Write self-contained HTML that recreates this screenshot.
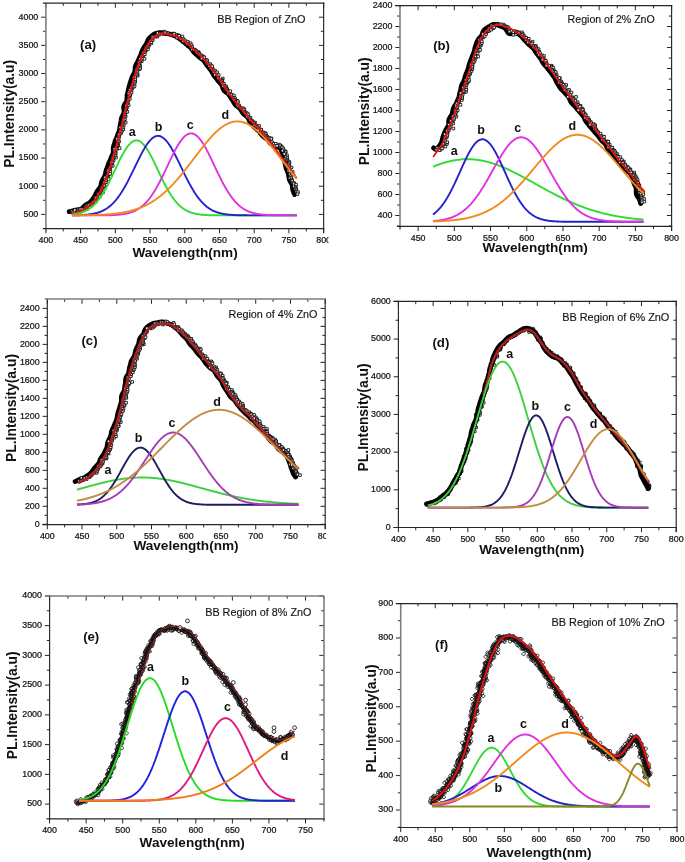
<!DOCTYPE html>
<html><head><meta charset="utf-8"><title>PL spectra</title>
<style>html,body{margin:0;padding:0;background:#fff;width:685px;height:862px;overflow:hidden}svg{display:block;will-change:transform;filter:blur(0.3px)}text{font-family:"Liberation Sans",sans-serif}</style>
</head><body>
<svg width="685" height="862" viewBox="0 0 685 862" font-family='"Liberation Sans", sans-serif'><rect width="685" height="862" fill="#fff"/><defs><clipPath id="ca"><rect x="0" y="0" width="328.5" height="290"/></clipPath><clipPath id="cc"><rect x="0" y="290" width="326.0" height="290"/></clipPath></defs><g clip-path="url(#ca)"><text x="45.90" y="243.25" font-size="8.90" font-weight="normal" text-anchor="middle" fill="#111" stroke="#111" stroke-width="0.22">400</text><text x="80.62" y="243.25" font-size="8.90" font-weight="normal" text-anchor="middle" fill="#111" stroke="#111" stroke-width="0.22">450</text><text x="115.34" y="243.25" font-size="8.90" font-weight="normal" text-anchor="middle" fill="#111" stroke="#111" stroke-width="0.22">500</text><text x="150.06" y="243.25" font-size="8.90" font-weight="normal" text-anchor="middle" fill="#111" stroke="#111" stroke-width="0.22">550</text><text x="184.78" y="243.25" font-size="8.90" font-weight="normal" text-anchor="middle" fill="#111" stroke="#111" stroke-width="0.22">600</text><text x="219.49" y="243.25" font-size="8.90" font-weight="normal" text-anchor="middle" fill="#111" stroke="#111" stroke-width="0.22">650</text><text x="254.21" y="243.25" font-size="8.90" font-weight="normal" text-anchor="middle" fill="#111" stroke="#111" stroke-width="0.22">700</text><text x="288.93" y="243.25" font-size="8.90" font-weight="normal" text-anchor="middle" fill="#111" stroke="#111" stroke-width="0.22">750</text><text x="323.65" y="243.25" font-size="8.90" font-weight="normal" text-anchor="middle" fill="#111" stroke="#111" stroke-width="0.22">800</text><text x="38.30" y="216.70" font-size="8.90" font-weight="normal" text-anchor="end" fill="#111" stroke="#111" stroke-width="0.22">500</text><text x="38.30" y="188.53" font-size="8.90" font-weight="normal" text-anchor="end" fill="#111" stroke="#111" stroke-width="0.22">1000</text><text x="38.30" y="160.36" font-size="8.90" font-weight="normal" text-anchor="end" fill="#111" stroke="#111" stroke-width="0.22">1500</text><text x="38.30" y="132.19" font-size="8.90" font-weight="normal" text-anchor="end" fill="#111" stroke="#111" stroke-width="0.22">2000</text><text x="38.30" y="104.01" font-size="8.90" font-weight="normal" text-anchor="end" fill="#111" stroke="#111" stroke-width="0.22">2500</text><text x="38.30" y="75.84" font-size="8.90" font-weight="normal" text-anchor="end" fill="#111" stroke="#111" stroke-width="0.22">3000</text><text x="38.30" y="47.67" font-size="8.90" font-weight="normal" text-anchor="end" fill="#111" stroke="#111" stroke-width="0.22">3500</text><text x="38.30" y="19.50" font-size="8.90" font-weight="normal" text-anchor="end" fill="#111" stroke="#111" stroke-width="0.22">4000</text><path d="M45.90 228.65 V233.35 M45.90 3.10 V7.80 M80.62 228.65 V233.35 M80.62 3.10 V7.80 M115.34 228.65 V233.35 M115.34 3.10 V7.80 M150.06 228.65 V233.35 M150.06 3.10 V7.80 M184.78 228.65 V233.35 M184.78 3.10 V7.80 M219.49 228.65 V233.35 M219.49 3.10 V7.80 M254.21 228.65 V233.35 M254.21 3.10 V7.80 M288.93 228.65 V233.35 M288.93 3.10 V7.80 M323.65 228.65 V233.35 M323.65 3.10 V7.80 M63.26 228.65 V231.45 M63.26 3.10 V5.90 M97.98 228.65 V231.45 M97.98 3.10 V5.90 M132.70 228.65 V231.45 M132.70 3.10 V5.90 M167.42 228.65 V231.45 M167.42 3.10 V5.90 M202.13 228.65 V231.45 M202.13 3.10 V5.90 M236.85 228.65 V231.45 M236.85 3.10 V5.90 M271.57 228.65 V231.45 M271.57 3.10 V5.90 M306.29 228.65 V231.45 M306.29 3.10 V5.90 M45.90 214.40 H41.20 M323.65 214.40 H318.95 M45.90 186.23 H41.20 M323.65 186.23 H318.95 M45.90 158.06 H41.20 M323.65 158.06 H318.95 M45.90 129.89 H41.20 M323.65 129.89 H318.95 M45.90 101.71 H41.20 M323.65 101.71 H318.95 M45.90 73.54 H41.20 M323.65 73.54 H318.95 M45.90 45.37 H41.20 M323.65 45.37 H318.95 M45.90 17.20 H41.20 M323.65 17.20 H318.95 M45.90 200.31 H43.10 M323.65 200.31 H320.85 M45.90 172.14 H43.10 M323.65 172.14 H320.85 M45.90 143.97 H43.10 M323.65 143.97 H320.85 M45.90 115.80 H43.10 M323.65 115.80 H320.85 M45.90 87.63 H43.10 M323.65 87.63 H320.85 M45.90 59.46 H43.10 M323.65 59.46 H320.85 M45.90 31.29 H43.10 M323.65 31.29 H320.85 M45.90 228.49 H43.10 M323.65 228.49 H320.85" stroke="#262626" stroke-width="1" fill="none"/><path d="M45.90 3.10 V232.15" stroke="#7c7c7c" stroke-width="1.55" fill="none"/><path d="M323.65 3.10 V232.45" stroke="#262626" stroke-width="1.15" fill="none" stroke-linecap="square"/><path d="M43.40 3.10 H323.65" stroke="#262626" stroke-width="1.15" fill="none" stroke-linecap="square"/><path d="M43.40 228.65 H323.65" stroke="#262626" stroke-width="1.15" fill="none" stroke-linecap="square"/></g><path d="M69.2 211.7L70.2 211.5L71.2 211.2L72.2 211.0L73.1 210.7L74.1 210.5L75.0 210.2L76.0 210.0L77.0 209.9L78.0 209.8L79.0 209.6L80.0 209.4L80.9 209.0L81.8 208.5L82.6 207.8L83.3 207.1L84.0 206.4L84.7 205.7L85.5 205.0L86.3 204.5L87.2 204.0L88.1 203.5L89.0 203.1L89.8 202.5L90.6 201.9L91.2 201.1L91.9 200.3L92.5 199.5L93.0 198.7L93.6 197.9L94.2 197.1L94.7 196.2L95.2 195.3L95.6 194.4L96.0 193.5L96.4 192.6L96.9 191.7L97.4 190.9L98.0 190.1L98.7 189.3L99.3 188.5L99.8 187.7L100.3 186.8L100.7 185.9L101.0 184.9L101.2 183.9L101.4 182.9L101.6 181.9L102.0 181.0L102.4 180.1L102.9 179.2L103.4 178.4L104.0 177.5L104.4 176.6L104.9 175.7L105.2 174.8L105.4 173.8L105.6 172.8L105.8 171.8L106.0 170.8L106.3 169.9L106.7 168.9L107.0 168.0L107.3 167.0L107.7 166.1L108.0 165.2L108.3 164.2L108.7 163.3L109.1 162.4L109.5 161.5L110.0 160.6L110.4 159.6L110.7 158.7L111.1 157.8L111.5 156.8L111.9 155.9L112.4 155.0L112.8 154.1L113.1 153.1L113.3 152.1L113.3 151.1L113.3 150.1L113.2 149.0L113.3 148.0L113.4 147.0L113.7 146.0L114.0 145.1L114.3 144.1L114.6 143.2L114.9 142.2L115.1 141.3L115.4 140.3L115.8 139.4L116.3 138.5L116.7 137.5L117.1 136.6L117.4 135.6L117.7 134.7L118.0 133.8L118.4 132.8L118.8 131.9L119.2 130.9L119.5 130.0L119.7 129.0L119.8 128.0L119.9 127.0L120.0 126.0L120.2 125.0L120.4 124.0L120.6 123.0L120.8 122.1L121.0 121.1L121.1 120.1L121.3 119.1L121.5 118.1L121.8 117.2L122.3 116.2L122.7 115.3L123.2 114.4L123.6 113.5L124.0 112.5L124.1 111.5L124.0 110.5L123.9 109.4L123.7 108.4L123.7 107.3L123.8 106.3L124.1 105.4L124.6 104.5L125.2 103.6L125.8 102.7L126.3 101.8L126.7 100.9L126.9 99.9L126.9 98.9L127.0 97.8L127.0 96.8L127.0 95.8L127.2 94.8L127.5 93.8L127.7 92.9L127.9 91.9L128.1 90.9L128.3 89.9L128.5 88.9L128.8 88.0L129.0 87.0L129.3 86.0L129.5 85.1L129.8 84.1L130.1 83.1L130.4 82.2L130.7 81.2L131.0 80.3L131.4 79.4L131.7 78.4L132.0 77.5L132.4 76.5L132.8 75.6L133.3 74.7L133.8 73.8L134.3 72.9L134.7 72.0L134.9 71.0L135.0 70.0L135.1 69.0L135.1 67.9L135.2 66.9L135.5 65.9L135.9 65.0L136.3 64.1L136.8 63.2L137.3 62.3L137.8 61.5L138.2 60.5L138.6 59.6L139.0 58.7L139.4 57.8L139.8 56.9L140.2 56.0L140.6 55.1L141.0 54.1L141.3 53.2L141.7 52.2L142.0 51.3L142.4 50.3L142.8 49.4L143.3 48.6L143.8 47.7L144.3 46.9L144.9 46.0L145.5 45.2L146.0 44.4L146.5 43.5L146.9 42.5L147.3 41.6L147.7 40.6L148.1 39.7L148.7 38.9L149.4 38.1L150.1 37.3L150.9 36.6L151.7 36.0L152.5 35.3L153.3 34.7L154.2 34.2L155.2 33.7L156.2 33.3L157.2 33.1L158.2 32.8L159.2 32.7L160.2 32.6L161.3 32.7L162.3 32.9L163.3 33.1L164.3 33.3L165.2 33.5L166.2 33.6L167.2 33.7L168.2 33.8L169.2 34.0L170.2 34.2L171.1 34.5L172.1 34.8L173.0 35.2L174.0 35.5L174.9 35.9L175.8 36.3L176.7 36.8L177.6 37.3L178.4 37.9L179.2 38.5L180.0 39.1L180.8 39.7L181.5 40.4L182.3 41.0L183.1 41.6L183.9 42.2L184.7 42.8L185.5 43.5L186.2 44.1L187.0 44.8L187.7 45.4L188.5 46.1L189.3 46.7L190.0 47.3L190.8 48.0L191.5 48.8L192.1 49.6L192.6 50.4L193.2 51.3L193.8 52.1L194.5 52.8L195.2 53.5L196.0 54.2L196.7 54.8L197.5 55.5L198.2 56.2L198.9 56.9L199.7 57.5L200.5 58.1L201.3 58.7L202.2 59.3L203.0 59.9L203.7 60.6L204.3 61.4L204.9 62.2L205.4 63.1L206.0 63.9L206.5 64.8L207.1 65.6L207.8 66.3L208.4 67.1L209.0 67.9L209.6 68.7L210.3 69.5L210.9 70.3L211.4 71.1L211.9 72.0L212.4 72.8L212.9 73.7L213.4 74.6L213.9 75.5L214.5 76.2L215.1 77.0L215.8 77.8L216.4 78.6L217.0 79.4L217.6 80.2L218.2 81.0L218.8 81.8L219.6 82.5L220.3 83.2L220.9 84.0L221.6 84.8L222.0 85.6L222.4 86.6L222.7 87.6L223.0 88.6L223.4 89.5L223.9 90.4L224.6 91.2L225.4 91.8L226.3 92.4L227.2 93.0L228.0 93.6L228.7 94.4L229.3 95.2L229.8 96.0L230.3 96.9L230.8 97.8L231.3 98.6L231.9 99.5L232.5 100.3L233.0 101.1L233.5 102.0L234.0 102.9L234.6 103.7L235.1 104.5L235.8 105.3L236.6 105.9L237.5 106.5L238.3 107.1L239.1 107.8L239.8 108.5L240.4 109.3L241.0 110.1L241.5 111.0L242.0 111.8L242.6 112.7L243.2 113.4L243.9 114.2L244.7 114.8L245.5 115.5L246.3 116.1L247.0 116.8L247.7 117.5L248.3 118.4L248.7 119.3L249.1 120.2L249.5 121.2L250.0 122.1L250.6 122.9L251.3 123.7L252.0 124.4L252.6 125.2L253.3 125.9L253.9 126.7L254.6 127.4L255.3 128.1L256.1 128.8L256.8 129.4L257.6 130.1L258.3 130.8L259.1 131.5L259.7 132.2L260.3 133.0L260.9 133.8L261.5 134.6L262.2 135.4L262.8 136.2L263.6 136.8L264.4 137.4L265.2 138.0L266.1 138.6L266.9 139.2L267.7 139.8L268.3 140.6L268.9 141.4L269.6 142.2L270.2 143.0L270.9 143.7L271.7 144.3L272.6 144.9L273.5 145.3L274.4 145.7L275.3 146.1L276.2 146.6L277.2 147.0L278.1 147.2L279.1 147.4L279.8 148.0L280.4 148.8L280.9 149.6L281.3 150.5L281.7 151.5L282.1 152.4L282.5 153.3L282.9 154.2L283.3 155.1L283.6 156.1L283.8 157.0L284.0 158.0L284.2 159.0L284.3 160.0L284.5 161.0L284.7 162.0L285.0 163.0L285.2 163.9L285.4 164.9L285.6 165.9L285.8 166.9L286.0 167.8L286.3 168.8L286.7 169.7L287.1 170.6L287.5 171.6L287.9 172.5L288.2 173.5L288.4 174.5L288.6 175.4L288.7 176.4L288.9 177.4L289.1 178.4L289.3 179.4L289.6 180.3L290.1 181.3L290.6 182.1L291.2 183.0L291.7 183.9L292.1 184.8L292.3 185.8L292.5 186.8L292.5 187.8L292.6 188.8L292.8 189.8L293.1 190.8L293.5 191.7L293.8 192.7L294.2 193.6L294.6 194.5" stroke="#000" stroke-width="4.80" fill="none" stroke-linejoin="round" stroke-linecap="round"/><g stroke="#000" stroke-width="0.80" fill="#fff"><path d="M70.6 211.1h2.6v2.6h-2.6z"/><path d="M70.5 209.9h2.6v2.6h-2.6z"/><path d="M71.7 210.8h2.6v2.6h-2.6z"/><path d="M72.9 210.2h2.6v2.6h-2.6z"/><path d="M73.5 208.7h2.6v2.6h-2.6z"/><path d="M76.0 211.1h2.6v2.6h-2.6z"/><path d="M76.3 210.1h2.6v2.6h-2.6z"/><path d="M76.9 208.3h2.6v2.6h-2.6z"/><path d="M78.0 209.1h2.6v2.6h-2.6z"/><path d="M78.9 208.5h2.6v2.6h-2.6z"/><path d="M79.1 207.7h2.6v2.6h-2.6z"/><path d="M81.0 207.7h2.6v2.6h-2.6z"/><path d="M82.9 208.6h2.6v2.6h-2.6z"/><path d="M83.5 206.3h2.6v2.6h-2.6z"/><path d="M85.5 207.8h2.6v2.6h-2.6z"/><path d="M84.2 205.2h2.6v2.6h-2.6z"/><path d="M85.2 205.8h2.6v2.6h-2.6z"/><path d="M86.3 205.2h2.6v2.6h-2.6z"/><path d="M86.1 203.9h2.6v2.6h-2.6z"/><path d="M87.4 203.8h2.6v2.6h-2.6z"/><path d="M90.3 204.1h2.6v2.6h-2.6z"/><path d="M89.4 202.6h2.6v2.6h-2.6z"/><path d="M91.2 202.2h2.6v2.6h-2.6z"/><path d="M91.4 201.4h2.6v2.6h-2.6z"/><path d="M91.9 200.5h2.6v2.6h-2.6z"/><path d="M93.6 199.6h2.6v2.6h-2.6z"/><path d="M94.9 200.0h2.6v2.6h-2.6z"/><path d="M94.4 198.0h2.6v2.6h-2.6z"/><path d="M93.8 196.4h2.6v2.6h-2.6z"/><path d="M94.4 196.3h2.6v2.6h-2.6z"/><path d="M96.5 196.6h2.6v2.6h-2.6z"/><path d="M97.0 195.5h2.6v2.6h-2.6z"/><path d="M98.6 195.0h2.6v2.6h-2.6z"/><path d="M96.5 192.5h2.6v2.6h-2.6z"/><path d="M97.8 192.2h2.6v2.6h-2.6z"/><path d="M98.3 192.0h2.6v2.6h-2.6z"/><path d="M100.1 190.8h2.6v2.6h-2.6z"/><path d="M101.7 191.1h2.6v2.6h-2.6z"/><path d="M100.0 189.2h2.6v2.6h-2.6z"/><path d="M99.6 187.8h2.6v2.6h-2.6z"/><path d="M100.7 186.8h2.6v2.6h-2.6z"/><path d="M100.7 186.2h2.6v2.6h-2.6z"/><path d="M103.7 186.2h2.6v2.6h-2.6z"/><path d="M103.4 184.8h2.6v2.6h-2.6z"/><path d="M102.8 184.2h2.6v2.6h-2.6z"/><path d="M105.3 183.2h2.6v2.6h-2.6z"/><path d="M102.5 180.9h2.6v2.6h-2.6z"/><path d="M104.0 181.0h2.6v2.6h-2.6z"/><path d="M104.5 180.8h2.6v2.6h-2.6z"/><path d="M105.0 178.9h2.6v2.6h-2.6z"/><path d="M103.6 177.5h2.6v2.6h-2.6z"/><path d="M107.3 177.7h2.6v2.6h-2.6z"/><path d="M103.9 176.0h2.6v2.6h-2.6z"/><path d="M106.6 175.0h2.6v2.6h-2.6z"/><path d="M105.8 174.5h2.6v2.6h-2.6z"/><path d="M106.9 173.7h2.6v2.6h-2.6z"/><path d="M107.9 172.9h2.6v2.6h-2.6z"/><path d="M108.9 172.5h2.6v2.6h-2.6z"/><path d="M106.4 170.2h2.6v2.6h-2.6z"/><path d="M109.1 169.6h2.6v2.6h-2.6z"/><path d="M106.9 169.0h2.6v2.6h-2.6z"/><path d="M108.3 167.9h2.6v2.6h-2.6z"/><path d="M108.6 166.9h2.6v2.6h-2.6z"/><path d="M108.7 165.9h2.6v2.6h-2.6z"/><path d="M110.0 165.1h2.6v2.6h-2.6z"/><path d="M111.4 164.3h2.6v2.6h-2.6z"/><path d="M110.3 162.7h2.6v2.6h-2.6z"/><path d="M110.6 162.0h2.6v2.6h-2.6z"/><path d="M109.9 160.9h2.6v2.6h-2.6z"/><path d="M111.3 160.7h2.6v2.6h-2.6z"/><path d="M112.3 159.0h2.6v2.6h-2.6z"/><path d="M110.7 158.4h2.6v2.6h-2.6z"/><path d="M111.7 157.5h2.6v2.6h-2.6z"/><path d="M111.3 156.1h2.6v2.6h-2.6z"/><path d="M114.7 156.2h2.6v2.6h-2.6z"/><path d="M112.9 154.9h2.6v2.6h-2.6z"/><path d="M114.2 154.0h2.6v2.6h-2.6z"/><path d="M112.7 153.0h2.6v2.6h-2.6z"/><path d="M114.5 151.8h2.6v2.6h-2.6z"/><path d="M114.0 150.8h2.6v2.6h-2.6z"/><path d="M113.1 149.4h2.6v2.6h-2.6z"/><path d="M115.3 148.3h2.6v2.6h-2.6z"/><path d="M113.1 147.4h2.6v2.6h-2.6z"/><path d="M115.3 146.8h2.6v2.6h-2.6z"/><path d="M118.3 146.9h2.6v2.6h-2.6z"/><path d="M115.8 144.9h2.6v2.6h-2.6z"/><path d="M116.8 143.9h2.6v2.6h-2.6z"/><path d="M116.5 143.5h2.6v2.6h-2.6z"/><path d="M116.0 142.5h2.6v2.6h-2.6z"/><path d="M116.5 141.1h2.6v2.6h-2.6z"/><path d="M117.8 140.1h2.6v2.6h-2.6z"/><path d="M116.5 139.6h2.6v2.6h-2.6z"/><path d="M115.7 138.3h2.6v2.6h-2.6z"/><path d="M115.8 137.3h2.6v2.6h-2.6z"/><path d="M117.6 136.5h2.6v2.6h-2.6z"/><path d="M118.0 134.9h2.6v2.6h-2.6z"/><path d="M117.2 133.8h2.6v2.6h-2.6z"/><path d="M117.7 133.0h2.6v2.6h-2.6z"/><path d="M119.5 132.1h2.6v2.6h-2.6z"/><path d="M120.0 131.2h2.6v2.6h-2.6z"/><path d="M119.0 129.9h2.6v2.6h-2.6z"/><path d="M120.6 129.5h2.6v2.6h-2.6z"/><path d="M121.6 128.2h2.6v2.6h-2.6z"/><path d="M122.0 127.7h2.6v2.6h-2.6z"/><path d="M119.0 126.2h2.6v2.6h-2.6z"/><path d="M121.5 126.1h2.6v2.6h-2.6z"/><path d="M120.9 124.5h2.6v2.6h-2.6z"/><path d="M122.5 123.8h2.6v2.6h-2.6z"/><path d="M121.1 123.0h2.6v2.6h-2.6z"/><path d="M121.5 121.4h2.6v2.6h-2.6z"/><path d="M124.4 121.2h2.6v2.6h-2.6z"/><path d="M122.7 119.7h2.6v2.6h-2.6z"/><path d="M121.7 118.7h2.6v2.6h-2.6z"/><path d="M123.2 118.5h2.6v2.6h-2.6z"/><path d="M123.6 117.6h2.6v2.6h-2.6z"/><path d="M122.8 115.7h2.6v2.6h-2.6z"/><path d="M124.4 115.1h2.6v2.6h-2.6z"/><path d="M123.2 114.0h2.6v2.6h-2.6z"/><path d="M123.8 113.0h2.6v2.6h-2.6z"/><path d="M123.3 111.5h2.6v2.6h-2.6z"/><path d="M124.6 111.0h2.6v2.6h-2.6z"/><path d="M126.0 110.4h2.6v2.6h-2.6z"/><path d="M124.5 108.8h2.6v2.6h-2.6z"/><path d="M124.9 107.4h2.6v2.6h-2.6z"/><path d="M124.3 107.4h2.6v2.6h-2.6z"/><path d="M125.7 106.0h2.6v2.6h-2.6z"/><path d="M125.1 105.2h2.6v2.6h-2.6z"/><path d="M124.9 104.2h2.6v2.6h-2.6z"/><path d="M127.3 103.8h2.6v2.6h-2.6z"/><path d="M125.9 102.2h2.6v2.6h-2.6z"/><path d="M126.2 101.2h2.6v2.6h-2.6z"/><path d="M126.6 100.8h2.6v2.6h-2.6z"/><path d="M126.9 99.3h2.6v2.6h-2.6z"/><path d="M127.4 97.8h2.6v2.6h-2.6z"/><path d="M128.5 97.6h2.6v2.6h-2.6z"/><path d="M127.5 95.7h2.6v2.6h-2.6z"/><path d="M127.5 95.3h2.6v2.6h-2.6z"/><path d="M128.8 94.1h2.6v2.6h-2.6z"/><path d="M128.9 93.4h2.6v2.6h-2.6z"/><path d="M127.2 92.3h2.6v2.6h-2.6z"/><path d="M130.1 91.3h2.6v2.6h-2.6z"/><path d="M128.0 90.2h2.6v2.6h-2.6z"/><path d="M130.3 89.2h2.6v2.6h-2.6z"/><path d="M128.7 88.4h2.6v2.6h-2.6z"/><path d="M130.5 87.4h2.6v2.6h-2.6z"/><path d="M129.9 86.5h2.6v2.6h-2.6z"/><path d="M131.7 85.5h2.6v2.6h-2.6z"/><path d="M132.7 85.4h2.6v2.6h-2.6z"/><path d="M133.3 84.6h2.6v2.6h-2.6z"/><path d="M131.9 82.8h2.6v2.6h-2.6z"/><path d="M132.0 82.2h2.6v2.6h-2.6z"/><path d="M133.4 81.6h2.6v2.6h-2.6z"/><path d="M133.9 80.2h2.6v2.6h-2.6z"/><path d="M133.8 79.3h2.6v2.6h-2.6z"/><path d="M133.5 77.7h2.6v2.6h-2.6z"/><path d="M134.0 77.7h2.6v2.6h-2.6z"/><path d="M132.4 75.9h2.6v2.6h-2.6z"/><path d="M133.9 75.7h2.6v2.6h-2.6z"/><path d="M136.5 74.3h2.6v2.6h-2.6z"/><path d="M135.8 73.6h2.6v2.6h-2.6z"/><path d="M135.2 72.5h2.6v2.6h-2.6z"/><path d="M136.2 71.4h2.6v2.6h-2.6z"/><path d="M134.6 69.9h2.6v2.6h-2.6z"/><path d="M135.6 70.1h2.6v2.6h-2.6z"/><path d="M135.2 68.2h2.6v2.6h-2.6z"/><path d="M138.3 67.9h2.6v2.6h-2.6z"/><path d="M136.5 66.6h2.6v2.6h-2.6z"/><path d="M138.9 66.6h2.6v2.6h-2.6z"/><path d="M138.9 64.7h2.6v2.6h-2.6z"/><path d="M138.1 63.7h2.6v2.6h-2.6z"/><path d="M137.7 62.5h2.6v2.6h-2.6z"/><path d="M138.5 61.2h2.6v2.6h-2.6z"/><path d="M137.7 61.0h2.6v2.6h-2.6z"/><path d="M140.5 59.9h2.6v2.6h-2.6z"/><path d="M139.4 58.9h2.6v2.6h-2.6z"/><path d="M138.6 57.7h2.6v2.6h-2.6z"/><path d="M140.7 57.2h2.6v2.6h-2.6z"/><path d="M143.2 57.5h2.6v2.6h-2.6z"/><path d="M140.0 54.9h2.6v2.6h-2.6z"/><path d="M141.2 54.2h2.6v2.6h-2.6z"/><path d="M142.1 54.1h2.6v2.6h-2.6z"/><path d="M143.5 52.9h2.6v2.6h-2.6z"/><path d="M141.7 51.3h2.6v2.6h-2.6z"/><path d="M142.6 50.9h2.6v2.6h-2.6z"/><path d="M144.0 50.3h2.6v2.6h-2.6z"/><path d="M144.8 48.8h2.6v2.6h-2.6z"/><path d="M144.2 48.1h2.6v2.6h-2.6z"/><path d="M146.6 48.0h2.6v2.6h-2.6z"/><path d="M144.4 46.7h2.6v2.6h-2.6z"/><path d="M146.7 45.5h2.6v2.6h-2.6z"/><path d="M146.1 45.1h2.6v2.6h-2.6z"/><path d="M147.7 44.2h2.6v2.6h-2.6z"/><path d="M147.0 43.0h2.6v2.6h-2.6z"/><path d="M147.9 42.3h2.6v2.6h-2.6z"/><path d="M149.8 42.2h2.6v2.6h-2.6z"/><path d="M148.6 40.3h2.6v2.6h-2.6z"/><path d="M150.1 40.9h2.6v2.6h-2.6z"/><path d="M150.8 38.9h2.6v2.6h-2.6z"/><path d="M151.5 38.5h2.6v2.6h-2.6z"/><path d="M150.9 37.2h2.6v2.6h-2.6z"/><path d="M151.2 35.6h2.6v2.6h-2.6z"/><path d="M153.1 35.3h2.6v2.6h-2.6z"/><path d="M154.6 35.2h2.6v2.6h-2.6z"/><path d="M155.9 35.3h2.6v2.6h-2.6z"/><path d="M156.4 34.3h2.6v2.6h-2.6z"/><path d="M155.9 33.6h2.6v2.6h-2.6z"/><path d="M156.3 31.7h2.6v2.6h-2.6z"/><path d="M158.3 33.1h2.6v2.6h-2.6z"/><path d="M158.5 32.3h2.6v2.6h-2.6z"/><path d="M160.3 32.0h2.6v2.6h-2.6z"/><path d="M160.9 32.0h2.6v2.6h-2.6z"/><path d="M162.8 30.3h2.6v2.6h-2.6z"/><path d="M162.1 32.2h2.6v2.6h-2.6z"/><path d="M163.3 31.6h2.6v2.6h-2.6z"/><path d="M164.1 31.1h2.6v2.6h-2.6z"/><path d="M166.2 32.2h2.6v2.6h-2.6z"/><path d="M166.0 32.8h2.6v2.6h-2.6z"/><path d="M166.8 32.2h2.6v2.6h-2.6z"/><path d="M169.6 33.3h2.6v2.6h-2.6z"/><path d="M170.2 33.2h2.6v2.6h-2.6z"/><path d="M169.8 33.7h2.6v2.6h-2.6z"/><path d="M172.3 32.2h2.6v2.6h-2.6z"/><path d="M172.4 32.8h2.6v2.6h-2.6z"/><path d="M173.0 32.5h2.6v2.6h-2.6z"/><path d="M175.6 33.5h2.6v2.6h-2.6z"/><path d="M176.2 34.8h2.6v2.6h-2.6z"/><path d="M177.4 34.0h2.6v2.6h-2.6z"/><path d="M175.6 36.3h2.6v2.6h-2.6z"/><path d="M177.9 34.5h2.6v2.6h-2.6z"/><path d="M179.3 36.9h2.6v2.6h-2.6z"/><path d="M181.1 35.2h2.6v2.6h-2.6z"/><path d="M179.2 37.5h2.6v2.6h-2.6z"/><path d="M181.8 38.6h2.6v2.6h-2.6z"/><path d="M182.1 37.9h2.6v2.6h-2.6z"/><path d="M181.9 40.0h2.6v2.6h-2.6z"/><path d="M183.7 39.1h2.6v2.6h-2.6z"/><path d="M184.8 41.4h2.6v2.6h-2.6z"/><path d="M186.5 40.4h2.6v2.6h-2.6z"/><path d="M187.2 42.1h2.6v2.6h-2.6z"/><path d="M186.0 42.6h2.6v2.6h-2.6z"/><path d="M189.3 41.9h2.6v2.6h-2.6z"/><path d="M188.9 44.1h2.6v2.6h-2.6z"/><path d="M189.0 44.5h2.6v2.6h-2.6z"/><path d="M190.3 43.9h2.6v2.6h-2.6z"/><path d="M189.8 45.9h2.6v2.6h-2.6z"/><path d="M190.9 45.6h2.6v2.6h-2.6z"/><path d="M190.9 48.2h2.6v2.6h-2.6z"/><path d="M193.5 48.3h2.6v2.6h-2.6z"/><path d="M192.5 48.3h2.6v2.6h-2.6z"/><path d="M194.5 49.2h2.6v2.6h-2.6z"/><path d="M195.2 50.0h2.6v2.6h-2.6z"/><path d="M195.7 51.4h2.6v2.6h-2.6z"/><path d="M197.3 50.8h2.6v2.6h-2.6z"/><path d="M197.5 51.5h2.6v2.6h-2.6z"/><path d="M197.2 52.2h2.6v2.6h-2.6z"/><path d="M198.1 53.2h2.6v2.6h-2.6z"/><path d="M199.4 54.0h2.6v2.6h-2.6z"/><path d="M200.2 54.1h2.6v2.6h-2.6z"/><path d="M201.6 55.2h2.6v2.6h-2.6z"/><path d="M202.1 55.6h2.6v2.6h-2.6z"/><path d="M200.3 57.2h2.6v2.6h-2.6z"/><path d="M203.0 56.1h2.6v2.6h-2.6z"/><path d="M203.8 58.7h2.6v2.6h-2.6z"/><path d="M205.2 58.7h2.6v2.6h-2.6z"/><path d="M206.0 59.2h2.6v2.6h-2.6z"/><path d="M204.7 61.4h2.6v2.6h-2.6z"/><path d="M205.2 60.9h2.6v2.6h-2.6z"/><path d="M205.7 62.5h2.6v2.6h-2.6z"/><path d="M206.5 62.3h2.6v2.6h-2.6z"/><path d="M208.9 62.8h2.6v2.6h-2.6z"/><path d="M209.6 64.1h2.6v2.6h-2.6z"/><path d="M207.9 64.9h2.6v2.6h-2.6z"/><path d="M210.9 64.9h2.6v2.6h-2.6z"/><path d="M209.3 67.1h2.6v2.6h-2.6z"/><path d="M211.2 67.5h2.6v2.6h-2.6z"/><path d="M211.1 68.4h2.6v2.6h-2.6z"/><path d="M213.7 69.1h2.6v2.6h-2.6z"/><path d="M212.2 69.8h2.6v2.6h-2.6z"/><path d="M212.5 70.9h2.6v2.6h-2.6z"/><path d="M214.5 71.3h2.6v2.6h-2.6z"/><path d="M215.8 71.0h2.6v2.6h-2.6z"/><path d="M213.5 73.5h2.6v2.6h-2.6z"/><path d="M215.9 73.2h2.6v2.6h-2.6z"/><path d="M217.4 73.8h2.6v2.6h-2.6z"/><path d="M216.9 76.0h2.6v2.6h-2.6z"/><path d="M216.4 76.5h2.6v2.6h-2.6z"/><path d="M217.0 77.1h2.6v2.6h-2.6z"/><path d="M221.5 77.2h2.6v2.6h-2.6z"/><path d="M220.7 78.4h2.6v2.6h-2.6z"/><path d="M220.9 79.6h2.6v2.6h-2.6z"/><path d="M221.0 80.2h2.6v2.6h-2.6z"/><path d="M221.2 81.3h2.6v2.6h-2.6z"/><path d="M220.8 82.0h2.6v2.6h-2.6z"/><path d="M222.6 82.5h2.6v2.6h-2.6z"/><path d="M222.9 84.3h2.6v2.6h-2.6z"/><path d="M221.8 84.8h2.6v2.6h-2.6z"/><path d="M224.7 85.0h2.6v2.6h-2.6z"/><path d="M224.8 86.1h2.6v2.6h-2.6z"/><path d="M225.2 86.8h2.6v2.6h-2.6z"/><path d="M225.8 87.7h2.6v2.6h-2.6z"/><path d="M225.6 88.3h2.6v2.6h-2.6z"/><path d="M226.4 89.3h2.6v2.6h-2.6z"/><path d="M227.1 90.0h2.6v2.6h-2.6z"/><path d="M228.9 89.9h2.6v2.6h-2.6z"/><path d="M227.0 92.2h2.6v2.6h-2.6z"/><path d="M228.6 92.6h2.6v2.6h-2.6z"/><path d="M230.4 93.6h2.6v2.6h-2.6z"/><path d="M230.5 93.7h2.6v2.6h-2.6z"/><path d="M232.6 94.2h2.6v2.6h-2.6z"/><path d="M232.3 96.4h2.6v2.6h-2.6z"/><path d="M231.5 97.1h2.6v2.6h-2.6z"/><path d="M233.8 97.0h2.6v2.6h-2.6z"/><path d="M233.7 98.9h2.6v2.6h-2.6z"/><path d="M233.1 98.7h2.6v2.6h-2.6z"/><path d="M235.5 99.6h2.6v2.6h-2.6z"/><path d="M236.3 100.0h2.6v2.6h-2.6z"/><path d="M236.5 100.0h2.6v2.6h-2.6z"/><path d="M236.4 102.0h2.6v2.6h-2.6z"/><path d="M235.8 103.7h2.6v2.6h-2.6z"/><path d="M238.0 104.2h2.6v2.6h-2.6z"/><path d="M236.8 105.0h2.6v2.6h-2.6z"/><path d="M238.3 105.9h2.6v2.6h-2.6z"/><path d="M239.2 106.9h2.6v2.6h-2.6z"/><path d="M239.8 106.9h2.6v2.6h-2.6z"/><path d="M242.0 107.0h2.6v2.6h-2.6z"/><path d="M243.1 108.1h2.6v2.6h-2.6z"/><path d="M242.6 108.2h2.6v2.6h-2.6z"/><path d="M242.5 110.1h2.6v2.6h-2.6z"/><path d="M243.5 111.3h2.6v2.6h-2.6z"/><path d="M244.7 111.2h2.6v2.6h-2.6z"/><path d="M243.6 111.8h2.6v2.6h-2.6z"/><path d="M245.6 112.9h2.6v2.6h-2.6z"/><path d="M246.4 112.3h2.6v2.6h-2.6z"/><path d="M247.1 113.9h2.6v2.6h-2.6z"/><path d="M245.8 115.6h2.6v2.6h-2.6z"/><path d="M247.3 116.1h2.6v2.6h-2.6z"/><path d="M249.2 116.4h2.6v2.6h-2.6z"/><path d="M248.5 117.8h2.6v2.6h-2.6z"/><path d="M248.8 118.5h2.6v2.6h-2.6z"/><path d="M251.0 119.7h2.6v2.6h-2.6z"/><path d="M250.3 119.7h2.6v2.6h-2.6z"/><path d="M251.6 120.7h2.6v2.6h-2.6z"/><path d="M253.8 121.3h2.6v2.6h-2.6z"/><path d="M252.9 122.1h2.6v2.6h-2.6z"/><path d="M252.8 123.3h2.6v2.6h-2.6z"/><path d="M253.1 124.1h2.6v2.6h-2.6z"/><path d="M255.4 124.7h2.6v2.6h-2.6z"/><path d="M255.0 125.2h2.6v2.6h-2.6z"/><path d="M258.0 124.7h2.6v2.6h-2.6z"/><path d="M256.7 126.3h2.6v2.6h-2.6z"/><path d="M257.4 128.5h2.6v2.6h-2.6z"/><path d="M257.0 128.6h2.6v2.6h-2.6z"/><path d="M259.9 128.6h2.6v2.6h-2.6z"/><path d="M259.9 128.3h2.6v2.6h-2.6z"/><path d="M260.2 130.3h2.6v2.6h-2.6z"/><path d="M261.7 131.3h2.6v2.6h-2.6z"/><path d="M262.3 131.3h2.6v2.6h-2.6z"/><path d="M263.9 131.8h2.6v2.6h-2.6z"/><path d="M264.6 132.6h2.6v2.6h-2.6z"/><path d="M264.2 134.0h2.6v2.6h-2.6z"/><path d="M265.4 134.8h2.6v2.6h-2.6z"/><path d="M265.7 135.4h2.6v2.6h-2.6z"/><path d="M265.2 136.6h2.6v2.6h-2.6z"/><path d="M267.5 136.4h2.6v2.6h-2.6z"/><path d="M268.3 136.9h2.6v2.6h-2.6z"/><path d="M270.1 137.1h2.6v2.6h-2.6z"/><path d="M270.0 137.7h2.6v2.6h-2.6z"/><path d="M268.6 139.9h2.6v2.6h-2.6z"/><path d="M268.4 140.8h2.6v2.6h-2.6z"/><path d="M269.6 141.9h2.6v2.6h-2.6z"/><path d="M270.8 140.9h2.6v2.6h-2.6z"/><path d="M272.8 142.6h2.6v2.6h-2.6z"/><path d="M272.6 142.5h2.6v2.6h-2.6z"/><path d="M274.5 142.5h2.6v2.6h-2.6z"/><path d="M273.8 144.8h2.6v2.6h-2.6z"/><path d="M277.7 143.3h2.6v2.6h-2.6z"/><path d="M275.8 144.6h2.6v2.6h-2.6z"/><path d="M278.5 145.7h2.6v2.6h-2.6z"/><path d="M279.4 144.4h2.6v2.6h-2.6z"/><path d="M279.0 144.2h2.6v2.6h-2.6z"/><path d="M280.2 145.9h2.6v2.6h-2.6z"/><path d="M280.7 146.0h2.6v2.6h-2.6z"/><path d="M281.9 147.1h2.6v2.6h-2.6z"/><path d="M282.5 148.9h2.6v2.6h-2.6z"/><path d="M281.2 149.4h2.6v2.6h-2.6z"/><path d="M284.0 150.1h2.6v2.6h-2.6z"/><path d="M284.5 150.5h2.6v2.6h-2.6z"/><path d="M284.0 151.9h2.6v2.6h-2.6z"/><path d="M283.0 152.7h2.6v2.6h-2.6z"/><path d="M285.8 154.2h2.6v2.6h-2.6z"/><path d="M284.1 155.4h2.6v2.6h-2.6z"/><path d="M284.5 155.8h2.6v2.6h-2.6z"/><path d="M285.9 156.9h2.6v2.6h-2.6z"/><path d="M284.2 157.8h2.6v2.6h-2.6z"/><path d="M285.6 158.7h2.6v2.6h-2.6z"/><path d="M286.4 159.6h2.6v2.6h-2.6z"/><path d="M287.5 160.3h2.6v2.6h-2.6z"/><path d="M288.1 161.1h2.6v2.6h-2.6z"/><path d="M288.0 162.1h2.6v2.6h-2.6z"/><path d="M287.1 163.2h2.6v2.6h-2.6z"/><path d="M286.8 165.0h2.6v2.6h-2.6z"/><path d="M288.0 165.2h2.6v2.6h-2.6z"/><path d="M290.2 166.2h2.6v2.6h-2.6z"/><path d="M288.4 167.1h2.6v2.6h-2.6z"/><path d="M288.3 168.8h2.6v2.6h-2.6z"/><path d="M287.0 169.5h2.6v2.6h-2.6z"/><path d="M288.2 170.3h2.6v2.6h-2.6z"/><path d="M291.4 170.7h2.6v2.6h-2.6z"/><path d="M289.9 172.6h2.6v2.6h-2.6z"/><path d="M288.4 173.0h2.6v2.6h-2.6z"/><path d="M290.2 173.8h2.6v2.6h-2.6z"/><path d="M289.2 175.0h2.6v2.6h-2.6z"/><path d="M288.4 176.9h2.6v2.6h-2.6z"/><path d="M290.1 176.9h2.6v2.6h-2.6z"/><path d="M290.3 178.3h2.6v2.6h-2.6z"/><path d="M290.7 179.1h2.6v2.6h-2.6z"/><path d="M290.9 179.6h2.6v2.6h-2.6z"/><path d="M291.3 181.3h2.6v2.6h-2.6z"/><path d="M292.8 181.8h2.6v2.6h-2.6z"/><path d="M292.5 182.7h2.6v2.6h-2.6z"/><path d="M294.8 183.4h2.6v2.6h-2.6z"/><path d="M292.6 185.2h2.6v2.6h-2.6z"/><path d="M294.5 185.9h2.6v2.6h-2.6z"/><path d="M294.2 186.9h2.6v2.6h-2.6z"/><path d="M293.9 187.8h2.6v2.6h-2.6z"/><path d="M295.0 188.3h2.6v2.6h-2.6z"/><path d="M295.0 189.9h2.6v2.6h-2.6z"/><path d="M295.2 190.3h2.6v2.6h-2.6z"/><path d="M296.7 190.9h2.6v2.6h-2.6z"/><path d="M296.1 192.8h2.6v2.6h-2.6z"/></g><path d="M72.0 213.4L72.4 213.3L72.9 213.2L73.6 213.1L74.3 212.9L75.0 212.8L75.8 212.6L76.6 212.4L77.4 212.2L78.2 212.0L78.9 211.7L79.6 211.4L80.3 211.2L81.0 210.9L81.7 210.5L82.4 210.2L83.1 209.9L83.8 209.5L84.5 209.1L85.2 208.7L85.9 208.2L86.6 207.7L87.3 207.2L88.0 206.7L88.8 206.2L89.5 205.6L90.2 205.0L90.9 204.4L91.6 203.7L92.2 203.1L92.9 202.4L93.5 201.7L94.2 200.9L94.8 200.2L95.4 199.4L96.0 198.6L96.5 197.7L97.1 196.9L97.6 196.0L98.2 195.2L98.7 194.3L99.2 193.4L99.7 192.6L100.2 191.7L100.6 190.8L101.1 189.9L101.5 188.9L102.0 188.0L102.4 187.0L102.8 186.0L103.3 185.0L103.8 183.9L104.2 182.9L104.7 181.8L105.1 180.6L105.6 179.5L106.1 178.3L106.5 177.1L107.0 175.9L107.4 174.7L107.9 173.4L108.4 172.1L108.9 170.7L109.3 169.4L109.8 168.0L110.3 166.5L110.8 165.1L111.3 163.7L111.7 162.2L112.2 160.9L112.6 159.5L113.0 158.2L113.4 156.9L113.7 155.6L114.1 154.3L114.4 153.0L114.8 151.8L115.1 150.5L115.4 149.2L115.8 148.0L116.1 146.7L116.4 145.4L116.8 144.1L117.1 142.8L117.5 141.5L117.8 140.2L118.2 138.9L118.5 137.6L118.8 136.4L119.2 135.1L119.5 133.9L119.8 132.7L120.1 131.6L120.4 130.5L120.7 129.4L121.0 128.3L121.3 127.2L121.6 126.1L121.9 124.9L122.2 123.7L122.5 122.5L122.8 121.2L123.1 119.9L123.5 118.6L123.8 117.2L124.1 115.8L124.4 114.4L124.8 113.0L125.1 111.5L125.5 110.0L125.9 108.5L126.3 106.9L126.7 105.3L127.1 103.6L127.6 101.8L128.0 100.1L128.5 98.3L129.0 96.6L129.4 94.8L129.9 93.1L130.3 91.5L130.7 89.9L131.2 88.3L131.6 86.7L132.0 85.1L132.5 83.6L132.9 82.0L133.3 80.5L133.7 79.0L134.2 77.5L134.6 76.1L135.0 74.7L135.5 73.3L135.9 71.9L136.4 70.6L136.8 69.2L137.2 67.9L137.7 66.7L138.1 65.4L138.6 64.2L139.0 63.0L139.4 61.8L139.9 60.7L140.3 59.6L140.8 58.6L141.2 57.5L141.6 56.5L142.1 55.5L142.5 54.6L143.0 53.6L143.4 52.7L143.8 51.8L144.3 50.9L144.7 50.1L145.2 49.2L145.6 48.4L146.0 47.6L146.5 46.9L146.9 46.1L147.4 45.4L147.8 44.7L148.2 44.0L148.7 43.4L149.1 42.7L149.5 42.1L149.9 41.6L150.3 41.0L150.8 40.4L151.2 39.9L151.7 39.4L152.2 38.9L152.7 38.4L153.2 37.9L153.8 37.5L154.3 37.0L154.9 36.6L155.5 36.2L156.1 35.8L156.7 35.5L157.4 35.2L158.0 34.9L158.7 34.7L159.4 34.5L160.1 34.3L160.8 34.1L161.6 34.0L162.3 33.9L163.1 33.9L163.8 33.8L164.6 33.8L165.3 33.8L166.0 33.8L166.8 33.9L167.5 34.0L168.2 34.1L169.0 34.2L169.7 34.4L170.4 34.6L171.1 34.8L171.9 35.0L172.6 35.2L173.3 35.4L174.1 35.7L174.9 36.0L175.6 36.2L176.4 36.5L177.1 36.8L177.9 37.2L178.6 37.5L179.3 37.8L179.9 38.1L180.5 38.4L181.0 38.6L181.4 38.8L181.8 39.1L182.3 39.3L182.7 39.6L183.1 39.9L183.7 40.3L184.3 40.7L185.0 41.3L185.8 42.0L186.7 42.8L187.7 43.6L188.8 44.6L189.9 45.5L191.0 46.6L192.1 47.6L193.2 48.7L194.3 49.7L195.4 50.7L196.4 51.7L197.5 52.7L198.5 53.6L199.6 54.6L200.7 55.6L201.7 56.7L202.8 57.7L203.8 58.8L204.9 59.9L205.9 61.1L206.9 62.3L208.0 63.6L209.0 64.9L210.1 66.2L211.1 67.6L212.1 69.0L213.2 70.4L214.2 71.8L215.3 73.2L216.3 74.7L217.3 76.2L218.4 77.7L219.4 79.3L220.5 80.9L221.6 82.5L222.6 84.2L223.7 85.8L224.7 87.4L225.8 88.9L226.8 90.4L227.8 91.9L228.9 93.3L229.9 94.7L231.0 96.0L232.0 97.4L233.0 98.7L234.1 100.1L235.1 101.4L236.2 102.7L237.2 104.0L238.3 105.3L239.4 106.7L240.5 108.0L241.6 109.4L242.8 110.7L243.9 112.0L244.9 113.2L245.9 114.4L246.9 115.5L247.7 116.5L248.4 117.4L249.0 118.1L249.5 118.7L249.9 119.3L250.3 119.8L250.7 120.3L251.1 120.8L251.6 121.4L252.2 122.0L252.9 122.8L253.7 123.7L254.6 124.6L255.6 125.6L256.6 126.6L257.6 127.6L258.7 128.7L259.8 129.9L261.0 131.1L262.1 132.3L263.2 133.6L264.3 134.9L265.5 136.4L266.7 137.8L267.8 139.4L269.0 140.9L270.3 142.5L271.5 144.1L272.7 145.7L273.9 147.3L275.1 148.9L276.3 150.5L277.5 152.1L278.7 153.8L280.0 155.4L281.2 157.1L282.4 158.7L283.6 160.4L284.8 162.0L285.9 163.5L287.0 165.0L288.1 166.5L289.2 168.0L290.3 169.6L291.4 171.1L292.5 172.6L293.5 173.9L294.4 175.2L295.2 176.4L295.9 177.3L296.5 178.1" stroke="#e31414" stroke-width="2.10" fill="none" stroke-linejoin="round"/><path d="M71.9 214.6L72.4 214.5L72.9 214.5L73.4 214.4L73.9 214.3L74.4 214.3L74.9 214.2L75.4 214.1L75.9 214.0L76.4 213.9L76.9 213.8L77.4 213.7L77.9 213.6L78.4 213.5L78.9 213.4L79.4 213.2L79.9 213.1L80.4 213.0L80.9 212.8L81.4 212.6L81.9 212.5L82.4 212.3L82.9 212.1L83.4 211.9L83.9 211.7L84.4 211.5L84.9 211.3L85.4 211.0L85.9 210.8L86.4 210.5L86.9 210.2L87.4 209.9L87.9 209.6L88.4 209.3L88.9 209.0L89.4 208.7L89.9 208.3L90.4 208.0L90.9 207.6L91.4 207.2L91.9 206.8L92.4 206.3L92.9 205.9L93.4 205.4L93.9 205.0L94.4 204.5L94.9 204.0L95.4 203.4L95.9 202.9L96.4 202.3L96.9 201.7L97.4 201.1L97.9 200.5L98.4 199.9L98.9 199.2L99.4 198.6L99.9 197.9L100.4 197.2L100.9 196.5L101.4 195.7L101.9 195.0L102.4 194.2L102.9 193.4L103.4 192.6L103.9 191.7L104.4 190.9L104.9 190.0L105.4 189.1L105.9 188.2L106.4 187.3L106.9 186.4L107.4 185.5L107.9 184.5L108.4 183.5L108.9 182.6L109.4 181.6L109.9 180.6L110.4 179.5L110.9 178.5L111.4 177.5L111.9 176.5L112.4 175.4L112.9 174.4L113.4 173.3L113.9 172.2L114.4 171.2L114.9 170.1L115.4 169.1L115.9 168.0L116.4 166.9L116.9 165.9L117.4 164.8L117.9 163.8L118.4 162.7L118.9 161.7L119.4 160.7L119.9 159.7L120.4 158.7L120.9 157.7L121.4 156.7L121.9 155.8L122.4 154.8L122.9 153.9L123.4 153.0L123.9 152.2L124.4 151.3L124.9 150.5L125.4 149.7L125.9 148.9L126.4 148.2L126.9 147.4L127.4 146.7L127.9 146.1L128.4 145.5L128.9 144.9L129.4 144.3L129.9 143.8L130.4 143.3L130.9 142.8L131.4 142.4L131.9 142.0L132.4 141.7L132.9 141.4L133.4 141.1L133.9 140.9L134.4 140.7L134.9 140.6L135.4 140.5L135.9 140.4L136.4 140.4L136.9 140.4L137.4 140.5L137.9 140.6L138.4 140.7L138.9 140.9L139.4 141.1L139.9 141.4L140.4 141.7L140.9 142.0L141.4 142.4L141.9 142.8L142.4 143.3L142.9 143.8L143.4 144.3L143.9 144.9L144.4 145.5L144.9 146.1L145.4 146.7L145.9 147.4L146.4 148.2L146.9 148.9L147.4 149.7L147.9 150.5L148.4 151.3L148.9 152.2L149.4 153.0L149.9 153.9L150.4 154.8L150.9 155.8L151.4 156.7L151.9 157.7L152.4 158.7L152.9 159.7L153.4 160.7L153.9 161.7L154.4 162.7L154.9 163.8L155.4 164.8L155.9 165.9L156.4 166.9L156.9 168.0L157.4 169.1L157.9 170.1L158.4 171.2L158.9 172.2L159.4 173.3L159.9 174.4L160.4 175.4L160.9 176.5L161.4 177.5L161.9 178.5L162.4 179.5L162.9 180.6L163.4 181.6L163.9 182.6L164.4 183.5L164.9 184.5L165.4 185.5L165.9 186.4L166.4 187.3L166.9 188.2L167.4 189.1L167.9 190.0L168.4 190.9L168.9 191.7L169.4 192.6L169.9 193.4L170.4 194.2L170.9 195.0L171.4 195.7L171.9 196.5L172.4 197.2L172.9 197.9L173.4 198.6L173.9 199.2L174.4 199.9L174.9 200.5L175.4 201.1L175.9 201.7L176.4 202.3L176.9 202.9L177.4 203.4L177.9 204.0L178.4 204.5L178.9 205.0L179.4 205.4L179.9 205.9L180.4 206.3L180.9 206.8L181.4 207.2L181.9 207.6L182.4 208.0L182.9 208.3L183.4 208.7L183.9 209.0L184.4 209.3L184.9 209.6L185.4 209.9L185.9 210.2L186.4 210.5L186.9 210.8L187.4 211.0L187.9 211.3L188.4 211.5L188.9 211.7L189.4 211.9L189.9 212.1L190.4 212.3L190.9 212.5L191.4 212.6L191.9 212.8L192.4 213.0L192.9 213.1L193.4 213.2L193.9 213.4L194.4 213.5L194.9 213.6L195.4 213.7L195.9 213.8L196.4 213.9L196.9 214.0L197.4 214.1L197.9 214.2L198.4 214.3L198.9 214.3L199.4 214.4L199.9 214.5L200.4 214.5L200.9 214.6L201.4 214.7L201.9 214.7L202.4 214.8L202.9 214.8L203.4 214.8L203.9 214.9L204.4 214.9L204.9 215.0L205.4 215.0L205.9 215.0L206.4 215.0L206.9 215.1L207.4 215.1L207.9 215.1L208.4 215.1L208.9 215.2L209.4 215.2L209.9 215.2L210.4 215.2L210.9 215.2L211.4 215.2L211.9 215.3L212.4 215.3L212.9 215.3L213.4 215.3L213.9 215.3L214.4 215.3L214.9 215.3L215.4 215.3L215.9 215.3L216.4 215.3L216.9 215.3L217.4 215.3L217.9 215.3L218.4 215.4L218.9 215.4L219.4 215.4L219.9 215.4L220.4 215.4L220.9 215.4L221.4 215.4L221.9 215.4L222.4 215.4L222.9 215.4L223.4 215.4L223.9 215.4L224.4 215.4L224.9 215.4L225.4 215.4L225.9 215.4L226.4 215.4L226.9 215.4L227.4 215.4L227.9 215.4L228.4 215.4L228.9 215.4L229.4 215.4L229.9 215.4L230.4 215.4L230.9 215.4L231.4 215.4L231.9 215.4L232.4 215.4L232.9 215.4L233.4 215.4L233.9 215.4L234.4 215.4L234.9 215.4L235.4 215.4L235.9 215.4L236.4 215.4L236.9 215.4L237.4 215.4L237.9 215.4L238.4 215.4L238.9 215.4L239.4 215.4L239.9 215.4L240.4 215.4L240.9 215.4L241.4 215.4L241.9 215.4L242.4 215.4L242.9 215.4L243.4 215.4L243.9 215.4L244.4 215.4L244.9 215.4L245.4 215.4L245.9 215.4L246.4 215.4L246.9 215.4L247.4 215.4L247.9 215.4L248.4 215.4L248.9 215.4L249.4 215.4L249.9 215.4L250.4 215.4L250.9 215.4L251.4 215.4L251.9 215.4L252.4 215.4L252.9 215.4L253.4 215.4L253.9 215.4L254.4 215.4L254.9 215.4L255.4 215.4L255.9 215.4L256.4 215.4L256.9 215.4L257.4 215.4L257.9 215.4L258.4 215.4L258.9 215.4L259.4 215.4L259.9 215.4L260.4 215.4L260.9 215.4L261.4 215.4L261.9 215.4L262.4 215.4L262.9 215.4L263.4 215.4L263.9 215.4L264.4 215.4L264.9 215.4L265.4 215.4L265.9 215.4L266.4 215.4L266.9 215.4L267.4 215.4L267.9 215.4L268.4 215.4L268.9 215.4L269.4 215.4L269.9 215.4L270.4 215.4L270.9 215.4L271.4 215.4L271.9 215.4L272.4 215.4L272.9 215.4L273.4 215.4L273.9 215.4L274.4 215.4L274.9 215.4L275.4 215.4L275.9 215.4L276.4 215.4L276.9 215.4L277.4 215.4L277.9 215.4L278.4 215.4L278.9 215.4L279.4 215.4L279.9 215.4L280.4 215.4L280.9 215.4L281.4 215.4L281.9 215.4L282.4 215.4L282.9 215.4L283.4 215.4L283.9 215.4L284.4 215.4L284.9 215.4L285.4 215.4L285.9 215.4L286.4 215.4L286.9 215.4L287.4 215.4L287.9 215.4L288.4 215.4L288.9 215.4L289.4 215.4L289.9 215.4L290.4 215.4L290.9 215.4L291.4 215.4L291.9 215.4L292.4 215.4L292.9 215.4L293.4 215.4L293.9 215.4L294.4 215.4L294.9 215.4L295.4 215.4L295.9 215.4L296.4 215.4L296.9 215.4" stroke="#2fdc2f" stroke-width="1.90" fill="none" stroke-linejoin="round"/><path d="M71.9 215.3L72.4 215.3L72.9 215.3L73.4 215.3L73.9 215.3L74.4 215.3L74.9 215.3L75.4 215.3L75.9 215.2L76.4 215.2L76.9 215.2L77.4 215.2L77.9 215.2L78.4 215.2L78.9 215.2L79.4 215.1L79.9 215.1L80.4 215.1L80.9 215.1L81.4 215.1L81.9 215.0L82.4 215.0L82.9 215.0L83.4 214.9L83.9 214.9L84.4 214.9L84.9 214.8L85.4 214.8L85.9 214.8L86.4 214.7L86.9 214.7L87.4 214.6L87.9 214.6L88.4 214.5L88.9 214.5L89.4 214.4L89.9 214.3L90.4 214.3L90.9 214.2L91.4 214.1L91.9 214.0L92.4 213.9L92.9 213.8L93.4 213.8L93.9 213.7L94.4 213.5L94.9 213.4L95.4 213.3L95.9 213.2L96.4 213.1L96.9 212.9L97.4 212.8L97.9 212.6L98.4 212.5L98.9 212.3L99.4 212.1L99.9 211.9L100.4 211.8L100.9 211.6L101.4 211.3L101.9 211.1L102.4 210.9L102.9 210.7L103.4 210.4L103.9 210.2L104.4 209.9L104.9 209.6L105.4 209.3L105.9 209.0L106.4 208.7L106.9 208.4L107.4 208.0L107.9 207.7L108.4 207.3L108.9 206.9L109.4 206.5L109.9 206.1L110.4 205.7L110.9 205.3L111.4 204.8L111.9 204.4L112.4 203.9L112.9 203.4L113.4 202.9L113.9 202.3L114.4 201.8L114.9 201.2L115.4 200.7L115.9 200.1L116.4 199.5L116.9 198.8L117.4 198.2L117.9 197.6L118.4 196.9L118.9 196.2L119.4 195.5L119.9 194.8L120.4 194.0L120.9 193.3L121.4 192.5L121.9 191.7L122.4 190.9L122.9 190.1L123.4 189.3L123.9 188.4L124.4 187.5L124.9 186.7L125.4 185.8L125.9 184.9L126.4 184.0L126.9 183.0L127.4 182.1L127.9 181.1L128.4 180.2L128.9 179.2L129.4 178.2L129.9 177.2L130.4 176.2L130.9 175.2L131.4 174.2L131.9 173.2L132.4 172.2L132.9 171.1L133.4 170.1L133.9 169.1L134.4 168.0L134.9 167.0L135.4 165.9L135.9 164.9L136.4 163.9L136.9 162.8L137.4 161.8L137.9 160.8L138.4 159.8L138.9 158.8L139.4 157.8L139.9 156.8L140.4 155.8L140.9 154.8L141.4 153.9L141.9 152.9L142.4 152.0L142.9 151.1L143.4 150.2L143.9 149.3L144.4 148.5L144.9 147.6L145.4 146.8L145.9 146.0L146.4 145.2L146.9 144.5L147.4 143.8L147.9 143.1L148.4 142.4L148.9 141.8L149.4 141.2L149.9 140.6L150.4 140.1L150.9 139.5L151.4 139.1L151.9 138.6L152.4 138.2L152.9 137.8L153.4 137.4L153.9 137.1L154.4 136.9L154.9 136.6L155.4 136.4L155.9 136.2L156.4 136.1L156.9 136.0L157.4 135.9L157.9 135.9L158.4 135.9L158.9 136.0L159.4 136.0L159.9 136.2L160.4 136.3L160.9 136.5L161.4 136.7L161.9 137.0L162.4 137.3L162.9 137.7L163.4 138.0L163.9 138.4L164.4 138.9L164.9 139.3L165.4 139.8L165.9 140.4L166.4 140.9L166.9 141.5L167.4 142.2L167.9 142.8L168.4 143.5L168.9 144.2L169.4 144.9L169.9 145.7L170.4 146.5L170.9 147.3L171.4 148.1L171.9 149.0L172.4 149.8L172.9 150.7L173.4 151.6L173.9 152.5L174.4 153.5L174.9 154.4L175.4 155.4L175.9 156.4L176.4 157.4L176.9 158.4L177.4 159.4L177.9 160.4L178.4 161.4L178.9 162.4L179.4 163.4L179.9 164.5L180.4 165.5L180.9 166.6L181.4 167.6L181.9 168.6L182.4 169.7L182.9 170.7L183.4 171.7L183.9 172.8L184.4 173.8L184.9 174.8L185.4 175.8L185.9 176.8L186.4 177.8L186.9 178.8L187.4 179.8L187.9 180.8L188.4 181.7L188.9 182.7L189.4 183.6L189.9 184.5L190.4 185.4L190.9 186.3L191.4 187.2L191.9 188.1L192.4 188.9L192.9 189.8L193.4 190.6L193.9 191.4L194.4 192.2L194.9 193.0L195.4 193.7L195.9 194.5L196.4 195.2L196.9 195.9L197.4 196.6L197.9 197.3L198.4 197.9L198.9 198.6L199.4 199.2L199.9 199.8L200.4 200.4L200.9 201.0L201.4 201.6L201.9 202.1L202.4 202.7L202.9 203.2L203.4 203.7L203.9 204.2L204.4 204.6L204.9 205.1L205.4 205.5L205.9 206.0L206.4 206.4L206.9 206.8L207.4 207.2L207.9 207.5L208.4 207.9L208.9 208.2L209.4 208.6L209.9 208.9L210.4 209.2L210.9 209.5L211.4 209.8L211.9 210.1L212.4 210.3L212.9 210.6L213.4 210.8L213.9 211.0L214.4 211.3L214.9 211.5L215.4 211.7L215.9 211.9L216.4 212.1L216.9 212.2L217.4 212.4L217.9 212.6L218.4 212.7L218.9 212.9L219.4 213.0L219.9 213.1L220.4 213.3L220.9 213.4L221.4 213.5L221.9 213.6L222.4 213.7L222.9 213.8L223.4 213.9L223.9 214.0L224.4 214.1L224.9 214.2L225.4 214.2L225.9 214.3L226.4 214.4L226.9 214.4L227.4 214.5L227.9 214.6L228.4 214.6L228.9 214.7L229.4 214.7L229.9 214.7L230.4 214.8L230.9 214.8L231.4 214.9L231.9 214.9L232.4 214.9L232.9 215.0L233.4 215.0L233.9 215.0L234.4 215.0L234.9 215.1L235.4 215.1L235.9 215.1L236.4 215.1L236.9 215.2L237.4 215.2L237.9 215.2L238.4 215.2L238.9 215.2L239.4 215.2L239.9 215.2L240.4 215.3L240.9 215.3L241.4 215.3L241.9 215.3L242.4 215.3L242.9 215.3L243.4 215.3L243.9 215.3L244.4 215.3L244.9 215.3L245.4 215.3L245.9 215.3L246.4 215.3L246.9 215.3L247.4 215.4L247.9 215.4L248.4 215.4L248.9 215.4L249.4 215.4L249.9 215.4L250.4 215.4L250.9 215.4L251.4 215.4L251.9 215.4L252.4 215.4L252.9 215.4L253.4 215.4L253.9 215.4L254.4 215.4L254.9 215.4L255.4 215.4L255.9 215.4L256.4 215.4L256.9 215.4L257.4 215.4L257.9 215.4L258.4 215.4L258.9 215.4L259.4 215.4L259.9 215.4L260.4 215.4L260.9 215.4L261.4 215.4L261.9 215.4L262.4 215.4L262.9 215.4L263.4 215.4L263.9 215.4L264.4 215.4L264.9 215.4L265.4 215.4L265.9 215.4L266.4 215.4L266.9 215.4L267.4 215.4L267.9 215.4L268.4 215.4L268.9 215.4L269.4 215.4L269.9 215.4L270.4 215.4L270.9 215.4L271.4 215.4L271.9 215.4L272.4 215.4L272.9 215.4L273.4 215.4L273.9 215.4L274.4 215.4L274.9 215.4L275.4 215.4L275.9 215.4L276.4 215.4L276.9 215.4L277.4 215.4L277.9 215.4L278.4 215.4L278.9 215.4L279.4 215.4L279.9 215.4L280.4 215.4L280.9 215.4L281.4 215.4L281.9 215.4L282.4 215.4L282.9 215.4L283.4 215.4L283.9 215.4L284.4 215.4L284.9 215.4L285.4 215.4L285.9 215.4L286.4 215.4L286.9 215.4L287.4 215.4L287.9 215.4L288.4 215.4L288.9 215.4L289.4 215.4L289.9 215.4L290.4 215.4L290.9 215.4L291.4 215.4L291.9 215.4L292.4 215.4L292.9 215.4L293.4 215.4L293.9 215.4L294.4 215.4L294.9 215.4L295.4 215.4L295.9 215.4L296.4 215.4L296.9 215.4" stroke="#2222cc" stroke-width="1.90" fill="none" stroke-linejoin="round"/><path d="M71.9 215.4L72.4 215.4L72.9 215.4L73.4 215.4L73.9 215.4L74.4 215.4L74.9 215.4L75.4 215.4L75.9 215.4L76.4 215.4L76.9 215.4L77.4 215.4L77.9 215.4L78.4 215.4L78.9 215.4L79.4 215.4L79.9 215.4L80.4 215.4L80.9 215.4L81.4 215.4L81.9 215.4L82.4 215.4L82.9 215.4L83.4 215.4L83.9 215.4L84.4 215.4L84.9 215.4L85.4 215.4L85.9 215.4L86.4 215.4L86.9 215.4L87.4 215.4L87.9 215.4L88.4 215.4L88.9 215.4L89.4 215.4L89.9 215.4L90.4 215.4L90.9 215.4L91.4 215.4L91.9 215.4L92.4 215.4L92.9 215.4L93.4 215.4L93.9 215.4L94.4 215.4L94.9 215.4L95.4 215.4L95.9 215.4L96.4 215.4L96.9 215.4L97.4 215.4L97.9 215.4L98.4 215.4L98.9 215.4L99.4 215.4L99.9 215.4L100.4 215.4L100.9 215.4L101.4 215.3L101.9 215.3L102.4 215.3L102.9 215.3L103.4 215.3L103.9 215.3L104.4 215.3L104.9 215.3L105.4 215.3L105.9 215.3L106.4 215.3L106.9 215.3L107.4 215.3L107.9 215.3L108.4 215.2L108.9 215.2L109.4 215.2L109.9 215.2L110.4 215.2L110.9 215.2L111.4 215.1L111.9 215.1L112.4 215.1L112.9 215.1L113.4 215.1L113.9 215.0L114.4 215.0L114.9 215.0L115.4 215.0L115.9 214.9L116.4 214.9L116.9 214.9L117.4 214.8L117.9 214.8L118.4 214.7L118.9 214.7L119.4 214.6L119.9 214.6L120.4 214.5L120.9 214.5L121.4 214.4L121.9 214.4L122.4 214.3L122.9 214.2L123.4 214.1L123.9 214.1L124.4 214.0L124.9 213.9L125.4 213.8L125.9 213.7L126.4 213.6L126.9 213.5L127.4 213.4L127.9 213.2L128.4 213.1L128.9 213.0L129.4 212.8L129.9 212.7L130.4 212.5L130.9 212.4L131.4 212.2L131.9 212.0L132.4 211.8L132.9 211.6L133.4 211.4L133.9 211.2L134.4 211.0L134.9 210.8L135.4 210.5L135.9 210.3L136.4 210.0L136.9 209.7L137.4 209.5L137.9 209.2L138.4 208.8L138.9 208.5L139.4 208.2L139.9 207.8L140.4 207.5L140.9 207.1L141.4 206.7L141.9 206.3L142.4 205.9L142.9 205.5L143.4 205.0L143.9 204.6L144.4 204.1L144.9 203.6L145.4 203.1L145.9 202.6L146.4 202.1L146.9 201.5L147.4 200.9L147.9 200.4L148.4 199.8L148.9 199.1L149.4 198.5L149.9 197.9L150.4 197.2L150.9 196.5L151.4 195.8L151.9 195.1L152.4 194.4L152.9 193.6L153.4 192.8L153.9 192.1L154.4 191.3L154.9 190.5L155.4 189.6L155.9 188.8L156.4 187.9L156.9 187.0L157.4 186.2L157.9 185.2L158.4 184.3L158.9 183.4L159.4 182.5L159.9 181.5L160.4 180.5L160.9 179.5L161.4 178.6L161.9 177.6L162.4 176.5L162.9 175.5L163.4 174.5L163.9 173.5L164.4 172.4L164.9 171.4L165.4 170.3L165.9 169.3L166.4 168.2L166.9 167.2L167.4 166.1L167.9 165.0L168.4 164.0L168.9 162.9L169.4 161.8L169.9 160.8L170.4 159.7L170.9 158.7L171.4 157.7L171.9 156.6L172.4 155.6L172.9 154.6L173.4 153.6L173.9 152.6L174.4 151.6L174.9 150.7L175.4 149.7L175.9 148.8L176.4 147.9L176.9 147.0L177.4 146.1L177.9 145.3L178.4 144.5L178.9 143.7L179.4 142.9L179.9 142.1L180.4 141.4L180.9 140.7L181.4 140.0L181.9 139.4L182.4 138.8L182.9 138.2L183.4 137.6L183.9 137.1L184.4 136.6L184.9 136.1L185.4 135.7L185.9 135.3L186.4 135.0L186.9 134.6L187.4 134.4L187.9 134.1L188.4 133.9L188.9 133.7L189.4 133.6L189.9 133.5L190.4 133.4L190.9 133.4L191.4 133.4L191.9 133.5L192.4 133.5L192.9 133.7L193.4 133.8L193.9 134.0L194.4 134.3L194.9 134.5L195.4 134.8L195.9 135.2L196.4 135.6L196.9 136.0L197.4 136.4L197.9 136.9L198.4 137.4L198.9 137.9L199.4 138.5L199.9 139.1L200.4 139.8L200.9 140.4L201.4 141.1L201.9 141.8L202.4 142.6L202.9 143.3L203.4 144.1L203.9 145.0L204.4 145.8L204.9 146.7L205.4 147.5L205.9 148.4L206.4 149.4L206.9 150.3L207.4 151.3L207.9 152.2L208.4 153.2L208.9 154.2L209.4 155.2L209.9 156.2L210.4 157.2L210.9 158.3L211.4 159.3L211.9 160.4L212.4 161.4L212.9 162.5L213.4 163.5L213.9 164.6L214.4 165.7L214.9 166.7L215.4 167.8L215.9 168.8L216.4 169.9L216.9 171.0L217.4 172.0L217.9 173.1L218.4 174.1L218.9 175.1L219.4 176.1L219.9 177.2L220.4 178.2L220.9 179.2L221.4 180.1L221.9 181.1L222.4 182.1L222.9 183.0L223.4 184.0L223.9 184.9L224.4 185.8L224.9 186.7L225.4 187.6L225.9 188.4L226.4 189.3L226.9 190.1L227.4 190.9L227.9 191.7L228.4 192.5L228.9 193.3L229.4 194.1L229.9 194.8L230.4 195.5L230.9 196.2L231.4 196.9L231.9 197.6L232.4 198.3L232.9 198.9L233.4 199.5L233.9 200.1L234.4 200.7L234.9 201.3L235.4 201.8L235.9 202.4L236.4 202.9L236.9 203.4L237.4 203.9L237.9 204.4L238.4 204.9L238.9 205.3L239.4 205.7L239.9 206.2L240.4 206.6L240.9 207.0L241.4 207.3L241.9 207.7L242.4 208.1L242.9 208.4L243.4 208.7L243.9 209.0L244.4 209.3L244.9 209.6L245.4 209.9L245.9 210.2L246.4 210.4L246.9 210.7L247.4 210.9L247.9 211.1L248.4 211.4L248.9 211.6L249.4 211.8L249.9 211.9L250.4 212.1L250.9 212.3L251.4 212.5L251.9 212.6L252.4 212.8L252.9 212.9L253.4 213.1L253.9 213.2L254.4 213.3L254.9 213.4L255.4 213.5L255.9 213.6L256.4 213.7L256.9 213.8L257.4 213.9L257.9 214.0L258.4 214.1L258.9 214.2L259.4 214.3L259.9 214.3L260.4 214.4L260.9 214.5L261.4 214.5L261.9 214.6L262.4 214.6L262.9 214.7L263.4 214.7L263.9 214.8L264.4 214.8L264.9 214.8L265.4 214.9L265.9 214.9L266.4 214.9L266.9 215.0L267.4 215.0L267.9 215.0L268.4 215.1L268.9 215.1L269.4 215.1L269.9 215.1L270.4 215.1L270.9 215.2L271.4 215.2L271.9 215.2L272.4 215.2L272.9 215.2L273.4 215.2L273.9 215.2L274.4 215.3L274.9 215.3L275.4 215.3L275.9 215.3L276.4 215.3L276.9 215.3L277.4 215.3L277.9 215.3L278.4 215.3L278.9 215.3L279.4 215.3L279.9 215.3L280.4 215.3L280.9 215.3L281.4 215.4L281.9 215.4L282.4 215.4L282.9 215.4L283.4 215.4L283.9 215.4L284.4 215.4L284.9 215.4L285.4 215.4L285.9 215.4L286.4 215.4L286.9 215.4L287.4 215.4L287.9 215.4L288.4 215.4L288.9 215.4L289.4 215.4L289.9 215.4L290.4 215.4L290.9 215.4L291.4 215.4L291.9 215.4L292.4 215.4L292.9 215.4L293.4 215.4L293.9 215.4L294.4 215.4L294.9 215.4L295.4 215.4L295.9 215.4L296.4 215.4L296.9 215.4" stroke="#e030e0" stroke-width="1.90" fill="none" stroke-linejoin="round"/><path d="M71.9 215.3L72.4 215.3L72.9 215.3L73.4 215.3L73.9 215.3L74.4 215.3L74.9 215.3L75.4 215.3L75.9 215.3L76.4 215.3L76.9 215.3L77.4 215.3L77.9 215.3L78.4 215.3L78.9 215.3L79.4 215.3L79.9 215.3L80.4 215.3L80.9 215.3L81.4 215.3L81.9 215.2L82.4 215.2L82.9 215.2L83.4 215.2L83.9 215.2L84.4 215.2L84.9 215.2L85.4 215.2L85.9 215.2L86.4 215.2L86.9 215.2L87.4 215.2L87.9 215.2L88.4 215.1L88.9 215.1L89.4 215.1L89.9 215.1L90.4 215.1L90.9 215.1L91.4 215.1L91.9 215.1L92.4 215.1L92.9 215.0L93.4 215.0L93.9 215.0L94.4 215.0L94.9 215.0L95.4 215.0L95.9 214.9L96.4 214.9L96.9 214.9L97.4 214.9L97.9 214.9L98.4 214.9L98.9 214.8L99.4 214.8L99.9 214.8L100.4 214.8L100.9 214.7L101.4 214.7L101.9 214.7L102.4 214.7L102.9 214.6L103.4 214.6L103.9 214.6L104.4 214.6L104.9 214.5L105.4 214.5L105.9 214.5L106.4 214.4L106.9 214.4L107.4 214.4L107.9 214.3L108.4 214.3L108.9 214.2L109.4 214.2L109.9 214.2L110.4 214.1L110.9 214.1L111.4 214.0L111.9 214.0L112.4 213.9L112.9 213.9L113.4 213.8L113.9 213.8L114.4 213.7L114.9 213.7L115.4 213.6L115.9 213.6L116.4 213.5L116.9 213.4L117.4 213.4L117.9 213.3L118.4 213.2L118.9 213.2L119.4 213.1L119.9 213.0L120.4 212.9L120.9 212.9L121.4 212.8L121.9 212.7L122.4 212.6L122.9 212.5L123.4 212.4L123.9 212.4L124.4 212.3L124.9 212.2L125.4 212.1L125.9 212.0L126.4 211.9L126.9 211.8L127.4 211.6L127.9 211.5L128.4 211.4L128.9 211.3L129.4 211.2L129.9 211.1L130.4 210.9L130.9 210.8L131.4 210.7L131.9 210.5L132.4 210.4L132.9 210.3L133.4 210.1L133.9 210.0L134.4 209.8L134.9 209.7L135.4 209.5L135.9 209.3L136.4 209.2L136.9 209.0L137.4 208.8L137.9 208.7L138.4 208.5L138.9 208.3L139.4 208.1L139.9 207.9L140.4 207.7L140.9 207.5L141.4 207.3L141.9 207.1L142.4 206.9L142.9 206.7L143.4 206.4L143.9 206.2L144.4 206.0L144.9 205.8L145.4 205.5L145.9 205.3L146.4 205.0L146.9 204.8L147.4 204.5L147.9 204.2L148.4 204.0L148.9 203.7L149.4 203.4L149.9 203.1L150.4 202.9L150.9 202.6L151.4 202.3L151.9 202.0L152.4 201.6L152.9 201.3L153.4 201.0L153.9 200.7L154.4 200.4L154.9 200.0L155.4 199.7L155.9 199.3L156.4 199.0L156.9 198.6L157.4 198.3L157.9 197.9L158.4 197.5L158.9 197.2L159.4 196.8L159.9 196.4L160.4 196.0L160.9 195.6L161.4 195.2L161.9 194.8L162.4 194.3L162.9 193.9L163.4 193.5L163.9 193.1L164.4 192.6L164.9 192.2L165.4 191.7L165.9 191.3L166.4 190.8L166.9 190.3L167.4 189.9L167.9 189.4L168.4 188.9L168.9 188.4L169.4 187.9L169.9 187.4L170.4 186.9L170.9 186.4L171.4 185.9L171.9 185.4L172.4 184.8L172.9 184.3L173.4 183.8L173.9 183.2L174.4 182.7L174.9 182.1L175.4 181.6L175.9 181.0L176.4 180.4L176.9 179.9L177.4 179.3L177.9 178.7L178.4 178.1L178.9 177.5L179.4 177.0L179.9 176.4L180.4 175.8L180.9 175.2L181.4 174.5L181.9 173.9L182.4 173.3L182.9 172.7L183.4 172.1L183.9 171.5L184.4 170.8L184.9 170.2L185.4 169.6L185.9 168.9L186.4 168.3L186.9 167.7L187.4 167.0L187.9 166.4L188.4 165.7L188.9 165.1L189.4 164.4L189.9 163.8L190.4 163.1L190.9 162.5L191.4 161.8L191.9 161.1L192.4 160.5L192.9 159.8L193.4 159.2L193.9 158.5L194.4 157.9L194.9 157.2L195.4 156.5L195.9 155.9L196.4 155.2L196.9 154.6L197.4 153.9L197.9 153.3L198.4 152.6L198.9 152.0L199.4 151.3L199.9 150.7L200.4 150.0L200.9 149.4L201.4 148.7L201.9 148.1L202.4 147.5L202.9 146.8L203.4 146.2L203.9 145.6L204.4 145.0L204.9 144.4L205.4 143.7L205.9 143.1L206.4 142.5L206.9 141.9L207.4 141.3L207.9 140.8L208.4 140.2L208.9 139.6L209.4 139.0L209.9 138.5L210.4 137.9L210.9 137.3L211.4 136.8L211.9 136.3L212.4 135.7L212.9 135.2L213.4 134.7L213.9 134.2L214.4 133.7L214.9 133.2L215.4 132.7L215.9 132.2L216.4 131.7L216.9 131.3L217.4 130.8L217.9 130.4L218.4 129.9L218.9 129.5L219.4 129.1L219.9 128.7L220.4 128.3L220.9 127.9L221.4 127.5L221.9 127.2L222.4 126.8L222.9 126.5L223.4 126.1L223.9 125.8L224.4 125.5L224.9 125.2L225.4 124.9L225.9 124.6L226.4 124.3L226.9 124.1L227.4 123.8L227.9 123.6L228.4 123.4L228.9 123.2L229.4 123.0L229.9 122.8L230.4 122.6L230.9 122.4L231.4 122.3L231.9 122.1L232.4 122.0L232.9 121.9L233.4 121.8L233.9 121.7L234.4 121.6L234.9 121.5L235.4 121.5L235.9 121.4L236.4 121.4L236.9 121.4L237.4 121.4L237.9 121.4L238.4 121.4L238.9 121.5L239.4 121.5L239.9 121.6L240.4 121.6L240.9 121.7L241.4 121.8L241.9 121.9L242.4 122.0L242.9 122.2L243.4 122.3L243.9 122.5L244.4 122.7L244.9 122.8L245.4 123.0L245.9 123.2L246.4 123.5L246.9 123.7L247.4 123.9L247.9 124.2L248.4 124.4L248.9 124.7L249.4 125.0L249.9 125.3L250.4 125.6L250.9 125.9L251.4 126.3L251.9 126.6L252.4 126.9L252.9 127.3L253.4 127.7L253.9 128.1L254.4 128.5L254.9 128.9L255.4 129.3L255.9 129.7L256.4 130.1L256.9 130.6L257.4 131.0L257.9 131.5L258.4 131.9L258.9 132.4L259.4 132.9L259.9 133.4L260.4 133.9L260.9 134.4L261.4 134.9L261.9 135.4L262.4 135.9L262.9 136.5L263.4 137.0L263.9 137.6L264.4 138.1L264.9 138.7L265.4 139.2L265.9 139.8L266.4 140.4L266.9 141.0L267.4 141.6L267.9 142.2L268.4 142.8L268.9 143.4L269.4 144.0L269.9 144.6L270.4 145.2L270.9 145.8L271.4 146.5L271.9 147.1L272.4 147.7L272.9 148.4L273.4 149.0L273.9 149.6L274.4 150.3L274.9 150.9L275.4 151.6L275.9 152.2L276.4 152.9L276.9 153.5L277.4 154.2L277.9 154.8L278.4 155.5L278.9 156.1L279.4 156.8L279.9 157.5L280.4 158.1L280.9 158.8L281.4 159.4L281.9 160.1L282.4 160.8L282.9 161.4L283.4 162.1L283.9 162.7L284.4 163.4L284.9 164.0L285.4 164.7L285.9 165.3L286.4 166.0L286.9 166.6L287.4 167.3L287.9 167.9L288.4 168.6L288.9 169.2L289.4 169.8L289.9 170.5L290.4 171.1L290.9 171.7L291.4 172.3L291.9 173.0L292.4 173.6L292.9 174.2L293.4 174.8L293.9 175.4L294.4 176.0L294.9 176.6L295.4 177.2L295.9 177.8L296.4 178.4L296.9 178.9" stroke="#f08a1e" stroke-width="1.90" fill="none" stroke-linejoin="round"/><text x="132.30" y="136.20" font-size="12.50" font-weight="bold" text-anchor="middle" fill="#111" >a</text><text x="158.50" y="131.00" font-size="12.50" font-weight="bold" text-anchor="middle" fill="#111" >b</text><text x="190.20" y="128.90" font-size="12.50" font-weight="bold" text-anchor="middle" fill="#111" >c</text><text x="225.30" y="119.40" font-size="12.50" font-weight="bold" text-anchor="middle" fill="#111" >d</text><text x="217.20" y="22.80" font-size="10.90" font-weight="normal" text-anchor="start" fill="#151515" stroke="#151515" stroke-width="0.15">BB Region of ZnO</text><text x="88.10" y="49.30" font-size="13.20" font-weight="bold" text-anchor="middle" fill="#111" >(a)</text><text x="0" y="0" transform="translate(14.10 113.80) rotate(-90)" font-size="13.90" font-weight="bold" text-anchor="middle" fill="#111">PL.Intensity(a.u)</text><text x="185.10" y="256.70" font-size="13.60" font-weight="bold" text-anchor="middle" fill="#111" >Wavelength(nm)</text><text x="418.11" y="241.00" font-size="8.90" font-weight="normal" text-anchor="middle" fill="#111" stroke="#111" stroke-width="0.22">450</text><text x="454.32" y="241.00" font-size="8.90" font-weight="normal" text-anchor="middle" fill="#111" stroke="#111" stroke-width="0.22">500</text><text x="490.53" y="241.00" font-size="8.90" font-weight="normal" text-anchor="middle" fill="#111" stroke="#111" stroke-width="0.22">550</text><text x="526.75" y="241.00" font-size="8.90" font-weight="normal" text-anchor="middle" fill="#111" stroke="#111" stroke-width="0.22">600</text><text x="562.96" y="241.00" font-size="8.90" font-weight="normal" text-anchor="middle" fill="#111" stroke="#111" stroke-width="0.22">650</text><text x="599.17" y="241.00" font-size="8.90" font-weight="normal" text-anchor="middle" fill="#111" stroke="#111" stroke-width="0.22">700</text><text x="635.39" y="241.00" font-size="8.90" font-weight="normal" text-anchor="middle" fill="#111" stroke="#111" stroke-width="0.22">750</text><text x="671.60" y="241.00" font-size="8.90" font-weight="normal" text-anchor="middle" fill="#111" stroke="#111" stroke-width="0.22">800</text><text x="392.40" y="217.80" font-size="8.90" font-weight="normal" text-anchor="end" fill="#111" stroke="#111" stroke-width="0.22">400</text><text x="392.40" y="196.81" font-size="8.90" font-weight="normal" text-anchor="end" fill="#111" stroke="#111" stroke-width="0.22">600</text><text x="392.40" y="175.81" font-size="8.90" font-weight="normal" text-anchor="end" fill="#111" stroke="#111" stroke-width="0.22">800</text><text x="392.40" y="154.81" font-size="8.90" font-weight="normal" text-anchor="end" fill="#111" stroke="#111" stroke-width="0.22">1000</text><text x="392.40" y="133.82" font-size="8.90" font-weight="normal" text-anchor="end" fill="#111" stroke="#111" stroke-width="0.22">1200</text><text x="392.40" y="112.83" font-size="8.90" font-weight="normal" text-anchor="end" fill="#111" stroke="#111" stroke-width="0.22">1400</text><text x="392.40" y="91.83" font-size="8.90" font-weight="normal" text-anchor="end" fill="#111" stroke="#111" stroke-width="0.22">1600</text><text x="392.40" y="70.83" font-size="8.90" font-weight="normal" text-anchor="end" fill="#111" stroke="#111" stroke-width="0.22">1800</text><text x="392.40" y="49.84" font-size="8.90" font-weight="normal" text-anchor="end" fill="#111" stroke="#111" stroke-width="0.22">2000</text><text x="392.40" y="28.85" font-size="8.90" font-weight="normal" text-anchor="end" fill="#111" stroke="#111" stroke-width="0.22">2200</text><text x="392.40" y="7.85" font-size="8.90" font-weight="normal" text-anchor="end" fill="#111" stroke="#111" stroke-width="0.22">2400</text><path d="M418.11 226.40 V231.10 M418.11 5.55 V10.25 M454.32 226.40 V231.10 M454.32 5.55 V10.25 M490.53 226.40 V231.10 M490.53 5.55 V10.25 M526.75 226.40 V231.10 M526.75 5.55 V10.25 M562.96 226.40 V231.10 M562.96 5.55 V10.25 M599.17 226.40 V231.10 M599.17 5.55 V10.25 M635.39 226.40 V231.10 M635.39 5.55 V10.25 M671.60 226.40 V231.10 M671.60 5.55 V10.25 M436.21 226.40 V229.20 M436.21 5.55 V8.35 M472.43 226.40 V229.20 M472.43 5.55 V8.35 M508.64 226.40 V229.20 M508.64 5.55 V8.35 M544.85 226.40 V229.20 M544.85 5.55 V8.35 M581.07 226.40 V229.20 M581.07 5.55 V8.35 M617.28 226.40 V229.20 M617.28 5.55 V8.35 M653.49 226.40 V229.20 M653.49 5.55 V8.35 M400.00 226.40 V229.20 M400.00 5.55 V8.35 M400.00 215.50 H395.30 M671.60 215.50 H666.90 M400.00 194.50 H395.30 M671.60 194.50 H666.90 M400.00 173.51 H395.30 M671.60 173.51 H666.90 M400.00 152.51 H395.30 M671.60 152.51 H666.90 M400.00 131.52 H395.30 M671.60 131.52 H666.90 M400.00 110.53 H395.30 M671.60 110.53 H666.90 M400.00 89.53 H395.30 M671.60 89.53 H666.90 M400.00 68.53 H395.30 M671.60 68.53 H666.90 M400.00 47.54 H395.30 M671.60 47.54 H666.90 M400.00 26.55 H395.30 M671.60 26.55 H666.90 M400.00 5.55 H395.30 M671.60 5.55 H666.90 M400.00 205.00 H397.20 M671.60 205.00 H668.80 M400.00 184.01 H397.20 M671.60 184.01 H668.80 M400.00 163.01 H397.20 M671.60 163.01 H668.80 M400.00 142.02 H397.20 M671.60 142.02 H668.80 M400.00 121.02 H397.20 M671.60 121.02 H668.80 M400.00 100.03 H397.20 M671.60 100.03 H668.80 M400.00 79.03 H397.20 M671.60 79.03 H668.80 M400.00 58.04 H397.20 M671.60 58.04 H668.80 M400.00 37.04 H397.20 M671.60 37.04 H668.80 M400.00 16.05 H397.20 M671.60 16.05 H668.80 M400.00 226.00 H397.20 M671.60 226.00 H668.80" stroke="#262626" stroke-width="1" fill="none"/><path d="M400.00 5.55 V229.40" stroke="#7c7c7c" stroke-width="1.55" fill="none"/><path d="M671.60 5.55 V230.20" stroke="#262626" stroke-width="1.15" fill="none" stroke-linecap="square"/><path d="M395.50 5.55 H671.60" stroke="#262626" stroke-width="1.15" fill="none" stroke-linecap="square"/><path d="M397.50 226.40 H671.60" stroke="#262626" stroke-width="1.15" fill="none" stroke-linecap="square"/><path d="M433.7 148.0L434.5 148.6L435.2 149.1L436.1 149.3L437.0 148.9L437.8 148.2L438.4 147.5L439.0 146.6L439.6 145.8L440.2 145.0L440.7 144.1L441.2 143.2L441.6 142.3L442.0 141.3L442.2 140.4L442.4 139.4L442.6 138.4L442.9 137.4L443.2 136.4L443.6 135.5L443.9 134.6L444.3 133.7L444.7 132.7L445.1 131.8L445.5 130.9L445.9 130.0L446.4 129.1L447.0 128.2L447.5 127.4L448.0 126.5L448.4 125.6L448.7 124.6L448.8 123.6L448.8 122.5L448.7 121.4L448.8 120.4L449.1 119.4L449.5 118.5L450.0 117.6L450.6 116.8L451.1 115.9L451.6 115.0L452.1 114.1L452.4 113.2L452.6 112.2L452.8 111.2L453.0 110.2L453.2 109.2L453.5 108.3L453.9 107.4L454.4 106.5L455.0 105.6L455.6 104.8L456.2 103.9L456.6 103.0L456.9 102.1L457.3 101.1L457.7 100.2L458.1 99.3L458.5 98.4L458.9 97.5L459.2 96.5L459.4 95.5L459.6 94.5L459.7 93.5L460.0 92.5L460.3 91.6L460.6 90.6L460.8 89.6L461.0 88.6L461.1 87.6L461.3 86.7L461.6 85.7L461.9 84.8L462.4 83.9L462.9 83.0L463.4 82.1L463.8 81.2L464.2 80.2L464.5 79.3L464.8 78.3L465.1 77.4L465.3 76.4L465.6 75.5L465.9 74.5L466.3 73.6L466.7 72.6L467.0 71.7L467.4 70.8L467.8 69.9L468.2 68.9L468.5 68.0L468.7 67.0L468.9 66.0L469.2 65.0L469.4 64.1L469.7 63.1L470.1 62.2L470.4 61.2L470.8 60.3L471.2 59.4L471.5 58.4L471.9 57.5L472.2 56.6L472.6 55.6L473.0 54.7L473.4 53.8L473.7 52.9L474.1 51.9L474.4 51.0L474.6 50.0L474.8 49.0L475.1 48.0L475.3 47.1L475.6 46.1L476.0 45.2L476.3 44.2L476.6 43.3L477.0 42.3L477.3 41.4L477.8 40.5L478.3 39.6L478.9 38.8L479.6 38.1L480.3 37.3L481.0 36.6L481.6 35.8L482.0 34.9L482.4 34.0L482.7 33.0L483.1 32.0L483.5 31.1L484.1 30.2L484.8 29.5L485.6 28.9L486.5 28.3L487.4 27.8L488.2 27.3L489.1 26.8L489.9 26.3L490.7 25.7L491.6 25.2L492.5 24.8L493.5 24.5L494.5 24.4L495.5 24.4L496.5 24.6L497.5 24.9L498.4 25.2L499.3 25.6L500.2 26.0L501.1 26.3L502.1 26.6L503.0 27.0L504.0 27.4L504.8 28.0L505.6 28.7L506.1 29.5L506.7 30.4L507.2 31.3L507.8 32.2L508.5 33.0L509.5 33.6L510.8 33.8L511.9 33.3L512.8 32.7L513.6 32.1L514.6 31.9L515.6 32.1L516.5 32.6L517.4 33.2L518.3 33.7L519.1 34.3L520.0 34.9L520.7 35.5L521.4 36.3L522.1 37.0L522.7 37.8L523.4 38.6L524.0 39.3L524.7 40.0L525.4 40.8L526.1 41.5L526.8 42.2L527.5 43.0L528.1 43.7L528.8 44.4L529.6 45.1L530.4 45.7L531.2 46.4L532.0 47.0L532.7 47.6L533.4 48.4L534.1 49.2L534.6 50.0L535.1 50.9L535.7 51.8L536.2 52.6L536.8 53.4L537.4 54.2L538.0 55.0L538.6 55.8L539.2 56.6L539.8 57.4L540.4 58.2L541.0 59.0L541.5 59.9L542.0 60.8L542.4 61.7L542.9 62.6L543.5 63.4L544.1 64.2L544.7 64.9L545.4 65.7L546.1 66.4L546.8 67.2L547.4 67.9L548.0 68.8L548.6 69.5L549.2 70.3L549.9 71.1L550.5 71.9L551.1 72.7L551.6 73.5L552.2 74.3L552.8 75.1L553.4 76.0L554.0 76.8L554.6 77.6L555.1 78.4L555.5 79.4L555.9 80.3L556.3 81.3L556.7 82.2L557.3 83.0L557.8 83.9L558.3 84.7L558.9 85.6L559.4 86.4L559.9 87.3L560.5 88.1L561.1 88.9L561.8 89.6L562.6 90.3L563.3 91.0L564.0 91.7L564.7 92.5L565.3 93.3L566.0 94.0L566.7 94.8L567.4 95.5L568.0 96.2L568.7 97.0L569.2 97.9L569.6 98.8L570.0 99.7L570.4 100.7L570.8 101.6L571.4 102.5L572.0 103.2L572.7 104.0L573.4 104.7L574.2 105.4L574.9 106.1L575.5 106.9L576.1 107.6L576.8 108.4L577.4 109.2L578.1 109.9L578.8 110.7L579.4 111.4L580.0 112.2L580.7 113.0L581.3 113.7L582.0 114.5L582.6 115.3L583.2 116.0L583.8 116.9L584.3 117.8L584.7 118.7L585.1 119.7L585.5 120.6L586.1 121.4L586.7 122.2L587.3 123.0L588.0 123.8L588.6 124.6L589.2 125.4L589.8 126.2L590.4 126.9L591.1 127.7L591.8 128.4L592.4 129.2L593.1 129.9L593.7 130.7L594.4 131.5L595.0 132.2L595.7 133.0L596.4 133.7L597.1 134.4L597.7 135.2L598.3 136.0L598.9 136.8L599.5 137.6L600.1 138.4L600.7 139.2L601.3 140.0L602.0 140.8L602.7 141.5L603.4 142.2L604.2 142.8L604.9 143.5L605.5 144.3L606.1 145.1L606.5 146.1L606.9 147.1L607.3 148.0L607.7 149.0L608.2 149.8L608.9 150.6L609.7 151.2L610.5 151.9L611.3 152.5L612.1 153.2L612.7 153.9L613.3 154.7L613.9 155.6L614.4 156.4L614.9 157.3L615.5 158.1L616.1 158.9L616.7 159.7L617.3 160.5L617.9 161.4L618.5 162.2L619.1 163.0L619.7 163.7L620.4 164.5L621.1 165.2L621.8 165.9L622.4 166.7L623.1 167.4L623.8 168.1L624.5 168.9L625.3 169.5L626.1 170.1L626.9 170.7L627.7 171.3L628.5 171.9L629.3 172.5L630.0 173.2L630.7 174.0L631.2 174.9L631.7 175.8L632.2 176.7L632.5 177.6L632.8 178.6L633.0 179.6L633.3 180.6L633.5 181.5L633.8 182.5L634.1 183.4L634.5 184.4L635.0 185.3L635.4 186.2L635.8 187.1L636.1 188.1L636.3 189.1L636.3 190.1L636.3 191.1L636.3 192.2L636.3 193.2L636.5 194.2L636.9 195.2L637.4 196.1L637.9 196.9L638.5 197.8L639.1 198.6L639.5 199.5L639.9 200.4L640.2 201.4L640.4 202.4L640.7 203.4" stroke="#000" stroke-width="5.00" fill="none" stroke-linejoin="round" stroke-linecap="round"/><g stroke="#000" stroke-width="0.80" fill="#fff"><path d="M435.8 146.4h2.6v2.6h-2.6z"/><path d="M435.1 148.4h2.6v2.6h-2.6z"/><path d="M437.0 148.0h2.6v2.6h-2.6z"/><path d="M438.5 148.9h2.6v2.6h-2.6z"/><path d="M439.9 147.5h2.6v2.6h-2.6z"/><path d="M438.2 146.6h2.6v2.6h-2.6z"/><path d="M440.8 147.1h2.6v2.6h-2.6z"/><path d="M440.6 144.1h2.6v2.6h-2.6z"/><path d="M444.1 145.3h2.6v2.6h-2.6z"/><path d="M441.3 143.2h2.6v2.6h-2.6z"/><path d="M442.4 142.3h2.6v2.6h-2.6z"/><path d="M445.6 142.7h2.6v2.6h-2.6z"/><path d="M444.7 141.4h2.6v2.6h-2.6z"/><path d="M445.9 140.9h2.6v2.6h-2.6z"/><path d="M443.9 139.3h2.6v2.6h-2.6z"/><path d="M443.0 137.5h2.6v2.6h-2.6z"/><path d="M443.3 136.1h2.6v2.6h-2.6z"/><path d="M445.4 136.0h2.6v2.6h-2.6z"/><path d="M445.3 134.7h2.6v2.6h-2.6z"/><path d="M446.0 134.2h2.6v2.6h-2.6z"/><path d="M443.4 133.0h2.6v2.6h-2.6z"/><path d="M446.2 132.3h2.6v2.6h-2.6z"/><path d="M445.9 131.0h2.6v2.6h-2.6z"/><path d="M447.0 129.5h2.6v2.6h-2.6z"/><path d="M445.8 129.3h2.6v2.6h-2.6z"/><path d="M447.6 128.7h2.6v2.6h-2.6z"/><path d="M447.3 127.2h2.6v2.6h-2.6z"/><path d="M452.1 127.2h2.6v2.6h-2.6z"/><path d="M448.6 126.1h2.6v2.6h-2.6z"/><path d="M448.0 124.4h2.6v2.6h-2.6z"/><path d="M447.7 123.3h2.6v2.6h-2.6z"/><path d="M449.9 123.0h2.6v2.6h-2.6z"/><path d="M451.8 122.1h2.6v2.6h-2.6z"/><path d="M450.4 120.7h2.6v2.6h-2.6z"/><path d="M449.3 119.5h2.6v2.6h-2.6z"/><path d="M451.3 119.1h2.6v2.6h-2.6z"/><path d="M452.1 118.5h2.6v2.6h-2.6z"/><path d="M452.6 118.1h2.6v2.6h-2.6z"/><path d="M452.7 116.6h2.6v2.6h-2.6z"/><path d="M451.3 115.0h2.6v2.6h-2.6z"/><path d="M455.1 115.4h2.6v2.6h-2.6z"/><path d="M454.3 113.6h2.6v2.6h-2.6z"/><path d="M453.8 112.5h2.6v2.6h-2.6z"/><path d="M454.2 111.2h2.6v2.6h-2.6z"/><path d="M455.1 110.3h2.6v2.6h-2.6z"/><path d="M453.7 109.2h2.6v2.6h-2.6z"/><path d="M456.4 109.0h2.6v2.6h-2.6z"/><path d="M454.8 107.6h2.6v2.6h-2.6z"/><path d="M455.2 106.8h2.6v2.6h-2.6z"/><path d="M456.0 106.0h2.6v2.6h-2.6z"/><path d="M454.6 104.8h2.6v2.6h-2.6z"/><path d="M454.6 103.3h2.6v2.6h-2.6z"/><path d="M459.2 103.5h2.6v2.6h-2.6z"/><path d="M455.8 101.9h2.6v2.6h-2.6z"/><path d="M457.7 100.8h2.6v2.6h-2.6z"/><path d="M457.3 99.7h2.6v2.6h-2.6z"/><path d="M457.8 99.0h2.6v2.6h-2.6z"/><path d="M457.7 98.7h2.6v2.6h-2.6z"/><path d="M460.5 98.7h2.6v2.6h-2.6z"/><path d="M460.9 96.9h2.6v2.6h-2.6z"/><path d="M460.9 95.5h2.6v2.6h-2.6z"/><path d="M459.0 94.9h2.6v2.6h-2.6z"/><path d="M461.3 93.4h2.6v2.6h-2.6z"/><path d="M460.0 92.6h2.6v2.6h-2.6z"/><path d="M459.2 91.8h2.6v2.6h-2.6z"/><path d="M463.3 90.9h2.6v2.6h-2.6z"/><path d="M464.7 90.3h2.6v2.6h-2.6z"/><path d="M462.6 89.6h2.6v2.6h-2.6z"/><path d="M464.2 88.3h2.6v2.6h-2.6z"/><path d="M464.9 88.1h2.6v2.6h-2.6z"/><path d="M461.8 86.3h2.6v2.6h-2.6z"/><path d="M464.5 85.9h2.6v2.6h-2.6z"/><path d="M463.6 84.6h2.6v2.6h-2.6z"/><path d="M465.2 83.7h2.6v2.6h-2.6z"/><path d="M463.4 82.9h2.6v2.6h-2.6z"/><path d="M465.6 82.0h2.6v2.6h-2.6z"/><path d="M466.3 80.9h2.6v2.6h-2.6z"/><path d="M467.5 80.0h2.6v2.6h-2.6z"/><path d="M464.3 78.5h2.6v2.6h-2.6z"/><path d="M467.8 78.6h2.6v2.6h-2.6z"/><path d="M466.0 76.8h2.6v2.6h-2.6z"/><path d="M466.3 75.9h2.6v2.6h-2.6z"/><path d="M467.3 75.6h2.6v2.6h-2.6z"/><path d="M466.8 73.9h2.6v2.6h-2.6z"/><path d="M468.3 73.2h2.6v2.6h-2.6z"/><path d="M468.6 72.5h2.6v2.6h-2.6z"/><path d="M468.7 71.5h2.6v2.6h-2.6z"/><path d="M468.7 70.7h2.6v2.6h-2.6z"/><path d="M470.3 69.7h2.6v2.6h-2.6z"/><path d="M469.4 68.0h2.6v2.6h-2.6z"/><path d="M470.7 67.4h2.6v2.6h-2.6z"/><path d="M471.0 67.4h2.6v2.6h-2.6z"/><path d="M471.0 66.0h2.6v2.6h-2.6z"/><path d="M471.3 64.4h2.6v2.6h-2.6z"/><path d="M469.4 62.9h2.6v2.6h-2.6z"/><path d="M471.1 63.0h2.6v2.6h-2.6z"/><path d="M471.0 61.5h2.6v2.6h-2.6z"/><path d="M472.4 60.7h2.6v2.6h-2.6z"/><path d="M472.6 60.3h2.6v2.6h-2.6z"/><path d="M473.7 58.6h2.6v2.6h-2.6z"/><path d="M472.6 57.3h2.6v2.6h-2.6z"/><path d="M472.0 57.4h2.6v2.6h-2.6z"/><path d="M474.8 56.1h2.6v2.6h-2.6z"/><path d="M474.1 54.8h2.6v2.6h-2.6z"/><path d="M476.8 55.2h2.6v2.6h-2.6z"/><path d="M473.7 52.6h2.6v2.6h-2.6z"/><path d="M474.4 51.9h2.6v2.6h-2.6z"/><path d="M476.2 51.9h2.6v2.6h-2.6z"/><path d="M474.6 49.2h2.6v2.6h-2.6z"/><path d="M477.0 49.6h2.6v2.6h-2.6z"/><path d="M477.7 49.2h2.6v2.6h-2.6z"/><path d="M478.8 48.6h2.6v2.6h-2.6z"/><path d="M476.6 46.1h2.6v2.6h-2.6z"/><path d="M477.8 45.9h2.6v2.6h-2.6z"/><path d="M477.4 44.6h2.6v2.6h-2.6z"/><path d="M479.5 44.3h2.6v2.6h-2.6z"/><path d="M479.5 43.2h2.6v2.6h-2.6z"/><path d="M479.1 42.4h2.6v2.6h-2.6z"/><path d="M480.5 41.7h2.6v2.6h-2.6z"/><path d="M480.4 40.0h2.6v2.6h-2.6z"/><path d="M478.0 38.4h2.6v2.6h-2.6z"/><path d="M479.3 37.5h2.6v2.6h-2.6z"/><path d="M480.0 36.8h2.6v2.6h-2.6z"/><path d="M482.1 36.1h2.6v2.6h-2.6z"/><path d="M480.9 36.1h2.6v2.6h-2.6z"/><path d="M481.4 35.0h2.6v2.6h-2.6z"/><path d="M483.5 34.7h2.6v2.6h-2.6z"/><path d="M481.5 32.7h2.6v2.6h-2.6z"/><path d="M484.8 32.7h2.6v2.6h-2.6z"/><path d="M484.8 30.8h2.6v2.6h-2.6z"/><path d="M484.6 30.1h2.6v2.6h-2.6z"/><path d="M486.4 29.8h2.6v2.6h-2.6z"/><path d="M487.2 30.0h2.6v2.6h-2.6z"/><path d="M487.8 29.3h2.6v2.6h-2.6z"/><path d="M487.7 28.1h2.6v2.6h-2.6z"/><path d="M487.9 26.9h2.6v2.6h-2.6z"/><path d="M489.9 28.4h2.6v2.6h-2.6z"/><path d="M491.9 27.0h2.6v2.6h-2.6z"/><path d="M490.2 24.2h2.6v2.6h-2.6z"/><path d="M491.8 25.3h2.6v2.6h-2.6z"/><path d="M493.0 26.1h2.6v2.6h-2.6z"/><path d="M494.8 23.4h2.6v2.6h-2.6z"/><path d="M496.0 23.0h2.6v2.6h-2.6z"/><path d="M496.4 22.4h2.6v2.6h-2.6z"/><path d="M497.6 23.3h2.6v2.6h-2.6z"/><path d="M497.1 23.2h2.6v2.6h-2.6z"/><path d="M498.9 23.5h2.6v2.6h-2.6z"/><path d="M499.1 23.4h2.6v2.6h-2.6z"/><path d="M499.8 23.1h2.6v2.6h-2.6z"/><path d="M502.2 23.3h2.6v2.6h-2.6z"/><path d="M503.0 24.4h2.6v2.6h-2.6z"/><path d="M504.0 25.4h2.6v2.6h-2.6z"/><path d="M505.0 25.2h2.6v2.6h-2.6z"/><path d="M505.6 25.6h2.6v2.6h-2.6z"/><path d="M506.6 27.0h2.6v2.6h-2.6z"/><path d="M507.3 26.1h2.6v2.6h-2.6z"/><path d="M507.6 28.3h2.6v2.6h-2.6z"/><path d="M507.7 28.5h2.6v2.6h-2.6z"/><path d="M508.8 29.1h2.6v2.6h-2.6z"/><path d="M508.1 30.3h2.6v2.6h-2.6z"/><path d="M510.2 29.8h2.6v2.6h-2.6z"/><path d="M511.8 31.8h2.6v2.6h-2.6z"/><path d="M512.1 31.1h2.6v2.6h-2.6z"/><path d="M512.1 33.5h2.6v2.6h-2.6z"/><path d="M514.5 32.6h2.6v2.6h-2.6z"/><path d="M515.0 30.3h2.6v2.6h-2.6z"/><path d="M515.3 31.0h2.6v2.6h-2.6z"/><path d="M516.4 30.9h2.6v2.6h-2.6z"/><path d="M518.1 31.2h2.6v2.6h-2.6z"/><path d="M517.5 31.8h2.6v2.6h-2.6z"/><path d="M520.7 31.0h2.6v2.6h-2.6z"/><path d="M521.5 32.6h2.6v2.6h-2.6z"/><path d="M520.7 33.9h2.6v2.6h-2.6z"/><path d="M521.2 33.9h2.6v2.6h-2.6z"/><path d="M523.1 34.9h2.6v2.6h-2.6z"/><path d="M522.2 35.8h2.6v2.6h-2.6z"/><path d="M524.8 36.7h2.6v2.6h-2.6z"/><path d="M524.8 36.5h2.6v2.6h-2.6z"/><path d="M524.7 38.6h2.6v2.6h-2.6z"/><path d="M527.5 37.5h2.6v2.6h-2.6z"/><path d="M526.6 39.6h2.6v2.6h-2.6z"/><path d="M527.6 40.8h2.6v2.6h-2.6z"/><path d="M526.6 41.1h2.6v2.6h-2.6z"/><path d="M531.3 40.4h2.6v2.6h-2.6z"/><path d="M530.0 41.8h2.6v2.6h-2.6z"/><path d="M529.7 42.9h2.6v2.6h-2.6z"/><path d="M530.7 42.2h2.6v2.6h-2.6z"/><path d="M532.5 44.6h2.6v2.6h-2.6z"/><path d="M532.2 46.0h2.6v2.6h-2.6z"/><path d="M534.5 44.6h2.6v2.6h-2.6z"/><path d="M534.6 45.7h2.6v2.6h-2.6z"/><path d="M535.0 47.0h2.6v2.6h-2.6z"/><path d="M535.6 47.3h2.6v2.6h-2.6z"/><path d="M537.3 47.9h2.6v2.6h-2.6z"/><path d="M535.9 49.0h2.6v2.6h-2.6z"/><path d="M537.2 50.9h2.6v2.6h-2.6z"/><path d="M537.9 50.3h2.6v2.6h-2.6z"/><path d="M536.6 51.8h2.6v2.6h-2.6z"/><path d="M538.7 51.9h2.6v2.6h-2.6z"/><path d="M537.9 53.7h2.6v2.6h-2.6z"/><path d="M539.9 54.5h2.6v2.6h-2.6z"/><path d="M541.1 54.1h2.6v2.6h-2.6z"/><path d="M542.7 54.7h2.6v2.6h-2.6z"/><path d="M541.4 56.2h2.6v2.6h-2.6z"/><path d="M542.2 57.3h2.6v2.6h-2.6z"/><path d="M541.1 58.4h2.6v2.6h-2.6z"/><path d="M543.6 58.9h2.6v2.6h-2.6z"/><path d="M544.3 59.7h2.6v2.6h-2.6z"/><path d="M544.5 59.6h2.6v2.6h-2.6z"/><path d="M545.1 62.0h2.6v2.6h-2.6z"/><path d="M545.2 62.7h2.6v2.6h-2.6z"/><path d="M545.4 62.7h2.6v2.6h-2.6z"/><path d="M545.1 64.3h2.6v2.6h-2.6z"/><path d="M547.8 64.4h2.6v2.6h-2.6z"/><path d="M550.4 64.4h2.6v2.6h-2.6z"/><path d="M550.6 65.5h2.6v2.6h-2.6z"/><path d="M550.2 67.1h2.6v2.6h-2.6z"/><path d="M552.1 66.6h2.6v2.6h-2.6z"/><path d="M551.3 68.6h2.6v2.6h-2.6z"/><path d="M551.4 69.7h2.6v2.6h-2.6z"/><path d="M553.3 69.9h2.6v2.6h-2.6z"/><path d="M553.1 70.5h2.6v2.6h-2.6z"/><path d="M554.5 70.9h2.6v2.6h-2.6z"/><path d="M553.1 72.8h2.6v2.6h-2.6z"/><path d="M555.4 73.3h2.6v2.6h-2.6z"/><path d="M554.3 74.5h2.6v2.6h-2.6z"/><path d="M554.3 75.3h2.6v2.6h-2.6z"/><path d="M555.5 75.8h2.6v2.6h-2.6z"/><path d="M556.7 77.4h2.6v2.6h-2.6z"/><path d="M558.6 76.9h2.6v2.6h-2.6z"/><path d="M558.1 76.7h2.6v2.6h-2.6z"/><path d="M557.6 79.7h2.6v2.6h-2.6z"/><path d="M557.7 81.3h2.6v2.6h-2.6z"/><path d="M560.1 80.3h2.6v2.6h-2.6z"/><path d="M559.9 81.4h2.6v2.6h-2.6z"/><path d="M560.9 82.3h2.6v2.6h-2.6z"/><path d="M560.6 82.7h2.6v2.6h-2.6z"/><path d="M562.4 83.4h2.6v2.6h-2.6z"/><path d="M564.9 83.7h2.6v2.6h-2.6z"/><path d="M563.5 85.2h2.6v2.6h-2.6z"/><path d="M562.8 87.3h2.6v2.6h-2.6z"/><path d="M563.3 87.0h2.6v2.6h-2.6z"/><path d="M563.2 88.7h2.6v2.6h-2.6z"/><path d="M566.4 88.9h2.6v2.6h-2.6z"/><path d="M565.7 90.3h2.6v2.6h-2.6z"/><path d="M567.8 88.6h2.6v2.6h-2.6z"/><path d="M567.2 90.2h2.6v2.6h-2.6z"/><path d="M568.0 92.1h2.6v2.6h-2.6z"/><path d="M570.1 91.3h2.6v2.6h-2.6z"/><path d="M566.6 95.5h2.6v2.6h-2.6z"/><path d="M568.7 93.9h2.6v2.6h-2.6z"/><path d="M569.7 96.2h2.6v2.6h-2.6z"/><path d="M570.9 95.9h2.6v2.6h-2.6z"/><path d="M571.1 96.7h2.6v2.6h-2.6z"/><path d="M574.7 95.6h2.6v2.6h-2.6z"/><path d="M572.0 97.7h2.6v2.6h-2.6z"/><path d="M572.0 99.0h2.6v2.6h-2.6z"/><path d="M574.0 100.1h2.6v2.6h-2.6z"/><path d="M574.2 99.6h2.6v2.6h-2.6z"/><path d="M576.3 100.8h2.6v2.6h-2.6z"/><path d="M574.7 102.2h2.6v2.6h-2.6z"/><path d="M575.7 103.2h2.6v2.6h-2.6z"/><path d="M577.0 103.5h2.6v2.6h-2.6z"/><path d="M576.4 105.1h2.6v2.6h-2.6z"/><path d="M579.3 104.5h2.6v2.6h-2.6z"/><path d="M578.7 105.3h2.6v2.6h-2.6z"/><path d="M577.0 108.8h2.6v2.6h-2.6z"/><path d="M580.9 107.4h2.6v2.6h-2.6z"/><path d="M581.7 108.2h2.6v2.6h-2.6z"/><path d="M581.3 108.7h2.6v2.6h-2.6z"/><path d="M581.0 110.8h2.6v2.6h-2.6z"/><path d="M582.5 111.2h2.6v2.6h-2.6z"/><path d="M582.2 111.8h2.6v2.6h-2.6z"/><path d="M583.8 113.1h2.6v2.6h-2.6z"/><path d="M584.3 113.3h2.6v2.6h-2.6z"/><path d="M584.4 113.9h2.6v2.6h-2.6z"/><path d="M583.7 115.8h2.6v2.6h-2.6z"/><path d="M583.9 116.6h2.6v2.6h-2.6z"/><path d="M586.7 116.6h2.6v2.6h-2.6z"/><path d="M585.9 117.9h2.6v2.6h-2.6z"/><path d="M587.9 118.4h2.6v2.6h-2.6z"/><path d="M587.7 119.7h2.6v2.6h-2.6z"/><path d="M588.3 120.2h2.6v2.6h-2.6z"/><path d="M589.6 120.8h2.6v2.6h-2.6z"/><path d="M589.6 121.6h2.6v2.6h-2.6z"/><path d="M588.7 123.3h2.6v2.6h-2.6z"/><path d="M592.5 123.0h2.6v2.6h-2.6z"/><path d="M592.2 123.1h2.6v2.6h-2.6z"/><path d="M593.9 123.9h2.6v2.6h-2.6z"/><path d="M593.6 125.1h2.6v2.6h-2.6z"/><path d="M593.7 126.2h2.6v2.6h-2.6z"/><path d="M593.3 127.8h2.6v2.6h-2.6z"/><path d="M594.5 127.9h2.6v2.6h-2.6z"/><path d="M595.0 128.8h2.6v2.6h-2.6z"/><path d="M595.2 129.9h2.6v2.6h-2.6z"/><path d="M595.8 130.2h2.6v2.6h-2.6z"/><path d="M596.8 130.9h2.6v2.6h-2.6z"/><path d="M597.1 132.0h2.6v2.6h-2.6z"/><path d="M598.5 133.7h2.6v2.6h-2.6z"/><path d="M599.2 132.4h2.6v2.6h-2.6z"/><path d="M599.2 134.8h2.6v2.6h-2.6z"/><path d="M600.2 135.1h2.6v2.6h-2.6z"/><path d="M602.3 135.3h2.6v2.6h-2.6z"/><path d="M602.7 135.6h2.6v2.6h-2.6z"/><path d="M601.8 138.4h2.6v2.6h-2.6z"/><path d="M600.9 138.4h2.6v2.6h-2.6z"/><path d="M603.0 138.8h2.6v2.6h-2.6z"/><path d="M602.8 139.6h2.6v2.6h-2.6z"/><path d="M606.1 140.1h2.6v2.6h-2.6z"/><path d="M606.5 140.5h2.6v2.6h-2.6z"/><path d="M607.0 140.4h2.6v2.6h-2.6z"/><path d="M607.2 143.2h2.6v2.6h-2.6z"/><path d="M608.4 143.4h2.6v2.6h-2.6z"/><path d="M606.8 144.1h2.6v2.6h-2.6z"/><path d="M607.0 146.2h2.6v2.6h-2.6z"/><path d="M609.1 146.0h2.6v2.6h-2.6z"/><path d="M610.9 146.6h2.6v2.6h-2.6z"/><path d="M610.8 146.3h2.6v2.6h-2.6z"/><path d="M611.5 148.9h2.6v2.6h-2.6z"/><path d="M612.7 149.0h2.6v2.6h-2.6z"/><path d="M612.0 149.4h2.6v2.6h-2.6z"/><path d="M613.5 150.0h2.6v2.6h-2.6z"/><path d="M613.9 151.1h2.6v2.6h-2.6z"/><path d="M614.9 152.2h2.6v2.6h-2.6z"/><path d="M616.1 152.9h2.6v2.6h-2.6z"/><path d="M614.6 154.1h2.6v2.6h-2.6z"/><path d="M615.2 154.7h2.6v2.6h-2.6z"/><path d="M616.0 155.1h2.6v2.6h-2.6z"/><path d="M617.0 155.5h2.6v2.6h-2.6z"/><path d="M619.1 155.8h2.6v2.6h-2.6z"/><path d="M617.5 158.5h2.6v2.6h-2.6z"/><path d="M618.7 158.1h2.6v2.6h-2.6z"/><path d="M620.7 158.7h2.6v2.6h-2.6z"/><path d="M618.5 161.0h2.6v2.6h-2.6z"/><path d="M622.5 160.3h2.6v2.6h-2.6z"/><path d="M621.4 160.7h2.6v2.6h-2.6z"/><path d="M621.8 161.6h2.6v2.6h-2.6z"/><path d="M622.1 163.4h2.6v2.6h-2.6z"/><path d="M623.8 163.2h2.6v2.6h-2.6z"/><path d="M624.1 164.1h2.6v2.6h-2.6z"/><path d="M626.3 165.4h2.6v2.6h-2.6z"/><path d="M624.8 166.0h2.6v2.6h-2.6z"/><path d="M624.7 167.4h2.6v2.6h-2.6z"/><path d="M627.2 166.8h2.6v2.6h-2.6z"/><path d="M629.0 168.0h2.6v2.6h-2.6z"/><path d="M628.9 169.1h2.6v2.6h-2.6z"/><path d="M629.0 168.7h2.6v2.6h-2.6z"/><path d="M629.3 169.9h2.6v2.6h-2.6z"/><path d="M629.8 171.2h2.6v2.6h-2.6z"/><path d="M632.9 171.3h2.6v2.6h-2.6z"/><path d="M632.4 172.9h2.6v2.6h-2.6z"/><path d="M631.1 173.4h2.6v2.6h-2.6z"/><path d="M632.6 174.0h2.6v2.6h-2.6z"/><path d="M634.2 174.7h2.6v2.6h-2.6z"/><path d="M634.3 175.7h2.6v2.6h-2.6z"/><path d="M635.0 176.9h2.6v2.6h-2.6z"/><path d="M633.0 178.2h2.6v2.6h-2.6z"/><path d="M635.7 177.8h2.6v2.6h-2.6z"/><path d="M636.3 178.9h2.6v2.6h-2.6z"/><path d="M635.9 180.7h2.6v2.6h-2.6z"/><path d="M635.8 181.0h2.6v2.6h-2.6z"/><path d="M636.9 181.8h2.6v2.6h-2.6z"/><path d="M636.4 183.4h2.6v2.6h-2.6z"/><path d="M638.1 183.9h2.6v2.6h-2.6z"/><path d="M637.9 184.8h2.6v2.6h-2.6z"/><path d="M638.0 186.4h2.6v2.6h-2.6z"/><path d="M636.8 187.1h2.6v2.6h-2.6z"/><path d="M638.5 187.8h2.6v2.6h-2.6z"/><path d="M637.7 189.0h2.6v2.6h-2.6z"/><path d="M639.3 190.5h2.6v2.6h-2.6z"/><path d="M638.2 191.5h2.6v2.6h-2.6z"/><path d="M641.8 190.8h2.6v2.6h-2.6z"/><path d="M639.5 192.7h2.6v2.6h-2.6z"/><path d="M642.0 193.3h2.6v2.6h-2.6z"/><path d="M640.2 194.9h2.6v2.6h-2.6z"/><path d="M639.9 195.1h2.6v2.6h-2.6z"/><path d="M640.3 196.5h2.6v2.6h-2.6z"/><path d="M641.8 197.2h2.6v2.6h-2.6z"/><path d="M642.8 197.8h2.6v2.6h-2.6z"/><path d="M640.6 199.2h2.6v2.6h-2.6z"/><path d="M640.7 201.0h2.6v2.6h-2.6z"/><path d="M643.1 200.3h2.6v2.6h-2.6z"/></g><path d="M433.1 156.9L433.4 156.5L433.7 156.1L434.1 155.6L434.5 155.0L435.0 154.3L435.5 153.6L436.0 152.9L436.5 152.2L437.0 151.5L437.5 150.8L438.0 150.2L438.4 149.5L438.9 148.9L439.4 148.3L439.9 147.7L440.4 147.0L440.8 146.3L441.4 145.5L441.9 144.6L442.4 143.6L442.9 142.5L443.5 141.3L444.1 139.9L444.7 138.5L445.2 137.1L445.8 135.6L446.4 134.1L447.0 132.6L447.6 131.1L448.2 129.6L448.8 128.1L449.4 126.7L449.9 125.2L450.5 123.7L451.1 122.2L451.7 120.7L452.3 119.1L452.8 117.6L453.4 116.1L454.0 114.5L454.6 112.9L455.2 111.2L455.8 109.5L456.4 107.8L457.0 106.1L457.6 104.4L458.2 102.7L458.8 101.1L459.3 99.7L459.8 98.3L460.3 97.1L460.7 96.0L461.1 95.0L461.4 94.0L461.8 93.2L462.1 92.3L462.4 91.4L462.8 90.5L463.1 89.5L463.5 88.5L463.9 87.4L464.2 86.2L464.6 85.0L465.0 83.8L465.4 82.6L465.7 81.4L466.1 80.1L466.5 78.8L466.9 77.6L467.3 76.3L467.7 75.0L468.1 73.7L468.6 72.4L469.0 71.1L469.5 69.8L469.9 68.5L470.4 67.2L470.8 65.8L471.3 64.5L471.7 63.2L472.1 61.9L472.6 60.5L473.0 59.2L473.5 57.8L473.9 56.4L474.3 55.1L474.8 53.7L475.2 52.4L475.7 51.2L476.1 50.0L476.5 48.9L476.9 47.7L477.3 46.7L477.8 45.6L478.2 44.6L478.6 43.6L479.0 42.7L479.4 41.7L479.9 40.7L480.4 39.8L480.9 38.9L481.5 37.9L482.1 37.0L482.6 36.0L483.3 35.1L483.9 34.2L484.5 33.4L485.1 32.6L485.7 31.8L486.3 31.1L486.9 30.5L487.5 29.9L488.0 29.3L488.6 28.8L489.2 28.3L489.8 27.9L490.4 27.4L490.9 27.1L491.5 26.7L492.1 26.4L492.7 26.1L493.3 25.9L493.9 25.6L494.5 25.4L495.1 25.3L495.6 25.2L496.2 25.1L496.8 25.0L497.4 24.9L498.0 24.9L498.6 24.9L499.1 24.9L499.7 25.0L500.3 25.1L500.8 25.2L501.4 25.3L502.0 25.5L502.5 25.6L503.2 25.8L503.8 26.0L504.5 26.2L505.2 26.4L505.9 26.7L506.6 27.0L507.4 27.2L508.1 27.6L508.9 27.9L509.6 28.2L510.4 28.5L511.1 28.9L511.8 29.3L512.6 29.6L513.3 30.0L514.0 30.4L514.8 30.9L515.5 31.3L516.2 31.7L516.9 32.2L517.7 32.7L518.4 33.2L519.1 33.7L519.9 34.3L520.6 34.8L521.3 35.4L522.0 36.0L522.8 36.6L523.5 37.2L524.2 37.8L525.0 38.4L525.7 39.1L526.4 39.8L527.2 40.4L527.9 41.1L528.6 41.9L529.4 42.6L530.1 43.3L530.8 44.1L531.5 44.8L532.3 45.6L533.0 46.4L533.7 47.2L534.5 48.0L535.2 48.9L535.9 49.7L536.6 50.6L537.4 51.4L538.1 52.3L538.8 53.2L539.6 54.2L540.3 55.1L541.0 56.1L541.8 57.1L542.5 58.1L543.2 59.1L543.9 60.2L544.7 61.2L545.4 62.3L546.1 63.3L546.9 64.4L547.6 65.4L548.3 66.4L549.1 67.5L549.9 68.6L550.6 69.6L551.4 70.7L552.1 71.7L552.9 72.8L553.6 73.7L554.3 74.7L554.9 75.6L555.5 76.4L556.0 77.1L556.4 77.8L556.9 78.4L557.3 79.0L557.7 79.7L558.2 80.3L558.7 81.1L559.3 81.9L560.0 82.9L560.8 84.0L561.7 85.2L562.6 86.5L563.6 87.9L564.7 89.3L565.8 90.8L566.8 92.2L567.9 93.7L569.0 95.1L570.0 96.5L571.0 97.9L572.0 99.2L573.0 100.6L574.0 102.0L575.0 103.3L576.0 104.7L577.0 106.0L578.0 107.4L579.0 108.7L580.0 110.0L581.0 111.3L582.0 112.6L583.0 113.8L584.0 115.0L585.0 116.3L586.0 117.5L587.0 118.7L588.0 120.0L589.0 121.2L590.0 122.5L591.0 123.8L592.0 125.1L593.0 126.4L594.0 127.7L595.0 129.1L596.1 130.4L597.1 131.7L598.0 133.0L599.0 134.3L600.0 135.6L601.0 136.8L601.9 138.1L602.8 139.3L603.8 140.5L604.7 141.7L605.6 142.8L606.5 144.0L607.5 145.2L608.4 146.4L609.3 147.6L610.2 148.8L611.2 150.0L612.1 151.3L613.0 152.5L613.9 153.7L614.9 154.9L615.8 156.1L616.7 157.3L617.7 158.5L618.6 159.7L619.5 160.9L620.5 162.0L621.4 163.1L622.3 164.2L623.3 165.3L624.2 166.4L625.1 167.5L626.0 168.6L627.0 169.8L627.9 170.9L628.8 172.1L629.8 173.3L630.7 174.5L631.7 175.8L632.6 177.1L633.5 178.3L634.5 179.5L635.4 180.7L636.2 181.8L637.1 182.9L638.0 183.9L638.8 185.0L639.7 186.1L640.6 187.1L641.4 188.0L642.2 189.0L643.0 189.8L643.6 190.6L644.2 191.2L644.6 191.7" stroke="#e31414" stroke-width="1.80" fill="none" stroke-linejoin="round"/><path d="M433.0 166.7L433.5 166.5L434.0 166.3L434.5 166.1L435.0 165.9L435.5 165.7L436.0 165.5L436.5 165.3L437.0 165.2L437.5 165.0L438.0 164.8L438.5 164.6L439.0 164.4L439.5 164.3L440.0 164.1L440.5 163.9L441.0 163.7L441.5 163.6L442.0 163.4L442.5 163.3L443.0 163.1L443.5 162.9L444.0 162.8L444.5 162.7L445.0 162.5L445.5 162.4L446.0 162.2L446.5 162.1L447.0 162.0L447.5 161.8L448.0 161.7L448.5 161.6L449.0 161.5L449.5 161.3L450.0 161.2L450.5 161.1L451.0 161.0L451.5 160.9L452.0 160.8L452.5 160.7L453.0 160.6L453.5 160.5L454.0 160.4L454.5 160.3L455.0 160.2L455.5 160.2L456.0 160.1L456.5 160.0L457.0 159.9L457.5 159.9L458.0 159.8L458.5 159.7L459.0 159.7L459.5 159.6L460.0 159.6L460.5 159.5L461.0 159.5L461.5 159.4L462.0 159.4L462.5 159.4L463.0 159.3L463.5 159.3L464.0 159.3L464.5 159.3L465.0 159.2L465.5 159.2L466.0 159.2L466.5 159.2L467.0 159.2L467.5 159.2L468.0 159.2L468.5 159.2L469.0 159.2L469.5 159.2L470.0 159.2L470.5 159.3L471.0 159.3L471.5 159.3L472.0 159.3L472.5 159.4L473.0 159.4L473.5 159.5L474.0 159.5L474.5 159.5L475.0 159.6L475.5 159.6L476.0 159.7L476.5 159.8L477.0 159.8L477.5 159.9L478.0 160.0L478.5 160.0L479.0 160.1L479.5 160.2L480.0 160.3L480.5 160.4L481.0 160.4L481.5 160.5L482.0 160.6L482.5 160.7L483.0 160.8L483.5 160.9L484.0 161.0L484.5 161.1L485.0 161.3L485.5 161.4L486.0 161.5L486.5 161.6L487.0 161.7L487.5 161.9L488.0 162.0L488.5 162.1L489.0 162.3L489.5 162.4L490.0 162.6L490.5 162.7L491.0 162.9L491.5 163.0L492.0 163.2L492.5 163.3L493.0 163.5L493.5 163.6L494.0 163.8L494.5 164.0L495.0 164.1L495.5 164.3L496.0 164.5L496.5 164.7L497.0 164.9L497.5 165.0L498.0 165.2L498.5 165.4L499.0 165.6L499.5 165.8L500.0 166.0L500.5 166.2L501.0 166.4L501.5 166.6L502.0 166.8L502.5 167.0L503.0 167.2L503.5 167.4L504.0 167.6L504.5 167.9L505.0 168.1L505.5 168.3L506.0 168.5L506.5 168.7L507.0 169.0L507.5 169.2L508.0 169.4L508.5 169.7L509.0 169.9L509.5 170.1L510.0 170.4L510.5 170.6L511.0 170.8L511.5 171.1L512.0 171.3L512.5 171.6L513.0 171.8L513.5 172.1L514.0 172.3L514.5 172.6L515.0 172.8L515.5 173.1L516.0 173.3L516.5 173.6L517.0 173.8L517.5 174.1L518.0 174.3L518.5 174.6L519.0 174.9L519.5 175.1L520.0 175.4L520.5 175.7L521.0 175.9L521.5 176.2L522.0 176.5L522.5 176.7L523.0 177.0L523.5 177.3L524.0 177.5L524.5 177.8L525.0 178.1L525.5 178.3L526.0 178.6L526.5 178.9L527.0 179.2L527.5 179.4L528.0 179.7L528.5 180.0L529.0 180.3L529.5 180.5L530.0 180.8L530.5 181.1L531.0 181.4L531.5 181.7L532.0 181.9L532.5 182.2L533.0 182.5L533.5 182.8L534.0 183.0L534.5 183.3L535.0 183.6L535.5 183.9L536.0 184.2L536.5 184.4L537.0 184.7L537.5 185.0L538.0 185.3L538.5 185.6L539.0 185.8L539.5 186.1L540.0 186.4L540.5 186.7L541.0 187.0L541.5 187.2L542.0 187.5L542.5 187.8L543.0 188.1L543.5 188.3L544.0 188.6L544.5 188.9L545.0 189.2L545.5 189.4L546.0 189.7L546.5 190.0L547.0 190.2L547.5 190.5L548.0 190.8L548.5 191.1L549.0 191.3L549.5 191.6L550.0 191.9L550.5 192.1L551.0 192.4L551.5 192.7L552.0 192.9L552.5 193.2L553.0 193.5L553.5 193.7L554.0 194.0L554.5 194.2L555.0 194.5L555.5 194.8L556.0 195.0L556.5 195.3L557.0 195.5L557.5 195.8L558.0 196.0L558.5 196.3L559.0 196.5L559.5 196.8L560.0 197.0L560.5 197.3L561.0 197.5L561.5 197.8L562.0 198.0L562.5 198.3L563.0 198.5L563.5 198.7L564.0 199.0L564.5 199.2L565.0 199.5L565.5 199.7L566.0 199.9L566.5 200.2L567.0 200.4L567.5 200.6L568.0 200.8L568.5 201.1L569.0 201.3L569.5 201.5L570.0 201.7L570.5 202.0L571.0 202.2L571.5 202.4L572.0 202.6L572.5 202.8L573.0 203.1L573.5 203.3L574.0 203.5L574.5 203.7L575.0 203.9L575.5 204.1L576.0 204.3L576.5 204.5L577.0 204.7L577.5 204.9L578.0 205.1L578.5 205.3L579.0 205.5L579.5 205.7L580.0 205.9L580.5 206.1L581.0 206.3L581.5 206.5L582.0 206.7L582.5 206.9L583.0 207.0L583.5 207.2L584.0 207.4L584.5 207.6L585.0 207.8L585.5 207.9L586.0 208.1L586.5 208.3L587.0 208.5L587.5 208.6L588.0 208.8L588.5 209.0L589.0 209.1L589.5 209.3L590.0 209.5L590.5 209.6L591.0 209.8L591.5 210.0L592.0 210.1L592.5 210.3L593.0 210.4L593.5 210.6L594.0 210.7L594.5 210.9L595.0 211.0L595.5 211.2L596.0 211.3L596.5 211.5L597.0 211.6L597.5 211.8L598.0 211.9L598.5 212.0L599.0 212.2L599.5 212.3L600.0 212.4L600.5 212.6L601.0 212.7L601.5 212.8L602.0 213.0L602.5 213.1L603.0 213.2L603.5 213.4L604.0 213.5L604.5 213.6L605.0 213.7L605.5 213.8L606.0 214.0L606.5 214.1L607.0 214.2L607.5 214.3L608.0 214.4L608.5 214.5L609.0 214.6L609.5 214.7L610.0 214.9L610.5 215.0L611.0 215.1L611.5 215.2L612.0 215.3L612.5 215.4L613.0 215.5L613.5 215.6L614.0 215.7L614.5 215.8L615.0 215.9L615.5 216.0L616.0 216.1L616.5 216.1L617.0 216.2L617.5 216.3L618.0 216.4L618.5 216.5L619.0 216.6L619.5 216.7L620.0 216.8L620.5 216.8L621.0 216.9L621.5 217.0L622.0 217.1L622.5 217.2L623.0 217.2L623.5 217.3L624.0 217.4L624.5 217.5L625.0 217.5L625.5 217.6L626.0 217.7L626.5 217.7L627.0 217.8L627.5 217.9L628.0 218.0L628.5 218.0L629.0 218.1L629.5 218.1L630.0 218.2L630.5 218.3L631.0 218.3L631.5 218.4L632.0 218.5L632.5 218.5L633.0 218.6L633.5 218.6L634.0 218.7L634.5 218.7L635.0 218.8L635.5 218.9L636.0 218.9L636.5 219.0L637.0 219.0L637.5 219.1L638.0 219.1L638.5 219.2L639.0 219.2L639.5 219.3L640.0 219.3L640.5 219.3L641.0 219.4L641.5 219.4L642.0 219.5L642.5 219.5L643.0 219.6L643.5 219.6" stroke="#2fdc2f" stroke-width="1.90" fill="none" stroke-linejoin="round"/><path d="M433.0 214.6L433.5 214.2L434.0 213.8L434.5 213.4L435.0 213.0L435.5 212.6L436.0 212.1L436.5 211.7L437.0 211.2L437.5 210.7L438.0 210.2L438.5 209.7L439.0 209.2L439.5 208.6L440.0 208.0L440.5 207.5L441.0 206.8L441.5 206.2L442.0 205.6L442.5 204.9L443.0 204.2L443.5 203.5L444.0 202.8L444.5 202.1L445.0 201.3L445.5 200.6L446.0 199.8L446.5 199.0L447.0 198.1L447.5 197.3L448.0 196.4L448.5 195.6L449.0 194.7L449.5 193.7L450.0 192.8L450.5 191.9L451.0 190.9L451.5 189.9L452.0 189.0L452.5 188.0L453.0 186.9L453.5 185.9L454.0 184.9L454.5 183.8L455.0 182.8L455.5 181.7L456.0 180.6L456.5 179.5L457.0 178.4L457.5 177.3L458.0 176.2L458.5 175.1L459.0 174.0L459.5 172.9L460.0 171.8L460.5 170.6L461.0 169.5L461.5 168.4L462.0 167.3L462.5 166.2L463.0 165.1L463.5 164.0L464.0 162.9L464.5 161.8L465.0 160.8L465.5 159.7L466.0 158.7L466.5 157.7L467.0 156.7L467.5 155.7L468.0 154.7L468.5 153.7L469.0 152.8L469.5 151.9L470.0 151.0L470.5 150.2L471.0 149.3L471.5 148.5L472.0 147.7L472.5 147.0L473.0 146.3L473.5 145.6L474.0 144.9L474.5 144.3L475.0 143.7L475.5 143.1L476.0 142.6L476.5 142.1L477.0 141.7L477.5 141.3L478.0 140.9L478.5 140.5L479.0 140.2L479.5 140.0L480.0 139.8L480.5 139.6L481.0 139.5L481.5 139.4L482.0 139.3L482.5 139.3L483.0 139.3L483.5 139.4L484.0 139.5L484.5 139.7L485.0 139.9L485.5 140.1L486.0 140.4L486.5 140.7L487.0 141.0L487.5 141.4L488.0 141.8L488.5 142.3L489.0 142.8L489.5 143.3L490.0 143.9L490.5 144.5L491.0 145.2L491.5 145.8L492.0 146.5L492.5 147.3L493.0 148.0L493.5 148.8L494.0 149.7L494.5 150.5L495.0 151.4L495.5 152.3L496.0 153.2L496.5 154.1L497.0 155.1L497.5 156.1L498.0 157.1L498.5 158.1L499.0 159.1L499.5 160.2L500.0 161.2L500.5 162.3L501.0 163.4L501.5 164.4L502.0 165.5L502.5 166.6L503.0 167.7L503.5 168.9L504.0 170.0L504.5 171.1L505.0 172.2L505.5 173.3L506.0 174.4L506.5 175.6L507.0 176.7L507.5 177.8L508.0 178.9L508.5 180.0L509.0 181.0L509.5 182.1L510.0 183.2L510.5 184.2L511.0 185.3L511.5 186.3L512.0 187.3L512.5 188.4L513.0 189.3L513.5 190.3L514.0 191.3L514.5 192.3L515.0 193.2L515.5 194.1L516.0 195.0L516.5 195.9L517.0 196.8L517.5 197.6L518.0 198.5L518.5 199.3L519.0 200.1L519.5 200.9L520.0 201.6L520.5 202.4L521.0 203.1L521.5 203.8L522.0 204.5L522.5 205.2L523.0 205.8L523.5 206.5L524.0 207.1L524.5 207.7L525.0 208.3L525.5 208.8L526.0 209.4L526.5 209.9L527.0 210.4L527.5 210.9L528.0 211.4L528.5 211.9L529.0 212.3L529.5 212.8L530.0 213.2L530.5 213.6L531.0 214.0L531.5 214.3L532.0 214.7L532.5 215.0L533.0 215.4L533.5 215.7L534.0 216.0L534.5 216.3L535.0 216.6L535.5 216.8L536.0 217.1L536.5 217.3L537.0 217.6L537.5 217.8L538.0 218.0L538.5 218.2L539.0 218.4L539.5 218.6L540.0 218.8L540.5 218.9L541.0 219.1L541.5 219.3L542.0 219.4L542.5 219.5L543.0 219.7L543.5 219.8L544.0 219.9L544.5 220.0L545.0 220.1L545.5 220.2L546.0 220.3L546.5 220.4L547.0 220.5L547.5 220.6L548.0 220.7L548.5 220.7L549.0 220.8L549.5 220.9L550.0 220.9L550.5 221.0L551.0 221.0L551.5 221.1L552.0 221.1L552.5 221.2L553.0 221.2L553.5 221.3L554.0 221.3L554.5 221.3L555.0 221.4L555.5 221.4L556.0 221.4L556.5 221.5L557.0 221.5L557.5 221.5L558.0 221.5L558.5 221.5L559.0 221.6L559.5 221.6L560.0 221.6L560.5 221.6L561.0 221.6L561.5 221.6L562.0 221.7L562.5 221.7L563.0 221.7L563.5 221.7L564.0 221.7L564.5 221.7L565.0 221.7L565.5 221.7L566.0 221.7L566.5 221.7L567.0 221.7L567.5 221.7L568.0 221.7L568.5 221.7L569.0 221.8L569.5 221.8L570.0 221.8L570.5 221.8L571.0 221.8L571.5 221.8L572.0 221.8L572.5 221.8L573.0 221.8L573.5 221.8L574.0 221.8L574.5 221.8L575.0 221.8L575.5 221.8L576.0 221.8L576.5 221.8L577.0 221.8L577.5 221.8L578.0 221.8L578.5 221.8L579.0 221.8L579.5 221.8L580.0 221.8L580.5 221.8L581.0 221.8L581.5 221.8L582.0 221.8L582.5 221.8L583.0 221.8L583.5 221.8L584.0 221.8L584.5 221.8L585.0 221.8L585.5 221.8L586.0 221.8L586.5 221.8L587.0 221.8L587.5 221.8L588.0 221.8L588.5 221.8L589.0 221.8L589.5 221.8L590.0 221.8L590.5 221.8L591.0 221.8L591.5 221.8L592.0 221.8L592.5 221.8L593.0 221.8L593.5 221.8L594.0 221.8L594.5 221.8L595.0 221.8L595.5 221.8L596.0 221.8L596.5 221.8L597.0 221.8L597.5 221.8L598.0 221.8L598.5 221.8L599.0 221.8L599.5 221.8L600.0 221.8L600.5 221.8L601.0 221.8L601.5 221.8L602.0 221.8L602.5 221.8L603.0 221.8L603.5 221.8L604.0 221.8L604.5 221.8L605.0 221.8L605.5 221.8L606.0 221.8L606.5 221.8L607.0 221.8L607.5 221.8L608.0 221.8L608.5 221.8L609.0 221.8L609.5 221.8L610.0 221.8L610.5 221.8L611.0 221.8L611.5 221.8L612.0 221.8L612.5 221.8L613.0 221.8L613.5 221.8L614.0 221.8L614.5 221.8L615.0 221.8L615.5 221.8L616.0 221.8L616.5 221.8L617.0 221.8L617.5 221.8L618.0 221.8L618.5 221.8L619.0 221.8L619.5 221.8L620.0 221.8L620.5 221.8L621.0 221.8L621.5 221.8L622.0 221.8L622.5 221.8L623.0 221.8L623.5 221.8L624.0 221.8L624.5 221.8L625.0 221.8L625.5 221.8L626.0 221.8L626.5 221.8L627.0 221.8L627.5 221.8L628.0 221.8L628.5 221.8L629.0 221.8L629.5 221.8L630.0 221.8L630.5 221.8L631.0 221.8L631.5 221.8L632.0 221.8L632.5 221.8L633.0 221.8L633.5 221.8L634.0 221.8L634.5 221.8L635.0 221.8L635.5 221.8L636.0 221.8L636.5 221.8L637.0 221.8L637.5 221.8L638.0 221.8L638.5 221.8L639.0 221.8L639.5 221.8L640.0 221.8L640.5 221.8L641.0 221.8L641.5 221.8L642.0 221.8L642.5 221.8L643.0 221.8L643.5 221.8" stroke="#2222cc" stroke-width="1.90" fill="none" stroke-linejoin="round"/><path d="M433.0 221.1L433.5 221.0L434.0 221.0L434.5 221.0L435.0 220.9L435.5 220.9L436.0 220.8L436.5 220.8L437.0 220.7L437.5 220.7L438.0 220.6L438.5 220.5L439.0 220.5L439.5 220.4L440.0 220.3L440.5 220.3L441.0 220.2L441.5 220.1L442.0 220.0L442.5 219.9L443.0 219.8L443.5 219.7L444.0 219.6L444.5 219.5L445.0 219.4L445.5 219.3L446.0 219.2L446.5 219.1L447.0 218.9L447.5 218.8L448.0 218.7L448.5 218.5L449.0 218.4L449.5 218.2L450.0 218.0L450.5 217.9L451.0 217.7L451.5 217.5L452.0 217.3L452.5 217.1L453.0 216.9L453.5 216.7L454.0 216.5L454.5 216.3L455.0 216.1L455.5 215.8L456.0 215.6L456.5 215.3L457.0 215.1L457.5 214.8L458.0 214.5L458.5 214.2L459.0 213.9L459.5 213.6L460.0 213.3L460.5 213.0L461.0 212.7L461.5 212.3L462.0 212.0L462.5 211.6L463.0 211.2L463.5 210.8L464.0 210.4L464.5 210.0L465.0 209.6L465.5 209.2L466.0 208.8L466.5 208.3L467.0 207.9L467.5 207.4L468.0 206.9L468.5 206.4L469.0 205.9L469.5 205.4L470.0 204.9L470.5 204.3L471.0 203.8L471.5 203.2L472.0 202.6L472.5 202.1L473.0 201.5L473.5 200.9L474.0 200.2L474.5 199.6L475.0 199.0L475.5 198.3L476.0 197.6L476.5 197.0L477.0 196.3L477.5 195.6L478.0 194.9L478.5 194.1L479.0 193.4L479.5 192.7L480.0 191.9L480.5 191.2L481.0 190.4L481.5 189.6L482.0 188.8L482.5 188.0L483.0 187.2L483.5 186.4L484.0 185.6L484.5 184.8L485.0 183.9L485.5 183.1L486.0 182.2L486.5 181.4L487.0 180.5L487.5 179.6L488.0 178.8L488.5 177.9L489.0 177.0L489.5 176.1L490.0 175.2L490.5 174.3L491.0 173.4L491.5 172.5L492.0 171.6L492.5 170.7L493.0 169.8L493.5 168.9L494.0 168.0L494.5 167.1L495.0 166.2L495.5 165.4L496.0 164.5L496.5 163.6L497.0 162.7L497.5 161.8L498.0 161.0L498.5 160.1L499.0 159.2L499.5 158.4L500.0 157.6L500.5 156.7L501.0 155.9L501.5 155.1L502.0 154.3L502.5 153.5L503.0 152.7L503.5 152.0L504.0 151.2L504.5 150.5L505.0 149.8L505.5 149.1L506.0 148.4L506.5 147.7L507.0 147.0L507.5 146.4L508.0 145.8L508.5 145.2L509.0 144.6L509.5 144.0L510.0 143.5L510.5 142.9L511.0 142.4L511.5 142.0L512.0 141.5L512.5 141.1L513.0 140.6L513.5 140.3L514.0 139.9L514.5 139.5L515.0 139.2L515.5 138.9L516.0 138.6L516.5 138.4L517.0 138.2L517.5 138.0L518.0 137.8L518.5 137.7L519.0 137.5L519.5 137.4L520.0 137.4L520.5 137.3L521.0 137.3L521.5 137.3L522.0 137.3L522.5 137.4L523.0 137.5L523.5 137.6L524.0 137.7L524.5 137.9L525.0 138.1L525.5 138.3L526.0 138.5L526.5 138.8L527.0 139.1L527.5 139.4L528.0 139.7L528.5 140.1L529.0 140.5L529.5 140.9L530.0 141.3L530.5 141.8L531.0 142.2L531.5 142.7L532.0 143.3L532.5 143.8L533.0 144.4L533.5 144.9L534.0 145.5L534.5 146.1L535.0 146.8L535.5 147.4L536.0 148.1L536.5 148.8L537.0 149.5L537.5 150.2L538.0 150.9L538.5 151.7L539.0 152.4L539.5 153.2L540.0 154.0L540.5 154.8L541.0 155.6L541.5 156.4L542.0 157.2L542.5 158.1L543.0 158.9L543.5 159.8L544.0 160.6L544.5 161.5L545.0 162.4L545.5 163.2L546.0 164.1L546.5 165.0L547.0 165.9L547.5 166.8L548.0 167.7L548.5 168.6L549.0 169.5L549.5 170.4L550.0 171.3L550.5 172.2L551.0 173.1L551.5 174.0L552.0 174.9L552.5 175.7L553.0 176.6L553.5 177.5L554.0 178.4L554.5 179.3L555.0 180.1L555.5 181.0L556.0 181.9L556.5 182.7L557.0 183.6L557.5 184.4L558.0 185.3L558.5 186.1L559.0 186.9L559.5 187.7L560.0 188.5L560.5 189.3L561.0 190.1L561.5 190.9L562.0 191.6L562.5 192.4L563.0 193.1L563.5 193.9L564.0 194.6L564.5 195.3L565.0 196.0L565.5 196.7L566.0 197.4L566.5 198.0L567.0 198.7L567.5 199.3L568.0 200.0L568.5 200.6L569.0 201.2L569.5 201.8L570.0 202.4L570.5 203.0L571.0 203.6L571.5 204.1L572.0 204.7L572.5 205.2L573.0 205.7L573.5 206.2L574.0 206.7L574.5 207.2L575.0 207.7L575.5 208.1L576.0 208.6L576.5 209.0L577.0 209.5L577.5 209.9L578.0 210.3L578.5 210.7L579.0 211.1L579.5 211.4L580.0 211.8L580.5 212.2L581.0 212.5L581.5 212.9L582.0 213.2L582.5 213.5L583.0 213.8L583.5 214.1L584.0 214.4L584.5 214.7L585.0 215.0L585.5 215.2L586.0 215.5L586.5 215.7L587.0 216.0L587.5 216.2L588.0 216.4L588.5 216.6L589.0 216.9L589.5 217.1L590.0 217.3L590.5 217.4L591.0 217.6L591.5 217.8L592.0 218.0L592.5 218.1L593.0 218.3L593.5 218.4L594.0 218.6L594.5 218.7L595.0 218.9L595.5 219.0L596.0 219.1L596.5 219.2L597.0 219.4L597.5 219.5L598.0 219.6L598.5 219.7L599.0 219.8L599.5 219.9L600.0 220.0L600.5 220.1L601.0 220.1L601.5 220.2L602.0 220.3L602.5 220.4L603.0 220.4L603.5 220.5L604.0 220.6L604.5 220.6L605.0 220.7L605.5 220.7L606.0 220.8L606.5 220.9L607.0 220.9L607.5 220.9L608.0 221.0L608.5 221.0L609.0 221.1L609.5 221.1L610.0 221.1L610.5 221.2L611.0 221.2L611.5 221.2L612.0 221.3L612.5 221.3L613.0 221.3L613.5 221.4L614.0 221.4L614.5 221.4L615.0 221.4L615.5 221.4L616.0 221.5L616.5 221.5L617.0 221.5L617.5 221.5L618.0 221.5L618.5 221.6L619.0 221.6L619.5 221.6L620.0 221.6L620.5 221.6L621.0 221.6L621.5 221.6L622.0 221.6L622.5 221.6L623.0 221.7L623.5 221.7L624.0 221.7L624.5 221.7L625.0 221.7L625.5 221.7L626.0 221.7L626.5 221.7L627.0 221.7L627.5 221.7L628.0 221.7L628.5 221.7L629.0 221.7L629.5 221.7L630.0 221.7L630.5 221.7L631.0 221.8L631.5 221.8L632.0 221.8L632.5 221.8L633.0 221.8L633.5 221.8L634.0 221.8L634.5 221.8L635.0 221.8L635.5 221.8L636.0 221.8L636.5 221.8L637.0 221.8L637.5 221.8L638.0 221.8L638.5 221.8L639.0 221.8L639.5 221.8L640.0 221.8L640.5 221.8L641.0 221.8L641.5 221.8L642.0 221.8L642.5 221.8L643.0 221.8L643.5 221.8" stroke="#e030e0" stroke-width="1.90" fill="none" stroke-linejoin="round"/><path d="M433.0 221.4L433.5 221.4L434.0 221.4L434.5 221.4L435.0 221.3L435.5 221.3L436.0 221.3L436.5 221.3L437.0 221.3L437.5 221.2L438.0 221.2L438.5 221.2L439.0 221.2L439.5 221.2L440.0 221.1L440.5 221.1L441.0 221.1L441.5 221.1L442.0 221.0L442.5 221.0L443.0 221.0L443.5 221.0L444.0 220.9L444.5 220.9L445.0 220.9L445.5 220.8L446.0 220.8L446.5 220.8L447.0 220.7L447.5 220.7L448.0 220.6L448.5 220.6L449.0 220.6L449.5 220.5L450.0 220.5L450.5 220.4L451.0 220.4L451.5 220.3L452.0 220.3L452.5 220.3L453.0 220.2L453.5 220.1L454.0 220.1L454.5 220.0L455.0 220.0L455.5 219.9L456.0 219.9L456.5 219.8L457.0 219.7L457.5 219.7L458.0 219.6L458.5 219.5L459.0 219.5L459.5 219.4L460.0 219.3L460.5 219.2L461.0 219.2L461.5 219.1L462.0 219.0L462.5 218.9L463.0 218.8L463.5 218.7L464.0 218.7L464.5 218.6L465.0 218.5L465.5 218.4L466.0 218.3L466.5 218.2L467.0 218.1L467.5 218.0L468.0 217.8L468.5 217.7L469.0 217.6L469.5 217.5L470.0 217.4L470.5 217.3L471.0 217.1L471.5 217.0L472.0 216.9L472.5 216.7L473.0 216.6L473.5 216.4L474.0 216.3L474.5 216.2L475.0 216.0L475.5 215.8L476.0 215.7L476.5 215.5L477.0 215.4L477.5 215.2L478.0 215.0L478.5 214.8L479.0 214.7L479.5 214.5L480.0 214.3L480.5 214.1L481.0 213.9L481.5 213.7L482.0 213.5L482.5 213.3L483.0 213.1L483.5 212.9L484.0 212.7L484.5 212.4L485.0 212.2L485.5 212.0L486.0 211.7L486.5 211.5L487.0 211.3L487.5 211.0L488.0 210.8L488.5 210.5L489.0 210.2L489.5 210.0L490.0 209.7L490.5 209.4L491.0 209.1L491.5 208.9L492.0 208.6L492.5 208.3L493.0 208.0L493.5 207.7L494.0 207.4L494.5 207.1L495.0 206.7L495.5 206.4L496.0 206.1L496.5 205.8L497.0 205.4L497.5 205.1L498.0 204.7L498.5 204.4L499.0 204.0L499.5 203.7L500.0 203.3L500.5 202.9L501.0 202.5L501.5 202.1L502.0 201.8L502.5 201.4L503.0 201.0L503.5 200.6L504.0 200.2L504.5 199.7L505.0 199.3L505.5 198.9L506.0 198.5L506.5 198.0L507.0 197.6L507.5 197.2L508.0 196.7L508.5 196.3L509.0 195.8L509.5 195.4L510.0 194.9L510.5 194.4L511.0 193.9L511.5 193.5L512.0 193.0L512.5 192.5L513.0 192.0L513.5 191.5L514.0 191.0L514.5 190.5L515.0 190.0L515.5 189.5L516.0 188.9L516.5 188.4L517.0 187.9L517.5 187.4L518.0 186.8L518.5 186.3L519.0 185.7L519.5 185.2L520.0 184.6L520.5 184.1L521.0 183.5L521.5 183.0L522.0 182.4L522.5 181.9L523.0 181.3L523.5 180.7L524.0 180.1L524.5 179.6L525.0 179.0L525.5 178.4L526.0 177.8L526.5 177.2L527.0 176.7L527.5 176.1L528.0 175.5L528.5 174.9L529.0 174.3L529.5 173.7L530.0 173.1L530.5 172.5L531.0 171.9L531.5 171.3L532.0 170.7L532.5 170.1L533.0 169.5L533.5 168.9L534.0 168.3L534.5 167.7L535.0 167.1L535.5 166.5L536.0 165.9L536.5 165.3L537.0 164.7L537.5 164.1L538.0 163.5L538.5 162.9L539.0 162.4L539.5 161.8L540.0 161.2L540.5 160.6L541.0 160.0L541.5 159.4L542.0 158.9L542.5 158.3L543.0 157.7L543.5 157.1L544.0 156.6L544.5 156.0L545.0 155.5L545.5 154.9L546.0 154.4L546.5 153.8L547.0 153.3L547.5 152.7L548.0 152.2L548.5 151.7L549.0 151.2L549.5 150.6L550.0 150.1L550.5 149.6L551.0 149.1L551.5 148.6L552.0 148.2L552.5 147.7L553.0 147.2L553.5 146.7L554.0 146.3L554.5 145.8L555.0 145.4L555.5 144.9L556.0 144.5L556.5 144.1L557.0 143.7L557.5 143.3L558.0 142.9L558.5 142.5L559.0 142.1L559.5 141.7L560.0 141.3L560.5 141.0L561.0 140.6L561.5 140.3L562.0 140.0L562.5 139.6L563.0 139.3L563.5 139.0L564.0 138.7L564.5 138.5L565.0 138.2L565.5 137.9L566.0 137.7L566.5 137.4L567.0 137.2L567.5 137.0L568.0 136.8L568.5 136.6L569.0 136.4L569.5 136.2L570.0 136.0L570.5 135.9L571.0 135.7L571.5 135.6L572.0 135.5L572.5 135.3L573.0 135.2L573.5 135.1L574.0 135.1L574.5 135.0L575.0 134.9L575.5 134.9L576.0 134.8L576.5 134.8L577.0 134.8L577.5 134.8L578.0 134.8L578.5 134.8L579.0 134.9L579.5 134.9L580.0 135.0L580.5 135.0L581.0 135.1L581.5 135.2L582.0 135.3L582.5 135.4L583.0 135.5L583.5 135.6L584.0 135.8L584.5 135.9L585.0 136.1L585.5 136.3L586.0 136.4L586.5 136.6L587.0 136.8L587.5 137.1L588.0 137.3L588.5 137.5L589.0 137.8L589.5 138.0L590.0 138.3L590.5 138.6L591.0 138.9L591.5 139.2L592.0 139.5L592.5 139.8L593.0 140.1L593.5 140.4L594.0 140.8L594.5 141.1L595.0 141.5L595.5 141.9L596.0 142.2L596.5 142.6L597.0 143.0L597.5 143.4L598.0 143.8L598.5 144.2L599.0 144.7L599.5 145.1L600.0 145.6L600.5 146.0L601.0 146.5L601.5 146.9L602.0 147.4L602.5 147.9L603.0 148.3L603.5 148.8L604.0 149.3L604.5 149.8L605.0 150.3L605.5 150.8L606.0 151.4L606.5 151.9L607.0 152.4L607.5 153.0L608.0 153.5L608.5 154.0L609.0 154.6L609.5 155.1L610.0 155.7L610.5 156.2L611.0 156.8L611.5 157.4L612.0 157.9L612.5 158.5L613.0 159.1L613.5 159.7L614.0 160.2L614.5 160.8L615.0 161.4L615.5 162.0L616.0 162.6L616.5 163.2L617.0 163.8L617.5 164.4L618.0 165.0L618.5 165.6L619.0 166.2L619.5 166.8L620.0 167.4L620.5 168.0L621.0 168.6L621.5 169.2L622.0 169.8L622.5 170.4L623.0 170.9L623.5 171.5L624.0 172.1L624.5 172.7L625.0 173.3L625.5 173.9L626.0 174.5L626.5 175.1L627.0 175.7L627.5 176.3L628.0 176.9L628.5 177.5L629.0 178.1L629.5 178.6L630.0 179.2L630.5 179.8L631.0 180.4L631.5 180.9L632.0 181.5L632.5 182.1L633.0 182.6L633.5 183.2L634.0 183.8L634.5 184.3L635.0 184.9L635.5 185.4L636.0 186.0L636.5 186.5L637.0 187.0L637.5 187.6L638.0 188.1L638.5 188.6L639.0 189.1L639.5 189.7L640.0 190.2L640.5 190.7L641.0 191.2L641.5 191.7L642.0 192.2L642.5 192.7L643.0 193.2L643.5 193.7" stroke="#f08a1e" stroke-width="1.90" fill="none" stroke-linejoin="round"/><text x="454.20" y="154.70" font-size="12.50" font-weight="bold" text-anchor="middle" fill="#111" >a</text><text x="481.10" y="134.20" font-size="12.50" font-weight="bold" text-anchor="middle" fill="#111" >b</text><text x="517.80" y="132.00" font-size="12.50" font-weight="bold" text-anchor="middle" fill="#111" >c</text><text x="572.40" y="130.40" font-size="12.50" font-weight="bold" text-anchor="middle" fill="#111" >d</text><text x="567.60" y="22.80" font-size="10.60" font-weight="normal" text-anchor="start" fill="#151515" stroke="#151515" stroke-width="0.15">Region of 2% ZnO</text><text x="441.60" y="49.90" font-size="13.20" font-weight="bold" text-anchor="middle" fill="#111" >(b)</text><text x="0" y="0" transform="translate(368.70 111.30) rotate(-90)" font-size="13.90" font-weight="bold" text-anchor="middle" fill="#111">PL.Intensity(a.u)</text><text x="535.20" y="251.80" font-size="13.60" font-weight="bold" text-anchor="middle" fill="#111" >Wavelength(nm)</text><g clip-path="url(#cc)"><text x="47.30" y="539.20" font-size="8.90" font-weight="normal" text-anchor="middle" fill="#111" stroke="#111" stroke-width="0.22">400</text><text x="82.04" y="539.20" font-size="8.90" font-weight="normal" text-anchor="middle" fill="#111" stroke="#111" stroke-width="0.22">450</text><text x="116.77" y="539.20" font-size="8.90" font-weight="normal" text-anchor="middle" fill="#111" stroke="#111" stroke-width="0.22">500</text><text x="151.51" y="539.20" font-size="8.90" font-weight="normal" text-anchor="middle" fill="#111" stroke="#111" stroke-width="0.22">550</text><text x="186.25" y="539.20" font-size="8.90" font-weight="normal" text-anchor="middle" fill="#111" stroke="#111" stroke-width="0.22">600</text><text x="220.99" y="539.20" font-size="8.90" font-weight="normal" text-anchor="middle" fill="#111" stroke="#111" stroke-width="0.22">650</text><text x="255.72" y="539.20" font-size="8.90" font-weight="normal" text-anchor="middle" fill="#111" stroke="#111" stroke-width="0.22">700</text><text x="290.46" y="539.20" font-size="8.90" font-weight="normal" text-anchor="middle" fill="#111" stroke="#111" stroke-width="0.22">750</text><text x="325.20" y="539.20" font-size="8.90" font-weight="normal" text-anchor="middle" fill="#111" stroke="#111" stroke-width="0.22">800</text><text x="39.70" y="526.59" font-size="8.90" font-weight="normal" text-anchor="end" fill="#111" stroke="#111" stroke-width="0.22">0</text><text x="39.70" y="508.60" font-size="8.90" font-weight="normal" text-anchor="end" fill="#111" stroke="#111" stroke-width="0.22">200</text><text x="39.70" y="490.61" font-size="8.90" font-weight="normal" text-anchor="end" fill="#111" stroke="#111" stroke-width="0.22">400</text><text x="39.70" y="472.62" font-size="8.90" font-weight="normal" text-anchor="end" fill="#111" stroke="#111" stroke-width="0.22">600</text><text x="39.70" y="454.63" font-size="8.90" font-weight="normal" text-anchor="end" fill="#111" stroke="#111" stroke-width="0.22">800</text><text x="39.70" y="436.64" font-size="8.90" font-weight="normal" text-anchor="end" fill="#111" stroke="#111" stroke-width="0.22">1000</text><text x="39.70" y="418.65" font-size="8.90" font-weight="normal" text-anchor="end" fill="#111" stroke="#111" stroke-width="0.22">1200</text><text x="39.70" y="400.65" font-size="8.90" font-weight="normal" text-anchor="end" fill="#111" stroke="#111" stroke-width="0.22">1400</text><text x="39.70" y="382.66" font-size="8.90" font-weight="normal" text-anchor="end" fill="#111" stroke="#111" stroke-width="0.22">1600</text><text x="39.70" y="364.67" font-size="8.90" font-weight="normal" text-anchor="end" fill="#111" stroke="#111" stroke-width="0.22">1800</text><text x="39.70" y="346.68" font-size="8.90" font-weight="normal" text-anchor="end" fill="#111" stroke="#111" stroke-width="0.22">2000</text><text x="39.70" y="328.69" font-size="8.90" font-weight="normal" text-anchor="end" fill="#111" stroke="#111" stroke-width="0.22">2200</text><text x="39.70" y="310.70" font-size="8.90" font-weight="normal" text-anchor="end" fill="#111" stroke="#111" stroke-width="0.22">2400</text><path d="M47.30 524.60 V529.30 M47.30 299.05 V303.75 M82.04 524.60 V529.30 M82.04 299.05 V303.75 M116.77 524.60 V529.30 M116.77 299.05 V303.75 M151.51 524.60 V529.30 M151.51 299.05 V303.75 M186.25 524.60 V529.30 M186.25 299.05 V303.75 M220.99 524.60 V529.30 M220.99 299.05 V303.75 M255.72 524.60 V529.30 M255.72 299.05 V303.75 M290.46 524.60 V529.30 M290.46 299.05 V303.75 M325.20 524.60 V529.30 M325.20 299.05 V303.75 M64.67 524.60 V527.40 M64.67 299.05 V301.85 M99.41 524.60 V527.40 M99.41 299.05 V301.85 M134.14 524.60 V527.40 M134.14 299.05 V301.85 M168.88 524.60 V527.40 M168.88 299.05 V301.85 M203.62 524.60 V527.40 M203.62 299.05 V301.85 M238.36 524.60 V527.40 M238.36 299.05 V301.85 M273.09 524.60 V527.40 M273.09 299.05 V301.85 M307.83 524.60 V527.40 M307.83 299.05 V301.85 M47.30 524.29 H42.60 M325.20 524.29 H320.50 M47.30 506.30 H42.60 M325.20 506.30 H320.50 M47.30 488.31 H42.60 M325.20 488.31 H320.50 M47.30 470.32 H42.60 M325.20 470.32 H320.50 M47.30 452.33 H42.60 M325.20 452.33 H320.50 M47.30 434.34 H42.60 M325.20 434.34 H320.50 M47.30 416.35 H42.60 M325.20 416.35 H320.50 M47.30 398.35 H42.60 M325.20 398.35 H320.50 M47.30 380.36 H42.60 M325.20 380.36 H320.50 M47.30 362.37 H42.60 M325.20 362.37 H320.50 M47.30 344.38 H42.60 M325.20 344.38 H320.50 M47.30 326.39 H42.60 M325.20 326.39 H320.50 M47.30 308.40 H42.60 M325.20 308.40 H320.50 M47.30 515.30 H44.50 M325.20 515.30 H322.40 M47.30 497.30 H44.50 M325.20 497.30 H322.40 M47.30 479.31 H44.50 M325.20 479.31 H322.40 M47.30 461.32 H44.50 M325.20 461.32 H322.40 M47.30 443.33 H44.50 M325.20 443.33 H322.40 M47.30 425.34 H44.50 M325.20 425.34 H322.40 M47.30 407.35 H44.50 M325.20 407.35 H322.40 M47.30 389.36 H44.50 M325.20 389.36 H322.40 M47.30 371.37 H44.50 M325.20 371.37 H322.40 M47.30 353.38 H44.50 M325.20 353.38 H322.40 M47.30 335.39 H44.50 M325.20 335.39 H322.40 M47.30 317.40 H44.50 M325.20 317.40 H322.40" stroke="#262626" stroke-width="1" fill="none"/><path d="M47.30 299.05 V524.60" stroke="#262626" stroke-width="1.15" fill="none" stroke-linecap="square"/><path d="M325.20 299.05 V528.40" stroke="#262626" stroke-width="1.15" fill="none" stroke-linecap="square"/><path d="M44.80 299.05 H325.20" stroke="#7c7c7c" stroke-width="1.55" fill="none"/><path d="M42.90 524.60 H325.20" stroke="#262626" stroke-width="1.15" fill="none" stroke-linecap="square"/></g><path d="M75.1 481.5L76.0 481.2L77.0 480.7L77.9 480.3L78.8 479.8L79.7 479.4L80.6 479.0L81.5 478.7L82.4 478.3L83.3 478.0L84.3 477.6L85.2 477.2L86.1 476.7L86.9 476.1L87.7 475.6L88.5 475.0L89.3 474.3L90.1 473.7L90.8 473.0L91.5 472.3L92.1 471.5L92.7 470.7L93.3 469.8L93.8 469.0L94.4 468.2L95.1 467.5L95.8 466.7L96.5 466.0L97.2 465.3L97.8 464.5L98.4 463.7L98.9 462.9L99.4 462.0L99.7 461.0L100.1 460.1L100.4 459.1L100.9 458.2L101.4 457.4L102.0 456.6L102.6 455.7L103.1 454.9L103.7 454.1L104.2 453.2L104.6 452.3L105.0 451.4L105.5 450.5L105.9 449.6L106.3 448.7L106.7 447.8L107.0 446.8L107.2 445.8L107.4 444.8L107.5 443.8L107.7 442.8L108.0 441.9L108.4 440.9L108.8 440.0L109.2 439.1L109.7 438.2L110.1 437.3L110.5 436.4L110.8 435.4L111.0 434.4L111.2 433.4L111.4 432.4L111.6 431.5L111.9 430.5L112.3 429.6L112.7 428.7L113.1 427.8L113.6 426.9L114.0 425.9L114.3 425.0L114.7 424.1L115.1 423.1L115.5 422.2L116.0 421.3L116.4 420.4L116.7 419.4L116.9 418.5L117.1 417.5L117.3 416.5L117.4 415.5L117.6 414.5L117.8 413.5L118.1 412.5L118.4 411.6L118.7 410.6L119.0 409.7L119.3 408.7L119.6 407.8L119.9 406.8L120.1 405.9L120.4 404.9L120.7 403.9L121.0 403.0L121.2 402.0L121.4 401.0L121.4 400.0L121.4 399.0L121.4 397.9L121.4 396.9L121.6 395.9L121.9 395.0L122.4 394.0L122.9 393.1L123.4 392.2L123.9 391.3L124.2 390.4L124.4 389.4L124.5 388.4L124.7 387.4L124.8 386.4L124.9 385.4L125.2 384.4L125.3 383.5L125.4 382.4L125.5 381.4L125.5 380.4L125.6 379.4L125.8 378.4L126.1 377.4L126.6 376.5L127.2 375.7L127.7 374.8L128.2 373.9L128.6 373.0L128.8 372.0L129.0 371.0L129.1 370.0L129.3 369.0L129.4 368.0L129.7 367.0L130.0 366.1L130.2 365.1L130.5 364.1L130.7 363.1L130.9 362.2L131.2 361.2L131.7 360.3L132.2 359.4L132.8 358.6L133.4 357.7L134.0 356.9L134.4 355.9L134.7 355.0L134.9 354.0L135.1 353.0L135.3 352.0L135.5 351.0L135.8 350.1L136.2 349.2L136.6 348.2L137.0 347.3L137.5 346.4L137.9 345.5L138.3 344.6L138.6 343.7L138.8 342.7L139.0 341.7L139.2 340.7L139.4 339.7L139.8 338.7L140.3 337.8L140.9 337.0L141.6 336.2L142.3 335.5L142.9 334.7L143.5 333.9L143.9 333.0L144.2 332.0L144.5 331.0L144.9 330.0L145.4 329.1L146.0 328.3L146.7 327.5L147.5 326.8L148.3 326.2L149.1 325.6L150.0 325.1L150.9 324.6L151.8 324.1L152.7 323.7L153.7 323.3L154.7 323.1L155.7 322.9L156.7 322.8L157.7 322.6L158.7 322.4L159.7 322.2L160.7 322.0L161.7 321.9L162.7 321.9L163.7 322.1L164.7 322.3L165.7 322.6L166.7 322.9L167.7 323.2L168.6 323.6L169.5 324.0L170.4 324.5L171.3 324.9L172.2 325.3L173.1 325.8L173.9 326.4L174.7 327.0L175.5 327.6L176.3 328.3L177.0 328.9L177.8 329.6L178.5 330.3L179.3 331.0L179.9 331.7L180.5 332.5L181.1 333.3L181.7 334.1L182.4 334.9L183.1 335.6L183.8 336.3L184.6 337.0L185.3 337.6L186.1 338.3L186.7 339.1L187.3 339.9L187.9 340.7L188.4 341.6L188.9 342.5L189.4 343.4L190.0 344.2L190.6 344.9L191.3 345.6L192.1 346.3L192.8 347.0L193.5 347.8L194.2 348.5L194.8 349.3L195.4 350.1L195.9 350.9L196.5 351.8L197.1 352.6L197.7 353.4L198.4 354.1L199.1 354.8L199.8 355.5L200.5 356.2L201.2 356.9L201.9 357.7L202.5 358.5L203.1 359.3L203.6 360.1L204.2 361.0L204.7 361.8L205.3 362.6L206.0 363.4L206.6 364.1L207.3 364.9L208.0 365.6L208.6 366.4L209.3 367.1L210.1 367.8L210.9 368.4L211.8 369.0L212.6 369.5L213.5 370.1L214.2 370.9L214.8 371.7L215.3 372.5L215.8 373.5L216.2 374.4L216.7 375.2L217.3 376.1L217.9 376.8L218.6 377.6L219.3 378.3L220.0 379.0L220.6 379.8L221.2 380.6L221.7 381.5L222.1 382.4L222.4 383.4L222.8 384.3L223.2 385.3L223.7 386.2L224.2 387.0L224.7 387.8L225.3 388.7L225.9 389.5L226.4 390.3L227.0 391.2L227.5 392.0L228.0 392.9L228.6 393.7L229.1 394.6L229.6 395.5L230.2 396.3L230.8 397.1L231.6 397.7L232.4 398.4L233.2 399.0L234.0 399.7L234.6 400.4L235.2 401.2L235.8 402.1L236.3 402.9L236.9 403.7L237.5 404.5L238.1 405.3L238.8 406.0L239.4 406.8L240.0 407.6L240.6 408.4L241.3 409.2L242.0 409.9L242.7 410.6L243.4 411.4L244.1 412.1L244.8 412.8L245.5 413.5L246.3 414.2L247.0 414.8L247.8 415.4L248.5 416.1L249.2 416.8L249.9 417.5L250.5 418.2L251.2 419.0L252.0 419.6L252.8 420.2L253.7 420.8L254.5 421.5L255.2 422.2L255.8 422.9L256.3 423.8L256.8 424.7L257.4 425.6L257.9 426.4L258.5 427.2L259.3 427.9L260.1 428.5L260.9 429.1L261.7 429.7L262.5 430.3L263.2 431.0L263.9 431.8L264.4 432.6L265.0 433.5L265.5 434.3L266.1 435.2L266.8 435.9L267.4 436.7L268.0 437.5L268.6 438.3L269.2 439.1L269.8 439.9L270.5 440.7L271.2 441.4L272.0 442.0L272.9 442.5L273.8 443.1L274.6 443.6L275.4 444.3L276.0 445.1L276.6 445.9L277.1 446.8L277.6 447.7L278.2 448.6L278.9 449.3L279.7 449.9L280.5 450.5L281.4 451.0L282.2 451.6L282.9 452.2L283.7 452.9L284.4 453.6L285.1 454.2L285.9 455.0L286.5 455.8L287.0 456.6L287.4 457.6L287.8 458.5L288.2 459.4L288.6 460.3L289.0 461.3L289.4 462.2L289.7 463.1L290.1 464.1L290.4 465.0L290.6 466.0L290.9 467.0L291.2 467.9L291.6 468.8L291.9 469.8L292.3 470.7L292.6 471.7L292.9 472.6L293.3 473.6L293.8 474.5L294.4 475.3L294.9 476.1L295.6 476.9" stroke="#000" stroke-width="4.80" fill="none" stroke-linejoin="round" stroke-linecap="round"/><g stroke="#000" stroke-width="0.80" fill="#fff"><path d="M77.9 480.3h2.6v2.6h-2.6z"/><path d="M78.1 479.7h2.6v2.6h-2.6z"/><path d="M77.9 479.6h2.6v2.6h-2.6z"/><path d="M79.6 478.6h2.6v2.6h-2.6z"/><path d="M79.9 479.4h2.6v2.6h-2.6z"/><path d="M80.1 476.5h2.6v2.6h-2.6z"/><path d="M81.9 478.8h2.6v2.6h-2.6z"/><path d="M83.8 476.8h2.6v2.6h-2.6z"/><path d="M83.3 476.9h2.6v2.6h-2.6z"/><path d="M85.4 477.8h2.6v2.6h-2.6z"/><path d="M85.7 475.9h2.6v2.6h-2.6z"/><path d="M87.9 475.8h2.6v2.6h-2.6z"/><path d="M87.9 475.8h2.6v2.6h-2.6z"/><path d="M89.1 474.8h2.6v2.6h-2.6z"/><path d="M89.8 474.0h2.6v2.6h-2.6z"/><path d="M89.3 473.7h2.6v2.6h-2.6z"/><path d="M90.5 473.4h2.6v2.6h-2.6z"/><path d="M91.4 472.1h2.6v2.6h-2.6z"/><path d="M92.3 471.2h2.6v2.6h-2.6z"/><path d="M94.4 471.4h2.6v2.6h-2.6z"/><path d="M95.5 471.4h2.6v2.6h-2.6z"/><path d="M95.6 469.8h2.6v2.6h-2.6z"/><path d="M94.4 468.7h2.6v2.6h-2.6z"/><path d="M96.4 468.0h2.6v2.6h-2.6z"/><path d="M97.0 467.2h2.6v2.6h-2.6z"/><path d="M96.8 466.1h2.6v2.6h-2.6z"/><path d="M97.1 464.8h2.6v2.6h-2.6z"/><path d="M98.9 465.2h2.6v2.6h-2.6z"/><path d="M99.6 464.4h2.6v2.6h-2.6z"/><path d="M99.0 463.0h2.6v2.6h-2.6z"/><path d="M101.2 462.4h2.6v2.6h-2.6z"/><path d="M100.7 461.7h2.6v2.6h-2.6z"/><path d="M100.1 460.4h2.6v2.6h-2.6z"/><path d="M101.8 460.3h2.6v2.6h-2.6z"/><path d="M100.2 458.4h2.6v2.6h-2.6z"/><path d="M102.4 457.4h2.6v2.6h-2.6z"/><path d="M104.9 457.3h2.6v2.6h-2.6z"/><path d="M105.4 456.8h2.6v2.6h-2.6z"/><path d="M104.4 456.0h2.6v2.6h-2.6z"/><path d="M104.0 454.2h2.6v2.6h-2.6z"/><path d="M105.1 454.1h2.6v2.6h-2.6z"/><path d="M105.0 452.7h2.6v2.6h-2.6z"/><path d="M107.3 452.2h2.6v2.6h-2.6z"/><path d="M106.8 451.7h2.6v2.6h-2.6z"/><path d="M107.0 450.9h2.6v2.6h-2.6z"/><path d="M108.0 448.9h2.6v2.6h-2.6z"/><path d="M108.1 448.8h2.6v2.6h-2.6z"/><path d="M108.8 447.9h2.6v2.6h-2.6z"/><path d="M109.2 446.6h2.6v2.6h-2.6z"/><path d="M109.3 445.9h2.6v2.6h-2.6z"/><path d="M108.8 444.0h2.6v2.6h-2.6z"/><path d="M110.1 443.5h2.6v2.6h-2.6z"/><path d="M108.2 442.2h2.6v2.6h-2.6z"/><path d="M109.1 442.2h2.6v2.6h-2.6z"/><path d="M107.2 440.1h2.6v2.6h-2.6z"/><path d="M110.4 439.3h2.6v2.6h-2.6z"/><path d="M110.8 439.3h2.6v2.6h-2.6z"/><path d="M110.8 438.3h2.6v2.6h-2.6z"/><path d="M111.1 436.7h2.6v2.6h-2.6z"/><path d="M113.0 436.3h2.6v2.6h-2.6z"/><path d="M111.2 435.1h2.6v2.6h-2.6z"/><path d="M114.7 434.9h2.6v2.6h-2.6z"/><path d="M113.8 433.0h2.6v2.6h-2.6z"/><path d="M114.3 432.8h2.6v2.6h-2.6z"/><path d="M113.1 431.4h2.6v2.6h-2.6z"/><path d="M114.3 430.6h2.6v2.6h-2.6z"/><path d="M112.1 429.1h2.6v2.6h-2.6z"/><path d="M115.8 428.7h2.6v2.6h-2.6z"/><path d="M115.3 427.7h2.6v2.6h-2.6z"/><path d="M114.9 427.1h2.6v2.6h-2.6z"/><path d="M114.6 425.8h2.6v2.6h-2.6z"/><path d="M117.4 424.5h2.6v2.6h-2.6z"/><path d="M117.2 424.7h2.6v2.6h-2.6z"/><path d="M116.9 423.0h2.6v2.6h-2.6z"/><path d="M116.0 421.4h2.6v2.6h-2.6z"/><path d="M119.5 420.8h2.6v2.6h-2.6z"/><path d="M117.8 419.8h2.6v2.6h-2.6z"/><path d="M118.3 418.4h2.6v2.6h-2.6z"/><path d="M118.2 418.2h2.6v2.6h-2.6z"/><path d="M118.3 416.6h2.6v2.6h-2.6z"/><path d="M118.4 415.8h2.6v2.6h-2.6z"/><path d="M118.8 415.5h2.6v2.6h-2.6z"/><path d="M119.8 413.7h2.6v2.6h-2.6z"/><path d="M118.9 412.7h2.6v2.6h-2.6z"/><path d="M120.2 412.7h2.6v2.6h-2.6z"/><path d="M119.3 410.6h2.6v2.6h-2.6z"/><path d="M120.6 409.8h2.6v2.6h-2.6z"/><path d="M121.7 409.6h2.6v2.6h-2.6z"/><path d="M120.5 407.7h2.6v2.6h-2.6z"/><path d="M122.2 407.3h2.6v2.6h-2.6z"/><path d="M120.7 406.8h2.6v2.6h-2.6z"/><path d="M120.9 404.8h2.6v2.6h-2.6z"/><path d="M123.2 404.1h2.6v2.6h-2.6z"/><path d="M123.0 403.2h2.6v2.6h-2.6z"/><path d="M121.4 402.7h2.6v2.6h-2.6z"/><path d="M121.1 401.3h2.6v2.6h-2.6z"/><path d="M124.8 401.4h2.6v2.6h-2.6z"/><path d="M121.2 399.2h2.6v2.6h-2.6z"/><path d="M122.4 398.7h2.6v2.6h-2.6z"/><path d="M121.5 397.3h2.6v2.6h-2.6z"/><path d="M125.0 396.6h2.6v2.6h-2.6z"/><path d="M124.9 395.4h2.6v2.6h-2.6z"/><path d="M123.4 394.3h2.6v2.6h-2.6z"/><path d="M124.8 393.4h2.6v2.6h-2.6z"/><path d="M123.5 392.6h2.6v2.6h-2.6z"/><path d="M123.7 392.0h2.6v2.6h-2.6z"/><path d="M125.7 391.1h2.6v2.6h-2.6z"/><path d="M126.2 389.7h2.6v2.6h-2.6z"/><path d="M124.6 388.5h2.6v2.6h-2.6z"/><path d="M126.2 388.0h2.6v2.6h-2.6z"/><path d="M123.8 386.9h2.6v2.6h-2.6z"/><path d="M126.1 385.9h2.6v2.6h-2.6z"/><path d="M126.1 385.1h2.6v2.6h-2.6z"/><path d="M126.6 383.8h2.6v2.6h-2.6z"/><path d="M127.5 382.8h2.6v2.6h-2.6z"/><path d="M127.5 382.2h2.6v2.6h-2.6z"/><path d="M128.0 381.7h2.6v2.6h-2.6z"/><path d="M130.9 380.6h2.6v2.6h-2.6z"/><path d="M126.5 378.7h2.6v2.6h-2.6z"/><path d="M126.6 378.4h2.6v2.6h-2.6z"/><path d="M127.6 377.6h2.6v2.6h-2.6z"/><path d="M126.3 375.9h2.6v2.6h-2.6z"/><path d="M129.3 374.6h2.6v2.6h-2.6z"/><path d="M129.5 374.7h2.6v2.6h-2.6z"/><path d="M129.5 372.8h2.6v2.6h-2.6z"/><path d="M129.9 372.7h2.6v2.6h-2.6z"/><path d="M128.8 371.2h2.6v2.6h-2.6z"/><path d="M131.5 371.0h2.6v2.6h-2.6z"/><path d="M130.1 369.1h2.6v2.6h-2.6z"/><path d="M132.2 368.7h2.6v2.6h-2.6z"/><path d="M132.5 368.0h2.6v2.6h-2.6z"/><path d="M130.9 366.3h2.6v2.6h-2.6z"/><path d="M133.1 366.2h2.6v2.6h-2.6z"/><path d="M133.7 365.6h2.6v2.6h-2.6z"/><path d="M133.2 363.8h2.6v2.6h-2.6z"/><path d="M133.6 363.4h2.6v2.6h-2.6z"/><path d="M133.3 362.3h2.6v2.6h-2.6z"/><path d="M133.1 361.0h2.6v2.6h-2.6z"/><path d="M133.4 359.8h2.6v2.6h-2.6z"/><path d="M134.0 359.5h2.6v2.6h-2.6z"/><path d="M132.4 357.8h2.6v2.6h-2.6z"/><path d="M135.7 357.4h2.6v2.6h-2.6z"/><path d="M134.7 356.2h2.6v2.6h-2.6z"/><path d="M134.7 355.6h2.6v2.6h-2.6z"/><path d="M134.3 354.0h2.6v2.6h-2.6z"/><path d="M136.3 353.6h2.6v2.6h-2.6z"/><path d="M137.0 352.3h2.6v2.6h-2.6z"/><path d="M135.9 351.8h2.6v2.6h-2.6z"/><path d="M136.2 350.9h2.6v2.6h-2.6z"/><path d="M137.0 350.1h2.6v2.6h-2.6z"/><path d="M137.8 349.2h2.6v2.6h-2.6z"/><path d="M137.8 347.5h2.6v2.6h-2.6z"/><path d="M138.9 347.4h2.6v2.6h-2.6z"/><path d="M138.4 345.9h2.6v2.6h-2.6z"/><path d="M137.8 344.5h2.6v2.6h-2.6z"/><path d="M138.4 344.0h2.6v2.6h-2.6z"/><path d="M141.1 343.4h2.6v2.6h-2.6z"/><path d="M142.6 342.9h2.6v2.6h-2.6z"/><path d="M141.5 341.9h2.6v2.6h-2.6z"/><path d="M141.6 341.1h2.6v2.6h-2.6z"/><path d="M141.6 339.5h2.6v2.6h-2.6z"/><path d="M141.5 338.8h2.6v2.6h-2.6z"/><path d="M142.3 337.2h2.6v2.6h-2.6z"/><path d="M143.1 337.0h2.6v2.6h-2.6z"/><path d="M144.2 336.0h2.6v2.6h-2.6z"/><path d="M141.4 334.6h2.6v2.6h-2.6z"/><path d="M143.4 333.0h2.6v2.6h-2.6z"/><path d="M143.4 332.5h2.6v2.6h-2.6z"/><path d="M144.1 332.7h2.6v2.6h-2.6z"/><path d="M145.3 330.8h2.6v2.6h-2.6z"/><path d="M145.5 329.9h2.6v2.6h-2.6z"/><path d="M145.9 329.0h2.6v2.6h-2.6z"/><path d="M145.7 327.7h2.6v2.6h-2.6z"/><path d="M145.6 327.0h2.6v2.6h-2.6z"/><path d="M149.5 327.1h2.6v2.6h-2.6z"/><path d="M148.5 326.5h2.6v2.6h-2.6z"/><path d="M149.9 326.0h2.6v2.6h-2.6z"/><path d="M151.5 326.3h2.6v2.6h-2.6z"/><path d="M151.7 324.6h2.6v2.6h-2.6z"/><path d="M152.5 325.3h2.6v2.6h-2.6z"/><path d="M153.3 324.5h2.6v2.6h-2.6z"/><path d="M154.0 323.5h2.6v2.6h-2.6z"/><path d="M153.6 322.1h2.6v2.6h-2.6z"/><path d="M156.2 323.0h2.6v2.6h-2.6z"/><path d="M156.3 321.7h2.6v2.6h-2.6z"/><path d="M157.4 322.6h2.6v2.6h-2.6z"/><path d="M159.2 322.2h2.6v2.6h-2.6z"/><path d="M159.8 320.8h2.6v2.6h-2.6z"/><path d="M161.6 321.9h2.6v2.6h-2.6z"/><path d="M161.4 321.1h2.6v2.6h-2.6z"/><path d="M161.6 323.2h2.6v2.6h-2.6z"/><path d="M162.8 322.3h2.6v2.6h-2.6z"/><path d="M164.7 320.1h2.6v2.6h-2.6z"/><path d="M166.1 320.7h2.6v2.6h-2.6z"/><path d="M165.7 322.4h2.6v2.6h-2.6z"/><path d="M166.8 322.8h2.6v2.6h-2.6z"/><path d="M169.5 322.9h2.6v2.6h-2.6z"/><path d="M169.7 322.5h2.6v2.6h-2.6z"/><path d="M169.2 322.8h2.6v2.6h-2.6z"/><path d="M172.3 321.5h2.6v2.6h-2.6z"/><path d="M171.4 323.6h2.6v2.6h-2.6z"/><path d="M173.0 323.2h2.6v2.6h-2.6z"/><path d="M172.9 325.5h2.6v2.6h-2.6z"/><path d="M173.0 326.5h2.6v2.6h-2.6z"/><path d="M173.9 326.0h2.6v2.6h-2.6z"/><path d="M176.8 325.7h2.6v2.6h-2.6z"/><path d="M177.3 326.6h2.6v2.6h-2.6z"/><path d="M177.8 327.4h2.6v2.6h-2.6z"/><path d="M177.0 329.3h2.6v2.6h-2.6z"/><path d="M180.0 329.8h2.6v2.6h-2.6z"/><path d="M180.4 328.9h2.6v2.6h-2.6z"/><path d="M181.1 330.2h2.6v2.6h-2.6z"/><path d="M182.0 331.3h2.6v2.6h-2.6z"/><path d="M182.1 331.2h2.6v2.6h-2.6z"/><path d="M183.8 332.6h2.6v2.6h-2.6z"/><path d="M182.8 333.5h2.6v2.6h-2.6z"/><path d="M184.8 334.0h2.6v2.6h-2.6z"/><path d="M186.1 334.4h2.6v2.6h-2.6z"/><path d="M185.2 335.1h2.6v2.6h-2.6z"/><path d="M187.0 335.4h2.6v2.6h-2.6z"/><path d="M186.1 336.5h2.6v2.6h-2.6z"/><path d="M187.5 336.7h2.6v2.6h-2.6z"/><path d="M188.2 337.6h2.6v2.6h-2.6z"/><path d="M190.1 337.5h2.6v2.6h-2.6z"/><path d="M190.2 339.0h2.6v2.6h-2.6z"/><path d="M190.5 340.1h2.6v2.6h-2.6z"/><path d="M191.9 340.9h2.6v2.6h-2.6z"/><path d="M192.2 342.4h2.6v2.6h-2.6z"/><path d="M191.8 342.5h2.6v2.6h-2.6z"/><path d="M192.0 343.3h2.6v2.6h-2.6z"/><path d="M193.9 343.4h2.6v2.6h-2.6z"/><path d="M194.4 344.7h2.6v2.6h-2.6z"/><path d="M195.0 345.0h2.6v2.6h-2.6z"/><path d="M194.3 346.3h2.6v2.6h-2.6z"/><path d="M196.6 347.1h2.6v2.6h-2.6z"/><path d="M198.5 347.3h2.6v2.6h-2.6z"/><path d="M197.7 348.5h2.6v2.6h-2.6z"/><path d="M199.6 348.3h2.6v2.6h-2.6z"/><path d="M198.5 350.2h2.6v2.6h-2.6z"/><path d="M198.8 351.4h2.6v2.6h-2.6z"/><path d="M198.6 352.4h2.6v2.6h-2.6z"/><path d="M200.9 353.0h2.6v2.6h-2.6z"/><path d="M201.1 354.1h2.6v2.6h-2.6z"/><path d="M200.7 354.3h2.6v2.6h-2.6z"/><path d="M202.7 354.7h2.6v2.6h-2.6z"/><path d="M204.3 355.0h2.6v2.6h-2.6z"/><path d="M202.0 357.6h2.6v2.6h-2.6z"/><path d="M203.4 356.9h2.6v2.6h-2.6z"/><path d="M204.4 357.6h2.6v2.6h-2.6z"/><path d="M206.0 357.4h2.6v2.6h-2.6z"/><path d="M207.5 360.0h2.6v2.6h-2.6z"/><path d="M207.2 360.6h2.6v2.6h-2.6z"/><path d="M209.9 360.1h2.6v2.6h-2.6z"/><path d="M208.7 361.4h2.6v2.6h-2.6z"/><path d="M210.7 361.2h2.6v2.6h-2.6z"/><path d="M211.2 362.2h2.6v2.6h-2.6z"/><path d="M209.8 365.0h2.6v2.6h-2.6z"/><path d="M208.6 366.3h2.6v2.6h-2.6z"/><path d="M210.9 367.0h2.6v2.6h-2.6z"/><path d="M213.6 365.8h2.6v2.6h-2.6z"/><path d="M214.8 366.2h2.6v2.6h-2.6z"/><path d="M212.7 368.6h2.6v2.6h-2.6z"/><path d="M215.0 367.4h2.6v2.6h-2.6z"/><path d="M216.0 368.6h2.6v2.6h-2.6z"/><path d="M214.7 370.1h2.6v2.6h-2.6z"/><path d="M216.1 370.3h2.6v2.6h-2.6z"/><path d="M216.6 372.1h2.6v2.6h-2.6z"/><path d="M218.9 372.0h2.6v2.6h-2.6z"/><path d="M219.7 372.3h2.6v2.6h-2.6z"/><path d="M219.4 372.7h2.6v2.6h-2.6z"/><path d="M219.4 375.1h2.6v2.6h-2.6z"/><path d="M221.4 374.4h2.6v2.6h-2.6z"/><path d="M219.9 376.4h2.6v2.6h-2.6z"/><path d="M221.1 377.1h2.6v2.6h-2.6z"/><path d="M221.8 377.2h2.6v2.6h-2.6z"/><path d="M223.0 378.9h2.6v2.6h-2.6z"/><path d="M222.4 379.6h2.6v2.6h-2.6z"/><path d="M222.9 380.7h2.6v2.6h-2.6z"/><path d="M224.2 380.8h2.6v2.6h-2.6z"/><path d="M225.6 381.5h2.6v2.6h-2.6z"/><path d="M224.9 382.5h2.6v2.6h-2.6z"/><path d="M224.4 385.0h2.6v2.6h-2.6z"/><path d="M225.3 385.5h2.6v2.6h-2.6z"/><path d="M226.9 385.7h2.6v2.6h-2.6z"/><path d="M225.6 386.7h2.6v2.6h-2.6z"/><path d="M225.0 387.7h2.6v2.6h-2.6z"/><path d="M228.0 388.3h2.6v2.6h-2.6z"/><path d="M228.5 388.3h2.6v2.6h-2.6z"/><path d="M230.6 388.7h2.6v2.6h-2.6z"/><path d="M231.2 390.6h2.6v2.6h-2.6z"/><path d="M230.7 391.2h2.6v2.6h-2.6z"/><path d="M232.2 391.9h2.6v2.6h-2.6z"/><path d="M231.6 392.7h2.6v2.6h-2.6z"/><path d="M233.2 393.7h2.6v2.6h-2.6z"/><path d="M234.3 393.8h2.6v2.6h-2.6z"/><path d="M233.9 395.7h2.6v2.6h-2.6z"/><path d="M235.0 396.2h2.6v2.6h-2.6z"/><path d="M235.1 397.2h2.6v2.6h-2.6z"/><path d="M233.4 398.8h2.6v2.6h-2.6z"/><path d="M236.3 398.5h2.6v2.6h-2.6z"/><path d="M235.8 398.8h2.6v2.6h-2.6z"/><path d="M237.8 400.1h2.6v2.6h-2.6z"/><path d="M237.0 400.9h2.6v2.6h-2.6z"/><path d="M236.6 403.3h2.6v2.6h-2.6z"/><path d="M239.7 401.9h2.6v2.6h-2.6z"/><path d="M241.3 402.7h2.6v2.6h-2.6z"/><path d="M239.3 404.0h2.6v2.6h-2.6z"/><path d="M241.9 404.7h2.6v2.6h-2.6z"/><path d="M241.5 405.8h2.6v2.6h-2.6z"/><path d="M240.9 406.8h2.6v2.6h-2.6z"/><path d="M241.4 407.0h2.6v2.6h-2.6z"/><path d="M242.7 408.6h2.6v2.6h-2.6z"/><path d="M243.3 409.2h2.6v2.6h-2.6z"/><path d="M244.2 408.8h2.6v2.6h-2.6z"/><path d="M245.3 409.3h2.6v2.6h-2.6z"/><path d="M246.0 411.0h2.6v2.6h-2.6z"/><path d="M248.1 410.9h2.6v2.6h-2.6z"/><path d="M248.3 412.3h2.6v2.6h-2.6z"/><path d="M247.7 412.7h2.6v2.6h-2.6z"/><path d="M249.8 412.5h2.6v2.6h-2.6z"/><path d="M250.1 413.1h2.6v2.6h-2.6z"/><path d="M252.8 413.6h2.6v2.6h-2.6z"/><path d="M251.1 415.2h2.6v2.6h-2.6z"/><path d="M250.0 417.0h2.6v2.6h-2.6z"/><path d="M254.4 416.0h2.6v2.6h-2.6z"/><path d="M253.0 416.9h2.6v2.6h-2.6z"/><path d="M255.5 417.3h2.6v2.6h-2.6z"/><path d="M255.7 418.4h2.6v2.6h-2.6z"/><path d="M256.7 419.7h2.6v2.6h-2.6z"/><path d="M255.4 421.7h2.6v2.6h-2.6z"/><path d="M258.4 420.1h2.6v2.6h-2.6z"/><path d="M256.0 423.3h2.6v2.6h-2.6z"/><path d="M259.0 422.6h2.6v2.6h-2.6z"/><path d="M258.3 424.1h2.6v2.6h-2.6z"/><path d="M258.5 424.1h2.6v2.6h-2.6z"/><path d="M259.9 424.9h2.6v2.6h-2.6z"/><path d="M260.2 426.2h2.6v2.6h-2.6z"/><path d="M262.2 425.6h2.6v2.6h-2.6z"/><path d="M262.1 427.5h2.6v2.6h-2.6z"/><path d="M264.0 427.3h2.6v2.6h-2.6z"/><path d="M265.7 427.7h2.6v2.6h-2.6z"/><path d="M264.8 429.6h2.6v2.6h-2.6z"/><path d="M264.9 430.6h2.6v2.6h-2.6z"/><path d="M265.8 430.5h2.6v2.6h-2.6z"/><path d="M266.0 432.2h2.6v2.6h-2.6z"/><path d="M265.6 432.4h2.6v2.6h-2.6z"/><path d="M267.7 434.2h2.6v2.6h-2.6z"/><path d="M267.2 434.6h2.6v2.6h-2.6z"/><path d="M267.2 435.1h2.6v2.6h-2.6z"/><path d="M269.1 435.5h2.6v2.6h-2.6z"/><path d="M270.0 436.1h2.6v2.6h-2.6z"/><path d="M271.2 436.6h2.6v2.6h-2.6z"/><path d="M270.6 437.8h2.6v2.6h-2.6z"/><path d="M272.0 437.9h2.6v2.6h-2.6z"/><path d="M273.9 438.4h2.6v2.6h-2.6z"/><path d="M274.4 439.9h2.6v2.6h-2.6z"/><path d="M274.9 439.9h2.6v2.6h-2.6z"/><path d="M274.8 441.1h2.6v2.6h-2.6z"/><path d="M275.1 442.9h2.6v2.6h-2.6z"/><path d="M275.6 443.1h2.6v2.6h-2.6z"/><path d="M278.1 443.5h2.6v2.6h-2.6z"/><path d="M278.5 444.4h2.6v2.6h-2.6z"/><path d="M278.1 443.9h2.6v2.6h-2.6z"/><path d="M276.6 447.2h2.6v2.6h-2.6z"/><path d="M280.0 445.6h2.6v2.6h-2.6z"/><path d="M280.6 445.8h2.6v2.6h-2.6z"/><path d="M281.9 447.4h2.6v2.6h-2.6z"/><path d="M281.5 448.3h2.6v2.6h-2.6z"/><path d="M282.4 448.7h2.6v2.6h-2.6z"/><path d="M284.4 449.4h2.6v2.6h-2.6z"/><path d="M285.4 450.2h2.6v2.6h-2.6z"/><path d="M287.1 448.7h2.6v2.6h-2.6z"/><path d="M286.6 451.7h2.6v2.6h-2.6z"/><path d="M286.7 452.0h2.6v2.6h-2.6z"/><path d="M287.7 453.2h2.6v2.6h-2.6z"/><path d="M286.9 453.5h2.6v2.6h-2.6z"/><path d="M288.8 455.1h2.6v2.6h-2.6z"/><path d="M287.8 455.4h2.6v2.6h-2.6z"/><path d="M289.3 456.5h2.6v2.6h-2.6z"/><path d="M290.2 457.9h2.6v2.6h-2.6z"/><path d="M290.2 458.0h2.6v2.6h-2.6z"/><path d="M290.1 458.9h2.6v2.6h-2.6z"/><path d="M290.4 459.4h2.6v2.6h-2.6z"/><path d="M291.8 461.3h2.6v2.6h-2.6z"/><path d="M288.8 463.1h2.6v2.6h-2.6z"/><path d="M292.1 462.9h2.6v2.6h-2.6z"/><path d="M290.5 463.7h2.6v2.6h-2.6z"/><path d="M292.8 464.5h2.6v2.6h-2.6z"/><path d="M291.8 466.3h2.6v2.6h-2.6z"/><path d="M291.8 467.1h2.6v2.6h-2.6z"/><path d="M293.3 467.6h2.6v2.6h-2.6z"/><path d="M294.8 468.4h2.6v2.6h-2.6z"/><path d="M294.0 469.6h2.6v2.6h-2.6z"/><path d="M294.8 469.7h2.6v2.6h-2.6z"/><path d="M294.8 470.9h2.6v2.6h-2.6z"/><path d="M296.1 472.0h2.6v2.6h-2.6z"/><path d="M295.4 473.0h2.6v2.6h-2.6z"/><path d="M296.4 473.2h2.6v2.6h-2.6z"/><path d="M298.7 473.8h2.6v2.6h-2.6z"/></g><path d="M78.1 483.0L78.4 482.8L78.9 482.6L79.4 482.4L80.0 482.1L80.6 481.8L81.3 481.4L82.0 481.1L82.6 480.8L83.3 480.4L83.9 480.1L84.5 479.8L85.1 479.5L85.6 479.2L86.2 478.9L86.8 478.5L87.4 478.2L88.0 477.8L88.5 477.5L89.1 477.0L89.7 476.6L90.3 476.1L90.9 475.6L91.4 475.1L92.0 474.6L92.6 474.0L93.2 473.4L93.8 472.8L94.3 472.1L94.9 471.5L95.5 470.8L96.1 470.1L96.7 469.4L97.2 468.6L97.8 467.9L98.4 467.1L99.0 466.3L99.6 465.5L100.1 464.6L100.7 463.7L101.3 462.7L101.9 461.7L102.5 460.6L103.1 459.5L103.7 458.4L104.3 457.2L104.9 456.0L105.4 454.8L106.0 453.6L106.6 452.3L107.1 451.1L107.6 449.9L108.1 448.6L108.6 447.4L109.1 446.1L109.5 444.8L110.0 443.6L110.4 442.3L110.9 440.9L111.3 439.6L111.8 438.3L112.3 436.9L112.7 435.6L113.2 434.2L113.7 432.8L114.2 431.4L114.6 429.9L115.1 428.5L115.6 427.1L116.0 425.8L116.4 424.4L116.8 423.1L117.2 421.7L117.5 420.4L117.9 419.1L118.3 417.8L118.6 416.5L118.9 415.3L119.3 414.0L119.6 412.8L119.9 411.6L120.2 410.4L120.5 409.3L120.8 408.3L121.1 407.2L121.4 406.2L121.6 405.1L121.9 404.0L122.2 402.9L122.5 401.7L122.8 400.5L123.1 399.2L123.4 397.8L123.7 396.4L124.0 394.9L124.4 393.4L124.7 391.9L125.0 390.4L125.4 388.8L125.7 387.3L126.1 385.8L126.5 384.3L126.9 382.7L127.3 381.2L127.8 379.6L128.2 378.1L128.7 376.5L129.1 375.0L129.6 373.4L130.1 371.9L130.5 370.5L130.9 369.1L131.4 367.7L131.8 366.3L132.3 365.0L132.7 363.7L133.1 362.4L133.6 361.1L134.0 359.8L134.5 358.5L134.9 357.3L135.3 356.1L135.8 354.8L136.2 353.6L136.6 352.4L137.1 351.3L137.5 350.1L137.9 349.0L138.3 347.9L138.8 346.8L139.2 345.7L139.6 344.7L140.1 343.6L140.5 342.6L141.0 341.6L141.4 340.6L141.8 339.7L142.3 338.8L142.7 337.9L143.2 337.0L143.6 336.2L144.0 335.4L144.5 334.7L144.9 333.9L145.3 333.2L145.7 332.6L146.1 331.9L146.6 331.3L147.0 330.7L147.5 330.2L148.0 329.6L148.5 329.1L149.1 328.5L149.6 328.0L150.2 327.5L150.8 327.1L151.4 326.6L152.0 326.2L152.6 325.9L153.2 325.5L153.8 325.2L154.4 324.9L155.0 324.7L155.6 324.5L156.2 324.4L156.8 324.2L157.3 324.1L157.9 324.0L158.5 323.9L159.1 323.9L159.7 323.8L160.3 323.7L160.9 323.7L161.5 323.7L162.1 323.7L162.7 323.7L163.3 323.7L163.9 323.7L164.4 323.7L165.0 323.8L165.5 323.8L166.0 323.8L166.5 323.8L166.9 323.8L167.3 323.8L167.7 323.8L168.2 323.9L168.6 323.9L169.0 324.0L169.5 324.1L170.0 324.3L170.5 324.5L171.1 324.8L171.6 325.1L172.2 325.4L172.8 325.8L173.4 326.2L174.0 326.6L174.6 327.0L175.2 327.4L175.8 327.8L176.4 328.2L177.0 328.6L177.5 329.1L178.1 329.5L178.7 330.0L179.3 330.4L179.9 330.9L180.4 331.4L181.0 331.9L181.6 332.4L182.2 332.9L182.8 333.5L183.3 334.0L183.9 334.6L184.5 335.1L185.1 335.7L185.7 336.3L186.2 336.9L186.8 337.6L187.4 338.2L188.0 338.9L188.6 339.5L189.1 340.2L189.7 340.9L190.3 341.6L190.9 342.3L191.5 343.1L192.0 343.8L192.6 344.5L193.2 345.2L193.8 345.9L194.4 346.6L194.9 347.3L195.5 348.0L196.1 348.7L196.7 349.3L197.3 350.0L197.8 350.7L198.4 351.4L199.0 352.1L199.6 352.8L200.2 353.5L200.7 354.2L201.3 354.9L201.9 355.6L202.5 356.3L203.1 357.0L203.6 357.7L204.2 358.4L204.8 359.1L205.4 359.8L206.0 360.5L206.6 361.3L207.2 362.0L207.8 362.7L208.4 363.4L209.0 364.1L209.5 364.8L210.1 365.5L210.6 366.1L211.1 366.7L211.5 367.2L212.0 367.7L212.4 368.2L212.8 368.6L213.2 369.1L213.6 369.5L214.1 370.1L214.5 370.6L215.0 371.2L215.5 371.8L216.1 372.5L216.6 373.2L217.2 373.9L217.8 374.7L218.4 375.5L219.0 376.3L219.6 377.1L220.2 377.9L220.8 378.8L221.4 379.7L222.0 380.7L222.6 381.6L223.2 382.7L223.8 383.7L224.3 384.7L224.9 385.7L225.5 386.8L226.1 387.7L226.7 388.7L227.3 389.6L227.9 390.5L228.4 391.4L229.0 392.3L229.6 393.2L230.2 394.1L230.8 394.9L231.3 395.7L231.9 396.6L232.5 397.4L233.1 398.2L233.7 399.0L234.3 399.8L234.9 400.6L235.4 401.4L236.0 402.1L236.6 402.9L237.2 403.6L237.8 404.3L238.4 405.0L239.0 405.7L239.6 406.3L240.1 406.9L240.7 407.5L241.3 408.1L241.9 408.7L242.5 409.2L243.0 409.8L243.6 410.3L244.2 410.9L244.8 411.4L245.4 412.0L245.9 412.5L246.5 412.9L247.1 413.4L247.7 413.9L248.3 414.4L248.8 414.9L249.4 415.5L250.0 416.1L250.6 416.7L251.1 417.3L251.6 418.0L252.1 418.6L252.7 419.3L253.2 420.0L253.8 420.7L254.4 421.5L255.1 422.3L255.9 423.2L256.8 424.2L257.7 425.2L258.7 426.3L259.7 427.5L260.8 428.7L261.9 429.9L263.0 431.1L264.1 432.3L265.2 433.5L266.3 434.7L267.3 435.8L268.4 437.0L269.4 438.1L270.5 439.3L271.6 440.4L272.6 441.6L273.7 442.8L274.7 443.9L275.8 445.1L276.8 446.2L277.8 447.3L278.9 448.5L279.9 449.6L280.9 450.8L281.9 451.9L283.0 453.1L284.0 454.2L285.1 455.4L286.1 456.6L287.2 457.7L288.4 458.9L289.6 460.2L290.9 461.5L292.3 462.9L293.6 464.2L294.9 465.4L296.1 466.6L297.1 467.6L298.0 468.5L298.7 469.2" stroke="#a82222" stroke-width="2.60" fill="none" stroke-linejoin="round"/><path d="M77.0 489.6L77.5 489.5L78.0 489.3L78.5 489.2L79.0 489.1L79.5 488.9L80.0 488.8L80.5 488.7L81.0 488.5L81.5 488.4L82.0 488.2L82.5 488.1L83.0 488.0L83.5 487.8L84.0 487.7L84.5 487.6L85.0 487.4L85.5 487.3L86.0 487.1L86.5 487.0L87.0 486.9L87.5 486.7L88.0 486.6L88.5 486.5L89.0 486.3L89.5 486.2L90.0 486.0L90.5 485.9L91.0 485.8L91.5 485.6L92.0 485.5L92.5 485.4L93.0 485.2L93.5 485.1L94.0 485.0L94.5 484.8L95.0 484.7L95.5 484.6L96.0 484.5L96.5 484.3L97.0 484.2L97.5 484.1L98.0 483.9L98.5 483.8L99.0 483.7L99.5 483.6L100.0 483.4L100.5 483.3L101.0 483.2L101.5 483.1L102.0 482.9L102.5 482.8L103.0 482.7L103.5 482.6L104.0 482.5L104.5 482.3L105.0 482.2L105.5 482.1L106.0 482.0L106.5 481.9L107.0 481.8L107.5 481.7L108.0 481.5L108.5 481.4L109.0 481.3L109.5 481.2L110.0 481.1L110.5 481.0L111.0 480.9L111.5 480.8L112.0 480.7L112.5 480.6L113.0 480.5L113.5 480.4L114.0 480.3L114.5 480.2L115.0 480.1L115.5 480.0L116.0 479.9L116.5 479.9L117.0 479.8L117.5 479.7L118.0 479.6L118.5 479.5L119.0 479.4L119.5 479.4L120.0 479.3L120.5 479.2L121.0 479.1L121.5 479.0L122.0 479.0L122.5 478.9L123.0 478.8L123.5 478.8L124.0 478.7L124.5 478.6L125.0 478.6L125.5 478.5L126.0 478.5L126.5 478.4L127.0 478.3L127.5 478.3L128.0 478.2L128.5 478.2L129.0 478.1L129.5 478.1L130.0 478.0L130.5 478.0L131.0 478.0L131.5 477.9L132.0 477.9L132.5 477.8L133.0 477.8L133.5 477.8L134.0 477.7L134.5 477.7L135.0 477.7L135.5 477.7L136.0 477.6L136.5 477.6L137.0 477.6L137.5 477.6L138.0 477.6L138.5 477.5L139.0 477.5L139.5 477.5L140.0 477.5L140.5 477.5L141.0 477.5L141.5 477.5L142.0 477.5L142.5 477.5L143.0 477.5L143.5 477.5L144.0 477.5L144.5 477.5L145.0 477.5L145.5 477.5L146.0 477.6L146.5 477.6L147.0 477.6L147.5 477.6L148.0 477.6L148.5 477.7L149.0 477.7L149.5 477.7L150.0 477.7L150.5 477.8L151.0 477.8L151.5 477.8L152.0 477.9L152.5 477.9L153.0 478.0L153.5 478.0L154.0 478.0L154.5 478.1L155.0 478.1L155.5 478.2L156.0 478.2L156.5 478.3L157.0 478.3L157.5 478.4L158.0 478.5L158.5 478.5L159.0 478.6L159.5 478.6L160.0 478.7L160.5 478.8L161.0 478.8L161.5 478.9L162.0 479.0L162.5 479.0L163.0 479.1L163.5 479.2L164.0 479.3L164.5 479.4L165.0 479.4L165.5 479.5L166.0 479.6L166.5 479.7L167.0 479.8L167.5 479.9L168.0 479.9L168.5 480.0L169.0 480.1L169.5 480.2L170.0 480.3L170.5 480.4L171.0 480.5L171.5 480.6L172.0 480.7L172.5 480.8L173.0 480.9L173.5 481.0L174.0 481.1L174.5 481.2L175.0 481.3L175.5 481.4L176.0 481.5L176.5 481.7L177.0 481.8L177.5 481.9L178.0 482.0L178.5 482.1L179.0 482.2L179.5 482.3L180.0 482.5L180.5 482.6L181.0 482.7L181.5 482.8L182.0 482.9L182.5 483.1L183.0 483.2L183.5 483.3L184.0 483.4L184.5 483.6L185.0 483.7L185.5 483.8L186.0 483.9L186.5 484.1L187.0 484.2L187.5 484.3L188.0 484.5L188.5 484.6L189.0 484.7L189.5 484.8L190.0 485.0L190.5 485.1L191.0 485.2L191.5 485.4L192.0 485.5L192.5 485.6L193.0 485.8L193.5 485.9L194.0 486.0L194.5 486.2L195.0 486.3L195.5 486.5L196.0 486.6L196.5 486.7L197.0 486.9L197.5 487.0L198.0 487.1L198.5 487.3L199.0 487.4L199.5 487.6L200.0 487.7L200.5 487.8L201.0 488.0L201.5 488.1L202.0 488.2L202.5 488.4L203.0 488.5L203.5 488.7L204.0 488.8L204.5 488.9L205.0 489.1L205.5 489.2L206.0 489.3L206.5 489.5L207.0 489.6L207.5 489.8L208.0 489.9L208.5 490.0L209.0 490.2L209.5 490.3L210.0 490.4L210.5 490.6L211.0 490.7L211.5 490.8L212.0 491.0L212.5 491.1L213.0 491.2L213.5 491.4L214.0 491.5L214.5 491.6L215.0 491.8L215.5 491.9L216.0 492.0L216.5 492.2L217.0 492.3L217.5 492.4L218.0 492.6L218.5 492.7L219.0 492.8L219.5 492.9L220.0 493.1L220.5 493.2L221.0 493.3L221.5 493.5L222.0 493.6L222.5 493.7L223.0 493.8L223.5 493.9L224.0 494.1L224.5 494.2L225.0 494.3L225.5 494.4L226.0 494.6L226.5 494.7L227.0 494.8L227.5 494.9L228.0 495.0L228.5 495.1L229.0 495.3L229.5 495.4L230.0 495.5L230.5 495.6L231.0 495.7L231.5 495.8L232.0 495.9L232.5 496.0L233.0 496.2L233.5 496.3L234.0 496.4L234.5 496.5L235.0 496.6L235.5 496.7L236.0 496.8L236.5 496.9L237.0 497.0L237.5 497.1L238.0 497.2L238.5 497.3L239.0 497.4L239.5 497.5L240.0 497.6L240.5 497.7L241.0 497.8L241.5 497.9L242.0 498.0L242.5 498.1L243.0 498.2L243.5 498.3L244.0 498.4L244.5 498.5L245.0 498.5L245.5 498.6L246.0 498.7L246.5 498.8L247.0 498.9L247.5 499.0L248.0 499.1L248.5 499.2L249.0 499.2L249.5 499.3L250.0 499.4L250.5 499.5L251.0 499.6L251.5 499.6L252.0 499.7L252.5 499.8L253.0 499.9L253.5 499.9L254.0 500.0L254.5 500.1L255.0 500.2L255.5 500.2L256.0 500.3L256.5 500.4L257.0 500.5L257.5 500.5L258.0 500.6L258.5 500.7L259.0 500.7L259.5 500.8L260.0 500.9L260.5 500.9L261.0 501.0L261.5 501.0L262.0 501.1L262.5 501.2L263.0 501.2L263.5 501.3L264.0 501.3L264.5 501.4L265.0 501.5L265.5 501.5L266.0 501.6L266.5 501.6L267.0 501.7L267.5 501.7L268.0 501.8L268.5 501.8L269.0 501.9L269.5 501.9L270.0 502.0L270.5 502.0L271.0 502.1L271.5 502.1L272.0 502.2L272.5 502.2L273.0 502.3L273.5 502.3L274.0 502.4L274.5 502.4L275.0 502.5L275.5 502.5L276.0 502.5L276.5 502.6L277.0 502.6L277.5 502.7L278.0 502.7L278.5 502.7L279.0 502.8L279.5 502.8L280.0 502.9L280.5 502.9L281.0 502.9L281.5 503.0L282.0 503.0L282.5 503.0L283.0 503.1L283.5 503.1L284.0 503.1L284.5 503.2L285.0 503.2L285.5 503.2L286.0 503.3L286.5 503.3L287.0 503.3L287.5 503.4L288.0 503.4L288.5 503.4L289.0 503.4L289.5 503.5L290.0 503.5L290.5 503.5L291.0 503.5L291.5 503.6L292.0 503.6L292.5 503.6L293.0 503.6L293.5 503.7L294.0 503.7L294.5 503.7L295.0 503.7L295.5 503.8L296.0 503.8L296.5 503.8L297.0 503.8L297.5 503.9L298.0 503.9L298.5 503.9" stroke="#3fcf3f" stroke-width="1.90" fill="none" stroke-linejoin="round"/><path d="M77.0 504.6L77.5 504.6L78.0 504.5L78.5 504.5L79.0 504.5L79.5 504.5L80.0 504.4L80.5 504.4L81.0 504.4L81.5 504.3L82.0 504.3L82.5 504.2L83.0 504.2L83.5 504.2L84.0 504.1L84.5 504.0L85.0 504.0L85.5 503.9L86.0 503.9L86.5 503.8L87.0 503.7L87.5 503.6L88.0 503.5L88.5 503.4L89.0 503.3L89.5 503.2L90.0 503.1L90.5 503.0L91.0 502.9L91.5 502.7L92.0 502.6L92.5 502.4L93.0 502.3L93.5 502.1L94.0 501.9L94.5 501.7L95.0 501.5L95.5 501.3L96.0 501.1L96.5 500.8L97.0 500.6L97.5 500.3L98.0 500.1L98.5 499.8L99.0 499.5L99.5 499.2L100.0 498.8L100.5 498.5L101.0 498.1L101.5 497.8L102.0 497.4L102.5 497.0L103.0 496.6L103.5 496.1L104.0 495.7L104.5 495.2L105.0 494.7L105.5 494.2L106.0 493.7L106.5 493.2L107.0 492.6L107.5 492.0L108.0 491.4L108.5 490.8L109.0 490.2L109.5 489.6L110.0 488.9L110.5 488.2L111.0 487.5L111.5 486.8L112.0 486.1L112.5 485.3L113.0 484.6L113.5 483.8L114.0 483.0L114.5 482.2L115.0 481.4L115.5 480.6L116.0 479.7L116.5 478.9L117.0 478.0L117.5 477.1L118.0 476.3L118.5 475.4L119.0 474.5L119.5 473.6L120.0 472.7L120.5 471.7L121.0 470.8L121.5 469.9L122.0 469.0L122.5 468.1L123.0 467.2L123.5 466.3L124.0 465.4L124.5 464.5L125.0 463.6L125.5 462.7L126.0 461.9L126.5 461.0L127.0 460.2L127.5 459.4L128.0 458.6L128.5 457.8L129.0 457.0L129.5 456.3L130.0 455.6L130.5 454.9L131.0 454.2L131.5 453.5L132.0 452.9L132.5 452.3L133.0 451.8L133.5 451.3L134.0 450.8L134.5 450.3L135.0 449.9L135.5 449.5L136.0 449.1L136.5 448.8L137.0 448.5L137.5 448.3L138.0 448.1L138.5 447.9L139.0 447.8L139.5 447.7L140.0 447.6L140.5 447.6L141.0 447.6L141.5 447.7L142.0 447.8L142.5 447.9L143.0 448.1L143.5 448.4L144.0 448.6L144.5 448.9L145.0 449.3L145.5 449.6L146.0 450.0L146.5 450.5L147.0 450.9L147.5 451.5L148.0 452.0L148.5 452.6L149.0 453.2L149.5 453.8L150.0 454.5L150.5 455.1L151.0 455.8L151.5 456.6L152.0 457.3L152.5 458.1L153.0 458.9L153.5 459.7L154.0 460.5L154.5 461.4L155.0 462.2L155.5 463.1L156.0 464.0L156.5 464.9L157.0 465.7L157.5 466.6L158.0 467.6L158.5 468.5L159.0 469.4L159.5 470.3L160.0 471.2L160.5 472.1L161.0 473.0L161.5 473.9L162.0 474.8L162.5 475.7L163.0 476.6L163.5 477.5L164.0 478.4L164.5 479.2L165.0 480.1L165.5 480.9L166.0 481.7L166.5 482.5L167.0 483.3L167.5 484.1L168.0 484.9L168.5 485.6L169.0 486.4L169.5 487.1L170.0 487.8L170.5 488.5L171.0 489.2L171.5 489.8L172.0 490.5L172.5 491.1L173.0 491.7L173.5 492.3L174.0 492.8L174.5 493.4L175.0 493.9L175.5 494.4L176.0 494.9L176.5 495.4L177.0 495.9L177.5 496.3L178.0 496.7L178.5 497.1L179.0 497.5L179.5 497.9L180.0 498.3L180.5 498.6L181.0 499.0L181.5 499.3L182.0 499.6L182.5 499.9L183.0 500.2L183.5 500.4L184.0 500.7L184.5 500.9L185.0 501.2L185.5 501.4L186.0 501.6L186.5 501.8L187.0 502.0L187.5 502.2L188.0 502.3L188.5 502.5L189.0 502.6L189.5 502.8L190.0 502.9L190.5 503.0L191.0 503.2L191.5 503.3L192.0 503.4L192.5 503.5L193.0 503.6L193.5 503.6L194.0 503.7L194.5 503.8L195.0 503.9L195.5 503.9L196.0 504.0L196.5 504.1L197.0 504.1L197.5 504.2L198.0 504.2L198.5 504.3L199.0 504.3L199.5 504.3L200.0 504.4L200.5 504.4L201.0 504.4L201.5 504.5L202.0 504.5L202.5 504.5L203.0 504.5L203.5 504.6L204.0 504.6L204.5 504.6L205.0 504.6L205.5 504.6L206.0 504.7L206.5 504.7L207.0 504.7L207.5 504.7L208.0 504.7L208.5 504.7L209.0 504.7L209.5 504.7L210.0 504.7L210.5 504.7L211.0 504.7L211.5 504.7L212.0 504.8L212.5 504.8L213.0 504.8L213.5 504.8L214.0 504.8L214.5 504.8L215.0 504.8L215.5 504.8L216.0 504.8L216.5 504.8L217.0 504.8L217.5 504.8L218.0 504.8L218.5 504.8L219.0 504.8L219.5 504.8L220.0 504.8L220.5 504.8L221.0 504.8L221.5 504.8L222.0 504.8L222.5 504.8L223.0 504.8L223.5 504.8L224.0 504.8L224.5 504.8L225.0 504.8L225.5 504.8L226.0 504.8L226.5 504.8L227.0 504.8L227.5 504.8L228.0 504.8L228.5 504.8L229.0 504.8L229.5 504.8L230.0 504.8L230.5 504.8L231.0 504.8L231.5 504.8L232.0 504.8L232.5 504.8L233.0 504.8L233.5 504.8L234.0 504.8L234.5 504.8L235.0 504.8L235.5 504.8L236.0 504.8L236.5 504.8L237.0 504.8L237.5 504.8L238.0 504.8L238.5 504.8L239.0 504.8L239.5 504.8L240.0 504.8L240.5 504.8L241.0 504.8L241.5 504.8L242.0 504.8L242.5 504.8L243.0 504.8L243.5 504.8L244.0 504.8L244.5 504.8L245.0 504.8L245.5 504.8L246.0 504.8L246.5 504.8L247.0 504.8L247.5 504.8L248.0 504.8L248.5 504.8L249.0 504.8L249.5 504.8L250.0 504.8L250.5 504.8L251.0 504.8L251.5 504.8L252.0 504.8L252.5 504.8L253.0 504.8L253.5 504.8L254.0 504.8L254.5 504.8L255.0 504.8L255.5 504.8L256.0 504.8L256.5 504.8L257.0 504.8L257.5 504.8L258.0 504.8L258.5 504.8L259.0 504.8L259.5 504.8L260.0 504.8L260.5 504.8L261.0 504.8L261.5 504.8L262.0 504.8L262.5 504.8L263.0 504.8L263.5 504.8L264.0 504.8L264.5 504.8L265.0 504.8L265.5 504.8L266.0 504.8L266.5 504.8L267.0 504.8L267.5 504.8L268.0 504.8L268.5 504.8L269.0 504.8L269.5 504.8L270.0 504.8L270.5 504.8L271.0 504.8L271.5 504.8L272.0 504.8L272.5 504.8L273.0 504.8L273.5 504.8L274.0 504.8L274.5 504.8L275.0 504.8L275.5 504.8L276.0 504.8L276.5 504.8L277.0 504.8L277.5 504.8L278.0 504.8L278.5 504.8L279.0 504.8L279.5 504.8L280.0 504.8L280.5 504.8L281.0 504.8L281.5 504.8L282.0 504.8L282.5 504.8L283.0 504.8L283.5 504.8L284.0 504.8L284.5 504.8L285.0 504.8L285.5 504.8L286.0 504.8L286.5 504.8L287.0 504.8L287.5 504.8L288.0 504.8L288.5 504.8L289.0 504.8L289.5 504.8L290.0 504.8L290.5 504.8L291.0 504.8L291.5 504.8L292.0 504.8L292.5 504.8L293.0 504.8L293.5 504.8L294.0 504.8L294.5 504.8L295.0 504.8L295.5 504.8L296.0 504.8L296.5 504.8L297.0 504.8L297.5 504.8L298.0 504.8L298.5 504.8" stroke="#1c1c60" stroke-width="1.90" fill="none" stroke-linejoin="round"/><path d="M77.0 504.6L77.5 504.5L78.0 504.5L78.5 504.5L79.0 504.5L79.5 504.5L80.0 504.5L80.5 504.4L81.0 504.4L81.5 504.4L82.0 504.4L82.5 504.3L83.0 504.3L83.5 504.3L84.0 504.3L84.5 504.2L85.0 504.2L85.5 504.2L86.0 504.1L86.5 504.1L87.0 504.1L87.5 504.0L88.0 504.0L88.5 503.9L89.0 503.9L89.5 503.8L90.0 503.8L90.5 503.7L91.0 503.7L91.5 503.6L92.0 503.6L92.5 503.5L93.0 503.4L93.5 503.4L94.0 503.3L94.5 503.2L95.0 503.1L95.5 503.0L96.0 503.0L96.5 502.9L97.0 502.8L97.5 502.7L98.0 502.6L98.5 502.5L99.0 502.4L99.5 502.2L100.0 502.1L100.5 502.0L101.0 501.9L101.5 501.7L102.0 501.6L102.5 501.5L103.0 501.3L103.5 501.2L104.0 501.0L104.5 500.8L105.0 500.7L105.5 500.5L106.0 500.3L106.5 500.1L107.0 499.9L107.5 499.7L108.0 499.5L108.5 499.3L109.0 499.1L109.5 498.9L110.0 498.6L110.5 498.4L111.0 498.1L111.5 497.9L112.0 497.6L112.5 497.3L113.0 497.0L113.5 496.7L114.0 496.4L114.5 496.1L115.0 495.8L115.5 495.5L116.0 495.2L116.5 494.8L117.0 494.5L117.5 494.1L118.0 493.7L118.5 493.3L119.0 492.9L119.5 492.5L120.0 492.1L120.5 491.7L121.0 491.3L121.5 490.9L122.0 490.4L122.5 489.9L123.0 489.5L123.5 489.0L124.0 488.5L124.5 488.0L125.0 487.5L125.5 487.0L126.0 486.5L126.5 485.9L127.0 485.4L127.5 484.8L128.0 484.2L128.5 483.7L129.0 483.1L129.5 482.5L130.0 481.9L130.5 481.3L131.0 480.6L131.5 480.0L132.0 479.4L132.5 478.7L133.0 478.1L133.5 477.4L134.0 476.7L134.5 476.0L135.0 475.4L135.5 474.7L136.0 474.0L136.5 473.2L137.0 472.5L137.5 471.8L138.0 471.1L138.5 470.3L139.0 469.6L139.5 468.9L140.0 468.1L140.5 467.4L141.0 466.6L141.5 465.9L142.0 465.1L142.5 464.3L143.0 463.6L143.5 462.8L144.0 462.0L144.5 461.3L145.0 460.5L145.5 459.7L146.0 458.9L146.5 458.2L147.0 457.4L147.5 456.7L148.0 455.9L148.5 455.1L149.0 454.4L149.5 453.6L150.0 452.9L150.5 452.2L151.0 451.4L151.5 450.7L152.0 450.0L152.5 449.3L153.0 448.6L153.5 447.9L154.0 447.2L154.5 446.5L155.0 445.8L155.5 445.2L156.0 444.5L156.5 443.9L157.0 443.3L157.5 442.7L158.0 442.1L158.5 441.5L159.0 440.9L159.5 440.4L160.0 439.9L160.5 439.3L161.0 438.8L161.5 438.3L162.0 437.9L162.5 437.4L163.0 437.0L163.5 436.6L164.0 436.2L164.5 435.8L165.0 435.4L165.5 435.1L166.0 434.8L166.5 434.5L167.0 434.2L167.5 433.9L168.0 433.7L168.5 433.5L169.0 433.3L169.5 433.1L170.0 433.0L170.5 432.8L171.0 432.7L171.5 432.6L172.0 432.6L172.5 432.5L173.0 432.5L173.5 432.5L174.0 432.5L174.5 432.6L175.0 432.6L175.5 432.7L176.0 432.8L176.5 433.0L177.0 433.1L177.5 433.3L178.0 433.5L178.5 433.7L179.0 434.0L179.5 434.2L180.0 434.5L180.5 434.8L181.0 435.2L181.5 435.5L182.0 435.9L182.5 436.2L183.0 436.7L183.5 437.1L184.0 437.5L184.5 438.0L185.0 438.4L185.5 438.9L186.0 439.4L186.5 440.0L187.0 440.5L187.5 441.1L188.0 441.6L188.5 442.2L189.0 442.8L189.5 443.4L190.0 444.0L190.5 444.7L191.0 445.3L191.5 446.0L192.0 446.6L192.5 447.3L193.0 448.0L193.5 448.7L194.0 449.4L194.5 450.1L195.0 450.8L195.5 451.6L196.0 452.3L196.5 453.0L197.0 453.8L197.5 454.5L198.0 455.3L198.5 456.0L199.0 456.8L199.5 457.6L200.0 458.3L200.5 459.1L201.0 459.9L201.5 460.6L202.0 461.4L202.5 462.2L203.0 462.9L203.5 463.7L204.0 464.5L204.5 465.2L205.0 466.0L205.5 466.8L206.0 467.5L206.5 468.3L207.0 469.0L207.5 469.8L208.0 470.5L208.5 471.2L209.0 472.0L209.5 472.7L210.0 473.4L210.5 474.1L211.0 474.8L211.5 475.5L212.0 476.2L212.5 476.9L213.0 477.5L213.5 478.2L214.0 478.9L214.5 479.5L215.0 480.1L215.5 480.8L216.0 481.4L216.5 482.0L217.0 482.6L217.5 483.2L218.0 483.8L218.5 484.4L219.0 484.9L219.5 485.5L220.0 486.0L220.5 486.6L221.0 487.1L221.5 487.6L222.0 488.1L222.5 488.6L223.0 489.1L223.5 489.6L224.0 490.0L224.5 490.5L225.0 490.9L225.5 491.4L226.0 491.8L226.5 492.2L227.0 492.6L227.5 493.0L228.0 493.4L228.5 493.8L229.0 494.2L229.5 494.5L230.0 494.9L230.5 495.2L231.0 495.6L231.5 495.9L232.0 496.2L232.5 496.5L233.0 496.8L233.5 497.1L234.0 497.4L234.5 497.6L235.0 497.9L235.5 498.2L236.0 498.4L236.5 498.7L237.0 498.9L237.5 499.1L238.0 499.3L238.5 499.6L239.0 499.8L239.5 500.0L240.0 500.2L240.5 500.4L241.0 500.5L241.5 500.7L242.0 500.9L242.5 501.0L243.0 501.2L243.5 501.3L244.0 501.5L244.5 501.6L245.0 501.8L245.5 501.9L246.0 502.0L246.5 502.2L247.0 502.3L247.5 502.4L248.0 502.5L248.5 502.6L249.0 502.7L249.5 502.8L250.0 502.9L250.5 503.0L251.0 503.1L251.5 503.1L252.0 503.2L252.5 503.3L253.0 503.4L253.5 503.4L254.0 503.5L254.5 503.6L255.0 503.6L255.5 503.7L256.0 503.7L256.5 503.8L257.0 503.8L257.5 503.9L258.0 503.9L258.5 504.0L259.0 504.0L259.5 504.1L260.0 504.1L260.5 504.1L261.0 504.2L261.5 504.2L262.0 504.2L262.5 504.3L263.0 504.3L263.5 504.3L264.0 504.3L264.5 504.4L265.0 504.4L265.5 504.4L266.0 504.4L266.5 504.5L267.0 504.5L267.5 504.5L268.0 504.5L268.5 504.5L269.0 504.5L269.5 504.6L270.0 504.6L270.5 504.6L271.0 504.6L271.5 504.6L272.0 504.6L272.5 504.6L273.0 504.6L273.5 504.7L274.0 504.7L274.5 504.7L275.0 504.7L275.5 504.7L276.0 504.7L276.5 504.7L277.0 504.7L277.5 504.7L278.0 504.7L278.5 504.7L279.0 504.7L279.5 504.7L280.0 504.7L280.5 504.7L281.0 504.7L281.5 504.7L282.0 504.8L282.5 504.8L283.0 504.8L283.5 504.8L284.0 504.8L284.5 504.8L285.0 504.8L285.5 504.8L286.0 504.8L286.5 504.8L287.0 504.8L287.5 504.8L288.0 504.8L288.5 504.8L289.0 504.8L289.5 504.8L290.0 504.8L290.5 504.8L291.0 504.8L291.5 504.8L292.0 504.8L292.5 504.8L293.0 504.8L293.5 504.8L294.0 504.8L294.5 504.8L295.0 504.8L295.5 504.8L296.0 504.8L296.5 504.8L297.0 504.8L297.5 504.8L298.0 504.8L298.5 504.8" stroke="#a63ab8" stroke-width="1.90" fill="none" stroke-linejoin="round"/><path d="M77.0 500.7L77.5 500.6L78.0 500.5L78.5 500.4L79.0 500.3L79.5 500.2L80.0 500.1L80.5 500.0L81.0 499.9L81.5 499.8L82.0 499.7L82.5 499.6L83.0 499.4L83.5 499.3L84.0 499.2L84.5 499.1L85.0 499.0L85.5 498.9L86.0 498.7L86.5 498.6L87.0 498.5L87.5 498.3L88.0 498.2L88.5 498.1L89.0 497.9L89.5 497.8L90.0 497.7L90.5 497.5L91.0 497.4L91.5 497.2L92.0 497.1L92.5 496.9L93.0 496.8L93.5 496.6L94.0 496.4L94.5 496.3L95.0 496.1L95.5 495.9L96.0 495.8L96.5 495.6L97.0 495.4L97.5 495.2L98.0 495.1L98.5 494.9L99.0 494.7L99.5 494.5L100.0 494.3L100.5 494.1L101.0 493.9L101.5 493.7L102.0 493.5L102.5 493.3L103.0 493.1L103.5 492.9L104.0 492.7L104.5 492.4L105.0 492.2L105.5 492.0L106.0 491.8L106.5 491.5L107.0 491.3L107.5 491.1L108.0 490.8L108.5 490.6L109.0 490.3L109.5 490.1L110.0 489.8L110.5 489.6L111.0 489.3L111.5 489.1L112.0 488.8L112.5 488.5L113.0 488.3L113.5 488.0L114.0 487.7L114.5 487.4L115.0 487.1L115.5 486.8L116.0 486.6L116.5 486.3L117.0 486.0L117.5 485.7L118.0 485.4L118.5 485.1L119.0 484.7L119.5 484.4L120.0 484.1L120.5 483.8L121.0 483.5L121.5 483.1L122.0 482.8L122.5 482.5L123.0 482.1L123.5 481.8L124.0 481.5L124.5 481.1L125.0 480.8L125.5 480.4L126.0 480.1L126.5 479.7L127.0 479.3L127.5 479.0L128.0 478.6L128.5 478.2L129.0 477.8L129.5 477.5L130.0 477.1L130.5 476.7L131.0 476.3L131.5 475.9L132.0 475.5L132.5 475.1L133.0 474.7L133.5 474.3L134.0 473.9L134.5 473.5L135.0 473.1L135.5 472.7L136.0 472.3L136.5 471.8L137.0 471.4L137.5 471.0L138.0 470.6L138.5 470.1L139.0 469.7L139.5 469.3L140.0 468.8L140.5 468.4L141.0 467.9L141.5 467.5L142.0 467.0L142.5 466.6L143.0 466.1L143.5 465.7L144.0 465.2L144.5 464.7L145.0 464.3L145.5 463.8L146.0 463.3L146.5 462.9L147.0 462.4L147.5 461.9L148.0 461.4L148.5 460.9L149.0 460.5L149.5 460.0L150.0 459.5L150.5 459.0L151.0 458.5L151.5 458.0L152.0 457.5L152.5 457.0L153.0 456.5L153.5 456.1L154.0 455.6L154.5 455.1L155.0 454.6L155.5 454.1L156.0 453.6L156.5 453.1L157.0 452.6L157.5 452.0L158.0 451.5L158.5 451.0L159.0 450.5L159.5 450.0L160.0 449.5L160.5 449.0L161.0 448.5L161.5 448.0L162.0 447.5L162.5 447.0L163.0 446.5L163.5 446.0L164.0 445.5L164.5 444.9L165.0 444.4L165.5 443.9L166.0 443.4L166.5 442.9L167.0 442.4L167.5 441.9L168.0 441.4L168.5 440.9L169.0 440.4L169.5 439.9L170.0 439.4L170.5 438.9L171.0 438.4L171.5 437.9L172.0 437.4L172.5 436.9L173.0 436.4L173.5 436.0L174.0 435.5L174.5 435.0L175.0 434.5L175.5 434.0L176.0 433.5L176.5 433.1L177.0 432.6L177.5 432.1L178.0 431.7L178.5 431.2L179.0 430.7L179.5 430.3L180.0 429.8L180.5 429.4L181.0 428.9L181.5 428.5L182.0 428.0L182.5 427.6L183.0 427.1L183.5 426.7L184.0 426.3L184.5 425.9L185.0 425.4L185.5 425.0L186.0 424.6L186.5 424.2L187.0 423.8L187.5 423.4L188.0 423.0L188.5 422.6L189.0 422.2L189.5 421.8L190.0 421.4L190.5 421.1L191.0 420.7L191.5 420.3L192.0 420.0L192.5 419.6L193.0 419.3L193.5 418.9L194.0 418.6L194.5 418.3L195.0 417.9L195.5 417.6L196.0 417.3L196.5 417.0L197.0 416.7L197.5 416.4L198.0 416.1L198.5 415.8L199.0 415.5L199.5 415.3L200.0 415.0L200.5 414.7L201.0 414.5L201.5 414.2L202.0 414.0L202.5 413.7L203.0 413.5L203.5 413.3L204.0 413.1L204.5 412.9L205.0 412.7L205.5 412.5L206.0 412.3L206.5 412.1L207.0 411.9L207.5 411.7L208.0 411.6L208.5 411.4L209.0 411.3L209.5 411.1L210.0 411.0L210.5 410.9L211.0 410.7L211.5 410.6L212.0 410.5L212.5 410.4L213.0 410.3L213.5 410.2L214.0 410.2L214.5 410.1L215.0 410.0L215.5 410.0L216.0 409.9L216.5 409.9L217.0 409.9L217.5 409.8L218.0 409.8L218.5 409.8L219.0 409.8L219.5 409.8L220.0 409.8L220.5 409.8L221.0 409.9L221.5 409.9L222.0 409.9L222.5 410.0L223.0 410.0L223.5 410.1L224.0 410.2L224.5 410.2L225.0 410.3L225.5 410.4L226.0 410.5L226.5 410.6L227.0 410.7L227.5 410.9L228.0 411.0L228.5 411.1L229.0 411.3L229.5 411.4L230.0 411.6L230.5 411.7L231.0 411.9L231.5 412.1L232.0 412.3L232.5 412.5L233.0 412.7L233.5 412.9L234.0 413.1L234.5 413.3L235.0 413.5L235.5 413.7L236.0 414.0L236.5 414.2L237.0 414.5L237.5 414.7L238.0 415.0L238.5 415.3L239.0 415.5L239.5 415.8L240.0 416.1L240.5 416.4L241.0 416.7L241.5 417.0L242.0 417.3L242.5 417.6L243.0 417.9L243.5 418.3L244.0 418.6L244.5 418.9L245.0 419.3L245.5 419.6L246.0 420.0L246.5 420.3L247.0 420.7L247.5 421.1L248.0 421.4L248.5 421.8L249.0 422.2L249.5 422.6L250.0 423.0L250.5 423.4L251.0 423.8L251.5 424.2L252.0 424.6L252.5 425.0L253.0 425.4L253.5 425.9L254.0 426.3L254.5 426.7L255.0 427.1L255.5 427.6L256.0 428.0L256.5 428.5L257.0 428.9L257.5 429.4L258.0 429.8L258.5 430.3L259.0 430.7L259.5 431.2L260.0 431.7L260.5 432.1L261.0 432.6L261.5 433.1L262.0 433.5L262.5 434.0L263.0 434.5L263.5 435.0L264.0 435.5L264.5 436.0L265.0 436.4L265.5 436.9L266.0 437.4L266.5 437.9L267.0 438.4L267.5 438.9L268.0 439.4L268.5 439.9L269.0 440.4L269.5 440.9L270.0 441.4L270.5 441.9L271.0 442.4L271.5 442.9L272.0 443.4L272.5 443.9L273.0 444.4L273.5 444.9L274.0 445.5L274.5 446.0L275.0 446.5L275.5 447.0L276.0 447.5L276.5 448.0L277.0 448.5L277.5 449.0L278.0 449.5L278.5 450.0L279.0 450.5L279.5 451.0L280.0 451.5L280.5 452.0L281.0 452.6L281.5 453.1L282.0 453.6L282.5 454.1L283.0 454.6L283.5 455.1L284.0 455.6L284.5 456.1L285.0 456.5L285.5 457.0L286.0 457.5L286.5 458.0L287.0 458.5L287.5 459.0L288.0 459.5L288.5 460.0L289.0 460.5L289.5 460.9L290.0 461.4L290.5 461.9L291.0 462.4L291.5 462.9L292.0 463.3L292.5 463.8L293.0 464.3L293.5 464.7L294.0 465.2L294.5 465.7L295.0 466.1L295.5 466.6L296.0 467.0L296.5 467.5L297.0 467.9L297.5 468.4L298.0 468.8L298.5 469.3" stroke="#c48c42" stroke-width="1.90" fill="none" stroke-linejoin="round"/><text x="108.00" y="474.40" font-size="12.50" font-weight="bold" text-anchor="middle" fill="#111" >a</text><text x="138.60" y="442.20" font-size="12.50" font-weight="bold" text-anchor="middle" fill="#111" >b</text><text x="172.00" y="426.90" font-size="12.50" font-weight="bold" text-anchor="middle" fill="#111" >c</text><text x="217.00" y="405.70" font-size="12.50" font-weight="bold" text-anchor="middle" fill="#111" >d</text><text x="228.60" y="318.20" font-size="10.80" font-weight="normal" text-anchor="start" fill="#151515" stroke="#151515" stroke-width="0.15">Region of 4% ZnO</text><text x="89.50" y="344.80" font-size="13.20" font-weight="bold" text-anchor="middle" fill="#111" >(c)</text><text x="0" y="0" transform="translate(16.20 408.00) rotate(-90)" font-size="13.90" font-weight="bold" text-anchor="middle" fill="#111">PL.Intensity(a.u)</text><text x="186.00" y="550.40" font-size="13.60" font-weight="bold" text-anchor="middle" fill="#111" >Wavelength(nm)</text><text x="398.40" y="542.10" font-size="8.90" font-weight="normal" text-anchor="middle" fill="#111" stroke="#111" stroke-width="0.22">400</text><text x="433.12" y="542.10" font-size="8.90" font-weight="normal" text-anchor="middle" fill="#111" stroke="#111" stroke-width="0.22">450</text><text x="467.85" y="542.10" font-size="8.90" font-weight="normal" text-anchor="middle" fill="#111" stroke="#111" stroke-width="0.22">500</text><text x="502.57" y="542.10" font-size="8.90" font-weight="normal" text-anchor="middle" fill="#111" stroke="#111" stroke-width="0.22">550</text><text x="537.30" y="542.10" font-size="8.90" font-weight="normal" text-anchor="middle" fill="#111" stroke="#111" stroke-width="0.22">600</text><text x="572.02" y="542.10" font-size="8.90" font-weight="normal" text-anchor="middle" fill="#111" stroke="#111" stroke-width="0.22">650</text><text x="606.75" y="542.10" font-size="8.90" font-weight="normal" text-anchor="middle" fill="#111" stroke="#111" stroke-width="0.22">700</text><text x="641.48" y="542.10" font-size="8.90" font-weight="normal" text-anchor="middle" fill="#111" stroke="#111" stroke-width="0.22">750</text><text x="676.20" y="542.10" font-size="8.90" font-weight="normal" text-anchor="middle" fill="#111" stroke="#111" stroke-width="0.22">800</text><text x="390.80" y="529.80" font-size="8.90" font-weight="normal" text-anchor="end" fill="#111" stroke="#111" stroke-width="0.22">0</text><text x="390.80" y="492.12" font-size="8.90" font-weight="normal" text-anchor="end" fill="#111" stroke="#111" stroke-width="0.22">1000</text><text x="390.80" y="454.43" font-size="8.90" font-weight="normal" text-anchor="end" fill="#111" stroke="#111" stroke-width="0.22">2000</text><text x="390.80" y="416.75" font-size="8.90" font-weight="normal" text-anchor="end" fill="#111" stroke="#111" stroke-width="0.22">3000</text><text x="390.80" y="379.07" font-size="8.90" font-weight="normal" text-anchor="end" fill="#111" stroke="#111" stroke-width="0.22">4000</text><text x="390.80" y="341.38" font-size="8.90" font-weight="normal" text-anchor="end" fill="#111" stroke="#111" stroke-width="0.22">5000</text><text x="390.80" y="303.70" font-size="8.90" font-weight="normal" text-anchor="end" fill="#111" stroke="#111" stroke-width="0.22">6000</text><path d="M398.40 527.50 V532.20 M398.40 301.40 V306.10 M433.12 527.50 V532.20 M433.12 301.40 V306.10 M467.85 527.50 V532.20 M467.85 301.40 V306.10 M502.57 527.50 V532.20 M502.57 301.40 V306.10 M537.30 527.50 V532.20 M537.30 301.40 V306.10 M572.02 527.50 V532.20 M572.02 301.40 V306.10 M606.75 527.50 V532.20 M606.75 301.40 V306.10 M641.48 527.50 V532.20 M641.48 301.40 V306.10 M676.20 527.50 V532.20 M676.20 301.40 V306.10 M415.76 527.50 V530.30 M415.76 301.40 V304.20 M450.49 527.50 V530.30 M450.49 301.40 V304.20 M485.21 527.50 V530.30 M485.21 301.40 V304.20 M519.94 527.50 V530.30 M519.94 301.40 V304.20 M554.66 527.50 V530.30 M554.66 301.40 V304.20 M589.39 527.50 V530.30 M589.39 301.40 V304.20 M624.11 527.50 V530.30 M624.11 301.40 V304.20 M658.84 527.50 V530.30 M658.84 301.40 V304.20 M398.40 527.50 H393.70 M676.20 527.50 H671.50 M398.40 489.82 H393.70 M676.20 489.82 H671.50 M398.40 452.13 H393.70 M676.20 452.13 H671.50 M398.40 414.45 H393.70 M676.20 414.45 H671.50 M398.40 376.77 H393.70 M676.20 376.77 H671.50 M398.40 339.08 H393.70 M676.20 339.08 H671.50 M398.40 301.40 H393.70 M676.20 301.40 H671.50 M398.40 508.66 H395.60 M676.20 508.66 H673.40 M398.40 470.97 H395.60 M676.20 470.97 H673.40 M398.40 433.29 H395.60 M676.20 433.29 H673.40 M398.40 395.61 H395.60 M676.20 395.61 H673.40 M398.40 357.92 H395.60 M676.20 357.92 H673.40 M398.40 320.24 H395.60 M676.20 320.24 H673.40" stroke="#262626" stroke-width="1" fill="none"/><path d="M398.40 301.40 V527.50" stroke="#262626" stroke-width="1.15" fill="none" stroke-linecap="square"/><path d="M676.20 301.40 V531.30" stroke="#262626" stroke-width="1.15" fill="none" stroke-linecap="square"/><path d="M394.00 301.40 H676.20" stroke="#262626" stroke-width="1.15" fill="none" stroke-linecap="square"/><path d="M394.00 527.50 H676.20" stroke="#262626" stroke-width="1.15" fill="none" stroke-linecap="square"/><path d="M426.7 504.1L427.7 503.8L428.7 503.6L429.6 503.3L430.6 503.0L431.5 502.8L432.5 502.5L433.5 502.1L434.4 501.7L435.3 501.3L436.2 500.9L437.1 500.4L437.9 499.9L438.8 499.4L439.6 498.8L440.4 498.1L441.1 497.5L441.8 496.8L442.6 496.2L443.4 495.5L444.2 495.0L445.0 494.4L445.8 493.8L446.6 493.1L447.3 492.4L448.0 491.6L448.6 490.8L449.1 490.0L449.7 489.2L450.2 488.3L450.8 487.5L451.3 486.7L451.8 485.8L452.3 484.9L452.7 484.0L453.2 483.1L453.6 482.2L454.2 481.3L454.7 480.5L455.2 479.6L455.7 478.8L456.2 477.9L456.6 477.0L457.1 476.2L457.7 475.3L458.3 474.5L458.8 473.6L459.4 472.8L459.8 471.9L460.1 470.9L460.4 470.0L460.6 469.0L460.8 468.0L461.0 467.0L461.3 466.0L461.7 465.1L462.1 464.2L462.4 463.2L462.8 462.3L463.1 461.4L463.4 460.4L463.8 459.5L464.1 458.5L464.5 457.6L464.9 456.7L465.2 455.7L465.5 454.8L465.8 453.8L466.0 452.8L466.3 451.9L466.6 450.9L466.9 450.0L467.2 449.0L467.4 448.0L467.7 447.1L467.9 446.1L468.2 445.1L468.4 444.2L468.7 443.2L469.0 442.3L469.3 441.3L469.6 440.3L469.9 439.4L470.2 438.4L470.5 437.5L470.8 436.5L470.9 435.5L471.1 434.5L471.2 433.5L471.4 432.5L471.6 431.5L471.9 430.6L472.2 429.6L472.5 428.7L472.8 427.7L473.1 426.8L473.4 425.8L473.7 424.9L474.1 424.0L474.6 423.1L475.1 422.2L475.6 421.2L475.9 420.3L476.2 419.3L476.4 418.4L476.7 417.4L476.9 416.4L477.2 415.5L477.4 414.5L477.7 413.5L477.8 412.5L477.9 411.5L478.0 410.5L478.2 409.5L478.4 408.5L478.7 407.6L479.0 406.6L479.3 405.7L479.6 404.7L479.9 403.8L480.2 402.8L480.5 401.8L480.8 400.9L481.1 400.0L481.5 399.0L481.8 398.1L482.1 397.1L482.4 396.2L482.8 395.2L483.2 394.3L483.7 393.4L484.1 392.5L484.4 391.5L484.6 390.5L484.8 389.6L484.9 388.5L485.0 387.5L485.1 386.5L485.3 385.6L485.6 384.6L486.0 383.7L486.3 382.7L486.7 381.8L487.0 380.8L487.3 379.9L487.6 378.9L487.9 378.0L488.2 377.0L488.5 376.1L488.8 375.1L489.1 374.1L489.3 373.1L489.4 372.2L489.6 371.2L489.7 370.2L489.9 369.2L490.1 368.2L490.4 367.2L490.7 366.3L491.0 365.3L491.3 364.4L491.7 363.5L492.0 362.5L492.3 361.6L492.5 360.6L492.7 359.6L493.0 358.6L493.3 357.7L493.6 356.7L494.1 355.8L494.5 354.9L494.9 354.0L495.3 353.1L495.8 352.2L496.2 351.3L496.7 350.4L497.2 349.5L497.7 348.7L498.2 347.8L498.8 347.0L499.4 346.2L500.1 345.4L500.8 344.7L501.6 344.1L502.4 343.5L503.2 342.8L504.0 342.2L504.7 341.5L505.3 340.7L506.0 339.9L506.7 339.2L507.4 338.4L508.1 337.8L509.0 337.3L509.9 336.8L510.9 336.4L511.8 336.1L512.7 335.7L513.6 335.2L514.4 334.6L515.3 334.1L516.1 333.5L516.9 332.9L517.8 332.4L518.6 331.9L519.5 331.4L520.3 330.8L521.1 330.2L522.0 329.7L522.8 329.2L523.8 328.8L524.8 328.5L525.8 328.5L526.8 328.6L527.8 328.8L528.7 329.2L529.6 329.5L530.5 329.9L531.4 330.3L532.3 330.8L533.2 331.3L534.0 332.0L534.7 332.7L535.3 333.5L535.9 334.4L536.4 335.2L536.9 336.1L537.4 336.9L537.9 337.8L538.5 338.6L539.1 339.4L539.7 340.2L540.4 341.0L540.9 341.8L541.5 342.6L542.0 343.5L542.4 344.4L542.8 345.3L543.3 346.3L543.7 347.1L544.3 348.0L544.8 348.8L545.4 349.6L546.0 350.4L546.7 351.2L547.3 352.0L548.0 352.7L548.8 353.4L549.5 354.1L550.3 354.7L551.1 355.4L551.9 356.0L552.8 356.5L553.8 356.9L554.7 357.2L555.7 357.5L556.7 357.8L557.6 358.1L558.5 358.6L559.4 359.2L560.1 359.9L560.8 360.7L561.4 361.5L562.0 362.3L562.7 363.1L563.4 363.7L564.1 364.4L564.8 365.1L565.5 365.8L566.2 366.6L566.8 367.3L567.4 368.2L568.0 369.0L568.5 369.8L569.0 370.7L569.5 371.5L570.1 372.4L570.6 373.2L571.2 374.0L571.8 374.8L572.4 375.6L572.9 376.5L573.4 377.3L573.9 378.2L574.4 379.1L574.8 380.0L575.3 380.9L575.7 381.8L576.2 382.7L576.7 383.6L577.2 384.4L577.7 385.3L578.2 386.2L578.7 387.0L579.2 387.9L579.7 388.7L580.2 389.6L580.7 390.5L581.2 391.3L581.7 392.2L582.2 393.0L582.8 393.9L583.5 394.6L584.2 395.3L584.9 396.1L585.6 396.8L586.2 397.6L586.8 398.4L587.4 399.2L588.0 400.0L588.6 400.8L589.1 401.6L589.7 402.5L590.3 403.3L590.8 404.2L591.3 405.0L591.8 405.9L592.3 406.8L592.8 407.6L593.4 408.4L594.1 409.2L594.7 409.9L595.4 410.7L596.1 411.4L596.7 412.2L597.3 413.0L598.0 413.7L598.6 414.5L599.3 415.3L599.9 416.0L600.6 416.8L601.2 417.5L601.9 418.3L602.7 419.0L603.4 419.7L604.1 420.4L604.8 421.1L605.4 421.9L605.9 422.8L606.4 423.6L606.9 424.5L607.5 425.4L608.1 426.2L608.7 426.9L609.5 427.6L610.2 428.3L611.0 428.9L611.8 429.6L612.4 430.3L613.0 431.1L613.6 432.0L614.0 432.9L614.5 433.8L615.1 434.6L615.7 435.4L616.3 436.2L617.0 437.0L617.6 437.7L618.3 438.5L619.0 439.2L619.6 440.0L620.3 440.7L621.1 441.4L621.8 442.0L622.6 442.7L623.3 443.4L624.0 444.1L624.7 444.8L625.4 445.6L626.1 446.3L626.7 447.0L627.4 447.8L628.0 448.6L628.6 449.4L629.2 450.2L629.8 451.0L630.3 451.9L630.9 452.7L631.5 453.5L632.2 454.2L632.8 455.0L633.4 455.8L634.1 456.6L634.6 457.4L635.1 458.3L635.5 459.2L635.9 460.1L636.3 461.0L636.7 462.0L637.0 462.9L637.4 463.8L637.8 464.8L638.2 465.7L638.7 466.6L639.1 467.5L639.5 468.4L639.9 469.3L640.1 470.3L640.3 471.3L640.5 472.3L640.7 473.3L640.9 474.3L641.2 475.3L641.6 476.2L642.1 477.1L642.6 477.9L643.1 478.8L643.5 479.7L644.0 480.6L644.4 481.5L644.9 482.4L645.4 483.3L645.9 484.1L646.4 485.0L646.9 485.9L647.4 486.7L647.9 487.6L648.4 488.4" stroke="#000" stroke-width="5.20" fill="none" stroke-linejoin="round" stroke-linecap="round"/><path d="M427.4 503.7h2.4v2.4h-2.4zM426.9 503.3h2.4v2.4h-2.4zM427.4 502.8h2.4v2.4h-2.4zM428.1 502.7h2.4v2.4h-2.4zM428.9 501.8h2.4v2.4h-2.4zM430.4 500.8h2.4v2.4h-2.4zM431.7 500.9h2.4v2.4h-2.4zM433.5 502.3h2.4v2.4h-2.4zM433.9 500.4h2.4v2.4h-2.4zM435.3 501.3h2.4v2.4h-2.4zM436.0 499.9h2.4v2.4h-2.4zM436.6 500.1h2.4v2.4h-2.4zM436.0 498.9h2.4v2.4h-2.4zM437.2 499.2h2.4v2.4h-2.4zM438.7 499.1h2.4v2.4h-2.4zM440.2 498.3h2.4v2.4h-2.4zM438.4 496.1h2.4v2.4h-2.4zM439.7 497.2h2.4v2.4h-2.4zM442.2 496.3h2.4v2.4h-2.4zM442.9 496.2h2.4v2.4h-2.4zM441.8 493.9h2.4v2.4h-2.4zM443.7 494.7h2.4v2.4h-2.4zM443.6 494.1h2.4v2.4h-2.4zM445.2 493.7h2.4v2.4h-2.4zM446.7 493.1h2.4v2.4h-2.4zM447.5 492.3h2.4v2.4h-2.4zM445.2 490.8h2.4v2.4h-2.4zM446.4 491.0h2.4v2.4h-2.4zM448.6 489.7h2.4v2.4h-2.4zM447.8 489.0h2.4v2.4h-2.4zM449.6 488.6h2.4v2.4h-2.4zM449.6 487.6h2.4v2.4h-2.4zM449.3 487.8h2.4v2.4h-2.4zM450.1 486.2h2.4v2.4h-2.4zM450.6 485.1h2.4v2.4h-2.4zM450.3 485.0h2.4v2.4h-2.4zM451.0 483.9h2.4v2.4h-2.4zM451.2 482.3h2.4v2.4h-2.4zM453.5 482.5h2.4v2.4h-2.4zM453.4 482.4h2.4v2.4h-2.4zM453.9 481.6h2.4v2.4h-2.4zM455.0 481.4h2.4v2.4h-2.4zM454.3 480.4h2.4v2.4h-2.4zM456.0 479.1h2.4v2.4h-2.4zM456.1 478.2h2.4v2.4h-2.4zM455.6 477.7h2.4v2.4h-2.4zM457.8 477.3h2.4v2.4h-2.4zM455.9 476.2h2.4v2.4h-2.4zM457.1 475.2h2.4v2.4h-2.4zM456.0 473.4h2.4v2.4h-2.4zM458.5 472.8h2.4v2.4h-2.4zM459.3 472.3h2.4v2.4h-2.4zM459.1 471.3h2.4v2.4h-2.4zM457.5 470.3h2.4v2.4h-2.4zM460.6 470.0h2.4v2.4h-2.4zM458.2 468.5h2.4v2.4h-2.4zM460.1 468.5h2.4v2.4h-2.4zM459.6 467.6h2.4v2.4h-2.4zM460.3 467.0h2.4v2.4h-2.4zM460.1 465.8h2.4v2.4h-2.4zM459.9 464.7h2.4v2.4h-2.4zM460.6 464.0h2.4v2.4h-2.4zM460.8 462.9h2.4v2.4h-2.4zM460.9 462.1h2.4v2.4h-2.4zM462.5 462.0h2.4v2.4h-2.4zM461.9 460.8h2.4v2.4h-2.4zM463.1 460.2h2.4v2.4h-2.4zM463.7 459.8h2.4v2.4h-2.4zM463.3 457.7h2.4v2.4h-2.4zM463.8 457.0h2.4v2.4h-2.4zM464.7 457.1h2.4v2.4h-2.4zM462.3 455.2h2.4v2.4h-2.4zM464.4 454.4h2.4v2.4h-2.4zM463.6 454.2h2.4v2.4h-2.4zM464.5 452.4h2.4v2.4h-2.4zM466.3 451.8h2.4v2.4h-2.4zM465.6 451.4h2.4v2.4h-2.4zM465.3 450.3h2.4v2.4h-2.4zM466.3 449.1h2.4v2.4h-2.4zM467.4 449.1h2.4v2.4h-2.4zM464.7 447.7h2.4v2.4h-2.4zM467.2 447.3h2.4v2.4h-2.4zM466.5 445.8h2.4v2.4h-2.4zM467.2 445.0h2.4v2.4h-2.4zM468.3 444.4h2.4v2.4h-2.4zM468.9 443.1h2.4v2.4h-2.4zM468.9 442.2h2.4v2.4h-2.4zM468.6 441.4h2.4v2.4h-2.4zM469.9 441.0h2.4v2.4h-2.4zM468.4 440.5h2.4v2.4h-2.4zM470.3 439.2h2.4v2.4h-2.4zM469.8 438.2h2.4v2.4h-2.4zM469.9 436.8h2.4v2.4h-2.4zM470.4 435.9h2.4v2.4h-2.4zM470.7 435.5h2.4v2.4h-2.4zM470.1 434.2h2.4v2.4h-2.4zM470.3 433.6h2.4v2.4h-2.4zM470.5 433.2h2.4v2.4h-2.4zM471.3 432.6h2.4v2.4h-2.4zM471.1 431.6h2.4v2.4h-2.4zM471.8 430.4h2.4v2.4h-2.4zM473.6 430.3h2.4v2.4h-2.4zM471.1 429.0h2.4v2.4h-2.4zM473.3 427.4h2.4v2.4h-2.4zM471.7 426.8h2.4v2.4h-2.4zM473.5 426.0h2.4v2.4h-2.4zM475.1 426.2h2.4v2.4h-2.4zM473.9 424.2h2.4v2.4h-2.4zM472.3 423.5h2.4v2.4h-2.4zM474.0 422.9h2.4v2.4h-2.4zM472.9 421.2h2.4v2.4h-2.4zM474.5 421.4h2.4v2.4h-2.4zM473.7 419.7h2.4v2.4h-2.4zM474.9 418.7h2.4v2.4h-2.4zM476.5 418.7h2.4v2.4h-2.4zM475.3 416.7h2.4v2.4h-2.4zM475.9 416.9h2.4v2.4h-2.4zM475.1 416.2h2.4v2.4h-2.4zM476.1 414.4h2.4v2.4h-2.4zM474.4 413.5h2.4v2.4h-2.4zM478.7 413.8h2.4v2.4h-2.4zM476.9 412.5h2.4v2.4h-2.4zM479.1 411.4h2.4v2.4h-2.4zM477.1 410.2h2.4v2.4h-2.4zM477.5 409.8h2.4v2.4h-2.4zM478.1 409.3h2.4v2.4h-2.4zM478.7 407.9h2.4v2.4h-2.4zM477.7 407.1h2.4v2.4h-2.4zM477.1 406.3h2.4v2.4h-2.4zM480.6 405.8h2.4v2.4h-2.4zM480.8 404.9h2.4v2.4h-2.4zM480.1 403.2h2.4v2.4h-2.4zM479.8 402.4h2.4v2.4h-2.4zM480.4 402.3h2.4v2.4h-2.4zM482.6 401.6h2.4v2.4h-2.4zM480.9 400.5h2.4v2.4h-2.4zM480.6 399.0h2.4v2.4h-2.4zM482.1 398.2h2.4v2.4h-2.4zM480.9 397.5h2.4v2.4h-2.4zM480.1 396.3h2.4v2.4h-2.4zM481.1 395.9h2.4v2.4h-2.4zM482.7 395.0h2.4v2.4h-2.4zM482.8 394.4h2.4v2.4h-2.4zM481.8 393.0h2.4v2.4h-2.4zM482.3 392.7h2.4v2.4h-2.4zM483.8 391.8h2.4v2.4h-2.4zM482.6 390.6h2.4v2.4h-2.4zM484.5 389.6h2.4v2.4h-2.4zM484.6 389.6h2.4v2.4h-2.4zM482.8 388.3h2.4v2.4h-2.4zM485.9 387.1h2.4v2.4h-2.4zM484.8 386.7h2.4v2.4h-2.4zM485.4 385.3h2.4v2.4h-2.4zM486.2 384.6h2.4v2.4h-2.4zM485.3 384.1h2.4v2.4h-2.4zM485.8 382.9h2.4v2.4h-2.4zM486.3 382.3h2.4v2.4h-2.4zM486.7 381.0h2.4v2.4h-2.4zM485.7 380.5h2.4v2.4h-2.4zM487.2 379.1h2.4v2.4h-2.4zM485.5 378.6h2.4v2.4h-2.4zM486.4 378.0h2.4v2.4h-2.4zM488.5 377.2h2.4v2.4h-2.4zM488.2 376.1h2.4v2.4h-2.4zM488.0 374.6h2.4v2.4h-2.4zM486.7 374.2h2.4v2.4h-2.4zM487.2 373.8h2.4v2.4h-2.4zM488.2 372.3h2.4v2.4h-2.4zM488.1 371.6h2.4v2.4h-2.4zM488.2 370.9h2.4v2.4h-2.4zM488.9 369.7h2.4v2.4h-2.4zM488.0 369.1h2.4v2.4h-2.4zM489.3 368.1h2.4v2.4h-2.4zM489.2 366.9h2.4v2.4h-2.4zM489.9 366.9h2.4v2.4h-2.4zM490.0 365.7h2.4v2.4h-2.4zM490.2 364.3h2.4v2.4h-2.4zM493.3 363.9h2.4v2.4h-2.4zM491.1 363.2h2.4v2.4h-2.4zM491.5 362.3h2.4v2.4h-2.4zM491.4 360.9h2.4v2.4h-2.4zM492.5 359.8h2.4v2.4h-2.4zM491.6 359.8h2.4v2.4h-2.4zM491.4 358.4h2.4v2.4h-2.4zM492.9 358.3h2.4v2.4h-2.4zM493.8 357.0h2.4v2.4h-2.4zM493.3 356.0h2.4v2.4h-2.4zM492.8 355.2h2.4v2.4h-2.4zM496.3 355.7h2.4v2.4h-2.4zM496.1 354.1h2.4v2.4h-2.4zM493.9 352.7h2.4v2.4h-2.4zM494.2 351.7h2.4v2.4h-2.4zM495.8 350.4h2.4v2.4h-2.4zM495.7 350.4h2.4v2.4h-2.4zM495.9 350.0h2.4v2.4h-2.4zM497.3 349.1h2.4v2.4h-2.4zM499.0 348.6h2.4v2.4h-2.4zM498.9 348.0h2.4v2.4h-2.4zM499.2 346.6h2.4v2.4h-2.4zM500.0 346.5h2.4v2.4h-2.4zM498.3 345.0h2.4v2.4h-2.4zM499.9 344.6h2.4v2.4h-2.4zM499.9 343.4h2.4v2.4h-2.4zM502.5 343.3h2.4v2.4h-2.4zM502.4 343.1h2.4v2.4h-2.4zM503.5 342.2h2.4v2.4h-2.4zM503.9 341.1h2.4v2.4h-2.4zM503.2 340.8h2.4v2.4h-2.4zM503.2 339.4h2.4v2.4h-2.4zM505.1 340.1h2.4v2.4h-2.4zM505.8 339.6h2.4v2.4h-2.4zM506.1 339.3h2.4v2.4h-2.4zM507.0 336.9h2.4v2.4h-2.4zM508.6 337.0h2.4v2.4h-2.4zM508.4 336.3h2.4v2.4h-2.4zM510.3 336.0h2.4v2.4h-2.4zM509.0 334.3h2.4v2.4h-2.4zM509.9 335.8h2.4v2.4h-2.4zM511.1 334.4h2.4v2.4h-2.4zM512.2 334.9h2.4v2.4h-2.4zM513.1 334.3h2.4v2.4h-2.4zM514.4 334.0h2.4v2.4h-2.4zM514.4 332.9h2.4v2.4h-2.4zM516.2 332.2h2.4v2.4h-2.4zM514.9 331.3h2.4v2.4h-2.4zM517.1 331.5h2.4v2.4h-2.4zM518.3 330.3h2.4v2.4h-2.4zM518.2 331.0h2.4v2.4h-2.4zM520.1 330.1h2.4v2.4h-2.4zM520.4 329.6h2.4v2.4h-2.4zM521.3 328.9h2.4v2.4h-2.4zM522.7 329.6h2.4v2.4h-2.4zM522.3 328.4h2.4v2.4h-2.4zM522.6 328.3h2.4v2.4h-2.4zM525.0 326.4h2.4v2.4h-2.4zM526.0 326.4h2.4v2.4h-2.4zM525.5 328.0h2.4v2.4h-2.4zM527.0 327.4h2.4v2.4h-2.4zM528.2 326.7h2.4v2.4h-2.4zM527.9 330.9h2.4v2.4h-2.4zM529.0 327.7h2.4v2.4h-2.4zM531.7 327.3h2.4v2.4h-2.4zM532.3 328.3h2.4v2.4h-2.4zM532.2 330.5h2.4v2.4h-2.4zM533.5 330.1h2.4v2.4h-2.4zM531.7 331.3h2.4v2.4h-2.4zM534.7 331.0h2.4v2.4h-2.4zM534.1 331.6h2.4v2.4h-2.4zM535.2 332.4h2.4v2.4h-2.4zM535.0 333.6h2.4v2.4h-2.4zM536.5 333.9h2.4v2.4h-2.4zM535.7 334.9h2.4v2.4h-2.4zM537.2 335.8h2.4v2.4h-2.4zM538.9 336.0h2.4v2.4h-2.4zM539.0 336.5h2.4v2.4h-2.4zM536.7 338.7h2.4v2.4h-2.4zM540.0 337.5h2.4v2.4h-2.4zM538.9 339.6h2.4v2.4h-2.4zM539.4 340.5h2.4v2.4h-2.4zM540.5 341.0h2.4v2.4h-2.4zM540.1 341.3h2.4v2.4h-2.4zM541.6 341.6h2.4v2.4h-2.4zM540.7 343.0h2.4v2.4h-2.4zM542.2 343.7h2.4v2.4h-2.4zM542.3 344.9h2.4v2.4h-2.4zM543.8 345.8h2.4v2.4h-2.4zM543.2 346.2h2.4v2.4h-2.4zM543.1 347.2h2.4v2.4h-2.4zM545.8 347.7h2.4v2.4h-2.4zM545.5 348.2h2.4v2.4h-2.4zM545.3 349.0h2.4v2.4h-2.4zM544.9 350.5h2.4v2.4h-2.4zM548.2 349.8h2.4v2.4h-2.4zM548.3 350.2h2.4v2.4h-2.4zM548.8 350.9h2.4v2.4h-2.4zM550.6 351.5h2.4v2.4h-2.4zM550.1 352.4h2.4v2.4h-2.4zM550.8 353.4h2.4v2.4h-2.4zM552.8 353.3h2.4v2.4h-2.4zM551.2 354.6h2.4v2.4h-2.4zM553.3 354.7h2.4v2.4h-2.4zM553.7 354.9h2.4v2.4h-2.4zM554.9 356.2h2.4v2.4h-2.4zM556.2 354.8h2.4v2.4h-2.4zM555.7 356.2h2.4v2.4h-2.4zM556.6 356.1h2.4v2.4h-2.4zM557.6 356.7h2.4v2.4h-2.4zM557.3 358.5h2.4v2.4h-2.4zM560.0 357.8h2.4v2.4h-2.4zM559.0 358.5h2.4v2.4h-2.4zM561.2 359.1h2.4v2.4h-2.4zM560.5 360.4h2.4v2.4h-2.4zM562.1 361.4h2.4v2.4h-2.4zM562.8 361.6h2.4v2.4h-2.4zM564.3 361.8h2.4v2.4h-2.4zM564.2 362.9h2.4v2.4h-2.4zM562.5 364.5h2.4v2.4h-2.4zM566.0 363.6h2.4v2.4h-2.4zM565.1 363.7h2.4v2.4h-2.4zM565.5 365.7h2.4v2.4h-2.4zM565.6 365.9h2.4v2.4h-2.4zM568.9 366.2h2.4v2.4h-2.4zM569.3 367.1h2.4v2.4h-2.4zM567.9 368.5h2.4v2.4h-2.4zM569.6 369.4h2.4v2.4h-2.4zM568.2 369.7h2.4v2.4h-2.4zM570.0 370.3h2.4v2.4h-2.4zM570.0 370.6h2.4v2.4h-2.4zM571.6 372.0h2.4v2.4h-2.4zM572.6 371.9h2.4v2.4h-2.4zM571.0 374.2h2.4v2.4h-2.4zM571.4 374.5h2.4v2.4h-2.4zM572.8 374.4h2.4v2.4h-2.4zM573.8 376.2h2.4v2.4h-2.4zM573.5 376.1h2.4v2.4h-2.4zM574.1 377.6h2.4v2.4h-2.4zM575.5 377.8h2.4v2.4h-2.4zM574.3 380.0h2.4v2.4h-2.4zM575.1 379.5h2.4v2.4h-2.4zM576.4 380.8h2.4v2.4h-2.4zM575.4 382.6h2.4v2.4h-2.4zM577.2 381.9h2.4v2.4h-2.4zM577.6 382.4h2.4v2.4h-2.4zM576.3 384.5h2.4v2.4h-2.4zM577.3 384.7h2.4v2.4h-2.4zM578.8 385.4h2.4v2.4h-2.4zM580.0 386.0h2.4v2.4h-2.4zM579.4 386.4h2.4v2.4h-2.4zM578.1 387.8h2.4v2.4h-2.4zM579.1 389.2h2.4v2.4h-2.4zM579.2 389.9h2.4v2.4h-2.4zM581.2 390.1h2.4v2.4h-2.4zM581.1 390.7h2.4v2.4h-2.4zM583.2 391.8h2.4v2.4h-2.4zM583.2 392.5h2.4v2.4h-2.4zM584.6 392.3h2.4v2.4h-2.4zM584.9 393.3h2.4v2.4h-2.4zM582.5 395.1h2.4v2.4h-2.4zM583.9 395.2h2.4v2.4h-2.4zM583.5 397.3h2.4v2.4h-2.4zM584.1 397.2h2.4v2.4h-2.4zM587.2 396.7h2.4v2.4h-2.4zM586.3 397.9h2.4v2.4h-2.4zM585.3 399.3h2.4v2.4h-2.4zM588.6 399.1h2.4v2.4h-2.4zM589.3 400.0h2.4v2.4h-2.4zM588.4 401.0h2.4v2.4h-2.4zM589.0 401.8h2.4v2.4h-2.4zM588.7 403.1h2.4v2.4h-2.4zM590.7 402.9h2.4v2.4h-2.4zM590.0 404.5h2.4v2.4h-2.4zM593.2 404.0h2.4v2.4h-2.4zM592.9 405.1h2.4v2.4h-2.4zM593.6 406.3h2.4v2.4h-2.4zM593.3 407.2h2.4v2.4h-2.4zM594.2 408.1h2.4v2.4h-2.4zM594.4 408.5h2.4v2.4h-2.4zM594.6 408.5h2.4v2.4h-2.4zM594.9 409.2h2.4v2.4h-2.4zM595.8 410.2h2.4v2.4h-2.4zM596.9 411.2h2.4v2.4h-2.4zM595.9 412.8h2.4v2.4h-2.4zM597.6 413.0h2.4v2.4h-2.4zM598.9 412.2h2.4v2.4h-2.4zM598.8 412.8h2.4v2.4h-2.4zM598.6 414.7h2.4v2.4h-2.4zM599.7 415.9h2.4v2.4h-2.4zM601.7 415.9h2.4v2.4h-2.4zM601.5 416.6h2.4v2.4h-2.4zM602.0 416.9h2.4v2.4h-2.4zM603.7 417.3h2.4v2.4h-2.4zM601.4 418.9h2.4v2.4h-2.4zM602.6 419.3h2.4v2.4h-2.4zM603.6 420.8h2.4v2.4h-2.4zM604.8 421.8h2.4v2.4h-2.4zM604.2 420.6h2.4v2.4h-2.4zM606.2 421.9h2.4v2.4h-2.4zM605.3 422.4h2.4v2.4h-2.4zM607.1 424.1h2.4v2.4h-2.4zM606.6 423.8h2.4v2.4h-2.4zM608.8 424.4h2.4v2.4h-2.4zM609.1 425.9h2.4v2.4h-2.4zM608.9 426.5h2.4v2.4h-2.4zM609.3 426.7h2.4v2.4h-2.4zM610.9 427.6h2.4v2.4h-2.4zM610.0 428.2h2.4v2.4h-2.4zM612.2 429.1h2.4v2.4h-2.4zM610.6 431.3h2.4v2.4h-2.4zM611.8 430.5h2.4v2.4h-2.4zM614.6 430.4h2.4v2.4h-2.4zM613.0 431.3h2.4v2.4h-2.4zM614.6 432.5h2.4v2.4h-2.4zM614.3 433.7h2.4v2.4h-2.4zM616.1 432.9h2.4v2.4h-2.4zM615.2 434.3h2.4v2.4h-2.4zM615.9 435.6h2.4v2.4h-2.4zM615.7 436.2h2.4v2.4h-2.4zM617.9 436.4h2.4v2.4h-2.4zM617.6 437.5h2.4v2.4h-2.4zM618.7 438.6h2.4v2.4h-2.4zM620.3 437.8h2.4v2.4h-2.4zM619.6 439.0h2.4v2.4h-2.4zM621.1 439.9h2.4v2.4h-2.4zM622.7 440.1h2.4v2.4h-2.4zM620.7 441.5h2.4v2.4h-2.4zM623.7 441.3h2.4v2.4h-2.4zM621.5 443.0h2.4v2.4h-2.4zM623.5 443.5h2.4v2.4h-2.4zM624.0 444.0h2.4v2.4h-2.4zM624.6 444.4h2.4v2.4h-2.4zM626.1 445.2h2.4v2.4h-2.4zM625.6 446.4h2.4v2.4h-2.4zM625.0 447.6h2.4v2.4h-2.4zM626.6 447.4h2.4v2.4h-2.4zM626.8 448.3h2.4v2.4h-2.4zM627.4 449.4h2.4v2.4h-2.4zM628.3 449.3h2.4v2.4h-2.4zM629.0 449.5h2.4v2.4h-2.4zM630.8 450.8h2.4v2.4h-2.4zM630.6 451.7h2.4v2.4h-2.4zM630.7 452.2h2.4v2.4h-2.4zM632.4 452.5h2.4v2.4h-2.4zM633.2 453.6h2.4v2.4h-2.4zM631.6 454.8h2.4v2.4h-2.4zM633.3 455.5h2.4v2.4h-2.4zM634.2 456.3h2.4v2.4h-2.4zM633.4 456.5h2.4v2.4h-2.4zM634.4 457.7h2.4v2.4h-2.4zM635.3 458.3h2.4v2.4h-2.4zM636.7 459.0h2.4v2.4h-2.4zM635.2 459.3h2.4v2.4h-2.4zM636.7 460.3h2.4v2.4h-2.4zM638.7 461.2h2.4v2.4h-2.4zM636.9 462.1h2.4v2.4h-2.4zM635.8 463.3h2.4v2.4h-2.4zM635.6 465.1h2.4v2.4h-2.4zM640.2 464.7h2.4v2.4h-2.4zM640.1 465.6h2.4v2.4h-2.4zM639.7 466.0h2.4v2.4h-2.4zM639.2 467.0h2.4v2.4h-2.4zM639.3 468.3h2.4v2.4h-2.4zM639.4 469.2h2.4v2.4h-2.4zM639.1 470.3h2.4v2.4h-2.4zM639.3 471.2h2.4v2.4h-2.4zM640.2 472.2h2.4v2.4h-2.4zM642.3 472.3h2.4v2.4h-2.4zM640.9 473.1h2.4v2.4h-2.4zM643.1 473.8h2.4v2.4h-2.4zM641.8 475.0h2.4v2.4h-2.4zM642.3 475.4h2.4v2.4h-2.4zM642.9 477.0h2.4v2.4h-2.4zM643.4 477.7h2.4v2.4h-2.4zM643.2 478.6h2.4v2.4h-2.4zM642.7 478.9h2.4v2.4h-2.4zM643.3 480.2h2.4v2.4h-2.4zM646.4 480.6h2.4v2.4h-2.4zM644.3 481.3h2.4v2.4h-2.4zM644.9 482.8h2.4v2.4h-2.4zM644.6 483.3h2.4v2.4h-2.4zM647.9 483.8h2.4v2.4h-2.4zM647.2 484.7h2.4v2.4h-2.4zM648.5 485.0h2.4v2.4h-2.4zM646.2 486.2h2.4v2.4h-2.4zM646.3 488.0h2.4v2.4h-2.4z" stroke="#000" stroke-width="0.80" fill="none"/><path d="M483.4 395.2L483.7 394.2L484.1 392.8L484.5 391.2L485.0 389.4L485.6 387.5L486.1 385.5L486.7 383.5L487.2 381.5L487.8 379.7L488.2 378.0L488.6 376.5L489.0 375.0L489.3 373.5L489.6 372.0L490.0 370.6L490.3 369.3L490.6 367.9L490.9 366.6L491.3 365.3L491.7 364.1L492.1 362.9L492.6 361.7L493.0 360.6L493.5 359.4L494.0 358.4L494.5 357.3L495.0 356.3L495.4 355.3L495.9 354.4L496.4 353.5L496.9 352.6L497.3 351.9L497.7 351.1L498.2 350.4L498.6 349.7L499.1 349.0L499.5 348.4L500.0 347.8L500.5 347.1L501.0 346.5L501.5 345.9L502.1 345.2L502.7 344.6L503.3 344.0L503.9 343.4L504.5 342.8L505.1 342.3L505.7 341.7L506.3 341.2L506.9 340.7L507.5 340.2L508.1 339.8L508.6 339.3L509.2 338.9L509.8 338.5L510.4 338.1L511.0 337.7L511.5 337.4L512.1 337.0L512.7 336.6L513.3 336.2L513.9 335.9L514.4 335.5L515.0 335.1L515.6 334.8L516.2 334.4L516.8 334.1L517.3 333.8L517.9 333.4L518.5 333.1L519.1 332.8L519.7 332.4L520.3 332.1L520.9 331.8L521.5 331.4L522.1 331.1L522.7 330.9L523.3 330.6L523.9 330.4L524.4 330.2L524.9 330.1L525.4 329.9L525.9 329.8L526.4 329.8L526.8 329.7L527.3 329.7L527.7 329.7L528.2 329.7L528.6 329.8L529.1 329.9L529.6 330.0L530.0 330.2L530.5 330.4L530.9 330.6L531.4 330.8L531.9 331.1L532.3 331.4L532.8 331.7L533.2 332.1L533.7 332.5L534.2 333.0L534.6 333.5L535.1 334.0L535.6 334.6L536.0 335.2L536.5 335.8L537.0 336.4L537.5 337.1L537.9 337.8L538.4 338.4L538.9 339.1L539.3 339.7L539.8 340.5L540.3 341.2L540.8 341.9L541.2 342.6L541.7 343.4L542.2 344.1L542.6 344.7L543.1 345.4L543.6 346.0L544.0 346.7L544.5 347.3L544.9 347.9L545.4 348.5L545.9 349.1L546.3 349.6L546.8 350.2L547.2 350.7L547.7 351.2L548.2 351.7L548.7 352.2L549.2 352.6L549.7 353.1L550.2 353.5L550.7 354.0L551.1 354.3L551.6 354.7L552.0 355.0L552.4 355.3L552.7 355.5L553.0 355.7L553.2 355.8L553.4 355.9L553.6 355.9L553.8 356.0L554.1 356.1L554.3 356.2L554.6 356.3L555.0 356.5L555.5 356.8L556.0 357.0L556.5 357.3L557.1 357.7L557.7 358.0L558.3 358.4L559.0 358.8L559.6 359.2L560.2 359.6L560.8 360.1L561.4 360.6L562.0 361.1L562.5 361.6L563.1 362.2L563.7 362.7L564.3 363.3L564.9 363.9L565.4 364.6L566.0 365.2L566.6 365.9L567.2 366.6L567.8 367.3L568.3 368.1L568.9 368.9L569.5 369.7L570.1 370.5L570.7 371.3L571.2 372.2L571.8 373.1L572.4 374.0L573.0 375.0L573.6 376.0L574.1 377.0L574.7 378.1L575.3 379.2L575.9 380.3L576.5 381.4L577.0 382.4L577.6 383.5L578.2 384.5L578.8 385.5L579.4 386.4L579.9 387.4L580.5 388.3L581.1 389.2L581.7 390.2L582.3 391.1L582.8 391.9L583.4 392.8L584.0 393.7L584.6 394.6L585.2 395.4L585.7 396.2L586.3 397.1L586.9 397.9L587.5 398.7L588.1 399.5L588.6 400.3L589.2 401.1L589.8 401.9L590.4 402.7L591.0 403.5L591.5 404.4L592.1 405.2L592.7 406.0L593.3 406.8L593.9 407.7L594.4 408.5L595.0 409.2L595.6 410.0L596.2 410.7L596.8 411.5L597.3 412.2L597.9 412.9L598.5 413.6L599.1 414.3L599.7 414.9L600.2 415.6L600.8 416.3L601.4 417.0L602.0 417.7L602.6 418.4L603.1 419.1L603.7 419.8L604.3 420.4L604.9 421.1L605.5 421.8L606.0 422.5L606.6 423.2L607.2 423.9L607.8 424.6L608.4 425.3L608.9 426.0L609.5 426.7L610.1 427.4L610.6 428.1L611.2 428.8L611.8 429.5L612.4 430.2L613.0 430.9L613.6 431.6L614.2 432.4L614.9 433.2L615.5 434.0L616.2 434.8L616.8 435.5L617.5 436.3L618.1 437.1L618.7 437.8L619.3 438.5L619.9 439.2L620.4 439.8L621.0 440.4L621.6 441.1L622.1 441.7L622.6 442.2L623.1 442.8L623.6 443.4L624.1 443.9L624.6 444.5L625.0 445.0L625.5 445.5L625.9 446.0L626.3 446.5L626.6 446.9L627.0 447.4L627.4 447.9L627.8 448.4L628.2 448.9L628.6 449.5L629.0 450.1L629.5 450.8L629.9 451.4L630.4 452.1L630.9 452.8L631.3 453.5L631.8 454.3L632.3 455.0L632.7 455.8L633.2 456.5L633.7 457.3L634.1 458.0L634.6 458.8L635.0 459.6L635.5 460.4L636.0 461.2L636.4 462.0L636.9 462.9L637.3 463.7L637.8 464.5L638.3 465.3L638.7 466.2L639.1 467.0L639.6 467.8L640.0 468.7L640.5 469.5L641.0 470.4L641.4 471.2L642.0 472.1L642.5 473.0L643.1 473.9L643.8 474.9L644.5 476.0L645.3 477.1L646.0 478.1L646.8 479.1L647.5 480.1L648.1 480.9L648.6 481.6L649.0 482.2" stroke="#a82222" stroke-width="2.40" fill="none" stroke-linejoin="round"/><path d="M427.8 505.6L428.3 505.4L428.8 505.3L429.3 505.2L429.8 505.0L430.3 504.9L430.8 504.7L431.3 504.6L431.8 504.4L432.3 504.2L432.8 504.1L433.3 503.9L433.8 503.7L434.3 503.4L434.8 503.2L435.3 503.0L435.8 502.7L436.3 502.5L436.8 502.2L437.3 502.0L437.8 501.7L438.3 501.4L438.8 501.1L439.3 500.7L439.8 500.4L440.3 500.0L440.8 499.7L441.3 499.3L441.8 498.9L442.3 498.5L442.8 498.1L443.3 497.6L443.8 497.2L444.3 496.7L444.8 496.2L445.3 495.7L445.8 495.1L446.3 494.6L446.8 494.0L447.3 493.4L447.8 492.8L448.3 492.2L448.8 491.6L449.3 490.9L449.8 490.2L450.3 489.5L450.8 488.8L451.3 488.0L451.8 487.2L452.3 486.4L452.8 485.6L453.3 484.7L453.8 483.9L454.3 483.0L454.8 482.1L455.3 481.1L455.8 480.1L456.3 479.2L456.8 478.1L457.3 477.1L457.8 476.0L458.3 474.9L458.8 473.8L459.3 472.7L459.8 471.5L460.3 470.3L460.8 469.1L461.3 467.9L461.8 466.6L462.3 465.3L462.8 464.0L463.3 462.7L463.8 461.3L464.3 459.9L464.8 458.5L465.3 457.1L465.8 455.6L466.3 454.2L466.8 452.7L467.3 451.2L467.8 449.6L468.3 448.1L468.8 446.5L469.3 444.9L469.8 443.3L470.3 441.7L470.8 440.1L471.3 438.5L471.8 436.8L472.3 435.1L472.8 433.5L473.3 431.8L473.8 430.1L474.3 428.4L474.8 426.6L475.3 424.9L475.8 423.2L476.3 421.5L476.8 419.7L477.3 418.0L477.8 416.3L478.3 414.6L478.8 412.8L479.3 411.1L479.8 409.4L480.3 407.7L480.8 406.0L481.3 404.3L481.8 402.6L482.3 401.0L482.8 399.3L483.3 397.7L483.8 396.1L484.3 394.5L484.8 393.0L485.3 391.4L485.8 389.9L486.3 388.4L486.8 386.9L487.3 385.5L487.8 384.1L488.3 382.7L488.8 381.3L489.3 380.0L489.8 378.8L490.3 377.5L490.8 376.3L491.3 375.2L491.8 374.0L492.3 373.0L492.8 371.9L493.3 370.9L493.8 370.0L494.3 369.1L494.8 368.2L495.3 367.4L495.8 366.7L496.3 366.0L496.8 365.3L497.3 364.7L497.8 364.1L498.3 363.6L498.8 363.2L499.3 362.8L499.8 362.5L500.3 362.2L500.8 362.0L501.3 361.8L501.8 361.7L502.3 361.6L502.8 361.6L503.3 361.7L503.8 361.8L504.3 361.9L504.8 362.1L505.3 362.4L505.8 362.7L506.3 363.1L506.8 363.6L507.3 364.0L507.8 364.6L508.3 365.2L508.8 365.8L509.3 366.5L509.8 367.3L510.3 368.1L510.8 368.9L511.3 369.8L511.8 370.7L512.3 371.7L512.8 372.7L513.3 373.8L513.8 374.9L514.3 376.1L514.8 377.3L515.3 378.5L515.8 379.8L516.3 381.1L516.8 382.4L517.3 383.8L517.8 385.2L518.3 386.6L518.8 388.1L519.3 389.6L519.8 391.1L520.3 392.6L520.8 394.2L521.3 395.8L521.8 397.4L522.3 399.0L522.8 400.7L523.3 402.3L523.8 404.0L524.3 405.7L524.8 407.4L525.3 409.1L525.8 410.8L526.3 412.5L526.8 414.2L527.3 415.9L527.8 417.7L528.3 419.4L528.8 421.1L529.3 422.8L529.8 424.6L530.3 426.3L530.8 428.0L531.3 429.7L531.8 431.4L532.3 433.1L532.8 434.8L533.3 436.5L533.8 438.1L534.3 439.8L534.8 441.4L535.3 443.0L535.8 444.6L536.3 446.2L536.8 447.8L537.3 449.3L537.8 450.9L538.3 452.4L538.8 453.9L539.3 455.4L539.8 456.8L540.3 458.2L540.8 459.6L541.3 461.0L541.8 462.4L542.3 463.7L542.8 465.1L543.3 466.3L543.8 467.6L544.3 468.9L544.8 470.1L545.3 471.3L545.8 472.4L546.3 473.6L546.8 474.7L547.3 475.8L547.8 476.9L548.3 477.9L548.8 478.9L549.3 479.9L549.8 480.9L550.3 481.9L550.8 482.8L551.3 483.7L551.8 484.6L552.3 485.4L552.8 486.3L553.3 487.1L553.8 487.8L554.3 488.6L554.8 489.3L555.3 490.1L555.8 490.8L556.3 491.4L556.8 492.1L557.3 492.7L557.8 493.3L558.3 493.9L558.8 494.5L559.3 495.0L559.8 495.6L560.3 496.1L560.8 496.6L561.3 497.1L561.8 497.5L562.3 498.0L562.8 498.4L563.3 498.8L563.8 499.2L564.3 499.6L564.8 500.0L565.3 500.3L565.8 500.7L566.3 501.0L566.8 501.3L567.3 501.6L567.8 501.9L568.3 502.2L568.8 502.4L569.3 502.7L569.8 502.9L570.3 503.2L570.8 503.4L571.3 503.6L571.8 503.8L572.3 504.0L572.8 504.2L573.3 504.4L573.8 504.5L574.3 504.7L574.8 504.9L575.3 505.0L575.8 505.2L576.3 505.3L576.8 505.4L577.3 505.5L577.8 505.6L578.3 505.8L578.8 505.9L579.3 506.0L579.8 506.1L580.3 506.1L580.8 506.2L581.3 506.3L581.8 506.4L582.3 506.5L582.8 506.5L583.3 506.6L583.8 506.6L584.3 506.7L584.8 506.8L585.3 506.8L585.8 506.9L586.3 506.9L586.8 506.9L587.3 507.0L587.8 507.0L588.3 507.1L588.8 507.1L589.3 507.1L589.8 507.2L590.3 507.2L590.8 507.2L591.3 507.2L591.8 507.3L592.3 507.3L592.8 507.3L593.3 507.3L593.8 507.3L594.3 507.4L594.8 507.4L595.3 507.4L595.8 507.4L596.3 507.4L596.8 507.4L597.3 507.4L597.8 507.5L598.3 507.5L598.8 507.5L599.3 507.5L599.8 507.5L600.3 507.5L600.8 507.5L601.3 507.5L601.8 507.5L602.3 507.5L602.8 507.5L603.3 507.5L603.8 507.5L604.3 507.5L604.8 507.5L605.3 507.6L605.8 507.6L606.3 507.6L606.8 507.6L607.3 507.6L607.8 507.6L608.3 507.6L608.8 507.6L609.3 507.6L609.8 507.6L610.3 507.6L610.8 507.6L611.3 507.6L611.8 507.6L612.3 507.6L612.8 507.6L613.3 507.6L613.8 507.6L614.3 507.6L614.8 507.6L615.3 507.6L615.8 507.6L616.3 507.6L616.8 507.6L617.3 507.6L617.8 507.6L618.3 507.6L618.8 507.6L619.3 507.6L619.8 507.6L620.3 507.6L620.8 507.6L621.3 507.6L621.8 507.6L622.3 507.6L622.8 507.6L623.3 507.6L623.8 507.6L624.3 507.6L624.8 507.6L625.3 507.6L625.8 507.6L626.3 507.6L626.8 507.6L627.3 507.6L627.8 507.6L628.3 507.6L628.8 507.6L629.3 507.6L629.8 507.6L630.3 507.6L630.8 507.6L631.3 507.6L631.8 507.6L632.3 507.6L632.8 507.6L633.3 507.6L633.8 507.6L634.3 507.6L634.8 507.6L635.3 507.6L635.8 507.6L636.3 507.6L636.8 507.6L637.3 507.6L637.8 507.6L638.3 507.6L638.8 507.6L639.3 507.6L639.8 507.6L640.3 507.6L640.8 507.6L641.3 507.6L641.8 507.6L642.3 507.6L642.8 507.6L643.3 507.6L643.8 507.6L644.3 507.6L644.8 507.6L645.3 507.6L645.8 507.6L646.3 507.6L646.8 507.6L647.3 507.6L647.8 507.6L648.3 507.6" stroke="#3fcf3f" stroke-width="1.90" fill="none" stroke-linejoin="round"/><path d="M427.8 507.6L428.3 507.6L428.8 507.6L429.3 507.6L429.8 507.6L430.3 507.6L430.8 507.6L431.3 507.6L431.8 507.6L432.3 507.6L432.8 507.6L433.3 507.6L433.8 507.6L434.3 507.6L434.8 507.6L435.3 507.6L435.8 507.6L436.3 507.6L436.8 507.6L437.3 507.6L437.8 507.6L438.3 507.6L438.8 507.6L439.3 507.6L439.8 507.6L440.3 507.6L440.8 507.6L441.3 507.6L441.8 507.6L442.3 507.6L442.8 507.6L443.3 507.6L443.8 507.6L444.3 507.6L444.8 507.6L445.3 507.6L445.8 507.6L446.3 507.6L446.8 507.6L447.3 507.6L447.8 507.6L448.3 507.6L448.8 507.6L449.3 507.6L449.8 507.6L450.3 507.6L450.8 507.6L451.3 507.6L451.8 507.6L452.3 507.6L452.8 507.6L453.3 507.6L453.8 507.6L454.3 507.6L454.8 507.6L455.3 507.6L455.8 507.6L456.3 507.6L456.8 507.6L457.3 507.6L457.8 507.6L458.3 507.6L458.8 507.6L459.3 507.6L459.8 507.6L460.3 507.6L460.8 507.6L461.3 507.6L461.8 507.6L462.3 507.6L462.8 507.6L463.3 507.6L463.8 507.6L464.3 507.6L464.8 507.6L465.3 507.6L465.8 507.6L466.3 507.6L466.8 507.6L467.3 507.6L467.8 507.6L468.3 507.6L468.8 507.6L469.3 507.6L469.8 507.6L470.3 507.5L470.8 507.5L471.3 507.5L471.8 507.5L472.3 507.5L472.8 507.5L473.3 507.5L473.8 507.5L474.3 507.5L474.8 507.5L475.3 507.4L475.8 507.4L476.3 507.4L476.8 507.4L477.3 507.4L477.8 507.3L478.3 507.3L478.8 507.3L479.3 507.3L479.8 507.2L480.3 507.2L480.8 507.1L481.3 507.1L481.8 507.0L482.3 507.0L482.8 506.9L483.3 506.9L483.8 506.8L484.3 506.7L484.8 506.6L485.3 506.6L485.8 506.5L486.3 506.4L486.8 506.2L487.3 506.1L487.8 506.0L488.3 505.9L488.8 505.7L489.3 505.5L489.8 505.4L490.3 505.2L490.8 505.0L491.3 504.8L491.8 504.6L492.3 504.3L492.8 504.1L493.3 503.8L493.8 503.5L494.3 503.2L494.8 502.8L495.3 502.5L495.8 502.1L496.3 501.7L496.8 501.3L497.3 500.9L497.8 500.4L498.3 499.9L498.8 499.4L499.3 498.9L499.8 498.3L500.3 497.7L500.8 497.1L501.3 496.4L501.8 495.7L502.3 495.0L502.8 494.2L503.3 493.4L503.8 492.6L504.3 491.7L504.8 490.9L505.3 489.9L505.8 489.0L506.3 488.0L506.8 486.9L507.3 485.9L507.8 484.8L508.3 483.6L508.8 482.4L509.3 481.2L509.8 480.0L510.3 478.7L510.8 477.4L511.3 476.1L511.8 474.7L512.3 473.3L512.8 471.8L513.3 470.4L513.8 468.9L514.3 467.4L514.8 465.9L515.3 464.3L515.8 462.7L516.3 461.1L516.8 459.5L517.3 457.9L517.8 456.3L518.3 454.6L518.8 453.0L519.3 451.3L519.8 449.7L520.3 448.1L520.8 446.4L521.3 444.8L521.8 443.2L522.3 441.6L522.8 440.0L523.3 438.5L523.8 436.9L524.3 435.4L524.8 434.0L525.3 432.5L525.8 431.1L526.3 429.8L526.8 428.5L527.3 427.2L527.8 426.0L528.3 424.8L528.8 423.7L529.3 422.7L529.8 421.7L530.3 420.8L530.8 419.9L531.3 419.2L531.8 418.4L532.3 417.8L532.8 417.2L533.3 416.7L533.8 416.3L534.3 416.0L534.8 415.7L535.3 415.5L535.8 415.4L536.3 415.4L536.8 415.5L537.3 415.6L537.8 415.8L538.3 416.1L538.8 416.5L539.3 416.9L539.8 417.4L540.3 418.0L540.8 418.7L541.3 419.5L541.8 420.3L542.3 421.1L542.8 422.1L543.3 423.1L543.8 424.2L544.3 425.3L544.8 426.5L545.3 427.7L545.8 429.0L546.3 430.3L546.8 431.7L547.3 433.1L547.8 434.5L548.3 436.0L548.8 437.5L549.3 439.1L549.8 440.6L550.3 442.2L550.8 443.8L551.3 445.5L551.8 447.1L552.3 448.7L552.8 450.4L553.3 452.0L553.8 453.7L554.3 455.3L554.8 456.9L555.3 458.6L555.8 460.2L556.3 461.8L556.8 463.4L557.3 464.9L557.8 466.5L558.3 468.0L558.8 469.5L559.3 471.0L559.8 472.4L560.3 473.8L560.8 475.2L561.3 476.6L561.8 477.9L562.3 479.2L562.8 480.5L563.3 481.7L563.8 482.9L564.3 484.1L564.8 485.2L565.3 486.3L565.8 487.4L566.3 488.4L566.8 489.4L567.3 490.3L567.8 491.2L568.3 492.1L568.8 492.9L569.3 493.7L569.8 494.5L570.3 495.3L570.8 496.0L571.3 496.7L571.8 497.3L572.3 497.9L572.8 498.5L573.3 499.1L573.8 499.6L574.3 500.1L574.8 500.6L575.3 501.1L575.8 501.5L576.3 501.9L576.8 502.3L577.3 502.6L577.8 503.0L578.3 503.3L578.8 503.6L579.3 503.9L579.8 504.2L580.3 504.4L580.8 504.6L581.3 504.9L581.8 505.1L582.3 505.3L582.8 505.4L583.3 505.6L583.8 505.8L584.3 505.9L584.8 506.1L585.3 506.2L585.8 506.3L586.3 506.4L586.8 506.5L587.3 506.6L587.8 506.7L588.3 506.8L588.8 506.8L589.3 506.9L589.8 507.0L590.3 507.0L590.8 507.1L591.3 507.1L591.8 507.2L592.3 507.2L592.8 507.2L593.3 507.3L593.8 507.3L594.3 507.3L594.8 507.4L595.3 507.4L595.8 507.4L596.3 507.4L596.8 507.4L597.3 507.5L597.8 507.5L598.3 507.5L598.8 507.5L599.3 507.5L599.8 507.5L600.3 507.5L600.8 507.5L601.3 507.5L601.8 507.5L602.3 507.6L602.8 507.6L603.3 507.6L603.8 507.6L604.3 507.6L604.8 507.6L605.3 507.6L605.8 507.6L606.3 507.6L606.8 507.6L607.3 507.6L607.8 507.6L608.3 507.6L608.8 507.6L609.3 507.6L609.8 507.6L610.3 507.6L610.8 507.6L611.3 507.6L611.8 507.6L612.3 507.6L612.8 507.6L613.3 507.6L613.8 507.6L614.3 507.6L614.8 507.6L615.3 507.6L615.8 507.6L616.3 507.6L616.8 507.6L617.3 507.6L617.8 507.6L618.3 507.6L618.8 507.6L619.3 507.6L619.8 507.6L620.3 507.6L620.8 507.6L621.3 507.6L621.8 507.6L622.3 507.6L622.8 507.6L623.3 507.6L623.8 507.6L624.3 507.6L624.8 507.6L625.3 507.6L625.8 507.6L626.3 507.6L626.8 507.6L627.3 507.6L627.8 507.6L628.3 507.6L628.8 507.6L629.3 507.6L629.8 507.6L630.3 507.6L630.8 507.6L631.3 507.6L631.8 507.6L632.3 507.6L632.8 507.6L633.3 507.6L633.8 507.6L634.3 507.6L634.8 507.6L635.3 507.6L635.8 507.6L636.3 507.6L636.8 507.6L637.3 507.6L637.8 507.6L638.3 507.6L638.8 507.6L639.3 507.6L639.8 507.6L640.3 507.6L640.8 507.6L641.3 507.6L641.8 507.6L642.3 507.6L642.8 507.6L643.3 507.6L643.8 507.6L644.3 507.6L644.8 507.6L645.3 507.6L645.8 507.6L646.3 507.6L646.8 507.6L647.3 507.6L647.8 507.6L648.3 507.6" stroke="#1c1c60" stroke-width="1.90" fill="none" stroke-linejoin="round"/><path d="M427.8 507.6L428.3 507.6L428.8 507.6L429.3 507.6L429.8 507.6L430.3 507.6L430.8 507.6L431.3 507.6L431.8 507.6L432.3 507.6L432.8 507.6L433.3 507.6L433.8 507.6L434.3 507.6L434.8 507.6L435.3 507.6L435.8 507.6L436.3 507.6L436.8 507.6L437.3 507.6L437.8 507.6L438.3 507.6L438.8 507.6L439.3 507.6L439.8 507.6L440.3 507.6L440.8 507.6L441.3 507.6L441.8 507.6L442.3 507.6L442.8 507.6L443.3 507.6L443.8 507.6L444.3 507.6L444.8 507.6L445.3 507.6L445.8 507.6L446.3 507.6L446.8 507.6L447.3 507.6L447.8 507.6L448.3 507.6L448.8 507.6L449.3 507.6L449.8 507.6L450.3 507.6L450.8 507.6L451.3 507.6L451.8 507.6L452.3 507.6L452.8 507.6L453.3 507.6L453.8 507.6L454.3 507.6L454.8 507.6L455.3 507.6L455.8 507.6L456.3 507.6L456.8 507.6L457.3 507.6L457.8 507.6L458.3 507.6L458.8 507.6L459.3 507.6L459.8 507.6L460.3 507.6L460.8 507.6L461.3 507.6L461.8 507.6L462.3 507.6L462.8 507.6L463.3 507.6L463.8 507.6L464.3 507.6L464.8 507.6L465.3 507.6L465.8 507.6L466.3 507.6L466.8 507.6L467.3 507.6L467.8 507.6L468.3 507.6L468.8 507.6L469.3 507.6L469.8 507.6L470.3 507.6L470.8 507.6L471.3 507.6L471.8 507.6L472.3 507.6L472.8 507.6L473.3 507.6L473.8 507.6L474.3 507.6L474.8 507.6L475.3 507.6L475.8 507.6L476.3 507.6L476.8 507.6L477.3 507.6L477.8 507.6L478.3 507.6L478.8 507.6L479.3 507.6L479.8 507.6L480.3 507.6L480.8 507.6L481.3 507.6L481.8 507.6L482.3 507.6L482.8 507.6L483.3 507.6L483.8 507.6L484.3 507.6L484.8 507.6L485.3 507.6L485.8 507.6L486.3 507.6L486.8 507.6L487.3 507.6L487.8 507.6L488.3 507.6L488.8 507.6L489.3 507.6L489.8 507.6L490.3 507.6L490.8 507.6L491.3 507.6L491.8 507.6L492.3 507.6L492.8 507.6L493.3 507.6L493.8 507.6L494.3 507.6L494.8 507.6L495.3 507.6L495.8 507.6L496.3 507.6L496.8 507.6L497.3 507.6L497.8 507.6L498.3 507.6L498.8 507.6L499.3 507.6L499.8 507.6L500.3 507.6L500.8 507.6L501.3 507.6L501.8 507.6L502.3 507.6L502.8 507.5L503.3 507.5L503.8 507.5L504.3 507.5L504.8 507.5L505.3 507.5L505.8 507.5L506.3 507.5L506.8 507.5L507.3 507.5L507.8 507.4L508.3 507.4L508.8 507.4L509.3 507.4L509.8 507.4L510.3 507.3L510.8 507.3L511.3 507.3L511.8 507.2L512.3 507.2L512.8 507.2L513.3 507.1L513.8 507.1L514.3 507.0L514.8 507.0L515.3 506.9L515.8 506.8L516.3 506.8L516.8 506.7L517.3 506.6L517.8 506.5L518.3 506.4L518.8 506.3L519.3 506.2L519.8 506.0L520.3 505.9L520.8 505.8L521.3 505.6L521.8 505.4L522.3 505.2L522.8 505.0L523.3 504.8L523.8 504.6L524.3 504.4L524.8 504.1L525.3 503.8L525.8 503.5L526.3 503.2L526.8 502.9L527.3 502.5L527.8 502.2L528.3 501.8L528.8 501.3L529.3 500.9L529.8 500.4L530.3 499.9L530.8 499.4L531.3 498.8L531.8 498.3L532.3 497.6L532.8 497.0L533.3 496.3L533.8 495.6L534.3 494.9L534.8 494.1L535.3 493.3L535.8 492.5L536.3 491.6L536.8 490.7L537.3 489.7L537.8 488.8L538.3 487.7L538.8 486.7L539.3 485.6L539.8 484.5L540.3 483.3L540.8 482.1L541.3 480.9L541.8 479.6L542.3 478.3L542.8 477.0L543.3 475.6L543.8 474.2L544.3 472.8L544.8 471.3L545.3 469.9L545.8 468.3L546.3 466.8L546.8 465.3L547.3 463.7L547.8 462.1L548.3 460.5L548.8 458.9L549.3 457.2L549.8 455.6L550.3 454.0L550.8 452.3L551.3 450.7L551.8 449.0L552.3 447.4L552.8 445.8L553.3 444.2L553.8 442.6L554.3 441.0L554.8 439.4L555.3 437.9L555.8 436.4L556.3 435.0L556.8 433.5L557.3 432.1L557.8 430.8L558.3 429.5L558.8 428.3L559.3 427.1L559.8 425.9L560.3 424.8L560.8 423.8L561.3 422.8L561.8 422.0L562.3 421.1L562.8 420.4L563.3 419.7L563.8 419.1L564.3 418.5L564.8 418.1L565.3 417.7L565.8 417.4L566.3 417.2L566.8 417.1L567.3 417.0L567.8 417.0L568.3 417.1L568.8 417.3L569.3 417.6L569.8 417.9L570.3 418.4L570.8 418.9L571.3 419.4L571.8 420.1L572.3 420.8L572.8 421.6L573.3 422.5L573.8 423.4L574.3 424.4L574.8 425.5L575.3 426.6L575.8 427.8L576.3 429.0L576.8 430.3L577.3 431.6L577.8 433.0L578.3 434.4L578.8 435.8L579.3 437.3L579.8 438.8L580.3 440.4L580.8 441.9L581.3 443.5L581.8 445.1L582.3 446.7L582.8 448.4L583.3 450.0L583.8 451.7L584.3 453.3L584.8 455.0L585.3 456.6L585.8 458.2L586.3 459.8L586.8 461.5L587.3 463.1L587.8 464.6L588.3 466.2L588.8 467.7L589.3 469.3L589.8 470.7L590.3 472.2L590.8 473.7L591.3 475.1L591.8 476.4L592.3 477.8L592.8 479.1L593.3 480.4L593.8 481.6L594.3 482.8L594.8 484.0L595.3 485.2L595.8 486.3L596.3 487.3L596.8 488.4L597.3 489.4L597.8 490.3L598.3 491.2L598.8 492.1L599.3 493.0L599.8 493.8L600.3 494.6L600.8 495.3L601.3 496.1L601.8 496.7L602.3 497.4L602.8 498.0L603.3 498.6L603.8 499.2L604.3 499.7L604.8 500.2L605.3 500.7L605.8 501.2L606.3 501.6L606.8 502.0L607.3 502.4L607.8 502.7L608.3 503.1L608.8 503.4L609.3 503.7L609.8 504.0L610.3 504.3L610.8 504.5L611.3 504.7L611.8 505.0L612.3 505.2L612.8 505.3L613.3 505.5L613.8 505.7L614.3 505.8L614.8 506.0L615.3 506.1L615.8 506.2L616.3 506.4L616.8 506.5L617.3 506.6L617.8 506.6L618.3 506.7L618.8 506.8L619.3 506.9L619.8 506.9L620.3 507.0L620.8 507.1L621.3 507.1L621.8 507.2L622.3 507.2L622.8 507.2L623.3 507.3L623.8 507.3L624.3 507.3L624.8 507.4L625.3 507.4L625.8 507.4L626.3 507.4L626.8 507.4L627.3 507.5L627.8 507.5L628.3 507.5L628.8 507.5L629.3 507.5L629.8 507.5L630.3 507.5L630.8 507.5L631.3 507.5L631.8 507.5L632.3 507.6L632.8 507.6L633.3 507.6L633.8 507.6L634.3 507.6L634.8 507.6L635.3 507.6L635.8 507.6L636.3 507.6L636.8 507.6L637.3 507.6L637.8 507.6L638.3 507.6L638.8 507.6L639.3 507.6L639.8 507.6L640.3 507.6L640.8 507.6L641.3 507.6L641.8 507.6L642.3 507.6L642.8 507.6L643.3 507.6L643.8 507.6L644.3 507.6L644.8 507.6L645.3 507.6L645.8 507.6L646.3 507.6L646.8 507.6L647.3 507.6L647.8 507.6L648.3 507.6" stroke="#a63ab8" stroke-width="1.90" fill="none" stroke-linejoin="round"/><path d="M427.8 507.6L428.3 507.6L428.8 507.6L429.3 507.6L429.8 507.6L430.3 507.6L430.8 507.6L431.3 507.6L431.8 507.6L432.3 507.6L432.8 507.6L433.3 507.6L433.8 507.6L434.3 507.6L434.8 507.6L435.3 507.6L435.8 507.6L436.3 507.6L436.8 507.6L437.3 507.6L437.8 507.6L438.3 507.6L438.8 507.6L439.3 507.6L439.8 507.6L440.3 507.6L440.8 507.6L441.3 507.6L441.8 507.6L442.3 507.6L442.8 507.6L443.3 507.6L443.8 507.6L444.3 507.6L444.8 507.6L445.3 507.6L445.8 507.6L446.3 507.6L446.8 507.6L447.3 507.6L447.8 507.6L448.3 507.6L448.8 507.6L449.3 507.6L449.8 507.6L450.3 507.6L450.8 507.6L451.3 507.6L451.8 507.6L452.3 507.6L452.8 507.6L453.3 507.6L453.8 507.6L454.3 507.6L454.8 507.6L455.3 507.6L455.8 507.6L456.3 507.6L456.8 507.6L457.3 507.6L457.8 507.6L458.3 507.6L458.8 507.6L459.3 507.6L459.8 507.6L460.3 507.6L460.8 507.6L461.3 507.6L461.8 507.6L462.3 507.6L462.8 507.6L463.3 507.6L463.8 507.6L464.3 507.6L464.8 507.6L465.3 507.6L465.8 507.6L466.3 507.6L466.8 507.6L467.3 507.6L467.8 507.6L468.3 507.6L468.8 507.6L469.3 507.6L469.8 507.6L470.3 507.6L470.8 507.6L471.3 507.6L471.8 507.6L472.3 507.6L472.8 507.6L473.3 507.6L473.8 507.6L474.3 507.6L474.8 507.6L475.3 507.6L475.8 507.6L476.3 507.6L476.8 507.6L477.3 507.6L477.8 507.6L478.3 507.6L478.8 507.6L479.3 507.6L479.8 507.6L480.3 507.6L480.8 507.6L481.3 507.6L481.8 507.6L482.3 507.6L482.8 507.6L483.3 507.6L483.8 507.6L484.3 507.6L484.8 507.6L485.3 507.6L485.8 507.6L486.3 507.6L486.8 507.6L487.3 507.6L487.8 507.6L488.3 507.6L488.8 507.6L489.3 507.6L489.8 507.6L490.3 507.6L490.8 507.6L491.3 507.6L491.8 507.6L492.3 507.6L492.8 507.6L493.3 507.6L493.8 507.6L494.3 507.6L494.8 507.6L495.3 507.6L495.8 507.6L496.3 507.6L496.8 507.6L497.3 507.6L497.8 507.6L498.3 507.6L498.8 507.6L499.3 507.6L499.8 507.6L500.3 507.6L500.8 507.6L501.3 507.6L501.8 507.6L502.3 507.6L502.8 507.5L503.3 507.5L503.8 507.5L504.3 507.5L504.8 507.5L505.3 507.5L505.8 507.5L506.3 507.5L506.8 507.5L507.3 507.5L507.8 507.5L508.3 507.5L508.8 507.5L509.3 507.5L509.8 507.5L510.3 507.5L510.8 507.5L511.3 507.4L511.8 507.4L512.3 507.4L512.8 507.4L513.3 507.4L513.8 507.4L514.3 507.4L514.8 507.4L515.3 507.3L515.8 507.3L516.3 507.3L516.8 507.3L517.3 507.3L517.8 507.2L518.3 507.2L518.8 507.2L519.3 507.2L519.8 507.2L520.3 507.1L520.8 507.1L521.3 507.1L521.8 507.0L522.3 507.0L522.8 507.0L523.3 506.9L523.8 506.9L524.3 506.9L524.8 506.8L525.3 506.8L525.8 506.7L526.3 506.7L526.8 506.6L527.3 506.6L527.8 506.5L528.3 506.4L528.8 506.4L529.3 506.3L529.8 506.3L530.3 506.2L530.8 506.1L531.3 506.0L531.8 505.9L532.3 505.9L532.8 505.8L533.3 505.7L533.8 505.6L534.3 505.5L534.8 505.4L535.3 505.3L535.8 505.1L536.3 505.0L536.8 504.9L537.3 504.8L537.8 504.6L538.3 504.5L538.8 504.3L539.3 504.2L539.8 504.0L540.3 503.9L540.8 503.7L541.3 503.5L541.8 503.3L542.3 503.2L542.8 503.0L543.3 502.8L543.8 502.5L544.3 502.3L544.8 502.1L545.3 501.9L545.8 501.6L546.3 501.4L546.8 501.1L547.3 500.8L547.8 500.6L548.3 500.3L548.8 500.0L549.3 499.7L549.8 499.4L550.3 499.0L550.8 498.7L551.3 498.4L551.8 498.0L552.3 497.7L552.8 497.3L553.3 496.9L553.8 496.5L554.3 496.1L554.8 495.7L555.3 495.3L555.8 494.8L556.3 494.4L556.8 493.9L557.3 493.4L557.8 493.0L558.3 492.5L558.8 492.0L559.3 491.4L559.8 490.9L560.3 490.4L560.8 489.8L561.3 489.3L561.8 488.7L562.3 488.1L562.8 487.5L563.3 486.9L563.8 486.3L564.3 485.6L564.8 485.0L565.3 484.4L565.8 483.7L566.3 483.0L566.8 482.3L567.3 481.6L567.8 480.9L568.3 480.2L568.8 479.5L569.3 478.7L569.8 478.0L570.3 477.2L570.8 476.5L571.3 475.7L571.8 474.9L572.3 474.1L572.8 473.3L573.3 472.5L573.8 471.7L574.3 470.9L574.8 470.1L575.3 469.2L575.8 468.4L576.3 467.5L576.8 466.7L577.3 465.8L577.8 465.0L578.3 464.1L578.8 463.3L579.3 462.4L579.8 461.5L580.3 460.7L580.8 459.8L581.3 458.9L581.8 458.1L582.3 457.2L582.8 456.4L583.3 455.5L583.8 454.6L584.3 453.8L584.8 452.9L585.3 452.1L585.8 451.3L586.3 450.4L586.8 449.6L587.3 448.8L587.8 448.0L588.3 447.2L588.8 446.4L589.3 445.6L589.8 444.8L590.3 444.1L590.8 443.3L591.3 442.6L591.8 441.9L592.3 441.2L592.8 440.5L593.3 439.8L593.8 439.2L594.3 438.5L594.8 437.9L595.3 437.3L595.8 436.7L596.3 436.1L596.8 435.6L597.3 435.0L597.8 434.5L598.3 434.0L598.8 433.6L599.3 433.1L599.8 432.7L600.3 432.3L600.8 431.9L601.3 431.5L601.8 431.2L602.3 430.9L602.8 430.6L603.3 430.3L603.8 430.1L604.3 429.9L604.8 429.7L605.3 429.5L605.8 429.4L606.3 429.3L606.8 429.2L607.3 429.1L607.8 429.1L608.3 429.1L608.8 429.1L609.3 429.2L609.8 429.2L610.3 429.3L610.8 429.5L611.3 429.6L611.8 429.8L612.3 430.0L612.8 430.2L613.3 430.4L613.8 430.7L614.3 431.0L614.8 431.3L615.3 431.7L615.8 432.0L616.3 432.4L616.8 432.8L617.3 433.3L617.8 433.7L618.3 434.2L618.8 434.7L619.3 435.2L619.8 435.8L620.3 436.3L620.8 436.9L621.3 437.5L621.8 438.1L622.3 438.8L622.8 439.4L623.3 440.1L623.8 440.8L624.3 441.5L624.8 442.2L625.3 442.9L625.8 443.6L626.3 444.4L626.8 445.2L627.3 445.9L627.8 446.7L628.3 447.5L628.8 448.3L629.3 449.1L629.8 449.9L630.3 450.8L630.8 451.6L631.3 452.4L631.8 453.3L632.3 454.1L632.8 455.0L633.3 455.8L633.8 456.7L634.3 457.6L634.8 458.4L635.3 459.3L635.8 460.2L636.3 461.0L636.8 461.9L637.3 462.8L637.8 463.6L638.3 464.5L638.8 465.3L639.3 466.2L639.8 467.0L640.3 467.9L640.8 468.7L641.3 469.6L641.8 470.4L642.3 471.2L642.8 472.0L643.3 472.8L643.8 473.6L644.3 474.4L644.8 475.2L645.3 476.0L645.8 476.8L646.3 477.5L646.8 478.3L647.3 479.0L647.8 479.8L648.3 480.5" stroke="#c48c42" stroke-width="1.90" fill="none" stroke-linejoin="round"/><text x="509.80" y="357.60" font-size="12.50" font-weight="bold" text-anchor="middle" fill="#111" >a</text><text x="535.40" y="409.60" font-size="12.50" font-weight="bold" text-anchor="middle" fill="#111" >b</text><text x="567.40" y="411.20" font-size="12.50" font-weight="bold" text-anchor="middle" fill="#111" >c</text><text x="593.50" y="427.90" font-size="12.50" font-weight="bold" text-anchor="middle" fill="#111" >d</text><text x="562.20" y="320.50" font-size="10.90" font-weight="normal" text-anchor="start" fill="#151515" stroke="#151515" stroke-width="0.15">BB Region of 6% ZnO</text><text x="440.90" y="347.20" font-size="13.20" font-weight="bold" text-anchor="middle" fill="#111" >(d)</text><text x="0" y="0" transform="translate(367.70 417.40) rotate(-90)" font-size="13.90" font-weight="bold" text-anchor="middle" fill="#111">PL.Intensity(a.u)</text><text x="531.80" y="554.20" font-size="13.60" font-weight="bold" text-anchor="middle" fill="#111" >Wavelength(nm)</text><text x="49.60" y="833.40" font-size="8.90" font-weight="normal" text-anchor="middle" fill="#111" stroke="#111" stroke-width="0.22">400</text><text x="86.16" y="833.40" font-size="8.90" font-weight="normal" text-anchor="middle" fill="#111" stroke="#111" stroke-width="0.22">450</text><text x="122.71" y="833.40" font-size="8.90" font-weight="normal" text-anchor="middle" fill="#111" stroke="#111" stroke-width="0.22">500</text><text x="159.27" y="833.40" font-size="8.90" font-weight="normal" text-anchor="middle" fill="#111" stroke="#111" stroke-width="0.22">550</text><text x="195.83" y="833.40" font-size="8.90" font-weight="normal" text-anchor="middle" fill="#111" stroke="#111" stroke-width="0.22">600</text><text x="232.39" y="833.40" font-size="8.90" font-weight="normal" text-anchor="middle" fill="#111" stroke="#111" stroke-width="0.22">650</text><text x="268.94" y="833.40" font-size="8.90" font-weight="normal" text-anchor="middle" fill="#111" stroke="#111" stroke-width="0.22">700</text><text x="305.50" y="833.40" font-size="8.90" font-weight="normal" text-anchor="middle" fill="#111" stroke="#111" stroke-width="0.22">750</text><text x="42.00" y="806.40" font-size="8.90" font-weight="normal" text-anchor="end" fill="#111" stroke="#111" stroke-width="0.22">500</text><text x="42.00" y="776.66" font-size="8.90" font-weight="normal" text-anchor="end" fill="#111" stroke="#111" stroke-width="0.22">1000</text><text x="42.00" y="746.91" font-size="8.90" font-weight="normal" text-anchor="end" fill="#111" stroke="#111" stroke-width="0.22">1500</text><text x="42.00" y="717.17" font-size="8.90" font-weight="normal" text-anchor="end" fill="#111" stroke="#111" stroke-width="0.22">2000</text><text x="42.00" y="687.43" font-size="8.90" font-weight="normal" text-anchor="end" fill="#111" stroke="#111" stroke-width="0.22">2500</text><text x="42.00" y="657.69" font-size="8.90" font-weight="normal" text-anchor="end" fill="#111" stroke="#111" stroke-width="0.22">3000</text><text x="42.00" y="627.94" font-size="8.90" font-weight="normal" text-anchor="end" fill="#111" stroke="#111" stroke-width="0.22">3500</text><text x="42.00" y="598.20" font-size="8.90" font-weight="normal" text-anchor="end" fill="#111" stroke="#111" stroke-width="0.22">4000</text><path d="M49.60 818.80 V823.50 M49.60 595.90 V600.60 M86.16 818.80 V823.50 M86.16 595.90 V600.60 M122.71 818.80 V823.50 M122.71 595.90 V600.60 M159.27 818.80 V823.50 M159.27 595.90 V600.60 M195.83 818.80 V823.50 M195.83 595.90 V600.60 M232.39 818.80 V823.50 M232.39 595.90 V600.60 M268.94 818.80 V823.50 M268.94 595.90 V600.60 M305.50 818.80 V823.50 M305.50 595.90 V600.60 M67.88 818.80 V821.60 M67.88 595.90 V598.70 M104.44 818.80 V821.60 M104.44 595.90 V598.70 M140.99 818.80 V821.60 M140.99 595.90 V598.70 M177.55 818.80 V821.60 M177.55 595.90 V598.70 M214.11 818.80 V821.60 M214.11 595.90 V598.70 M250.66 818.80 V821.60 M250.66 595.90 V598.70 M287.22 818.80 V821.60 M287.22 595.90 V598.70 M323.78 818.80 V821.60 M323.78 595.90 V598.70 M49.60 804.10 H44.90 M324.00 804.10 H319.30 M49.60 774.36 H44.90 M324.00 774.36 H319.30 M49.60 744.61 H44.90 M324.00 744.61 H319.30 M49.60 714.87 H44.90 M324.00 714.87 H319.30 M49.60 685.13 H44.90 M324.00 685.13 H319.30 M49.60 655.39 H44.90 M324.00 655.39 H319.30 M49.60 625.64 H44.90 M324.00 625.64 H319.30 M49.60 595.90 H44.90 M324.00 595.90 H319.30 M49.60 789.23 H46.80 M324.00 789.23 H321.20 M49.60 759.49 H46.80 M324.00 759.49 H321.20 M49.60 729.74 H46.80 M324.00 729.74 H321.20 M49.60 700.00 H46.80 M324.00 700.00 H321.20 M49.60 670.26 H46.80 M324.00 670.26 H321.20 M49.60 640.51 H46.80 M324.00 640.51 H321.20 M49.60 610.77 H46.80 M324.00 610.77 H321.20" stroke="#262626" stroke-width="1" fill="none"/><path d="M49.60 595.90 V818.80" stroke="#262626" stroke-width="1.15" fill="none" stroke-linecap="square"/><path d="M324.00 595.90 V820.80" stroke="#7c7c7c" stroke-width="1.55" fill="none"/><path d="M45.20 595.90 H324.00" stroke="#7c7c7c" stroke-width="1.55" fill="none"/><path d="M47.10 818.80 H324.00" stroke="#262626" stroke-width="1.15" fill="none" stroke-linecap="square"/><path d="M77.7 801.5L78.7 801.3L79.6 801.1L80.6 800.8L81.6 800.6L82.6 800.3L83.5 800.1L84.5 799.8L85.4 799.5L86.4 799.1L87.3 798.7L88.2 798.3L89.1 797.9L90.0 797.4L90.9 797.0L91.8 796.5L92.6 796.0L93.4 795.4L94.3 794.8L95.1 794.2L95.9 793.6L96.6 793.0L97.4 792.4L98.2 791.7L98.9 791.0L99.6 790.3L100.3 789.6L101.0 788.9L101.6 788.1L102.3 787.3L102.9 786.6L103.5 785.8L104.1 784.9L104.6 784.1L105.2 783.3L105.7 782.4L106.3 781.6L106.8 780.7L107.3 779.9L107.8 779.0L108.3 778.1L108.8 777.3L109.2 776.4L109.7 775.5L110.1 774.6L110.5 773.7L110.9 772.8L111.4 771.9L111.8 770.9L112.2 770.0L112.6 769.1L113.0 768.2L113.4 767.3L113.7 766.4L114.1 765.4L114.5 764.5L114.9 763.6L115.2 762.7L115.6 761.7L116.0 760.8L116.3 759.8L116.7 758.9L117.0 758.0L117.3 757.0L117.6 756.1L118.0 755.1L118.3 754.2L118.5 753.2L118.8 752.3L119.1 751.3L119.4 750.3L119.7 749.4L119.9 748.4L120.2 747.4L120.5 746.5L120.8 745.5L121.0 744.6L121.3 743.6L121.6 742.7L121.9 741.7L122.2 740.7L122.5 739.8L122.8 738.8L123.1 737.9L123.4 736.9L123.7 736.0L124.0 735.0L124.3 734.0L124.5 733.1L124.8 732.1L125.1 731.2L125.4 730.2L125.7 729.3L126.0 728.3L126.3 727.4L126.6 726.4L126.9 725.4L127.2 724.5L127.5 723.5L127.7 722.6L128.0 721.6L128.3 720.6L128.5 719.7L128.8 718.7L129.0 717.7L129.3 716.8L129.5 715.8L129.8 714.8L130.0 713.8L130.2 712.9L130.4 711.9L130.6 710.9L130.9 709.9L131.1 709.0L131.3 708.0L131.5 707.0L131.7 706.0L132.0 705.1L132.2 704.1L132.4 703.1L132.6 702.1L132.8 701.2L133.0 700.2L133.2 699.2L133.4 698.2L133.6 697.2L133.8 696.3L134.0 695.3L134.3 694.3L134.5 693.3L134.7 692.4L134.9 691.4L135.2 690.4L135.5 689.5L135.8 688.5L136.1 687.5L136.4 686.6L136.7 685.7L137.0 684.7L137.4 683.8L137.7 682.8L138.1 681.9L138.5 681.0L138.8 680.1L139.2 679.1L139.6 678.2L139.9 677.3L140.3 676.3L140.7 675.4L141.0 674.5L141.3 673.5L141.7 672.6L142.0 671.6L142.4 670.7L142.7 669.8L143.0 668.8L143.4 667.9L143.7 666.9L144.1 666.0L144.4 665.0L144.7 664.1L145.1 663.2L145.4 662.2L145.7 661.3L146.1 660.3L146.4 659.4L146.7 658.4L147.0 657.5L147.3 656.5L147.7 655.6L148.0 654.7L148.3 653.7L148.7 652.8L149.0 651.8L149.4 650.9L149.7 650.0L150.1 649.0L150.5 648.1L150.8 647.2L151.2 646.3L151.6 645.3L152.1 644.4L152.5 643.5L152.9 642.6L153.3 641.7L153.8 640.8L154.2 639.9L154.7 639.1L155.2 638.2L155.7 637.3L156.2 636.4L156.7 635.6L157.2 634.8L157.8 633.9L158.5 633.2L159.1 632.4L159.8 631.7L160.6 631.0L161.3 630.4L162.1 629.8L163.0 629.3L163.9 628.8L164.7 628.3L165.7 627.9L166.6 627.5L167.5 627.2L168.5 626.9L169.5 626.7L170.5 626.6L171.5 626.5L172.5 626.4L173.5 626.4L174.5 626.5L175.4 626.6L176.4 626.7L177.4 626.9L178.4 627.2L179.3 627.6L180.3 627.9L181.2 628.2L182.2 628.4L183.2 628.6L184.2 628.8L185.1 629.0L186.0 629.4L186.9 629.9L187.8 630.4L188.6 631.0L189.4 631.6L190.2 632.2L190.9 632.9L191.7 633.6L192.4 634.2L193.2 634.9L193.8 635.7L194.4 636.5L195.0 637.3L195.5 638.1L196.1 638.9L196.6 639.8L197.2 640.6L197.7 641.5L198.2 642.3L198.7 643.2L199.2 644.0L199.8 644.9L200.3 645.7L200.8 646.6L201.4 647.4L201.9 648.3L202.4 649.1L203.0 649.9L203.6 650.8L204.1 651.6L204.7 652.4L205.2 653.3L205.8 654.1L206.4 654.9L206.9 655.7L207.5 656.5L208.1 657.4L208.7 658.2L209.3 659.0L209.9 659.8L210.5 660.6L211.1 661.3L211.7 662.1L212.4 662.9L213.0 663.7L213.7 664.4L214.3 665.2L215.0 666.0L215.6 666.7L216.3 667.5L216.9 668.2L217.6 669.0L218.2 669.8L218.9 670.5L219.5 671.3L220.2 672.0L220.8 672.8L221.4 673.6L222.1 674.3L222.7 675.1L223.4 675.9L224.0 676.6L224.7 677.4L225.3 678.1L226.0 678.9L226.6 679.7L227.3 680.4L227.9 681.2L228.6 681.9L229.2 682.7L229.9 683.5L230.5 684.2L231.2 685.0L231.8 685.8L232.4 686.6L233.0 687.4L233.6 688.2L234.1 689.0L234.7 689.8L235.3 690.7L235.8 691.5L236.3 692.4L236.9 693.2L237.4 694.1L237.9 694.9L238.4 695.8L238.9 696.6L239.5 697.5L240.0 698.3L240.5 699.2L241.0 700.1L241.5 700.9L242.0 701.8L242.4 702.7L242.9 703.6L243.4 704.4L243.9 705.3L244.3 706.2L244.8 707.1L245.3 708.0L245.7 708.9L246.2 709.7L246.7 710.6L247.2 711.5L247.7 712.4L248.2 713.2L248.7 714.1L249.2 714.9L249.8 715.8L250.3 716.6L250.9 717.4L251.5 718.2L252.0 719.1L252.6 719.9L253.2 720.7L253.8 721.5L254.4 722.3L255.0 723.1L255.7 723.8L256.3 724.6L257.0 725.4L257.6 726.1L258.3 726.9L259.0 727.6L259.7 728.3L260.4 729.0L261.1 729.7L261.8 730.4L262.6 731.1L263.3 731.7L264.1 732.4L264.8 733.0L265.6 733.7L266.4 734.3L267.2 734.9L268.0 735.5L268.8 736.1L269.6 736.6L270.5 737.1L271.4 737.6L272.3 738.0L273.2 738.4L274.1 738.8L275.1 739.1L276.1 739.3L277.0 739.5L278.0 739.6L279.0 739.7L280.0 739.7L281.0 739.6L282.0 739.5L283.0 739.3L284.0 739.0L284.9 738.7L285.8 738.3L286.7 737.9L287.6 737.3L288.4 736.7L289.1 736.1L289.9 735.4L290.6 734.8L291.3 734.1L292.1 733.4L292.8 732.6L293.5 731.9L294.2 731.2" stroke="#111" stroke-width="1.20" fill="none" stroke-linejoin="round"/><path d="M75.9 799.8a1.7 1.7 0 1 0 0.01 0zM76.5 801.2a1.7 1.7 0 1 0 0.01 0zM77.7 802.5a1.7 1.7 0 1 0 0.01 0zM77.0 798.9a1.7 1.7 0 1 0 0.01 0zM78.1 801.3a1.7 1.7 0 1 0 0.01 0zM79.0 801.3a1.7 1.7 0 1 0 0.01 0zM79.2 800.4a1.7 1.7 0 1 0 0.01 0zM79.8 800.2a1.7 1.7 0 1 0 0.01 0zM80.0 799.9a1.7 1.7 0 1 0 0.01 0zM80.9 801.4a1.7 1.7 0 1 0 0.01 0zM80.7 797.5a1.7 1.7 0 1 0 0.01 0zM82.1 800.6a1.7 1.7 0 1 0 0.01 0zM82.3 799.3a1.7 1.7 0 1 0 0.01 0zM82.7 799.3a1.7 1.7 0 1 0 0.01 0zM83.9 799.6a1.7 1.7 0 1 0 0.01 0zM84.3 799.4a1.7 1.7 0 1 0 0.01 0zM84.3 798.4a1.7 1.7 0 1 0 0.01 0zM85.8 800.1a1.7 1.7 0 1 0 0.01 0zM85.7 798.6a1.7 1.7 0 1 0 0.01 0zM85.8 798.1a1.7 1.7 0 1 0 0.01 0zM86.3 798.0a1.7 1.7 0 1 0 0.01 0zM87.0 798.5a1.7 1.7 0 1 0 0.01 0zM86.4 796.0a1.7 1.7 0 1 0 0.01 0zM88.1 796.8a1.7 1.7 0 1 0 0.01 0zM87.6 795.4a1.7 1.7 0 1 0 0.01 0zM88.6 796.9a1.7 1.7 0 1 0 0.01 0zM89.1 796.3a1.7 1.7 0 1 0 0.01 0zM89.4 796.0a1.7 1.7 0 1 0 0.01 0zM90.8 797.3a1.7 1.7 0 1 0 0.01 0zM90.2 794.3a1.7 1.7 0 1 0 0.01 0zM91.3 795.1a1.7 1.7 0 1 0 0.01 0zM91.0 794.0a1.7 1.7 0 1 0 0.01 0zM92.4 796.1a1.7 1.7 0 1 0 0.01 0zM92.2 794.0a1.7 1.7 0 1 0 0.01 0zM92.9 794.1a1.7 1.7 0 1 0 0.01 0zM93.5 794.5a1.7 1.7 0 1 0 0.01 0zM93.0 792.5a1.7 1.7 0 1 0 0.01 0zM94.8 793.6a1.7 1.7 0 1 0 0.01 0zM95.4 793.6a1.7 1.7 0 1 0 0.01 0zM95.4 792.4a1.7 1.7 0 1 0 0.01 0zM94.7 790.6a1.7 1.7 0 1 0 0.01 0zM96.3 792.1a1.7 1.7 0 1 0 0.01 0zM98.1 793.4a1.7 1.7 0 1 0 0.01 0zM96.8 791.2a1.7 1.7 0 1 0 0.01 0zM97.2 791.1a1.7 1.7 0 1 0 0.01 0zM97.8 790.9a1.7 1.7 0 1 0 0.01 0zM98.4 790.6a1.7 1.7 0 1 0 0.01 0zM98.8 789.6a1.7 1.7 0 1 0 0.01 0zM99.0 789.7a1.7 1.7 0 1 0 0.01 0zM97.8 787.5a1.7 1.7 0 1 0 0.01 0zM98.6 787.7a1.7 1.7 0 1 0 0.01 0zM100.3 788.1a1.7 1.7 0 1 0 0.01 0zM98.7 786.8a1.7 1.7 0 1 0 0.01 0zM100.5 787.4a1.7 1.7 0 1 0 0.01 0zM98.9 785.8a1.7 1.7 0 1 0 0.01 0zM102.2 787.4a1.7 1.7 0 1 0 0.01 0zM100.6 785.6a1.7 1.7 0 1 0 0.01 0zM101.6 784.9a1.7 1.7 0 1 0 0.01 0zM102.1 784.8a1.7 1.7 0 1 0 0.01 0zM100.0 783.2a1.7 1.7 0 1 0 0.01 0zM101.9 783.1a1.7 1.7 0 1 0 0.01 0zM102.2 783.3a1.7 1.7 0 1 0 0.01 0zM103.1 782.8a1.7 1.7 0 1 0 0.01 0zM103.5 782.6a1.7 1.7 0 1 0 0.01 0zM104.7 782.8a1.7 1.7 0 1 0 0.01 0zM102.1 780.8a1.7 1.7 0 1 0 0.01 0zM105.1 781.6a1.7 1.7 0 1 0 0.01 0zM104.9 780.6a1.7 1.7 0 1 0 0.01 0zM105.3 780.7a1.7 1.7 0 1 0 0.01 0zM106.0 780.4a1.7 1.7 0 1 0 0.01 0zM106.6 779.6a1.7 1.7 0 1 0 0.01 0zM106.6 779.4a1.7 1.7 0 1 0 0.01 0zM105.4 778.2a1.7 1.7 0 1 0 0.01 0zM105.3 777.8a1.7 1.7 0 1 0 0.01 0zM106.7 777.5a1.7 1.7 0 1 0 0.01 0zM106.6 776.8a1.7 1.7 0 1 0 0.01 0zM107.2 776.2a1.7 1.7 0 1 0 0.01 0zM107.6 776.0a1.7 1.7 0 1 0 0.01 0zM108.3 775.8a1.7 1.7 0 1 0 0.01 0zM109.0 775.5a1.7 1.7 0 1 0 0.01 0zM110.1 775.0a1.7 1.7 0 1 0 0.01 0zM108.2 773.4a1.7 1.7 0 1 0 0.01 0zM107.1 773.0a1.7 1.7 0 1 0 0.01 0zM107.6 772.1a1.7 1.7 0 1 0 0.01 0zM108.8 772.0a1.7 1.7 0 1 0 0.01 0zM109.5 772.0a1.7 1.7 0 1 0 0.01 0zM108.5 771.1a1.7 1.7 0 1 0 0.01 0zM110.6 771.7a1.7 1.7 0 1 0 0.01 0zM111.3 771.1a1.7 1.7 0 1 0 0.01 0zM110.5 770.4a1.7 1.7 0 1 0 0.01 0zM108.8 768.5a1.7 1.7 0 1 0 0.01 0zM108.9 768.1a1.7 1.7 0 1 0 0.01 0zM111.5 768.5a1.7 1.7 0 1 0 0.01 0zM111.3 767.8a1.7 1.7 0 1 0 0.01 0zM111.5 767.6a1.7 1.7 0 1 0 0.01 0zM110.3 765.9a1.7 1.7 0 1 0 0.01 0zM112.2 766.3a1.7 1.7 0 1 0 0.01 0zM113.5 766.6a1.7 1.7 0 1 0 0.01 0zM112.1 765.7a1.7 1.7 0 1 0 0.01 0zM111.2 764.6a1.7 1.7 0 1 0 0.01 0zM114.1 764.9a1.7 1.7 0 1 0 0.01 0zM112.2 763.8a1.7 1.7 0 1 0 0.01 0zM112.4 763.3a1.7 1.7 0 1 0 0.01 0zM113.1 763.0a1.7 1.7 0 1 0 0.01 0zM112.2 761.8a1.7 1.7 0 1 0 0.01 0zM113.7 762.0a1.7 1.7 0 1 0 0.01 0zM113.7 761.2a1.7 1.7 0 1 0 0.01 0zM112.8 760.5a1.7 1.7 0 1 0 0.01 0zM113.8 760.1a1.7 1.7 0 1 0 0.01 0zM114.7 760.2a1.7 1.7 0 1 0 0.01 0zM114.5 759.6a1.7 1.7 0 1 0 0.01 0zM114.7 758.6a1.7 1.7 0 1 0 0.01 0zM115.2 758.2a1.7 1.7 0 1 0 0.01 0zM115.0 757.6a1.7 1.7 0 1 0 0.01 0zM115.3 757.2a1.7 1.7 0 1 0 0.01 0zM115.4 756.4a1.7 1.7 0 1 0 0.01 0zM113.1 755.7a1.7 1.7 0 1 0 0.01 0zM114.1 755.1a1.7 1.7 0 1 0 0.01 0zM116.6 755.1a1.7 1.7 0 1 0 0.01 0zM113.3 753.7a1.7 1.7 0 1 0 0.01 0zM115.5 754.1a1.7 1.7 0 1 0 0.01 0zM117.9 754.2a1.7 1.7 0 1 0 0.01 0zM116.4 752.7a1.7 1.7 0 1 0 0.01 0zM116.1 752.0a1.7 1.7 0 1 0 0.01 0zM118.5 752.5a1.7 1.7 0 1 0 0.01 0zM116.6 751.2a1.7 1.7 0 1 0 0.01 0zM116.8 750.6a1.7 1.7 0 1 0 0.01 0zM118.1 750.9a1.7 1.7 0 1 0 0.01 0zM118.3 750.2a1.7 1.7 0 1 0 0.01 0zM117.8 749.0a1.7 1.7 0 1 0 0.01 0zM117.3 748.2a1.7 1.7 0 1 0 0.01 0zM117.2 748.1a1.7 1.7 0 1 0 0.01 0zM116.7 747.3a1.7 1.7 0 1 0 0.01 0zM118.8 747.8a1.7 1.7 0 1 0 0.01 0zM119.0 746.8a1.7 1.7 0 1 0 0.01 0zM118.5 746.3a1.7 1.7 0 1 0 0.01 0zM121.7 746.3a1.7 1.7 0 1 0 0.01 0zM118.3 744.7a1.7 1.7 0 1 0 0.01 0zM117.8 744.5a1.7 1.7 0 1 0 0.01 0zM119.5 743.9a1.7 1.7 0 1 0 0.01 0zM120.0 743.8a1.7 1.7 0 1 0 0.01 0zM117.1 742.0a1.7 1.7 0 1 0 0.01 0zM120.7 742.7a1.7 1.7 0 1 0 0.01 0zM121.1 742.1a1.7 1.7 0 1 0 0.01 0zM120.0 741.6a1.7 1.7 0 1 0 0.01 0zM122.0 741.4a1.7 1.7 0 1 0 0.01 0zM121.2 740.2a1.7 1.7 0 1 0 0.01 0zM119.7 739.2a1.7 1.7 0 1 0 0.01 0zM120.5 739.1a1.7 1.7 0 1 0 0.01 0zM120.7 738.8a1.7 1.7 0 1 0 0.01 0zM120.6 738.5a1.7 1.7 0 1 0 0.01 0zM119.9 737.7a1.7 1.7 0 1 0 0.01 0zM121.1 737.4a1.7 1.7 0 1 0 0.01 0zM123.3 737.4a1.7 1.7 0 1 0 0.01 0zM123.2 736.2a1.7 1.7 0 1 0 0.01 0zM123.2 736.2a1.7 1.7 0 1 0 0.01 0zM122.1 735.2a1.7 1.7 0 1 0 0.01 0zM122.1 734.7a1.7 1.7 0 1 0 0.01 0zM122.9 734.1a1.7 1.7 0 1 0 0.01 0zM122.0 733.3a1.7 1.7 0 1 0 0.01 0zM121.7 732.5a1.7 1.7 0 1 0 0.01 0zM121.2 731.9a1.7 1.7 0 1 0 0.01 0zM122.4 732.2a1.7 1.7 0 1 0 0.01 0zM122.6 731.6a1.7 1.7 0 1 0 0.01 0zM126.5 731.6a1.7 1.7 0 1 0 0.01 0zM123.5 730.9a1.7 1.7 0 1 0 0.01 0zM121.9 729.6a1.7 1.7 0 1 0 0.01 0zM123.2 728.8a1.7 1.7 0 1 0 0.01 0zM123.2 728.7a1.7 1.7 0 1 0 0.01 0zM124.3 728.0a1.7 1.7 0 1 0 0.01 0zM125.2 727.7a1.7 1.7 0 1 0 0.01 0zM122.5 726.3a1.7 1.7 0 1 0 0.01 0zM124.2 727.0a1.7 1.7 0 1 0 0.01 0zM123.3 725.9a1.7 1.7 0 1 0 0.01 0zM125.5 725.9a1.7 1.7 0 1 0 0.01 0zM123.5 724.4a1.7 1.7 0 1 0 0.01 0zM126.1 725.1a1.7 1.7 0 1 0 0.01 0zM125.6 724.4a1.7 1.7 0 1 0 0.01 0zM121.4 722.6a1.7 1.7 0 1 0 0.01 0zM125.0 723.1a1.7 1.7 0 1 0 0.01 0zM122.6 721.9a1.7 1.7 0 1 0 0.01 0zM124.5 721.8a1.7 1.7 0 1 0 0.01 0zM126.2 721.7a1.7 1.7 0 1 0 0.01 0zM125.3 720.8a1.7 1.7 0 1 0 0.01 0zM125.2 720.0a1.7 1.7 0 1 0 0.01 0zM126.9 719.7a1.7 1.7 0 1 0 0.01 0zM127.0 719.2a1.7 1.7 0 1 0 0.01 0zM126.9 718.8a1.7 1.7 0 1 0 0.01 0zM125.4 717.9a1.7 1.7 0 1 0 0.01 0zM126.9 717.5a1.7 1.7 0 1 0 0.01 0zM126.6 717.5a1.7 1.7 0 1 0 0.01 0zM126.8 716.3a1.7 1.7 0 1 0 0.01 0zM128.2 716.3a1.7 1.7 0 1 0 0.01 0zM126.2 715.7a1.7 1.7 0 1 0 0.01 0zM127.3 715.4a1.7 1.7 0 1 0 0.01 0zM128.3 714.2a1.7 1.7 0 1 0 0.01 0zM127.4 714.1a1.7 1.7 0 1 0 0.01 0zM127.5 713.0a1.7 1.7 0 1 0 0.01 0zM126.5 712.3a1.7 1.7 0 1 0 0.01 0zM127.6 712.2a1.7 1.7 0 1 0 0.01 0zM128.8 712.0a1.7 1.7 0 1 0 0.01 0zM126.4 710.8a1.7 1.7 0 1 0 0.01 0zM126.7 710.7a1.7 1.7 0 1 0 0.01 0zM128.0 710.2a1.7 1.7 0 1 0 0.01 0zM129.4 709.8a1.7 1.7 0 1 0 0.01 0zM127.5 708.7a1.7 1.7 0 1 0 0.01 0zM126.5 708.2a1.7 1.7 0 1 0 0.01 0zM128.8 708.2a1.7 1.7 0 1 0 0.01 0zM129.4 707.7a1.7 1.7 0 1 0 0.01 0zM129.4 707.0a1.7 1.7 0 1 0 0.01 0zM128.8 706.7a1.7 1.7 0 1 0 0.01 0zM131.0 706.3a1.7 1.7 0 1 0 0.01 0zM129.3 705.7a1.7 1.7 0 1 0 0.01 0zM129.9 704.5a1.7 1.7 0 1 0 0.01 0zM130.2 704.3a1.7 1.7 0 1 0 0.01 0zM131.4 704.2a1.7 1.7 0 1 0 0.01 0zM129.8 702.9a1.7 1.7 0 1 0 0.01 0zM129.6 702.7a1.7 1.7 0 1 0 0.01 0zM131.6 702.2a1.7 1.7 0 1 0 0.01 0zM127.1 700.8a1.7 1.7 0 1 0 0.01 0zM127.7 700.2a1.7 1.7 0 1 0 0.01 0zM132.1 700.9a1.7 1.7 0 1 0 0.01 0zM131.5 700.3a1.7 1.7 0 1 0 0.01 0zM129.1 699.1a1.7 1.7 0 1 0 0.01 0zM130.0 698.8a1.7 1.7 0 1 0 0.01 0zM132.3 698.6a1.7 1.7 0 1 0 0.01 0zM131.7 697.6a1.7 1.7 0 1 0 0.01 0zM131.1 696.9a1.7 1.7 0 1 0 0.01 0zM129.4 696.6a1.7 1.7 0 1 0 0.01 0zM133.1 696.9a1.7 1.7 0 1 0 0.01 0zM131.6 695.4a1.7 1.7 0 1 0 0.01 0zM134.0 695.3a1.7 1.7 0 1 0 0.01 0zM130.9 694.2a1.7 1.7 0 1 0 0.01 0zM131.5 693.8a1.7 1.7 0 1 0 0.01 0zM134.1 694.3a1.7 1.7 0 1 0 0.01 0zM129.9 692.8a1.7 1.7 0 1 0 0.01 0zM130.9 692.1a1.7 1.7 0 1 0 0.01 0zM131.1 691.5a1.7 1.7 0 1 0 0.01 0zM132.0 691.3a1.7 1.7 0 1 0 0.01 0zM131.4 690.0a1.7 1.7 0 1 0 0.01 0zM132.4 690.5a1.7 1.7 0 1 0 0.01 0zM134.6 690.4a1.7 1.7 0 1 0 0.01 0zM134.2 689.2a1.7 1.7 0 1 0 0.01 0zM132.9 688.5a1.7 1.7 0 1 0 0.01 0zM134.2 688.2a1.7 1.7 0 1 0 0.01 0zM131.5 687.2a1.7 1.7 0 1 0 0.01 0zM132.2 686.6a1.7 1.7 0 1 0 0.01 0zM133.5 686.0a1.7 1.7 0 1 0 0.01 0zM135.0 686.5a1.7 1.7 0 1 0 0.01 0zM134.4 685.6a1.7 1.7 0 1 0 0.01 0zM134.9 684.7a1.7 1.7 0 1 0 0.01 0zM135.4 685.0a1.7 1.7 0 1 0 0.01 0zM133.7 683.4a1.7 1.7 0 1 0 0.01 0zM135.4 683.7a1.7 1.7 0 1 0 0.01 0zM135.9 682.8a1.7 1.7 0 1 0 0.01 0zM135.7 682.8a1.7 1.7 0 1 0 0.01 0zM134.8 681.2a1.7 1.7 0 1 0 0.01 0zM137.7 681.7a1.7 1.7 0 1 0 0.01 0zM135.7 680.8a1.7 1.7 0 1 0 0.01 0zM138.2 681.1a1.7 1.7 0 1 0 0.01 0zM137.9 680.7a1.7 1.7 0 1 0 0.01 0zM136.1 678.8a1.7 1.7 0 1 0 0.01 0zM139.0 679.7a1.7 1.7 0 1 0 0.01 0zM137.9 678.4a1.7 1.7 0 1 0 0.01 0zM136.3 677.0a1.7 1.7 0 1 0 0.01 0zM138.9 678.0a1.7 1.7 0 1 0 0.01 0zM136.1 675.8a1.7 1.7 0 1 0 0.01 0zM138.2 676.1a1.7 1.7 0 1 0 0.01 0zM136.1 675.3a1.7 1.7 0 1 0 0.01 0zM136.1 674.2a1.7 1.7 0 1 0 0.01 0zM138.9 675.2a1.7 1.7 0 1 0 0.01 0zM139.2 674.0a1.7 1.7 0 1 0 0.01 0zM139.5 673.5a1.7 1.7 0 1 0 0.01 0zM139.5 673.1a1.7 1.7 0 1 0 0.01 0zM140.9 672.9a1.7 1.7 0 1 0 0.01 0zM139.3 672.1a1.7 1.7 0 1 0 0.01 0zM140.6 671.9a1.7 1.7 0 1 0 0.01 0zM139.6 670.9a1.7 1.7 0 1 0 0.01 0zM139.3 670.6a1.7 1.7 0 1 0 0.01 0zM140.3 670.4a1.7 1.7 0 1 0 0.01 0zM141.5 669.9a1.7 1.7 0 1 0 0.01 0zM139.1 668.3a1.7 1.7 0 1 0 0.01 0zM142.6 669.4a1.7 1.7 0 1 0 0.01 0zM140.6 668.0a1.7 1.7 0 1 0 0.01 0zM142.3 667.5a1.7 1.7 0 1 0 0.01 0zM138.2 665.7a1.7 1.7 0 1 0 0.01 0zM143.2 667.3a1.7 1.7 0 1 0 0.01 0zM141.4 666.0a1.7 1.7 0 1 0 0.01 0zM142.7 665.7a1.7 1.7 0 1 0 0.01 0zM141.5 664.7a1.7 1.7 0 1 0 0.01 0zM143.5 665.2a1.7 1.7 0 1 0 0.01 0zM144.6 665.0a1.7 1.7 0 1 0 0.01 0zM140.9 663.2a1.7 1.7 0 1 0 0.01 0zM141.3 662.7a1.7 1.7 0 1 0 0.01 0zM140.9 662.0a1.7 1.7 0 1 0 0.01 0zM143.9 661.7a1.7 1.7 0 1 0 0.01 0zM142.6 660.9a1.7 1.7 0 1 0 0.01 0zM143.2 660.7a1.7 1.7 0 1 0 0.01 0zM143.8 660.7a1.7 1.7 0 1 0 0.01 0zM144.1 659.8a1.7 1.7 0 1 0 0.01 0zM145.5 659.9a1.7 1.7 0 1 0 0.01 0zM143.2 658.1a1.7 1.7 0 1 0 0.01 0zM143.7 657.9a1.7 1.7 0 1 0 0.01 0zM141.5 656.5a1.7 1.7 0 1 0 0.01 0zM145.8 657.2a1.7 1.7 0 1 0 0.01 0zM146.4 657.0a1.7 1.7 0 1 0 0.01 0zM144.4 655.7a1.7 1.7 0 1 0 0.01 0zM144.5 655.2a1.7 1.7 0 1 0 0.01 0zM145.3 654.7a1.7 1.7 0 1 0 0.01 0zM146.5 655.0a1.7 1.7 0 1 0 0.01 0zM146.6 654.5a1.7 1.7 0 1 0 0.01 0zM144.8 652.6a1.7 1.7 0 1 0 0.01 0zM146.4 653.3a1.7 1.7 0 1 0 0.01 0zM146.4 652.5a1.7 1.7 0 1 0 0.01 0zM145.5 651.2a1.7 1.7 0 1 0 0.01 0zM145.1 650.4a1.7 1.7 0 1 0 0.01 0zM146.5 650.3a1.7 1.7 0 1 0 0.01 0zM146.9 650.3a1.7 1.7 0 1 0 0.01 0zM145.6 649.0a1.7 1.7 0 1 0 0.01 0zM148.4 649.8a1.7 1.7 0 1 0 0.01 0zM149.6 649.8a1.7 1.7 0 1 0 0.01 0zM146.6 647.8a1.7 1.7 0 1 0 0.01 0zM147.1 647.8a1.7 1.7 0 1 0 0.01 0zM147.9 646.7a1.7 1.7 0 1 0 0.01 0zM147.3 646.0a1.7 1.7 0 1 0 0.01 0zM148.9 646.6a1.7 1.7 0 1 0 0.01 0zM149.2 645.9a1.7 1.7 0 1 0 0.01 0zM149.2 645.0a1.7 1.7 0 1 0 0.01 0zM150.5 645.0a1.7 1.7 0 1 0 0.01 0zM150.1 644.7a1.7 1.7 0 1 0 0.01 0zM148.5 643.5a1.7 1.7 0 1 0 0.01 0zM152.1 644.3a1.7 1.7 0 1 0 0.01 0zM150.5 643.0a1.7 1.7 0 1 0 0.01 0zM150.7 642.1a1.7 1.7 0 1 0 0.01 0zM151.9 642.1a1.7 1.7 0 1 0 0.01 0zM152.8 642.1a1.7 1.7 0 1 0 0.01 0zM151.5 640.8a1.7 1.7 0 1 0 0.01 0zM150.9 639.7a1.7 1.7 0 1 0 0.01 0zM150.6 639.1a1.7 1.7 0 1 0 0.01 0zM152.7 639.6a1.7 1.7 0 1 0 0.01 0zM153.5 639.3a1.7 1.7 0 1 0 0.01 0zM152.4 638.3a1.7 1.7 0 1 0 0.01 0zM153.5 637.7a1.7 1.7 0 1 0 0.01 0zM153.4 637.0a1.7 1.7 0 1 0 0.01 0zM152.7 636.3a1.7 1.7 0 1 0 0.01 0zM153.3 636.2a1.7 1.7 0 1 0 0.01 0zM153.9 636.0a1.7 1.7 0 1 0 0.01 0zM153.8 635.5a1.7 1.7 0 1 0 0.01 0zM153.9 633.7a1.7 1.7 0 1 0 0.01 0zM154.4 634.1a1.7 1.7 0 1 0 0.01 0zM156.4 634.2a1.7 1.7 0 1 0 0.01 0zM155.7 634.2a1.7 1.7 0 1 0 0.01 0zM155.2 632.3a1.7 1.7 0 1 0 0.01 0zM156.8 633.0a1.7 1.7 0 1 0 0.01 0zM157.2 632.8a1.7 1.7 0 1 0 0.01 0zM156.5 631.4a1.7 1.7 0 1 0 0.01 0zM158.0 631.5a1.7 1.7 0 1 0 0.01 0zM159.3 632.3a1.7 1.7 0 1 0 0.01 0zM157.6 629.6a1.7 1.7 0 1 0 0.01 0zM159.3 631.6a1.7 1.7 0 1 0 0.01 0zM158.9 628.7a1.7 1.7 0 1 0 0.01 0zM159.6 629.6a1.7 1.7 0 1 0 0.01 0zM159.6 628.5a1.7 1.7 0 1 0 0.01 0zM160.6 628.5a1.7 1.7 0 1 0 0.01 0zM161.2 627.8a1.7 1.7 0 1 0 0.01 0zM161.4 628.0a1.7 1.7 0 1 0 0.01 0zM161.7 627.8a1.7 1.7 0 1 0 0.01 0zM162.8 628.8a1.7 1.7 0 1 0 0.01 0zM164.2 629.0a1.7 1.7 0 1 0 0.01 0zM163.8 628.1a1.7 1.7 0 1 0 0.01 0zM164.8 629.0a1.7 1.7 0 1 0 0.01 0zM165.5 628.3a1.7 1.7 0 1 0 0.01 0zM164.9 626.5a1.7 1.7 0 1 0 0.01 0zM166.3 627.4a1.7 1.7 0 1 0 0.01 0zM166.5 626.3a1.7 1.7 0 1 0 0.01 0zM167.2 628.9a1.7 1.7 0 1 0 0.01 0zM168.0 627.8a1.7 1.7 0 1 0 0.01 0zM168.1 625.2a1.7 1.7 0 1 0 0.01 0zM168.8 624.8a1.7 1.7 0 1 0 0.01 0zM169.4 626.2a1.7 1.7 0 1 0 0.01 0zM169.7 624.2a1.7 1.7 0 1 0 0.01 0zM170.6 625.5a1.7 1.7 0 1 0 0.01 0zM170.8 626.3a1.7 1.7 0 1 0 0.01 0zM171.0 628.8a1.7 1.7 0 1 0 0.01 0zM172.2 625.0a1.7 1.7 0 1 0 0.01 0zM172.3 628.7a1.7 1.7 0 1 0 0.01 0zM173.3 626.0a1.7 1.7 0 1 0 0.01 0zM173.2 628.3a1.7 1.7 0 1 0 0.01 0zM173.9 626.9a1.7 1.7 0 1 0 0.01 0zM174.5 626.4a1.7 1.7 0 1 0 0.01 0zM175.7 625.5a1.7 1.7 0 1 0 0.01 0zM176.1 626.8a1.7 1.7 0 1 0 0.01 0zM176.1 627.1a1.7 1.7 0 1 0 0.01 0zM177.2 627.5a1.7 1.7 0 1 0 0.01 0zM177.7 626.5a1.7 1.7 0 1 0 0.01 0zM178.2 626.3a1.7 1.7 0 1 0 0.01 0zM179.0 626.2a1.7 1.7 0 1 0 0.01 0zM178.5 628.8a1.7 1.7 0 1 0 0.01 0zM178.9 629.3a1.7 1.7 0 1 0 0.01 0zM180.6 626.8a1.7 1.7 0 1 0 0.01 0zM180.9 627.0a1.7 1.7 0 1 0 0.01 0zM181.0 627.8a1.7 1.7 0 1 0 0.01 0zM181.4 628.1a1.7 1.7 0 1 0 0.01 0zM181.7 631.0a1.7 1.7 0 1 0 0.01 0zM182.8 629.0a1.7 1.7 0 1 0 0.01 0zM183.5 628.2a1.7 1.7 0 1 0 0.01 0zM184.3 627.7a1.7 1.7 0 1 0 0.01 0zM184.3 629.2a1.7 1.7 0 1 0 0.01 0zM185.6 628.8a1.7 1.7 0 1 0 0.01 0zM184.9 630.1a1.7 1.7 0 1 0 0.01 0zM185.9 630.3a1.7 1.7 0 1 0 0.01 0zM186.4 630.5a1.7 1.7 0 1 0 0.01 0zM187.9 629.3a1.7 1.7 0 1 0 0.01 0zM188.3 629.7a1.7 1.7 0 1 0 0.01 0zM188.0 630.3a1.7 1.7 0 1 0 0.01 0zM189.0 630.3a1.7 1.7 0 1 0 0.01 0zM188.2 632.1a1.7 1.7 0 1 0 0.01 0zM190.2 629.9a1.7 1.7 0 1 0 0.01 0zM188.2 634.1a1.7 1.7 0 1 0 0.01 0zM190.9 631.4a1.7 1.7 0 1 0 0.01 0zM189.7 633.8a1.7 1.7 0 1 0 0.01 0zM190.2 634.0a1.7 1.7 0 1 0 0.01 0zM191.1 633.9a1.7 1.7 0 1 0 0.01 0zM191.1 634.7a1.7 1.7 0 1 0 0.01 0zM192.8 634.1a1.7 1.7 0 1 0 0.01 0zM193.2 635.0a1.7 1.7 0 1 0 0.01 0zM192.6 635.6a1.7 1.7 0 1 0 0.01 0zM195.6 634.2a1.7 1.7 0 1 0 0.01 0zM194.7 635.0a1.7 1.7 0 1 0 0.01 0zM194.0 637.0a1.7 1.7 0 1 0 0.01 0zM194.4 637.4a1.7 1.7 0 1 0 0.01 0zM192.8 638.7a1.7 1.7 0 1 0 0.01 0zM195.2 637.7a1.7 1.7 0 1 0 0.01 0zM193.2 639.5a1.7 1.7 0 1 0 0.01 0zM195.9 638.8a1.7 1.7 0 1 0 0.01 0zM196.3 639.1a1.7 1.7 0 1 0 0.01 0zM195.1 640.6a1.7 1.7 0 1 0 0.01 0zM193.7 642.2a1.7 1.7 0 1 0 0.01 0zM197.0 640.5a1.7 1.7 0 1 0 0.01 0zM197.6 640.5a1.7 1.7 0 1 0 0.01 0zM197.7 641.4a1.7 1.7 0 1 0 0.01 0zM197.0 643.1a1.7 1.7 0 1 0 0.01 0zM196.8 643.2a1.7 1.7 0 1 0 0.01 0zM198.8 642.7a1.7 1.7 0 1 0 0.01 0zM198.4 643.6a1.7 1.7 0 1 0 0.01 0zM197.7 644.4a1.7 1.7 0 1 0 0.01 0zM198.9 644.5a1.7 1.7 0 1 0 0.01 0zM200.3 644.4a1.7 1.7 0 1 0 0.01 0zM198.2 646.6a1.7 1.7 0 1 0 0.01 0zM199.1 646.6a1.7 1.7 0 1 0 0.01 0zM200.9 646.3a1.7 1.7 0 1 0 0.01 0zM200.4 646.6a1.7 1.7 0 1 0 0.01 0zM201.7 646.9a1.7 1.7 0 1 0 0.01 0zM201.2 647.6a1.7 1.7 0 1 0 0.01 0zM201.9 647.7a1.7 1.7 0 1 0 0.01 0zM201.5 648.8a1.7 1.7 0 1 0 0.01 0zM202.8 648.4a1.7 1.7 0 1 0 0.01 0zM202.3 649.9a1.7 1.7 0 1 0 0.01 0zM201.5 650.6a1.7 1.7 0 1 0 0.01 0zM202.7 650.9a1.7 1.7 0 1 0 0.01 0zM202.4 652.0a1.7 1.7 0 1 0 0.01 0zM201.8 652.1a1.7 1.7 0 1 0 0.01 0zM204.2 651.3a1.7 1.7 0 1 0 0.01 0zM205.7 651.3a1.7 1.7 0 1 0 0.01 0zM204.3 653.3a1.7 1.7 0 1 0 0.01 0zM204.1 653.9a1.7 1.7 0 1 0 0.01 0zM205.5 653.7a1.7 1.7 0 1 0 0.01 0zM203.9 655.5a1.7 1.7 0 1 0 0.01 0zM204.3 655.3a1.7 1.7 0 1 0 0.01 0zM205.5 655.9a1.7 1.7 0 1 0 0.01 0zM204.5 656.8a1.7 1.7 0 1 0 0.01 0zM206.8 655.8a1.7 1.7 0 1 0 0.01 0zM206.4 656.9a1.7 1.7 0 1 0 0.01 0zM206.9 657.2a1.7 1.7 0 1 0 0.01 0zM206.1 658.4a1.7 1.7 0 1 0 0.01 0zM208.0 657.8a1.7 1.7 0 1 0 0.01 0zM208.6 657.5a1.7 1.7 0 1 0 0.01 0zM208.2 659.0a1.7 1.7 0 1 0 0.01 0zM207.7 660.5a1.7 1.7 0 1 0 0.01 0zM209.5 659.2a1.7 1.7 0 1 0 0.01 0zM209.1 660.0a1.7 1.7 0 1 0 0.01 0zM210.6 659.4a1.7 1.7 0 1 0 0.01 0zM211.2 660.4a1.7 1.7 0 1 0 0.01 0zM209.4 662.3a1.7 1.7 0 1 0 0.01 0zM209.5 662.8a1.7 1.7 0 1 0 0.01 0zM210.9 662.1a1.7 1.7 0 1 0 0.01 0zM210.6 663.0a1.7 1.7 0 1 0 0.01 0zM212.7 662.5a1.7 1.7 0 1 0 0.01 0zM212.1 663.2a1.7 1.7 0 1 0 0.01 0zM211.1 665.6a1.7 1.7 0 1 0 0.01 0zM213.5 664.0a1.7 1.7 0 1 0 0.01 0zM213.3 664.2a1.7 1.7 0 1 0 0.01 0zM214.0 665.0a1.7 1.7 0 1 0 0.01 0zM214.4 665.0a1.7 1.7 0 1 0 0.01 0zM213.8 666.9a1.7 1.7 0 1 0 0.01 0zM213.7 667.2a1.7 1.7 0 1 0 0.01 0zM215.6 666.4a1.7 1.7 0 1 0 0.01 0zM215.8 667.1a1.7 1.7 0 1 0 0.01 0zM215.4 668.0a1.7 1.7 0 1 0 0.01 0zM216.6 668.1a1.7 1.7 0 1 0 0.01 0zM215.2 669.6a1.7 1.7 0 1 0 0.01 0zM218.4 667.8a1.7 1.7 0 1 0 0.01 0zM215.9 670.1a1.7 1.7 0 1 0 0.01 0zM216.0 670.6a1.7 1.7 0 1 0 0.01 0zM218.6 669.7a1.7 1.7 0 1 0 0.01 0zM216.5 672.1a1.7 1.7 0 1 0 0.01 0zM218.1 671.4a1.7 1.7 0 1 0 0.01 0zM219.5 670.9a1.7 1.7 0 1 0 0.01 0zM219.0 672.0a1.7 1.7 0 1 0 0.01 0zM220.7 671.8a1.7 1.7 0 1 0 0.01 0zM220.8 671.3a1.7 1.7 0 1 0 0.01 0zM219.8 673.4a1.7 1.7 0 1 0 0.01 0zM219.2 674.7a1.7 1.7 0 1 0 0.01 0zM223.1 672.3a1.7 1.7 0 1 0 0.01 0zM221.6 674.0a1.7 1.7 0 1 0 0.01 0zM220.3 676.1a1.7 1.7 0 1 0 0.01 0zM222.6 675.0a1.7 1.7 0 1 0 0.01 0zM222.4 676.1a1.7 1.7 0 1 0 0.01 0zM223.5 675.5a1.7 1.7 0 1 0 0.01 0zM223.1 676.5a1.7 1.7 0 1 0 0.01 0zM224.8 676.3a1.7 1.7 0 1 0 0.01 0zM225.3 675.8a1.7 1.7 0 1 0 0.01 0zM224.2 678.2a1.7 1.7 0 1 0 0.01 0zM226.7 676.2a1.7 1.7 0 1 0 0.01 0zM222.5 680.1a1.7 1.7 0 1 0 0.01 0zM225.8 678.4a1.7 1.7 0 1 0 0.01 0zM225.6 679.6a1.7 1.7 0 1 0 0.01 0zM225.3 680.3a1.7 1.7 0 1 0 0.01 0zM227.4 679.4a1.7 1.7 0 1 0 0.01 0zM224.6 683.0a1.7 1.7 0 1 0 0.01 0zM227.0 680.6a1.7 1.7 0 1 0 0.01 0zM227.6 681.7a1.7 1.7 0 1 0 0.01 0zM227.6 682.7a1.7 1.7 0 1 0 0.01 0zM227.6 682.3a1.7 1.7 0 1 0 0.01 0zM227.5 683.4a1.7 1.7 0 1 0 0.01 0zM229.3 683.0a1.7 1.7 0 1 0 0.01 0zM227.7 685.0a1.7 1.7 0 1 0 0.01 0zM230.0 683.6a1.7 1.7 0 1 0 0.01 0zM231.1 683.1a1.7 1.7 0 1 0 0.01 0zM231.2 684.3a1.7 1.7 0 1 0 0.01 0zM230.6 685.9a1.7 1.7 0 1 0 0.01 0zM230.2 686.0a1.7 1.7 0 1 0 0.01 0zM232.4 685.9a1.7 1.7 0 1 0 0.01 0zM231.4 686.7a1.7 1.7 0 1 0 0.01 0zM231.9 686.9a1.7 1.7 0 1 0 0.01 0zM232.1 687.9a1.7 1.7 0 1 0 0.01 0zM233.1 687.3a1.7 1.7 0 1 0 0.01 0zM231.8 689.1a1.7 1.7 0 1 0 0.01 0zM233.5 689.0a1.7 1.7 0 1 0 0.01 0zM230.8 690.9a1.7 1.7 0 1 0 0.01 0zM234.4 689.8a1.7 1.7 0 1 0 0.01 0zM233.0 691.2a1.7 1.7 0 1 0 0.01 0zM234.4 690.8a1.7 1.7 0 1 0 0.01 0zM235.9 691.1a1.7 1.7 0 1 0 0.01 0zM234.3 692.2a1.7 1.7 0 1 0 0.01 0zM235.1 692.7a1.7 1.7 0 1 0 0.01 0zM235.6 692.5a1.7 1.7 0 1 0 0.01 0zM236.7 692.9a1.7 1.7 0 1 0 0.01 0zM236.2 693.8a1.7 1.7 0 1 0 0.01 0zM234.9 694.7a1.7 1.7 0 1 0 0.01 0zM235.7 695.4a1.7 1.7 0 1 0 0.01 0zM236.9 695.7a1.7 1.7 0 1 0 0.01 0zM238.7 694.9a1.7 1.7 0 1 0 0.01 0zM238.2 696.1a1.7 1.7 0 1 0 0.01 0zM236.8 697.5a1.7 1.7 0 1 0 0.01 0zM239.5 696.1a1.7 1.7 0 1 0 0.01 0zM238.0 697.5a1.7 1.7 0 1 0 0.01 0zM239.7 697.5a1.7 1.7 0 1 0 0.01 0zM239.3 698.0a1.7 1.7 0 1 0 0.01 0zM240.4 697.8a1.7 1.7 0 1 0 0.01 0zM238.5 699.9a1.7 1.7 0 1 0 0.01 0zM239.5 700.4a1.7 1.7 0 1 0 0.01 0zM239.8 700.4a1.7 1.7 0 1 0 0.01 0zM238.7 701.7a1.7 1.7 0 1 0 0.01 0zM240.2 701.2a1.7 1.7 0 1 0 0.01 0zM241.2 701.6a1.7 1.7 0 1 0 0.01 0zM239.4 703.1a1.7 1.7 0 1 0 0.01 0zM240.8 703.4a1.7 1.7 0 1 0 0.01 0zM241.1 703.3a1.7 1.7 0 1 0 0.01 0zM242.5 703.5a1.7 1.7 0 1 0 0.01 0zM242.0 704.5a1.7 1.7 0 1 0 0.01 0zM242.4 704.7a1.7 1.7 0 1 0 0.01 0zM242.6 705.1a1.7 1.7 0 1 0 0.01 0zM242.9 705.3a1.7 1.7 0 1 0 0.01 0zM244.9 705.5a1.7 1.7 0 1 0 0.01 0zM244.8 706.1a1.7 1.7 0 1 0 0.01 0zM243.5 706.9a1.7 1.7 0 1 0 0.01 0zM245.6 707.3a1.7 1.7 0 1 0 0.01 0zM244.0 708.1a1.7 1.7 0 1 0 0.01 0zM244.5 708.5a1.7 1.7 0 1 0 0.01 0zM243.5 710.2a1.7 1.7 0 1 0 0.01 0zM246.9 708.6a1.7 1.7 0 1 0 0.01 0zM244.1 710.6a1.7 1.7 0 1 0 0.01 0zM246.9 709.4a1.7 1.7 0 1 0 0.01 0zM243.4 712.5a1.7 1.7 0 1 0 0.01 0zM247.9 710.1a1.7 1.7 0 1 0 0.01 0zM247.8 710.5a1.7 1.7 0 1 0 0.01 0zM246.9 712.3a1.7 1.7 0 1 0 0.01 0zM246.6 713.2a1.7 1.7 0 1 0 0.01 0zM249.3 712.0a1.7 1.7 0 1 0 0.01 0zM246.2 714.4a1.7 1.7 0 1 0 0.01 0zM247.6 714.1a1.7 1.7 0 1 0 0.01 0zM248.5 714.6a1.7 1.7 0 1 0 0.01 0zM247.7 715.9a1.7 1.7 0 1 0 0.01 0zM248.2 715.9a1.7 1.7 0 1 0 0.01 0zM249.9 715.4a1.7 1.7 0 1 0 0.01 0zM248.9 717.4a1.7 1.7 0 1 0 0.01 0zM248.4 717.6a1.7 1.7 0 1 0 0.01 0zM250.3 717.1a1.7 1.7 0 1 0 0.01 0zM250.7 717.2a1.7 1.7 0 1 0 0.01 0zM252.1 717.5a1.7 1.7 0 1 0 0.01 0zM249.9 719.0a1.7 1.7 0 1 0 0.01 0zM251.5 719.6a1.7 1.7 0 1 0 0.01 0zM251.4 719.4a1.7 1.7 0 1 0 0.01 0zM252.1 720.3a1.7 1.7 0 1 0 0.01 0zM251.4 720.4a1.7 1.7 0 1 0 0.01 0zM253.8 720.0a1.7 1.7 0 1 0 0.01 0zM252.0 722.1a1.7 1.7 0 1 0 0.01 0zM253.8 720.9a1.7 1.7 0 1 0 0.01 0zM250.7 724.6a1.7 1.7 0 1 0 0.01 0zM254.0 722.8a1.7 1.7 0 1 0 0.01 0zM252.9 724.8a1.7 1.7 0 1 0 0.01 0zM254.3 723.6a1.7 1.7 0 1 0 0.01 0zM254.6 724.5a1.7 1.7 0 1 0 0.01 0zM254.0 725.0a1.7 1.7 0 1 0 0.01 0zM253.4 726.8a1.7 1.7 0 1 0 0.01 0zM253.7 727.4a1.7 1.7 0 1 0 0.01 0zM256.9 725.3a1.7 1.7 0 1 0 0.01 0zM256.2 726.6a1.7 1.7 0 1 0 0.01 0zM256.2 727.1a1.7 1.7 0 1 0 0.01 0zM258.6 725.4a1.7 1.7 0 1 0 0.01 0zM256.8 727.4a1.7 1.7 0 1 0 0.01 0zM257.9 728.2a1.7 1.7 0 1 0 0.01 0zM259.1 727.8a1.7 1.7 0 1 0 0.01 0zM259.4 727.8a1.7 1.7 0 1 0 0.01 0zM259.9 727.7a1.7 1.7 0 1 0 0.01 0zM260.3 728.9a1.7 1.7 0 1 0 0.01 0zM259.4 730.0a1.7 1.7 0 1 0 0.01 0zM260.3 729.5a1.7 1.7 0 1 0 0.01 0zM262.1 729.3a1.7 1.7 0 1 0 0.01 0zM261.6 730.4a1.7 1.7 0 1 0 0.01 0zM261.1 731.5a1.7 1.7 0 1 0 0.01 0zM263.1 730.2a1.7 1.7 0 1 0 0.01 0zM262.2 731.9a1.7 1.7 0 1 0 0.01 0zM262.2 732.5a1.7 1.7 0 1 0 0.01 0zM262.7 732.9a1.7 1.7 0 1 0 0.01 0zM263.3 732.6a1.7 1.7 0 1 0 0.01 0zM264.1 733.0a1.7 1.7 0 1 0 0.01 0zM263.8 733.9a1.7 1.7 0 1 0 0.01 0zM264.4 734.2a1.7 1.7 0 1 0 0.01 0zM266.3 733.1a1.7 1.7 0 1 0 0.01 0zM266.6 734.1a1.7 1.7 0 1 0 0.01 0zM265.9 734.9a1.7 1.7 0 1 0 0.01 0zM266.9 734.7a1.7 1.7 0 1 0 0.01 0zM267.5 735.3a1.7 1.7 0 1 0 0.01 0zM267.8 734.6a1.7 1.7 0 1 0 0.01 0zM268.8 735.6a1.7 1.7 0 1 0 0.01 0zM268.6 736.4a1.7 1.7 0 1 0 0.01 0zM269.0 736.1a1.7 1.7 0 1 0 0.01 0zM269.1 738.0a1.7 1.7 0 1 0 0.01 0zM271.1 735.3a1.7 1.7 0 1 0 0.01 0zM270.9 735.7a1.7 1.7 0 1 0 0.01 0zM270.9 737.0a1.7 1.7 0 1 0 0.01 0zM271.1 738.1a1.7 1.7 0 1 0 0.01 0zM271.8 738.5a1.7 1.7 0 1 0 0.01 0zM271.8 739.3a1.7 1.7 0 1 0 0.01 0zM273.2 736.6a1.7 1.7 0 1 0 0.01 0zM273.2 739.0a1.7 1.7 0 1 0 0.01 0zM274.0 738.6a1.7 1.7 0 1 0 0.01 0zM274.4 738.6a1.7 1.7 0 1 0 0.01 0zM274.4 740.4a1.7 1.7 0 1 0 0.01 0zM275.8 738.3a1.7 1.7 0 1 0 0.01 0zM276.1 738.7a1.7 1.7 0 1 0 0.01 0zM276.6 737.4a1.7 1.7 0 1 0 0.01 0zM277.0 741.8a1.7 1.7 0 1 0 0.01 0zM277.6 741.3a1.7 1.7 0 1 0 0.01 0zM278.2 739.3a1.7 1.7 0 1 0 0.01 0zM278.6 741.1a1.7 1.7 0 1 0 0.01 0zM279.1 738.4a1.7 1.7 0 1 0 0.01 0zM279.9 739.1a1.7 1.7 0 1 0 0.01 0zM280.0 738.2a1.7 1.7 0 1 0 0.01 0zM281.0 738.5a1.7 1.7 0 1 0 0.01 0zM280.3 735.3a1.7 1.7 0 1 0 0.01 0zM281.0 735.7a1.7 1.7 0 1 0 0.01 0zM281.9 738.4a1.7 1.7 0 1 0 0.01 0zM282.1 737.3a1.7 1.7 0 1 0 0.01 0zM282.8 737.6a1.7 1.7 0 1 0 0.01 0zM283.3 736.9a1.7 1.7 0 1 0 0.01 0zM284.3 737.6a1.7 1.7 0 1 0 0.01 0zM285.8 738.5a1.7 1.7 0 1 0 0.01 0zM285.1 737.1a1.7 1.7 0 1 0 0.01 0zM285.8 736.3a1.7 1.7 0 1 0 0.01 0zM284.9 735.1a1.7 1.7 0 1 0 0.01 0zM285.8 735.9a1.7 1.7 0 1 0 0.01 0zM287.4 736.6a1.7 1.7 0 1 0 0.01 0zM288.4 737.0a1.7 1.7 0 1 0 0.01 0zM287.3 734.4a1.7 1.7 0 1 0 0.01 0zM289.1 735.4a1.7 1.7 0 1 0 0.01 0zM288.4 734.0a1.7 1.7 0 1 0 0.01 0zM288.8 733.5a1.7 1.7 0 1 0 0.01 0zM288.5 733.4a1.7 1.7 0 1 0 0.01 0zM289.7 733.7a1.7 1.7 0 1 0 0.01 0zM290.4 733.3a1.7 1.7 0 1 0 0.01 0zM290.4 732.8a1.7 1.7 0 1 0 0.01 0zM290.6 732.0a1.7 1.7 0 1 0 0.01 0zM292.4 733.2a1.7 1.7 0 1 0 0.01 0zM292.7 732.8a1.7 1.7 0 1 0 0.01 0zM291.0 730.2a1.7 1.7 0 1 0 0.01 0z" stroke="#111" stroke-width="0.85" fill="none"/><g fill="#fff" stroke="#111" stroke-width="0.85"><circle cx="187.5" cy="620.9" r="1.9"/><circle cx="233.3" cy="682.5" r="1.9"/><circle cx="245.6" cy="700.1" r="1.9"/><circle cx="245.6" cy="704.5" r="1.9"/><circle cx="274.0" cy="727.7" r="1.9"/><circle cx="274.0" cy="731.5" r="1.9"/><circle cx="294.6" cy="727.7" r="1.9"/><circle cx="180.0" cy="627.5" r="1.9"/></g><path d="M77.7 801.5L78.2 801.4L78.7 801.3L79.4 801.1L80.2 800.9L81.0 800.7L81.9 800.5L82.8 800.3L83.7 800.0L84.5 799.8L85.3 799.5L86.1 799.2L86.8 798.9L87.6 798.6L88.4 798.2L89.1 797.9L89.9 797.5L90.7 797.1L91.5 796.7L92.2 796.2L93.0 795.7L93.8 795.2L94.5 794.6L95.3 794.0L96.1 793.4L96.9 792.8L97.7 792.2L98.4 791.5L99.2 790.8L99.9 790.1L100.6 789.3L101.3 788.5L102.0 787.7L102.6 786.9L103.3 786.0L104.0 785.1L104.6 784.2L105.2 783.2L105.8 782.3L106.4 781.4L107.0 780.4L107.6 779.4L108.1 778.5L108.6 777.5L109.1 776.5L109.6 775.5L110.1 774.5L110.6 773.5L111.1 772.4L111.6 771.3L112.1 770.2L112.6 769.0L113.1 767.8L113.7 766.5L114.2 765.3L114.7 764.0L115.3 762.6L115.8 761.3L116.3 760.0L116.7 758.7L117.2 757.4L117.6 756.1L118.0 754.9L118.4 753.6L118.8 752.3L119.2 751.0L119.5 749.8L119.9 748.5L120.3 747.2L120.6 746.0L121.0 744.7L121.4 743.4L121.8 742.1L122.2 740.9L122.6 739.6L123.0 738.3L123.3 737.0L123.7 735.7L124.1 734.5L124.5 733.2L124.9 731.9L125.3 730.6L125.7 729.4L126.1 728.1L126.4 726.9L126.8 725.6L127.2 724.4L127.6 723.1L128.0 721.8L128.3 720.5L128.7 719.1L129.1 717.7L129.4 716.2L129.8 714.7L130.1 713.2L130.5 711.7L130.8 710.1L131.2 708.6L131.5 707.1L131.9 705.5L132.2 704.0L132.5 702.5L132.9 701.0L133.2 699.5L133.5 697.9L133.8 696.4L134.1 694.9L134.5 693.4L134.8 691.9L135.2 690.5L135.6 689.0L136.0 687.6L136.5 686.1L137.0 684.7L137.6 683.3L138.1 681.9L138.7 680.5L139.2 679.1L139.8 677.7L140.3 676.3L140.8 675.0L141.3 673.7L141.8 672.3L142.2 671.0L142.7 669.7L143.2 668.5L143.6 667.2L144.1 665.9L144.5 664.7L145.0 663.4L145.4 662.2L145.8 661.0L146.3 659.8L146.7 658.5L147.1 657.3L147.5 656.1L147.9 655.0L148.3 653.8L148.7 652.7L149.1 651.6L149.5 650.5L149.9 649.5L150.3 648.5L150.7 647.5L151.1 646.5L151.5 645.6L152.0 644.7L152.4 643.8L152.8 642.9L153.2 642.0L153.6 641.2L154.0 640.4L154.4 639.6L154.8 638.8L155.2 638.0L155.7 637.3L156.1 636.6L156.5 635.9L156.9 635.2L157.4 634.6L157.8 634.0L158.2 633.4L158.7 632.9L159.1 632.4L159.6 631.9L160.1 631.5L160.5 631.0L161.0 630.6L161.5 630.2L162.0 629.9L162.6 629.5L163.2 629.1L163.8 628.8L164.4 628.5L165.1 628.2L165.7 627.9L166.4 627.6L167.1 627.4L167.8 627.2L168.4 627.0L169.1 626.8L169.8 626.7L170.4 626.6L171.1 626.5L171.8 626.5L172.5 626.4L173.1 626.4L173.8 626.5L174.5 626.5L175.1 626.5L175.7 626.6L176.3 626.7L176.8 626.8L177.4 626.9L177.9 627.1L178.4 627.3L178.9 627.4L179.5 627.6L180.0 627.8L180.5 627.9L181.0 628.1L181.5 628.2L182.0 628.3L182.6 628.4L183.1 628.5L183.6 628.7L184.1 628.8L184.6 628.9L185.2 629.1L185.7 629.3L186.2 629.5L186.7 629.8L187.3 630.1L187.8 630.5L188.4 630.9L189.0 631.3L189.5 631.7L190.0 632.2L190.6 632.6L191.0 633.0L191.5 633.4L191.9 633.8L192.2 634.0L192.5 634.3L192.8 634.6L193.1 634.8L193.4 635.1L193.7 635.5L194.1 636.0L194.5 636.6L195.0 637.3L195.6 638.2L196.3 639.2L197.0 640.4L197.8 641.6L198.6 643.0L199.4 644.3L200.3 645.7L201.1 647.0L201.9 648.3L202.7 649.5L203.5 650.6L204.2 651.8L205.0 652.9L205.7 654.0L206.5 655.1L207.3 656.2L208.0 657.2L208.8 658.3L209.5 659.3L210.3 660.3L211.1 661.3L211.8 662.2L212.6 663.2L213.4 664.1L214.1 665.0L214.9 665.9L215.7 666.8L216.5 667.7L217.2 668.6L218.0 669.5L218.8 670.4L219.5 671.3L220.3 672.2L221.1 673.1L221.9 674.0L222.6 675.0L223.4 675.9L224.2 676.8L224.9 677.7L225.7 678.6L226.5 679.5L227.2 680.4L228.0 681.3L228.7 682.1L229.5 683.0L230.3 683.9L231.0 684.8L231.8 685.8L232.5 686.8L233.3 687.8L234.1 688.9L234.8 690.0L235.6 691.2L236.4 692.4L237.2 693.7L237.9 694.9L238.7 696.2L239.5 697.5L240.2 698.8L241.0 700.1L241.8 701.4L242.5 702.8L243.3 704.2L244.0 705.7L244.8 707.1L245.6 708.5L246.3 709.9L247.1 711.3L247.8 712.6L248.6 713.9L249.4 715.1L250.1 716.3L250.9 717.4L251.7 718.5L252.4 719.6L253.2 720.7L254.0 721.7L254.8 722.7L255.5 723.7L256.3 724.6L257.1 725.5L257.8 726.4L258.6 727.2L259.4 728.0L260.2 728.8L260.9 729.5L261.7 730.3L262.5 731.0L263.2 731.6L264.0 732.3L264.8 732.9L265.5 733.6L266.3 734.2L267.0 734.8L267.8 735.4L268.6 735.9L269.3 736.4L270.1 736.9L270.8 737.3L271.6 737.7L272.4 738.1L273.1 738.4L273.9 738.7L274.7 738.9L275.4 739.2L276.2 739.4L277.0 739.5L277.8 739.6L278.5 739.7L279.3 739.7L280.1 739.7L280.8 739.6L281.6 739.5L282.4 739.4L283.2 739.3L283.9 739.0L284.7 738.8L285.5 738.5L286.2 738.1L287.0 737.7L287.8 737.2L288.6 736.5L289.5 735.8L290.4 735.0L291.3 734.1L292.1 733.3L292.9 732.5L293.6 731.8L294.1 731.2L294.6 730.8" stroke="#d42a2a" stroke-width="0.80" fill="none" stroke-linejoin="round"/><path d="M79.0 799.8L79.5 799.8L80.0 799.7L80.5 799.6L81.0 799.5L81.5 799.4L82.0 799.3L82.5 799.2L83.0 799.1L83.5 799.0L84.0 798.9L84.5 798.8L85.0 798.7L85.5 798.5L86.0 798.4L86.5 798.2L87.0 798.1L87.5 797.9L88.0 797.7L88.5 797.5L89.0 797.3L89.5 797.1L90.0 796.9L90.5 796.7L91.0 796.4L91.5 796.2L92.0 795.9L92.5 795.6L93.0 795.4L93.5 795.0L94.0 794.7L94.5 794.4L95.0 794.0L95.5 793.7L96.0 793.3L96.5 792.9L97.0 792.5L97.5 792.1L98.0 791.6L98.5 791.1L99.0 790.7L99.5 790.1L100.0 789.6L100.5 789.1L101.0 788.5L101.5 787.9L102.0 787.3L102.5 786.7L103.0 786.0L103.5 785.3L104.0 784.6L104.5 783.9L105.0 783.2L105.5 782.4L106.0 781.6L106.5 780.8L107.0 779.9L107.5 779.0L108.0 778.1L108.5 777.2L109.0 776.3L109.5 775.3L110.0 774.3L110.5 773.3L111.0 772.2L111.5 771.1L112.0 770.0L112.5 768.9L113.0 767.7L113.5 766.5L114.0 765.3L114.5 764.1L115.0 762.8L115.5 761.5L116.0 760.2L116.5 758.9L117.0 757.5L117.5 756.1L118.0 754.7L118.5 753.3L119.0 751.9L119.5 750.4L120.0 748.9L120.5 747.4L121.0 745.9L121.5 744.4L122.0 742.8L122.5 741.2L123.0 739.7L123.5 738.1L124.0 736.5L124.5 734.9L125.0 733.3L125.5 731.6L126.0 730.0L126.5 728.4L127.0 726.8L127.5 725.1L128.0 723.5L128.5 721.9L129.0 720.3L129.5 718.6L130.0 717.0L130.5 715.4L131.0 713.8L131.5 712.3L132.0 710.7L132.5 709.2L133.0 707.6L133.5 706.1L134.0 704.7L134.5 703.2L135.0 701.8L135.5 700.4L136.0 699.0L136.5 697.6L137.0 696.3L137.5 695.1L138.0 693.8L138.5 692.6L139.0 691.4L139.5 690.3L140.0 689.2L140.5 688.2L141.0 687.2L141.5 686.2L142.0 685.3L142.5 684.5L143.0 683.7L143.5 682.9L144.0 682.2L144.5 681.6L145.0 681.0L145.5 680.5L146.0 680.0L146.5 679.6L147.0 679.2L147.5 678.9L148.0 678.6L148.5 678.4L149.0 678.3L149.5 678.2L150.0 678.2L150.5 678.2L151.0 678.3L151.5 678.5L152.0 678.7L152.5 679.0L153.0 679.3L153.5 679.7L154.0 680.2L154.5 680.7L155.0 681.2L155.5 681.8L156.0 682.5L156.5 683.2L157.0 684.0L157.5 684.8L158.0 685.7L158.5 686.6L159.0 687.6L159.5 688.6L160.0 689.7L160.5 690.8L161.0 691.9L161.5 693.1L162.0 694.3L162.5 695.6L163.0 696.9L163.5 698.2L164.0 699.5L164.5 700.9L165.0 702.3L165.5 703.8L166.0 705.3L166.5 706.7L167.0 708.3L167.5 709.8L168.0 711.3L168.5 712.9L169.0 714.5L169.5 716.1L170.0 717.7L170.5 719.3L171.0 720.9L171.5 722.5L172.0 724.2L172.5 725.8L173.0 727.4L173.5 729.0L174.0 730.7L174.5 732.3L175.0 733.9L175.5 735.5L176.0 737.1L176.5 738.7L177.0 740.3L177.5 741.9L178.0 743.4L178.5 745.0L179.0 746.5L179.5 748.0L180.0 749.5L180.5 751.0L181.0 752.4L181.5 753.9L182.0 755.3L182.5 756.7L183.0 758.1L183.5 759.4L184.0 760.7L184.5 762.0L185.0 763.3L185.5 764.6L186.0 765.8L186.5 767.0L187.0 768.2L187.5 769.3L188.0 770.5L188.5 771.6L189.0 772.6L189.5 773.7L190.0 774.7L190.5 775.7L191.0 776.7L191.5 777.6L192.0 778.5L192.5 779.4L193.0 780.3L193.5 781.1L194.0 781.9L194.5 782.7L195.0 783.5L195.5 784.2L196.0 784.9L196.5 785.6L197.0 786.3L197.5 786.9L198.0 787.6L198.5 788.2L199.0 788.7L199.5 789.3L200.0 789.8L200.5 790.4L201.0 790.9L201.5 791.3L202.0 791.8L202.5 792.2L203.0 792.7L203.5 793.1L204.0 793.5L204.5 793.8L205.0 794.2L205.5 794.5L206.0 794.9L206.5 795.2L207.0 795.5L207.5 795.8L208.0 796.0L208.5 796.3L209.0 796.5L209.5 796.8L210.0 797.0L210.5 797.2L211.0 797.4L211.5 797.6L212.0 797.8L212.5 798.0L213.0 798.1L213.5 798.3L214.0 798.4L214.5 798.6L215.0 798.7L215.5 798.8L216.0 799.0L216.5 799.1L217.0 799.2L217.5 799.3L218.0 799.4L218.5 799.5L219.0 799.6L219.5 799.6L220.0 799.7L220.5 799.8L221.0 799.9L221.5 799.9L222.0 800.0L222.5 800.0L223.0 800.1L223.5 800.1L224.0 800.2L224.5 800.2L225.0 800.3L225.5 800.3L226.0 800.3L226.5 800.4L227.0 800.4L227.5 800.4L228.0 800.5L228.5 800.5L229.0 800.5L229.5 800.5L230.0 800.5L230.5 800.6L231.0 800.6L231.5 800.6L232.0 800.6L232.5 800.6L233.0 800.6L233.5 800.7L234.0 800.7L234.5 800.7L235.0 800.7L235.5 800.7L236.0 800.7L236.5 800.7L237.0 800.7L237.5 800.7L238.0 800.7L238.5 800.7L239.0 800.7L239.5 800.7L240.0 800.8L240.5 800.8L241.0 800.8L241.5 800.8L242.0 800.8L242.5 800.8L243.0 800.8L243.5 800.8L244.0 800.8L244.5 800.8L245.0 800.8L245.5 800.8L246.0 800.8L246.5 800.8L247.0 800.8L247.5 800.8L248.0 800.8L248.5 800.8L249.0 800.8L249.5 800.8L250.0 800.8L250.5 800.8L251.0 800.8L251.5 800.8L252.0 800.8L252.5 800.8L253.0 800.8L253.5 800.8L254.0 800.8L254.5 800.8L255.0 800.8L255.5 800.8L256.0 800.8L256.5 800.8L257.0 800.8L257.5 800.8L258.0 800.8L258.5 800.8L259.0 800.8L259.5 800.8L260.0 800.8L260.5 800.8L261.0 800.8L261.5 800.8L262.0 800.8L262.5 800.8L263.0 800.8L263.5 800.8L264.0 800.8L264.5 800.8L265.0 800.8L265.5 800.8L266.0 800.8L266.5 800.8L267.0 800.8L267.5 800.8L268.0 800.8L268.5 800.8L269.0 800.8L269.5 800.8L270.0 800.8L270.5 800.8L271.0 800.8L271.5 800.8L272.0 800.8L272.5 800.8L273.0 800.8L273.5 800.8L274.0 800.8L274.5 800.8L275.0 800.8L275.5 800.8L276.0 800.8L276.5 800.8L277.0 800.8L277.5 800.8L278.0 800.8L278.5 800.8L279.0 800.8L279.5 800.8L280.0 800.8L280.5 800.8L281.0 800.8L281.5 800.8L282.0 800.8L282.5 800.8L283.0 800.8L283.5 800.8L284.0 800.8L284.5 800.8L285.0 800.8L285.5 800.8L286.0 800.8L286.5 800.8L287.0 800.8L287.5 800.8L288.0 800.8L288.5 800.8L289.0 800.8L289.5 800.8L290.0 800.8L290.5 800.8L291.0 800.8L291.5 800.8L292.0 800.8L292.5 800.8L293.0 800.8L293.5 800.8L294.0 800.8L294.5 800.8L295.0 800.8" stroke="#22dd22" stroke-width="1.90" fill="none" stroke-linejoin="round"/><path d="M79.0 800.8L79.5 800.8L80.0 800.8L80.5 800.8L81.0 800.8L81.5 800.8L82.0 800.8L82.5 800.8L83.0 800.8L83.5 800.8L84.0 800.8L84.5 800.8L85.0 800.8L85.5 800.8L86.0 800.8L86.5 800.8L87.0 800.8L87.5 800.8L88.0 800.8L88.5 800.8L89.0 800.8L89.5 800.8L90.0 800.8L90.5 800.8L91.0 800.8L91.5 800.8L92.0 800.8L92.5 800.8L93.0 800.8L93.5 800.8L94.0 800.8L94.5 800.8L95.0 800.8L95.5 800.8L96.0 800.8L96.5 800.8L97.0 800.8L97.5 800.8L98.0 800.8L98.5 800.8L99.0 800.8L99.5 800.8L100.0 800.8L100.5 800.8L101.0 800.8L101.5 800.8L102.0 800.7L102.5 800.7L103.0 800.7L103.5 800.7L104.0 800.7L104.5 800.7L105.0 800.7L105.5 800.7L106.0 800.7L106.5 800.7L107.0 800.7L107.5 800.7L108.0 800.7L108.5 800.6L109.0 800.6L109.5 800.6L110.0 800.6L110.5 800.6L111.0 800.6L111.5 800.5L112.0 800.5L112.5 800.5L113.0 800.5L113.5 800.4L114.0 800.4L114.5 800.4L115.0 800.3L115.5 800.3L116.0 800.3L116.5 800.2L117.0 800.2L117.5 800.1L118.0 800.1L118.5 800.0L119.0 799.9L119.5 799.9L120.0 799.8L120.5 799.7L121.0 799.7L121.5 799.6L122.0 799.5L122.5 799.4L123.0 799.3L123.5 799.2L124.0 799.1L124.5 798.9L125.0 798.8L125.5 798.7L126.0 798.5L126.5 798.4L127.0 798.2L127.5 798.0L128.0 797.9L128.5 797.7L129.0 797.5L129.5 797.2L130.0 797.0L130.5 796.8L131.0 796.5L131.5 796.3L132.0 796.0L132.5 795.7L133.0 795.4L133.5 795.1L134.0 794.7L134.5 794.4L135.0 794.0L135.5 793.6L136.0 793.2L136.5 792.8L137.0 792.4L137.5 791.9L138.0 791.4L138.5 790.9L139.0 790.4L139.5 789.9L140.0 789.3L140.5 788.7L141.0 788.1L141.5 787.5L142.0 786.8L142.5 786.1L143.0 785.4L143.5 784.7L144.0 783.9L144.5 783.1L145.0 782.3L145.5 781.5L146.0 780.6L146.5 779.7L147.0 778.8L147.5 777.9L148.0 776.9L148.5 775.9L149.0 774.9L149.5 773.9L150.0 772.8L150.5 771.7L151.0 770.5L151.5 769.4L152.0 768.2L152.5 767.0L153.0 765.8L153.5 764.5L154.0 763.2L154.5 761.9L155.0 760.6L155.5 759.2L156.0 757.8L156.5 756.4L157.0 755.0L157.5 753.6L158.0 752.1L158.5 750.7L159.0 749.2L159.5 747.7L160.0 746.2L160.5 744.6L161.0 743.1L161.5 741.6L162.0 740.0L162.5 738.5L163.0 736.9L163.5 735.3L164.0 733.8L164.5 732.2L165.0 730.6L165.5 729.1L166.0 727.5L166.5 726.0L167.0 724.4L167.5 722.9L168.0 721.4L168.5 719.9L169.0 718.4L169.5 717.0L170.0 715.5L170.5 714.1L171.0 712.8L171.5 711.4L172.0 710.1L172.5 708.8L173.0 707.5L173.5 706.3L174.0 705.1L174.5 703.9L175.0 702.8L175.5 701.8L176.0 700.7L176.5 699.8L177.0 698.8L177.5 697.9L178.0 697.1L178.5 696.3L179.0 695.6L179.5 694.9L180.0 694.3L180.5 693.7L181.0 693.2L181.5 692.8L182.0 692.4L182.5 692.1L183.0 691.8L183.5 691.6L184.0 691.4L184.5 691.3L185.0 691.3L185.5 691.3L186.0 691.4L186.5 691.6L187.0 691.8L187.5 692.1L188.0 692.4L188.5 692.8L189.0 693.2L189.5 693.7L190.0 694.3L190.5 694.9L191.0 695.6L191.5 696.3L192.0 697.1L192.5 697.9L193.0 698.8L193.5 699.8L194.0 700.7L194.5 701.8L195.0 702.8L195.5 703.9L196.0 705.1L196.5 706.3L197.0 707.5L197.5 708.8L198.0 710.1L198.5 711.4L199.0 712.8L199.5 714.1L200.0 715.5L200.5 717.0L201.0 718.4L201.5 719.9L202.0 721.4L202.5 722.9L203.0 724.4L203.5 726.0L204.0 727.5L204.5 729.1L205.0 730.6L205.5 732.2L206.0 733.8L206.5 735.3L207.0 736.9L207.5 738.5L208.0 740.0L208.5 741.6L209.0 743.1L209.5 744.6L210.0 746.2L210.5 747.7L211.0 749.2L211.5 750.7L212.0 752.1L212.5 753.6L213.0 755.0L213.5 756.4L214.0 757.8L214.5 759.2L215.0 760.6L215.5 761.9L216.0 763.2L216.5 764.5L217.0 765.8L217.5 767.0L218.0 768.2L218.5 769.4L219.0 770.5L219.5 771.7L220.0 772.8L220.5 773.9L221.0 774.9L221.5 775.9L222.0 776.9L222.5 777.9L223.0 778.8L223.5 779.7L224.0 780.6L224.5 781.5L225.0 782.3L225.5 783.1L226.0 783.9L226.5 784.7L227.0 785.4L227.5 786.1L228.0 786.8L228.5 787.5L229.0 788.1L229.5 788.7L230.0 789.3L230.5 789.9L231.0 790.4L231.5 790.9L232.0 791.4L232.5 791.9L233.0 792.4L233.5 792.8L234.0 793.2L234.5 793.6L235.0 794.0L235.5 794.4L236.0 794.7L236.5 795.1L237.0 795.4L237.5 795.7L238.0 796.0L238.5 796.3L239.0 796.5L239.5 796.8L240.0 797.0L240.5 797.2L241.0 797.5L241.5 797.7L242.0 797.9L242.5 798.0L243.0 798.2L243.5 798.4L244.0 798.5L244.5 798.7L245.0 798.8L245.5 798.9L246.0 799.1L246.5 799.2L247.0 799.3L247.5 799.4L248.0 799.5L248.5 799.6L249.0 799.7L249.5 799.7L250.0 799.8L250.5 799.9L251.0 799.9L251.5 800.0L252.0 800.1L252.5 800.1L253.0 800.2L253.5 800.2L254.0 800.3L254.5 800.3L255.0 800.3L255.5 800.4L256.0 800.4L256.5 800.4L257.0 800.5L257.5 800.5L258.0 800.5L258.5 800.5L259.0 800.6L259.5 800.6L260.0 800.6L260.5 800.6L261.0 800.6L261.5 800.6L262.0 800.7L262.5 800.7L263.0 800.7L263.5 800.7L264.0 800.7L264.5 800.7L265.0 800.7L265.5 800.7L266.0 800.7L266.5 800.7L267.0 800.7L267.5 800.7L268.0 800.7L268.5 800.8L269.0 800.8L269.5 800.8L270.0 800.8L270.5 800.8L271.0 800.8L271.5 800.8L272.0 800.8L272.5 800.8L273.0 800.8L273.5 800.8L274.0 800.8L274.5 800.8L275.0 800.8L275.5 800.8L276.0 800.8L276.5 800.8L277.0 800.8L277.5 800.8L278.0 800.8L278.5 800.8L279.0 800.8L279.5 800.8L280.0 800.8L280.5 800.8L281.0 800.8L281.5 800.8L282.0 800.8L282.5 800.8L283.0 800.8L283.5 800.8L284.0 800.8L284.5 800.8L285.0 800.8L285.5 800.8L286.0 800.8L286.5 800.8L287.0 800.8L287.5 800.8L288.0 800.8L288.5 800.8L289.0 800.8L289.5 800.8L290.0 800.8L290.5 800.8L291.0 800.8L291.5 800.8L292.0 800.8L292.5 800.8L293.0 800.8L293.5 800.8L294.0 800.8L294.5 800.8L295.0 800.8" stroke="#2020dd" stroke-width="1.90" fill="none" stroke-linejoin="round"/><path d="M79.0 800.8L79.5 800.8L80.0 800.8L80.5 800.8L81.0 800.8L81.5 800.8L82.0 800.8L82.5 800.8L83.0 800.8L83.5 800.8L84.0 800.8L84.5 800.8L85.0 800.8L85.5 800.8L86.0 800.8L86.5 800.8L87.0 800.8L87.5 800.8L88.0 800.8L88.5 800.8L89.0 800.8L89.5 800.8L90.0 800.8L90.5 800.8L91.0 800.8L91.5 800.8L92.0 800.8L92.5 800.8L93.0 800.8L93.5 800.8L94.0 800.8L94.5 800.8L95.0 800.8L95.5 800.8L96.0 800.8L96.5 800.8L97.0 800.8L97.5 800.8L98.0 800.8L98.5 800.8L99.0 800.8L99.5 800.8L100.0 800.8L100.5 800.8L101.0 800.8L101.5 800.8L102.0 800.8L102.5 800.8L103.0 800.8L103.5 800.8L104.0 800.8L104.5 800.8L105.0 800.8L105.5 800.8L106.0 800.8L106.5 800.8L107.0 800.8L107.5 800.8L108.0 800.8L108.5 800.8L109.0 800.8L109.5 800.8L110.0 800.8L110.5 800.8L111.0 800.8L111.5 800.8L112.0 800.8L112.5 800.8L113.0 800.8L113.5 800.8L114.0 800.8L114.5 800.8L115.0 800.8L115.5 800.8L116.0 800.8L116.5 800.8L117.0 800.8L117.5 800.8L118.0 800.8L118.5 800.8L119.0 800.8L119.5 800.8L120.0 800.8L120.5 800.8L121.0 800.8L121.5 800.8L122.0 800.8L122.5 800.8L123.0 800.8L123.5 800.8L124.0 800.8L124.5 800.8L125.0 800.8L125.5 800.8L126.0 800.8L126.5 800.8L127.0 800.8L127.5 800.8L128.0 800.8L128.5 800.8L129.0 800.8L129.5 800.8L130.0 800.8L130.5 800.8L131.0 800.8L131.5 800.8L132.0 800.8L132.5 800.8L133.0 800.8L133.5 800.8L134.0 800.8L134.5 800.8L135.0 800.8L135.5 800.8L136.0 800.8L136.5 800.8L137.0 800.8L137.5 800.8L138.0 800.8L138.5 800.7L139.0 800.7L139.5 800.7L140.0 800.7L140.5 800.7L141.0 800.7L141.5 800.7L142.0 800.7L142.5 800.7L143.0 800.7L143.5 800.7L144.0 800.7L144.5 800.7L145.0 800.6L145.5 800.6L146.0 800.6L146.5 800.6L147.0 800.6L147.5 800.6L148.0 800.6L148.5 800.5L149.0 800.5L149.5 800.5L150.0 800.5L150.5 800.5L151.0 800.4L151.5 800.4L152.0 800.4L152.5 800.3L153.0 800.3L153.5 800.3L154.0 800.2L154.5 800.2L155.0 800.1L155.5 800.1L156.0 800.0L156.5 800.0L157.0 799.9L157.5 799.9L158.0 799.8L158.5 799.8L159.0 799.7L159.5 799.6L160.0 799.5L160.5 799.4L161.0 799.4L161.5 799.3L162.0 799.2L162.5 799.1L163.0 799.0L163.5 798.8L164.0 798.7L164.5 798.6L165.0 798.5L165.5 798.3L166.0 798.2L166.5 798.0L167.0 797.8L167.5 797.7L168.0 797.5L168.5 797.3L169.0 797.1L169.5 796.9L170.0 796.7L170.5 796.5L171.0 796.2L171.5 796.0L172.0 795.7L172.5 795.4L173.0 795.2L173.5 794.9L174.0 794.6L174.5 794.2L175.0 793.9L175.5 793.6L176.0 793.2L176.5 792.8L177.0 792.5L177.5 792.1L178.0 791.6L178.5 791.2L179.0 790.8L179.5 790.3L180.0 789.8L180.5 789.3L181.0 788.8L181.5 788.3L182.0 787.7L182.5 787.2L183.0 786.6L183.5 786.0L184.0 785.4L184.5 784.8L185.0 784.1L185.5 783.4L186.0 782.8L186.5 782.1L187.0 781.3L187.5 780.6L188.0 779.8L188.5 779.1L189.0 778.3L189.5 777.5L190.0 776.7L190.5 775.8L191.0 774.9L191.5 774.1L192.0 773.2L192.5 772.3L193.0 771.3L193.5 770.4L194.0 769.5L194.5 768.5L195.0 767.5L195.5 766.5L196.0 765.5L196.5 764.5L197.0 763.5L197.5 762.4L198.0 761.4L198.5 760.3L199.0 759.2L199.5 758.2L200.0 757.1L200.5 756.0L201.0 754.9L201.5 753.8L202.0 752.7L202.5 751.6L203.0 750.5L203.5 749.4L204.0 748.3L204.5 747.2L205.0 746.1L205.5 745.0L206.0 743.9L206.5 742.8L207.0 741.8L207.5 740.7L208.0 739.6L208.5 738.6L209.0 737.6L209.5 736.6L210.0 735.6L210.5 734.6L211.0 733.6L211.5 732.7L212.0 731.8L212.5 730.9L213.0 730.0L213.5 729.1L214.0 728.3L214.5 727.5L215.0 726.7L215.5 726.0L216.0 725.3L216.5 724.6L217.0 723.9L217.5 723.3L218.0 722.7L218.5 722.1L219.0 721.6L219.5 721.1L220.0 720.7L220.5 720.3L221.0 719.9L221.5 719.5L222.0 719.2L222.5 719.0L223.0 718.7L223.5 718.6L224.0 718.4L224.5 718.3L225.0 718.2L225.5 718.2L226.0 718.2L226.5 718.3L227.0 718.4L227.5 718.5L228.0 718.7L228.5 718.9L229.0 719.1L229.5 719.4L230.0 719.7L230.5 720.1L231.0 720.5L231.5 720.9L232.0 721.4L232.5 721.9L233.0 722.5L233.5 723.1L234.0 723.7L234.5 724.3L235.0 725.0L235.5 725.7L236.0 726.4L236.5 727.2L237.0 728.0L237.5 728.8L238.0 729.6L238.5 730.5L239.0 731.4L239.5 732.3L240.0 733.3L240.5 734.2L241.0 735.2L241.5 736.2L242.0 737.2L242.5 738.2L243.0 739.2L243.5 740.3L244.0 741.3L244.5 742.4L245.0 743.5L245.5 744.6L246.0 745.6L246.5 746.7L247.0 747.8L247.5 748.9L248.0 750.0L248.5 751.1L249.0 752.2L249.5 753.3L250.0 754.4L250.5 755.5L251.0 756.6L251.5 757.7L252.0 758.8L252.5 759.9L253.0 760.9L253.5 762.0L254.0 763.0L254.5 764.1L255.0 765.1L255.5 766.1L256.0 767.1L256.5 768.1L257.0 769.1L257.5 770.0L258.0 771.0L258.5 771.9L259.0 772.8L259.5 773.7L260.0 774.6L260.5 775.5L261.0 776.3L261.5 777.1L262.0 778.0L262.5 778.8L263.0 779.5L263.5 780.3L264.0 781.0L264.5 781.8L265.0 782.5L265.5 783.2L266.0 783.8L266.5 784.5L267.0 785.1L267.5 785.8L268.0 786.4L268.5 787.0L269.0 787.5L269.5 788.1L270.0 788.6L270.5 789.1L271.0 789.6L271.5 790.1L272.0 790.6L272.5 791.0L273.0 791.5L273.5 791.9L274.0 792.3L274.5 792.7L275.0 793.1L275.5 793.4L276.0 793.8L276.5 794.1L277.0 794.4L277.5 794.7L278.0 795.0L278.5 795.3L279.0 795.6L279.5 795.9L280.0 796.1L280.5 796.4L281.0 796.6L281.5 796.8L282.0 797.0L282.5 797.2L283.0 797.4L283.5 797.6L284.0 797.8L284.5 797.9L285.0 798.1L285.5 798.3L286.0 798.4L286.5 798.5L287.0 798.7L287.5 798.8L288.0 798.9L288.5 799.0L289.0 799.1L289.5 799.2L290.0 799.3L290.5 799.4L291.0 799.5L291.5 799.6L292.0 799.7L292.5 799.7L293.0 799.8L293.5 799.9L294.0 799.9L294.5 800.0L295.0 800.0" stroke="#dd1a7f" stroke-width="1.90" fill="none" stroke-linejoin="round"/><path d="M79.0 800.8L79.5 800.8L80.0 800.8L80.5 800.8L81.0 800.8L81.5 800.8L82.0 800.8L82.5 800.8L83.0 800.8L83.5 800.8L84.0 800.8L84.5 800.8L85.0 800.8L85.5 800.8L86.0 800.8L86.5 800.8L87.0 800.8L87.5 800.8L88.0 800.8L88.5 800.8L89.0 800.8L89.5 800.8L90.0 800.8L90.5 800.8L91.0 800.8L91.5 800.8L92.0 800.8L92.5 800.8L93.0 800.8L93.5 800.8L94.0 800.8L94.5 800.8L95.0 800.8L95.5 800.8L96.0 800.8L96.5 800.8L97.0 800.8L97.5 800.8L98.0 800.8L98.5 800.8L99.0 800.8L99.5 800.8L100.0 800.8L100.5 800.8L101.0 800.8L101.5 800.8L102.0 800.8L102.5 800.8L103.0 800.8L103.5 800.8L104.0 800.8L104.5 800.8L105.0 800.8L105.5 800.8L106.0 800.8L106.5 800.8L107.0 800.8L107.5 800.8L108.0 800.8L108.5 800.8L109.0 800.8L109.5 800.8L110.0 800.8L110.5 800.8L111.0 800.8L111.5 800.8L112.0 800.7L112.5 800.7L113.0 800.7L113.5 800.7L114.0 800.7L114.5 800.7L115.0 800.7L115.5 800.7L116.0 800.7L116.5 800.7L117.0 800.7L117.5 800.7L118.0 800.7L118.5 800.7L119.0 800.7L119.5 800.7L120.0 800.7L120.5 800.7L121.0 800.7L121.5 800.7L122.0 800.7L122.5 800.7L123.0 800.7L123.5 800.7L124.0 800.7L124.5 800.7L125.0 800.7L125.5 800.7L126.0 800.7L126.5 800.7L127.0 800.7L127.5 800.7L128.0 800.6L128.5 800.6L129.0 800.6L129.5 800.6L130.0 800.6L130.5 800.6L131.0 800.6L131.5 800.6L132.0 800.6L132.5 800.6L133.0 800.6L133.5 800.6L134.0 800.6L134.5 800.6L135.0 800.6L135.5 800.5L136.0 800.5L136.5 800.5L137.0 800.5L137.5 800.5L138.0 800.5L138.5 800.5L139.0 800.5L139.5 800.5L140.0 800.5L140.5 800.5L141.0 800.4L141.5 800.4L142.0 800.4L142.5 800.4L143.0 800.4L143.5 800.4L144.0 800.4L144.5 800.4L145.0 800.3L145.5 800.3L146.0 800.3L146.5 800.3L147.0 800.3L147.5 800.3L148.0 800.2L148.5 800.2L149.0 800.2L149.5 800.2L150.0 800.2L150.5 800.2L151.0 800.1L151.5 800.1L152.0 800.1L152.5 800.1L153.0 800.1L153.5 800.0L154.0 800.0L154.5 800.0L155.0 800.0L155.5 799.9L156.0 799.9L156.5 799.9L157.0 799.9L157.5 799.8L158.0 799.8L158.5 799.8L159.0 799.8L159.5 799.7L160.0 799.7L160.5 799.7L161.0 799.6L161.5 799.6L162.0 799.6L162.5 799.5L163.0 799.5L163.5 799.5L164.0 799.4L164.5 799.4L165.0 799.4L165.5 799.3L166.0 799.3L166.5 799.2L167.0 799.2L167.5 799.1L168.0 799.1L168.5 799.1L169.0 799.0L169.5 799.0L170.0 798.9L170.5 798.9L171.0 798.8L171.5 798.8L172.0 798.7L172.5 798.7L173.0 798.6L173.5 798.6L174.0 798.5L174.5 798.4L175.0 798.4L175.5 798.3L176.0 798.3L176.5 798.2L177.0 798.1L177.5 798.1L178.0 798.0L178.5 797.9L179.0 797.9L179.5 797.8L180.0 797.7L180.5 797.6L181.0 797.6L181.5 797.5L182.0 797.4L182.5 797.3L183.0 797.2L183.5 797.2L184.0 797.1L184.5 797.0L185.0 796.9L185.5 796.8L186.0 796.7L186.5 796.6L187.0 796.5L187.5 796.4L188.0 796.3L188.5 796.2L189.0 796.1L189.5 796.0L190.0 795.9L190.5 795.8L191.0 795.7L191.5 795.6L192.0 795.5L192.5 795.3L193.0 795.2L193.5 795.1L194.0 795.0L194.5 794.8L195.0 794.7L195.5 794.6L196.0 794.5L196.5 794.3L197.0 794.2L197.5 794.0L198.0 793.9L198.5 793.8L199.0 793.6L199.5 793.5L200.0 793.3L200.5 793.2L201.0 793.0L201.5 792.9L202.0 792.7L202.5 792.5L203.0 792.4L203.5 792.2L204.0 792.0L204.5 791.9L205.0 791.7L205.5 791.5L206.0 791.3L206.5 791.1L207.0 791.0L207.5 790.8L208.0 790.6L208.5 790.4L209.0 790.2L209.5 790.0L210.0 789.8L210.5 789.6L211.0 789.4L211.5 789.2L212.0 789.0L212.5 788.8L213.0 788.5L213.5 788.3L214.0 788.1L214.5 787.9L215.0 787.7L215.5 787.4L216.0 787.2L216.5 787.0L217.0 786.7L217.5 786.5L218.0 786.2L218.5 786.0L219.0 785.7L219.5 785.5L220.0 785.2L220.5 785.0L221.0 784.7L221.5 784.4L222.0 784.2L222.5 783.9L223.0 783.6L223.5 783.4L224.0 783.1L224.5 782.8L225.0 782.5L225.5 782.2L226.0 782.0L226.5 781.7L227.0 781.4L227.5 781.1L228.0 780.8L228.5 780.5L229.0 780.2L229.5 779.9L230.0 779.6L230.5 779.2L231.0 778.9L231.5 778.6L232.0 778.3L232.5 778.0L233.0 777.7L233.5 777.3L234.0 777.0L234.5 776.7L235.0 776.3L235.5 776.0L236.0 775.7L236.5 775.3L237.0 775.0L237.5 774.6L238.0 774.3L238.5 773.9L239.0 773.6L239.5 773.2L240.0 772.9L240.5 772.5L241.0 772.2L241.5 771.8L242.0 771.4L242.5 771.1L243.0 770.7L243.5 770.4L244.0 770.0L244.5 769.6L245.0 769.2L245.5 768.9L246.0 768.5L246.5 768.1L247.0 767.7L247.5 767.4L248.0 767.0L248.5 766.6L249.0 766.2L249.5 765.8L250.0 765.5L250.5 765.1L251.0 764.7L251.5 764.3L252.0 763.9L252.5 763.5L253.0 763.2L253.5 762.8L254.0 762.4L254.5 762.0L255.0 761.6L255.5 761.2L256.0 760.8L256.5 760.4L257.0 760.0L257.5 759.7L258.0 759.3L258.5 758.9L259.0 758.5L259.5 758.1L260.0 757.7L260.5 757.3L261.0 756.9L261.5 756.6L262.0 756.2L262.5 755.8L263.0 755.4L263.5 755.0L264.0 754.6L264.5 754.3L265.0 753.9L265.5 753.5L266.0 753.1L266.5 752.8L267.0 752.4L267.5 752.0L268.0 751.6L268.5 751.3L269.0 750.9L269.5 750.6L270.0 750.2L270.5 749.8L271.0 749.5L271.5 749.1L272.0 748.8L272.5 748.4L273.0 748.1L273.5 747.7L274.0 747.4L274.5 747.1L275.0 746.7L275.5 746.4L276.0 746.1L276.5 745.7L277.0 745.4L277.5 745.1L278.0 744.8L278.5 744.5L279.0 744.2L279.5 743.8L280.0 743.5L280.5 743.2L281.0 743.0L281.5 742.7L282.0 742.4L282.5 742.1L283.0 741.8L283.5 741.5L284.0 741.3L284.5 741.0L285.0 740.7L285.5 740.5L286.0 740.2L286.5 740.0L287.0 739.7L287.5 739.5L288.0 739.3L288.5 739.1L289.0 738.8L289.5 738.6L290.0 738.4L290.5 738.2L291.0 738.0L291.5 737.8L292.0 737.6L292.5 737.4L293.0 737.2L293.5 737.1L294.0 736.9L294.5 736.7L295.0 736.6" stroke="#f07f1a" stroke-width="1.90" fill="none" stroke-linejoin="round"/><text x="150.60" y="670.90" font-size="12.50" font-weight="bold" text-anchor="middle" fill="#111" >a</text><text x="185.30" y="685.20" font-size="12.50" font-weight="bold" text-anchor="middle" fill="#111" >b</text><text x="227.50" y="710.70" font-size="12.50" font-weight="bold" text-anchor="middle" fill="#111" >c</text><text x="284.60" y="759.90" font-size="12.50" font-weight="bold" text-anchor="middle" fill="#111" >d</text><text x="205.20" y="615.50" font-size="10.80" font-weight="normal" text-anchor="start" fill="#151515" stroke="#151515" stroke-width="0.15">BB Region of 8% ZnO</text><text x="91.20" y="641.20" font-size="13.20" font-weight="bold" text-anchor="middle" fill="#111" >(e)</text><text x="0" y="0" transform="translate(17.40 705.30) rotate(-90)" font-size="13.90" font-weight="bold" text-anchor="middle" fill="#111">PL.Intensity(a.u)</text><text x="192.20" y="847.20" font-size="13.60" font-weight="bold" text-anchor="middle" fill="#111" >Wavelength(nm)</text><text x="400.70" y="842.10" font-size="8.90" font-weight="normal" text-anchor="middle" fill="#111" stroke="#111" stroke-width="0.22">400</text><text x="435.25" y="842.10" font-size="8.90" font-weight="normal" text-anchor="middle" fill="#111" stroke="#111" stroke-width="0.22">450</text><text x="469.80" y="842.10" font-size="8.90" font-weight="normal" text-anchor="middle" fill="#111" stroke="#111" stroke-width="0.22">500</text><text x="504.35" y="842.10" font-size="8.90" font-weight="normal" text-anchor="middle" fill="#111" stroke="#111" stroke-width="0.22">550</text><text x="538.90" y="842.10" font-size="8.90" font-weight="normal" text-anchor="middle" fill="#111" stroke="#111" stroke-width="0.22">600</text><text x="573.45" y="842.10" font-size="8.90" font-weight="normal" text-anchor="middle" fill="#111" stroke="#111" stroke-width="0.22">650</text><text x="608.00" y="842.10" font-size="8.90" font-weight="normal" text-anchor="middle" fill="#111" stroke="#111" stroke-width="0.22">700</text><text x="642.55" y="842.10" font-size="8.90" font-weight="normal" text-anchor="middle" fill="#111" stroke="#111" stroke-width="0.22">750</text><text x="677.10" y="842.10" font-size="8.90" font-weight="normal" text-anchor="middle" fill="#111" stroke="#111" stroke-width="0.22">800</text><text x="393.10" y="812.30" font-size="8.90" font-weight="normal" text-anchor="end" fill="#111" stroke="#111" stroke-width="0.22">300</text><text x="393.10" y="777.89" font-size="8.90" font-weight="normal" text-anchor="end" fill="#111" stroke="#111" stroke-width="0.22">400</text><text x="393.10" y="743.48" font-size="8.90" font-weight="normal" text-anchor="end" fill="#111" stroke="#111" stroke-width="0.22">500</text><text x="393.10" y="709.07" font-size="8.90" font-weight="normal" text-anchor="end" fill="#111" stroke="#111" stroke-width="0.22">600</text><text x="393.10" y="674.67" font-size="8.90" font-weight="normal" text-anchor="end" fill="#111" stroke="#111" stroke-width="0.22">700</text><text x="393.10" y="640.26" font-size="8.90" font-weight="normal" text-anchor="end" fill="#111" stroke="#111" stroke-width="0.22">800</text><text x="393.10" y="605.85" font-size="8.90" font-weight="normal" text-anchor="end" fill="#111" stroke="#111" stroke-width="0.22">900</text><path d="M400.70 827.50 V832.20 M400.70 603.55 V608.25 M435.25 827.50 V832.20 M435.25 603.55 V608.25 M469.80 827.50 V832.20 M469.80 603.55 V608.25 M504.35 827.50 V832.20 M504.35 603.55 V608.25 M538.90 827.50 V832.20 M538.90 603.55 V608.25 M573.45 827.50 V832.20 M573.45 603.55 V608.25 M608.00 827.50 V832.20 M608.00 603.55 V608.25 M642.55 827.50 V832.20 M642.55 603.55 V608.25 M677.10 827.50 V832.20 M677.10 603.55 V608.25 M417.97 827.50 V830.30 M417.97 603.55 V606.35 M452.52 827.50 V830.30 M452.52 603.55 V606.35 M487.07 827.50 V830.30 M487.07 603.55 V606.35 M521.62 827.50 V830.30 M521.62 603.55 V606.35 M556.17 827.50 V830.30 M556.17 603.55 V606.35 M590.73 827.50 V830.30 M590.73 603.55 V606.35 M625.27 827.50 V830.30 M625.27 603.55 V606.35 M659.83 827.50 V830.30 M659.83 603.55 V606.35 M400.70 810.00 H396.00 M677.10 810.00 H672.40 M400.70 775.59 H396.00 M677.10 775.59 H672.40 M400.70 741.18 H396.00 M677.10 741.18 H672.40 M400.70 706.77 H396.00 M677.10 706.77 H672.40 M400.70 672.37 H396.00 M677.10 672.37 H672.40 M400.70 637.96 H396.00 M677.10 637.96 H672.40 M400.70 603.55 H396.00 M677.10 603.55 H672.40 M400.70 792.80 H397.90 M677.10 792.80 H674.30 M400.70 758.39 H397.90 M677.10 758.39 H674.30 M400.70 723.98 H397.90 M677.10 723.98 H674.30 M400.70 689.57 H397.90 M677.10 689.57 H674.30 M400.70 655.16 H397.90 M677.10 655.16 H674.30 M400.70 620.75 H397.90 M677.10 620.75 H674.30 M400.70 827.20 H397.90 M677.10 827.20 H674.30" stroke="#262626" stroke-width="1" fill="none"/><path d="M400.70 603.55 V827.50" stroke="#7c7c7c" stroke-width="1.55" fill="none"/><path d="M677.10 603.55 V831.50" stroke="#7c7c7c" stroke-width="1.55" fill="none"/><path d="M396.30 603.55 H677.10" stroke="#262626" stroke-width="1.15" fill="none" stroke-linecap="square"/><path d="M398.20 827.50 H677.10" stroke="#262626" stroke-width="1.15" fill="none" stroke-linecap="square"/><path d="M432.3 801.0L433.1 800.4L433.9 799.8L434.7 799.2L435.5 798.6L436.3 798.0L437.1 797.4L437.8 796.7L438.6 796.1L439.3 795.4L440.1 794.7L440.8 794.0L441.5 793.4L442.3 792.7L443.0 792.0L443.7 791.2L444.3 790.5L445.0 789.7L445.6 789.0L446.2 788.2L446.8 787.4L447.4 786.6L448.0 785.8L448.6 785.0L449.2 784.1L449.8 783.3L450.3 782.5L450.8 781.6L451.4 780.8L451.9 780.0L452.4 779.1L453.0 778.2L453.5 777.4L454.0 776.5L454.5 775.6L455.0 774.8L455.4 773.9L455.9 773.0L456.4 772.1L456.8 771.3L457.3 770.4L457.7 769.5L458.2 768.6L458.6 767.7L459.0 766.8L459.4 765.8L459.8 764.9L460.2 764.0L460.6 763.1L461.0 762.2L461.4 761.2L461.7 760.3L462.1 759.4L462.4 758.4L462.8 757.5L463.1 756.6L463.5 755.6L463.8 754.7L464.1 753.7L464.5 752.8L464.8 751.8L465.1 750.9L465.3 749.9L465.6 749.0L465.9 748.0L466.2 747.0L466.5 746.1L466.7 745.1L467.0 744.1L467.3 743.2L467.6 742.2L467.8 741.3L468.1 740.3L468.4 739.3L468.6 738.4L468.9 737.4L469.2 736.4L469.4 735.5L469.7 734.5L470.0 733.6L470.2 732.6L470.5 731.6L470.7 730.7L471.0 729.7L471.2 728.7L471.5 727.8L471.8 726.8L472.0 725.8L472.3 724.9L472.5 723.9L472.8 722.9L473.0 722.0L473.3 721.0L473.5 720.0L473.8 719.0L474.0 718.1L474.2 717.1L474.5 716.1L474.7 715.2L474.9 714.2L475.1 713.2L475.3 712.2L475.5 711.2L475.6 710.2L475.8 709.3L476.0 708.3L476.3 707.3L476.5 706.3L476.7 705.4L477.0 704.4L477.2 703.4L477.5 702.5L477.7 701.5L478.0 700.5L478.2 699.6L478.5 698.6L478.7 697.6L479.0 696.7L479.3 695.7L479.5 694.7L479.8 693.8L480.1 692.8L480.3 691.8L480.6 690.9L480.9 689.9L481.1 688.9L481.4 688.0L481.7 687.0L482.0 686.1L482.2 685.1L482.5 684.1L482.8 683.2L483.1 682.2L483.4 681.3L483.6 680.3L483.9 679.3L484.2 678.4L484.5 677.4L484.8 676.5L485.1 675.5L485.4 674.6L485.7 673.6L486.0 672.7L486.3 671.7L486.6 670.8L486.9 669.8L487.2 668.8L487.5 667.9L487.8 666.9L488.1 666.0L488.5 665.0L488.8 664.1L489.1 663.1L489.4 662.2L489.7 661.3L490.1 660.3L490.4 659.4L490.8 658.4L491.1 657.5L491.5 656.6L491.8 655.6L492.2 654.7L492.6 653.8L493.0 652.9L493.4 651.9L493.8 651.0L494.2 650.1L494.6 649.2L495.0 648.3L495.5 647.4L496.0 646.5L496.4 645.7L496.9 644.8L497.5 643.9L498.0 643.1L498.6 642.3L499.1 641.4L499.7 640.7L500.4 639.9L501.0 639.1L501.8 638.4L502.5 637.8L503.4 637.2L504.3 636.8L505.2 636.5L506.2 636.2L507.2 636.1L508.2 636.0L509.2 636.0L510.2 636.0L511.1 636.1L512.1 636.3L513.1 636.5L514.1 636.8L515.0 637.2L515.9 637.6L516.8 638.0L517.7 638.6L518.5 639.1L519.3 639.7L520.1 640.2L520.9 640.8L521.7 641.4L522.5 642.1L523.3 642.7L524.1 643.3L524.8 644.0L525.6 644.7L526.3 645.3L527.0 646.0L527.7 646.7L528.4 647.5L529.1 648.2L529.8 648.9L530.4 649.7L531.1 650.4L531.7 651.2L532.4 652.0L533.0 652.7L533.7 653.5L534.3 654.2L535.0 655.0L535.7 655.7L536.3 656.5L537.0 657.3L537.6 658.0L538.2 658.8L538.9 659.6L539.5 660.4L540.1 661.2L540.6 662.0L541.2 662.8L541.8 663.7L542.3 664.5L542.8 665.4L543.3 666.2L543.9 667.1L544.4 667.9L544.9 668.8L545.4 669.6L545.9 670.5L546.4 671.3L547.0 672.2L547.5 673.0L548.0 673.9L548.6 674.7L549.1 675.6L549.7 676.4L550.2 677.2L550.8 678.1L551.3 678.9L551.9 679.7L552.4 680.6L553.0 681.4L553.5 682.2L554.1 683.1L554.7 683.9L555.2 684.7L555.8 685.5L556.4 686.4L556.9 687.2L557.5 688.0L558.1 688.8L558.7 689.6L559.3 690.4L559.9 691.2L560.5 692.0L561.0 692.8L561.6 693.7L562.2 694.5L562.8 695.3L563.4 696.1L564.0 696.9L564.5 697.7L565.1 698.5L565.7 699.3L566.3 700.2L566.9 701.0L567.4 701.8L568.0 702.6L568.6 703.4L569.2 704.2L569.8 705.0L570.4 705.9L570.9 706.7L571.5 707.5L572.1 708.3L572.7 709.1L573.3 709.9L573.9 710.7L574.5 711.5L575.1 712.3L575.6 713.1L576.2 714.0L576.8 714.8L577.3 715.6L577.9 716.5L578.4 717.3L578.9 718.2L579.4 719.0L580.0 719.9L580.5 720.7L581.0 721.6L581.5 722.4L582.0 723.3L582.6 724.1L583.1 725.0L583.6 725.8L584.2 726.7L584.7 727.5L585.3 728.3L585.8 729.2L586.4 730.0L587.0 730.8L587.5 731.6L588.1 732.5L588.7 733.3L589.3 734.1L589.9 734.9L590.5 735.7L591.1 736.4L591.8 737.2L592.4 738.0L593.1 738.7L593.8 739.4L594.5 740.2L595.2 740.9L595.9 741.5L596.6 742.2L597.4 742.9L598.1 743.6L598.9 744.3L599.6 744.9L600.4 745.6L601.1 746.2L601.9 746.8L602.7 747.5L603.5 748.1L604.3 748.7L605.1 749.3L605.9 749.9L606.7 750.5L607.4 751.1L608.2 751.7L609.0 752.3L609.9 752.9L610.7 753.5L611.5 754.1L612.3 754.6L613.2 755.1L614.1 755.5L615.0 755.9L616.0 756.1L617.0 756.1L618.0 755.8L618.9 755.5L619.8 755.0L620.6 754.4L621.4 753.8L622.1 753.1L622.8 752.4L623.4 751.6L624.1 750.8L624.7 750.1L625.3 749.3L625.9 748.5L626.5 747.7L627.1 746.9L627.7 746.1L628.3 745.3L628.9 744.5L629.5 743.7L630.1 742.8L630.6 742.0L631.2 741.2L631.8 740.4L632.4 739.6L633.0 738.8L633.6 738.0L634.2 737.2L634.8 736.4L635.7 736.1L636.6 736.5L637.5 737.0L638.2 737.7L638.8 738.4L639.4 739.3L639.8 740.2L640.2 741.1L640.6 742.0L641.0 743.0L641.3 743.9L641.7 744.8L642.0 745.8L642.3 746.7L642.6 747.7L642.9 748.6L643.2 749.6L643.5 750.5L643.8 751.5L644.1 752.5L644.4 753.4L644.6 754.4L644.9 755.3L645.2 756.3L645.4 757.3L645.6 758.3L645.9 759.2L646.1 760.2L646.3 761.2L646.6 762.1L646.8 763.1L647.0 764.1L647.3 765.1L647.5 766.0L647.7 767.0L648.0 768.0L648.2 768.9L648.4 769.9L648.7 770.9L648.9 771.9L649.1 772.8L649.4 773.8L649.6 774.8L649.8 775.8" stroke="#111" stroke-width="1.80" fill="none" stroke-linejoin="round"/><path d="M430.4 800.9a1.6 1.6 0 1 0 0.01 0zM432.2 801.7a1.6 1.6 0 1 0 0.01 0zM430.3 799.2a1.6 1.6 0 1 0 0.01 0zM432.6 801.3a1.6 1.6 0 1 0 0.01 0zM432.4 800.8a1.6 1.6 0 1 0 0.01 0zM433.9 801.6a1.6 1.6 0 1 0 0.01 0zM430.9 796.7a1.6 1.6 0 1 0 0.01 0zM432.9 799.4a1.6 1.6 0 1 0 0.01 0zM433.7 799.8a1.6 1.6 0 1 0 0.01 0zM434.6 800.0a1.6 1.6 0 1 0 0.01 0zM435.4 800.6a1.6 1.6 0 1 0 0.01 0zM436.5 801.7a1.6 1.6 0 1 0 0.01 0zM433.0 796.1a1.6 1.6 0 1 0 0.01 0zM434.4 797.7a1.6 1.6 0 1 0 0.01 0zM433.2 795.0a1.6 1.6 0 1 0 0.01 0zM434.9 796.8a1.6 1.6 0 1 0 0.01 0zM436.1 797.0a1.6 1.6 0 1 0 0.01 0zM435.0 796.2a1.6 1.6 0 1 0 0.01 0zM439.2 800.4a1.6 1.6 0 1 0 0.01 0zM434.1 794.0a1.6 1.6 0 1 0 0.01 0zM437.9 797.0a1.6 1.6 0 1 0 0.01 0zM437.5 796.6a1.6 1.6 0 1 0 0.01 0zM437.6 796.0a1.6 1.6 0 1 0 0.01 0zM439.2 796.4a1.6 1.6 0 1 0 0.01 0zM438.5 795.3a1.6 1.6 0 1 0 0.01 0zM437.6 793.3a1.6 1.6 0 1 0 0.01 0zM440.3 796.2a1.6 1.6 0 1 0 0.01 0zM439.2 794.4a1.6 1.6 0 1 0 0.01 0zM441.2 795.4a1.6 1.6 0 1 0 0.01 0zM440.1 794.6a1.6 1.6 0 1 0 0.01 0zM438.0 791.0a1.6 1.6 0 1 0 0.01 0zM440.4 793.3a1.6 1.6 0 1 0 0.01 0zM441.4 793.0a1.6 1.6 0 1 0 0.01 0zM443.8 795.6a1.6 1.6 0 1 0 0.01 0zM441.5 792.1a1.6 1.6 0 1 0 0.01 0zM442.1 792.7a1.6 1.6 0 1 0 0.01 0zM438.7 789.3a1.6 1.6 0 1 0 0.01 0zM440.3 789.6a1.6 1.6 0 1 0 0.01 0zM440.5 789.9a1.6 1.6 0 1 0 0.01 0zM442.7 791.5a1.6 1.6 0 1 0 0.01 0zM443.0 790.6a1.6 1.6 0 1 0 0.01 0zM444.4 791.7a1.6 1.6 0 1 0 0.01 0zM443.1 789.4a1.6 1.6 0 1 0 0.01 0zM442.3 788.4a1.6 1.6 0 1 0 0.01 0zM444.1 789.9a1.6 1.6 0 1 0 0.01 0zM443.5 788.0a1.6 1.6 0 1 0 0.01 0zM445.6 789.6a1.6 1.6 0 1 0 0.01 0zM442.4 786.8a1.6 1.6 0 1 0 0.01 0zM443.1 786.7a1.6 1.6 0 1 0 0.01 0zM443.1 786.6a1.6 1.6 0 1 0 0.01 0zM445.1 787.2a1.6 1.6 0 1 0 0.01 0zM445.7 787.4a1.6 1.6 0 1 0 0.01 0zM448.1 788.3a1.6 1.6 0 1 0 0.01 0zM446.0 786.4a1.6 1.6 0 1 0 0.01 0zM445.8 785.9a1.6 1.6 0 1 0 0.01 0zM445.9 785.8a1.6 1.6 0 1 0 0.01 0zM446.0 785.0a1.6 1.6 0 1 0 0.01 0zM447.4 785.3a1.6 1.6 0 1 0 0.01 0zM447.8 785.3a1.6 1.6 0 1 0 0.01 0zM449.2 785.5a1.6 1.6 0 1 0 0.01 0zM446.7 783.4a1.6 1.6 0 1 0 0.01 0zM444.5 781.2a1.6 1.6 0 1 0 0.01 0zM448.6 783.7a1.6 1.6 0 1 0 0.01 0zM447.0 782.7a1.6 1.6 0 1 0 0.01 0zM447.5 781.7a1.6 1.6 0 1 0 0.01 0zM450.9 784.0a1.6 1.6 0 1 0 0.01 0zM449.3 782.1a1.6 1.6 0 1 0 0.01 0zM446.6 779.8a1.6 1.6 0 1 0 0.01 0zM449.8 782.3a1.6 1.6 0 1 0 0.01 0zM448.9 781.0a1.6 1.6 0 1 0 0.01 0zM449.8 780.8a1.6 1.6 0 1 0 0.01 0zM450.1 780.8a1.6 1.6 0 1 0 0.01 0zM449.5 779.5a1.6 1.6 0 1 0 0.01 0zM451.5 780.4a1.6 1.6 0 1 0 0.01 0zM448.9 778.8a1.6 1.6 0 1 0 0.01 0zM448.3 777.8a1.6 1.6 0 1 0 0.01 0zM448.7 777.4a1.6 1.6 0 1 0 0.01 0zM451.8 779.1a1.6 1.6 0 1 0 0.01 0zM452.8 779.2a1.6 1.6 0 1 0 0.01 0zM452.0 777.8a1.6 1.6 0 1 0 0.01 0zM451.6 777.0a1.6 1.6 0 1 0 0.01 0zM453.8 778.6a1.6 1.6 0 1 0 0.01 0zM453.4 777.7a1.6 1.6 0 1 0 0.01 0zM451.2 775.8a1.6 1.6 0 1 0 0.01 0zM452.6 775.9a1.6 1.6 0 1 0 0.01 0zM450.5 774.2a1.6 1.6 0 1 0 0.01 0zM454.1 776.1a1.6 1.6 0 1 0 0.01 0zM454.7 775.4a1.6 1.6 0 1 0 0.01 0zM454.1 774.7a1.6 1.6 0 1 0 0.01 0zM455.4 775.3a1.6 1.6 0 1 0 0.01 0zM454.3 774.5a1.6 1.6 0 1 0 0.01 0zM452.9 772.9a1.6 1.6 0 1 0 0.01 0zM452.7 772.7a1.6 1.6 0 1 0 0.01 0zM455.5 773.4a1.6 1.6 0 1 0 0.01 0zM455.5 773.2a1.6 1.6 0 1 0 0.01 0zM453.3 771.0a1.6 1.6 0 1 0 0.01 0zM454.9 771.5a1.6 1.6 0 1 0 0.01 0zM458.5 772.9a1.6 1.6 0 1 0 0.01 0zM455.5 770.9a1.6 1.6 0 1 0 0.01 0zM456.3 771.3a1.6 1.6 0 1 0 0.01 0zM453.4 769.6a1.6 1.6 0 1 0 0.01 0zM453.6 768.6a1.6 1.6 0 1 0 0.01 0zM455.2 769.2a1.6 1.6 0 1 0 0.01 0zM459.1 770.6a1.6 1.6 0 1 0 0.01 0zM457.8 769.9a1.6 1.6 0 1 0 0.01 0zM458.0 769.2a1.6 1.6 0 1 0 0.01 0zM457.3 768.3a1.6 1.6 0 1 0 0.01 0zM457.1 768.4a1.6 1.6 0 1 0 0.01 0zM459.6 768.9a1.6 1.6 0 1 0 0.01 0zM456.6 766.9a1.6 1.6 0 1 0 0.01 0zM458.9 767.6a1.6 1.6 0 1 0 0.01 0zM460.0 767.3a1.6 1.6 0 1 0 0.01 0zM457.3 765.3a1.6 1.6 0 1 0 0.01 0zM459.2 766.8a1.6 1.6 0 1 0 0.01 0zM455.6 764.1a1.6 1.6 0 1 0 0.01 0zM456.3 764.4a1.6 1.6 0 1 0 0.01 0zM459.6 764.8a1.6 1.6 0 1 0 0.01 0zM461.3 765.5a1.6 1.6 0 1 0 0.01 0zM458.5 763.5a1.6 1.6 0 1 0 0.01 0zM460.0 764.3a1.6 1.6 0 1 0 0.01 0zM457.8 762.8a1.6 1.6 0 1 0 0.01 0zM461.2 763.2a1.6 1.6 0 1 0 0.01 0zM460.2 763.0a1.6 1.6 0 1 0 0.01 0zM461.1 762.7a1.6 1.6 0 1 0 0.01 0zM457.1 760.9a1.6 1.6 0 1 0 0.01 0zM460.6 761.3a1.6 1.6 0 1 0 0.01 0zM457.6 759.9a1.6 1.6 0 1 0 0.01 0zM461.6 761.6a1.6 1.6 0 1 0 0.01 0zM457.7 758.9a1.6 1.6 0 1 0 0.01 0zM460.4 759.5a1.6 1.6 0 1 0 0.01 0zM460.9 759.9a1.6 1.6 0 1 0 0.01 0zM458.3 758.1a1.6 1.6 0 1 0 0.01 0zM460.6 758.3a1.6 1.6 0 1 0 0.01 0zM458.8 757.3a1.6 1.6 0 1 0 0.01 0zM460.7 758.0a1.6 1.6 0 1 0 0.01 0zM461.0 757.0a1.6 1.6 0 1 0 0.01 0zM461.8 756.8a1.6 1.6 0 1 0 0.01 0zM460.7 756.5a1.6 1.6 0 1 0 0.01 0zM461.0 756.1a1.6 1.6 0 1 0 0.01 0zM460.3 755.3a1.6 1.6 0 1 0 0.01 0zM463.0 755.7a1.6 1.6 0 1 0 0.01 0zM463.2 755.9a1.6 1.6 0 1 0 0.01 0zM463.2 755.5a1.6 1.6 0 1 0 0.01 0zM459.6 753.6a1.6 1.6 0 1 0 0.01 0zM465.0 755.1a1.6 1.6 0 1 0 0.01 0zM462.0 753.7a1.6 1.6 0 1 0 0.01 0zM464.8 754.1a1.6 1.6 0 1 0 0.01 0zM460.5 752.1a1.6 1.6 0 1 0 0.01 0zM461.6 752.0a1.6 1.6 0 1 0 0.01 0zM463.4 752.5a1.6 1.6 0 1 0 0.01 0zM463.8 752.4a1.6 1.6 0 1 0 0.01 0zM463.1 751.2a1.6 1.6 0 1 0 0.01 0zM464.7 751.5a1.6 1.6 0 1 0 0.01 0zM463.6 750.6a1.6 1.6 0 1 0 0.01 0zM466.6 751.3a1.6 1.6 0 1 0 0.01 0zM462.9 750.1a1.6 1.6 0 1 0 0.01 0zM464.0 749.7a1.6 1.6 0 1 0 0.01 0zM466.6 749.8a1.6 1.6 0 1 0 0.01 0zM465.4 749.2a1.6 1.6 0 1 0 0.01 0zM463.8 748.5a1.6 1.6 0 1 0 0.01 0zM465.4 748.7a1.6 1.6 0 1 0 0.01 0zM468.0 748.8a1.6 1.6 0 1 0 0.01 0zM463.3 746.7a1.6 1.6 0 1 0 0.01 0zM468.0 747.9a1.6 1.6 0 1 0 0.01 0zM464.2 746.3a1.6 1.6 0 1 0 0.01 0zM465.9 746.1a1.6 1.6 0 1 0 0.01 0zM466.9 746.2a1.6 1.6 0 1 0 0.01 0zM466.1 745.4a1.6 1.6 0 1 0 0.01 0zM464.4 744.4a1.6 1.6 0 1 0 0.01 0zM463.9 743.8a1.6 1.6 0 1 0 0.01 0zM463.7 743.7a1.6 1.6 0 1 0 0.01 0zM465.7 743.7a1.6 1.6 0 1 0 0.01 0zM464.8 742.9a1.6 1.6 0 1 0 0.01 0zM465.1 743.1a1.6 1.6 0 1 0 0.01 0zM465.5 742.2a1.6 1.6 0 1 0 0.01 0zM462.0 741.2a1.6 1.6 0 1 0 0.01 0zM466.6 742.0a1.6 1.6 0 1 0 0.01 0zM469.4 742.3a1.6 1.6 0 1 0 0.01 0zM467.0 741.1a1.6 1.6 0 1 0 0.01 0zM469.1 741.6a1.6 1.6 0 1 0 0.01 0zM465.2 739.7a1.6 1.6 0 1 0 0.01 0zM468.9 740.7a1.6 1.6 0 1 0 0.01 0zM466.8 739.3a1.6 1.6 0 1 0 0.01 0zM468.1 739.9a1.6 1.6 0 1 0 0.01 0zM469.1 739.3a1.6 1.6 0 1 0 0.01 0zM471.1 739.8a1.6 1.6 0 1 0 0.01 0zM467.1 738.3a1.6 1.6 0 1 0 0.01 0zM466.0 736.9a1.6 1.6 0 1 0 0.01 0zM467.5 737.0a1.6 1.6 0 1 0 0.01 0zM467.3 736.8a1.6 1.6 0 1 0 0.01 0zM466.7 736.5a1.6 1.6 0 1 0 0.01 0zM466.8 736.2a1.6 1.6 0 1 0 0.01 0zM470.4 736.5a1.6 1.6 0 1 0 0.01 0zM467.1 735.4a1.6 1.6 0 1 0 0.01 0zM467.5 734.6a1.6 1.6 0 1 0 0.01 0zM469.4 735.0a1.6 1.6 0 1 0 0.01 0zM465.9 733.4a1.6 1.6 0 1 0 0.01 0zM469.0 734.2a1.6 1.6 0 1 0 0.01 0zM465.7 732.3a1.6 1.6 0 1 0 0.01 0zM468.0 732.4a1.6 1.6 0 1 0 0.01 0zM469.0 732.4a1.6 1.6 0 1 0 0.01 0zM470.6 732.6a1.6 1.6 0 1 0 0.01 0zM470.9 732.4a1.6 1.6 0 1 0 0.01 0zM470.8 731.9a1.6 1.6 0 1 0 0.01 0zM468.3 731.0a1.6 1.6 0 1 0 0.01 0zM471.3 731.4a1.6 1.6 0 1 0 0.01 0zM470.8 730.6a1.6 1.6 0 1 0 0.01 0zM469.9 730.3a1.6 1.6 0 1 0 0.01 0zM470.1 729.4a1.6 1.6 0 1 0 0.01 0zM469.5 729.4a1.6 1.6 0 1 0 0.01 0zM466.4 727.8a1.6 1.6 0 1 0 0.01 0zM467.0 727.5a1.6 1.6 0 1 0 0.01 0zM469.9 727.8a1.6 1.6 0 1 0 0.01 0zM468.9 727.5a1.6 1.6 0 1 0 0.01 0zM470.5 727.5a1.6 1.6 0 1 0 0.01 0zM470.2 726.5a1.6 1.6 0 1 0 0.01 0zM470.3 726.8a1.6 1.6 0 1 0 0.01 0zM470.2 725.8a1.6 1.6 0 1 0 0.01 0zM471.3 725.8a1.6 1.6 0 1 0 0.01 0zM471.8 725.3a1.6 1.6 0 1 0 0.01 0zM470.8 725.3a1.6 1.6 0 1 0 0.01 0zM469.7 723.9a1.6 1.6 0 1 0 0.01 0zM471.2 724.3a1.6 1.6 0 1 0 0.01 0zM472.5 724.4a1.6 1.6 0 1 0 0.01 0zM472.2 723.9a1.6 1.6 0 1 0 0.01 0zM470.1 722.9a1.6 1.6 0 1 0 0.01 0zM470.8 722.0a1.6 1.6 0 1 0 0.01 0zM470.1 722.1a1.6 1.6 0 1 0 0.01 0zM472.1 722.1a1.6 1.6 0 1 0 0.01 0zM471.7 721.3a1.6 1.6 0 1 0 0.01 0zM470.3 720.7a1.6 1.6 0 1 0 0.01 0zM471.5 720.2a1.6 1.6 0 1 0 0.01 0zM470.8 720.3a1.6 1.6 0 1 0 0.01 0zM473.9 719.8a1.6 1.6 0 1 0 0.01 0zM472.2 719.2a1.6 1.6 0 1 0 0.01 0zM474.6 719.9a1.6 1.6 0 1 0 0.01 0zM472.4 718.5a1.6 1.6 0 1 0 0.01 0zM471.9 718.0a1.6 1.6 0 1 0 0.01 0zM473.1 718.0a1.6 1.6 0 1 0 0.01 0zM475.3 718.6a1.6 1.6 0 1 0 0.01 0zM472.2 717.0a1.6 1.6 0 1 0 0.01 0zM471.5 716.3a1.6 1.6 0 1 0 0.01 0zM472.4 716.4a1.6 1.6 0 1 0 0.01 0zM471.6 715.9a1.6 1.6 0 1 0 0.01 0zM475.2 716.4a1.6 1.6 0 1 0 0.01 0zM470.5 714.8a1.6 1.6 0 1 0 0.01 0zM472.9 714.9a1.6 1.6 0 1 0 0.01 0zM472.3 714.4a1.6 1.6 0 1 0 0.01 0zM472.4 714.0a1.6 1.6 0 1 0 0.01 0zM470.7 713.1a1.6 1.6 0 1 0 0.01 0zM472.7 713.2a1.6 1.6 0 1 0 0.01 0zM475.1 713.2a1.6 1.6 0 1 0 0.01 0zM474.3 712.3a1.6 1.6 0 1 0 0.01 0zM474.0 712.4a1.6 1.6 0 1 0 0.01 0zM477.4 712.1a1.6 1.6 0 1 0 0.01 0zM473.9 711.3a1.6 1.6 0 1 0 0.01 0zM473.5 710.8a1.6 1.6 0 1 0 0.01 0zM471.3 710.3a1.6 1.6 0 1 0 0.01 0zM474.2 709.7a1.6 1.6 0 1 0 0.01 0zM475.4 710.1a1.6 1.6 0 1 0 0.01 0zM471.3 708.9a1.6 1.6 0 1 0 0.01 0zM476.9 709.7a1.6 1.6 0 1 0 0.01 0zM475.9 708.7a1.6 1.6 0 1 0 0.01 0zM477.3 709.0a1.6 1.6 0 1 0 0.01 0zM472.8 707.5a1.6 1.6 0 1 0 0.01 0zM473.8 707.1a1.6 1.6 0 1 0 0.01 0zM473.0 706.4a1.6 1.6 0 1 0 0.01 0zM476.7 707.1a1.6 1.6 0 1 0 0.01 0zM472.2 705.6a1.6 1.6 0 1 0 0.01 0zM474.8 706.1a1.6 1.6 0 1 0 0.01 0zM474.7 705.3a1.6 1.6 0 1 0 0.01 0zM476.5 704.9a1.6 1.6 0 1 0 0.01 0zM476.1 705.0a1.6 1.6 0 1 0 0.01 0zM476.6 704.3a1.6 1.6 0 1 0 0.01 0zM474.5 703.9a1.6 1.6 0 1 0 0.01 0zM472.8 702.4a1.6 1.6 0 1 0 0.01 0zM474.8 702.5a1.6 1.6 0 1 0 0.01 0zM476.7 702.9a1.6 1.6 0 1 0 0.01 0zM474.5 702.1a1.6 1.6 0 1 0 0.01 0zM474.8 701.9a1.6 1.6 0 1 0 0.01 0zM478.1 702.0a1.6 1.6 0 1 0 0.01 0zM475.3 700.8a1.6 1.6 0 1 0 0.01 0zM475.1 700.4a1.6 1.6 0 1 0 0.01 0zM477.2 700.2a1.6 1.6 0 1 0 0.01 0zM477.0 700.1a1.6 1.6 0 1 0 0.01 0zM478.6 700.4a1.6 1.6 0 1 0 0.01 0zM479.5 699.7a1.6 1.6 0 1 0 0.01 0zM471.9 697.4a1.6 1.6 0 1 0 0.01 0zM475.9 697.8a1.6 1.6 0 1 0 0.01 0zM478.3 698.2a1.6 1.6 0 1 0 0.01 0zM476.8 697.8a1.6 1.6 0 1 0 0.01 0zM477.2 697.3a1.6 1.6 0 1 0 0.01 0zM476.3 696.9a1.6 1.6 0 1 0 0.01 0zM479.4 697.2a1.6 1.6 0 1 0 0.01 0zM479.0 696.1a1.6 1.6 0 1 0 0.01 0zM476.4 695.3a1.6 1.6 0 1 0 0.01 0zM477.9 695.4a1.6 1.6 0 1 0 0.01 0zM474.7 693.9a1.6 1.6 0 1 0 0.01 0zM475.9 693.7a1.6 1.6 0 1 0 0.01 0zM479.9 694.6a1.6 1.6 0 1 0 0.01 0zM475.5 693.2a1.6 1.6 0 1 0 0.01 0zM483.2 694.4a1.6 1.6 0 1 0 0.01 0zM477.5 692.8a1.6 1.6 0 1 0 0.01 0zM479.7 693.1a1.6 1.6 0 1 0 0.01 0zM478.4 692.0a1.6 1.6 0 1 0 0.01 0zM478.0 691.4a1.6 1.6 0 1 0 0.01 0zM479.7 691.9a1.6 1.6 0 1 0 0.01 0zM482.0 692.0a1.6 1.6 0 1 0 0.01 0zM479.6 691.2a1.6 1.6 0 1 0 0.01 0zM479.9 690.2a1.6 1.6 0 1 0 0.01 0zM479.8 690.2a1.6 1.6 0 1 0 0.01 0zM480.2 689.4a1.6 1.6 0 1 0 0.01 0zM479.8 689.3a1.6 1.6 0 1 0 0.01 0zM479.5 689.1a1.6 1.6 0 1 0 0.01 0zM481.6 689.0a1.6 1.6 0 1 0 0.01 0zM479.7 688.1a1.6 1.6 0 1 0 0.01 0zM479.5 687.6a1.6 1.6 0 1 0 0.01 0zM477.3 686.3a1.6 1.6 0 1 0 0.01 0zM480.2 686.6a1.6 1.6 0 1 0 0.01 0zM482.5 687.2a1.6 1.6 0 1 0 0.01 0zM480.1 686.1a1.6 1.6 0 1 0 0.01 0zM478.5 685.2a1.6 1.6 0 1 0 0.01 0zM479.6 685.3a1.6 1.6 0 1 0 0.01 0zM477.9 683.8a1.6 1.6 0 1 0 0.01 0zM480.3 684.3a1.6 1.6 0 1 0 0.01 0zM479.6 684.2a1.6 1.6 0 1 0 0.01 0zM482.7 684.1a1.6 1.6 0 1 0 0.01 0zM479.7 683.1a1.6 1.6 0 1 0 0.01 0zM478.0 681.9a1.6 1.6 0 1 0 0.01 0zM483.3 682.9a1.6 1.6 0 1 0 0.01 0zM479.6 681.6a1.6 1.6 0 1 0 0.01 0zM480.7 681.8a1.6 1.6 0 1 0 0.01 0zM483.5 682.1a1.6 1.6 0 1 0 0.01 0zM482.1 681.0a1.6 1.6 0 1 0 0.01 0zM483.2 680.8a1.6 1.6 0 1 0 0.01 0zM481.3 680.0a1.6 1.6 0 1 0 0.01 0zM482.0 680.1a1.6 1.6 0 1 0 0.01 0zM482.3 679.7a1.6 1.6 0 1 0 0.01 0zM483.0 679.1a1.6 1.6 0 1 0 0.01 0zM482.0 679.1a1.6 1.6 0 1 0 0.01 0zM485.2 679.2a1.6 1.6 0 1 0 0.01 0zM483.9 678.8a1.6 1.6 0 1 0 0.01 0zM482.9 677.8a1.6 1.6 0 1 0 0.01 0zM486.9 678.7a1.6 1.6 0 1 0 0.01 0zM485.3 677.2a1.6 1.6 0 1 0 0.01 0zM483.2 676.1a1.6 1.6 0 1 0 0.01 0zM483.5 676.0a1.6 1.6 0 1 0 0.01 0zM485.7 676.9a1.6 1.6 0 1 0 0.01 0zM481.9 674.6a1.6 1.6 0 1 0 0.01 0zM481.2 674.5a1.6 1.6 0 1 0 0.01 0zM485.8 675.4a1.6 1.6 0 1 0 0.01 0zM483.3 674.3a1.6 1.6 0 1 0 0.01 0zM484.4 674.1a1.6 1.6 0 1 0 0.01 0zM484.3 673.8a1.6 1.6 0 1 0 0.01 0zM485.6 673.2a1.6 1.6 0 1 0 0.01 0zM484.3 672.4a1.6 1.6 0 1 0 0.01 0zM484.2 672.3a1.6 1.6 0 1 0 0.01 0zM483.8 671.9a1.6 1.6 0 1 0 0.01 0zM483.9 670.8a1.6 1.6 0 1 0 0.01 0zM486.5 671.7a1.6 1.6 0 1 0 0.01 0zM482.1 670.2a1.6 1.6 0 1 0 0.01 0zM484.1 670.0a1.6 1.6 0 1 0 0.01 0zM483.2 669.5a1.6 1.6 0 1 0 0.01 0zM484.0 669.0a1.6 1.6 0 1 0 0.01 0zM486.0 669.7a1.6 1.6 0 1 0 0.01 0zM487.2 669.0a1.6 1.6 0 1 0 0.01 0zM484.5 668.3a1.6 1.6 0 1 0 0.01 0zM485.9 668.6a1.6 1.6 0 1 0 0.01 0zM484.4 667.3a1.6 1.6 0 1 0 0.01 0zM485.7 667.1a1.6 1.6 0 1 0 0.01 0zM487.1 667.3a1.6 1.6 0 1 0 0.01 0zM486.6 666.3a1.6 1.6 0 1 0 0.01 0zM484.7 665.6a1.6 1.6 0 1 0 0.01 0zM485.4 665.7a1.6 1.6 0 1 0 0.01 0zM486.3 665.4a1.6 1.6 0 1 0 0.01 0zM487.0 665.1a1.6 1.6 0 1 0 0.01 0zM489.1 665.0a1.6 1.6 0 1 0 0.01 0zM487.2 664.3a1.6 1.6 0 1 0 0.01 0zM486.6 663.8a1.6 1.6 0 1 0 0.01 0zM485.4 663.0a1.6 1.6 0 1 0 0.01 0zM484.9 661.9a1.6 1.6 0 1 0 0.01 0zM490.4 663.5a1.6 1.6 0 1 0 0.01 0zM485.0 661.3a1.6 1.6 0 1 0 0.01 0zM486.0 661.3a1.6 1.6 0 1 0 0.01 0zM489.5 662.0a1.6 1.6 0 1 0 0.01 0zM488.0 660.9a1.6 1.6 0 1 0 0.01 0zM487.9 661.1a1.6 1.6 0 1 0 0.01 0zM489.4 660.9a1.6 1.6 0 1 0 0.01 0zM489.0 660.1a1.6 1.6 0 1 0 0.01 0zM487.6 659.5a1.6 1.6 0 1 0 0.01 0zM487.2 659.2a1.6 1.6 0 1 0 0.01 0zM489.5 659.4a1.6 1.6 0 1 0 0.01 0zM489.7 659.0a1.6 1.6 0 1 0 0.01 0zM490.6 659.2a1.6 1.6 0 1 0 0.01 0zM490.8 658.4a1.6 1.6 0 1 0 0.01 0zM489.4 657.4a1.6 1.6 0 1 0 0.01 0zM491.4 657.4a1.6 1.6 0 1 0 0.01 0zM485.6 655.2a1.6 1.6 0 1 0 0.01 0zM492.3 657.5a1.6 1.6 0 1 0 0.01 0zM490.1 655.7a1.6 1.6 0 1 0 0.01 0zM488.7 654.6a1.6 1.6 0 1 0 0.01 0zM490.6 655.6a1.6 1.6 0 1 0 0.01 0zM491.0 655.6a1.6 1.6 0 1 0 0.01 0zM494.2 655.9a1.6 1.6 0 1 0 0.01 0zM493.2 655.4a1.6 1.6 0 1 0 0.01 0zM487.6 652.8a1.6 1.6 0 1 0 0.01 0zM492.2 654.0a1.6 1.6 0 1 0 0.01 0zM491.6 653.3a1.6 1.6 0 1 0 0.01 0zM492.1 652.6a1.6 1.6 0 1 0 0.01 0zM487.6 651.0a1.6 1.6 0 1 0 0.01 0zM490.4 651.3a1.6 1.6 0 1 0 0.01 0zM490.3 650.6a1.6 1.6 0 1 0 0.01 0zM492.3 651.3a1.6 1.6 0 1 0 0.01 0zM493.6 651.8a1.6 1.6 0 1 0 0.01 0zM495.4 652.1a1.6 1.6 0 1 0 0.01 0zM494.4 650.8a1.6 1.6 0 1 0 0.01 0zM491.3 648.9a1.6 1.6 0 1 0 0.01 0zM493.2 649.4a1.6 1.6 0 1 0 0.01 0zM492.6 648.9a1.6 1.6 0 1 0 0.01 0zM497.9 651.4a1.6 1.6 0 1 0 0.01 0zM493.2 648.1a1.6 1.6 0 1 0 0.01 0zM492.9 647.5a1.6 1.6 0 1 0 0.01 0zM493.6 647.7a1.6 1.6 0 1 0 0.01 0zM492.3 646.1a1.6 1.6 0 1 0 0.01 0zM492.5 645.7a1.6 1.6 0 1 0 0.01 0zM496.0 647.2a1.6 1.6 0 1 0 0.01 0zM498.2 647.9a1.6 1.6 0 1 0 0.01 0zM493.6 645.5a1.6 1.6 0 1 0 0.01 0zM494.6 644.7a1.6 1.6 0 1 0 0.01 0zM494.7 644.8a1.6 1.6 0 1 0 0.01 0zM493.0 643.6a1.6 1.6 0 1 0 0.01 0zM494.6 643.5a1.6 1.6 0 1 0 0.01 0zM495.8 644.2a1.6 1.6 0 1 0 0.01 0zM496.4 644.3a1.6 1.6 0 1 0 0.01 0zM494.2 642.2a1.6 1.6 0 1 0 0.01 0zM498.0 644.5a1.6 1.6 0 1 0 0.01 0zM497.0 642.8a1.6 1.6 0 1 0 0.01 0zM496.3 642.0a1.6 1.6 0 1 0 0.01 0zM496.8 642.4a1.6 1.6 0 1 0 0.01 0zM498.1 642.8a1.6 1.6 0 1 0 0.01 0zM497.4 641.4a1.6 1.6 0 1 0 0.01 0zM498.4 641.0a1.6 1.6 0 1 0 0.01 0zM496.6 639.7a1.6 1.6 0 1 0 0.01 0zM498.7 641.1a1.6 1.6 0 1 0 0.01 0zM498.4 640.0a1.6 1.6 0 1 0 0.01 0zM499.9 640.8a1.6 1.6 0 1 0 0.01 0zM499.2 640.2a1.6 1.6 0 1 0 0.01 0zM498.5 638.4a1.6 1.6 0 1 0 0.01 0zM499.6 638.9a1.6 1.6 0 1 0 0.01 0zM497.2 635.4a1.6 1.6 0 1 0 0.01 0zM500.4 638.7a1.6 1.6 0 1 0 0.01 0zM499.4 637.2a1.6 1.6 0 1 0 0.01 0zM499.7 636.5a1.6 1.6 0 1 0 0.01 0zM499.5 636.0a1.6 1.6 0 1 0 0.01 0zM499.1 634.6a1.6 1.6 0 1 0 0.01 0zM500.4 635.0a1.6 1.6 0 1 0 0.01 0zM502.7 638.4a1.6 1.6 0 1 0 0.01 0zM503.6 639.3a1.6 1.6 0 1 0 0.01 0zM503.0 635.9a1.6 1.6 0 1 0 0.01 0zM504.5 640.3a1.6 1.6 0 1 0 0.01 0zM503.1 634.9a1.6 1.6 0 1 0 0.01 0zM503.4 635.6a1.6 1.6 0 1 0 0.01 0zM504.1 635.3a1.6 1.6 0 1 0 0.01 0zM504.3 635.3a1.6 1.6 0 1 0 0.01 0zM505.1 635.9a1.6 1.6 0 1 0 0.01 0zM505.6 636.8a1.6 1.6 0 1 0 0.01 0zM505.7 634.6a1.6 1.6 0 1 0 0.01 0zM506.5 636.9a1.6 1.6 0 1 0 0.01 0zM506.3 635.2a1.6 1.6 0 1 0 0.01 0zM507.5 636.4a1.6 1.6 0 1 0 0.01 0zM507.4 634.7a1.6 1.6 0 1 0 0.01 0zM508.2 636.5a1.6 1.6 0 1 0 0.01 0zM508.2 635.1a1.6 1.6 0 1 0 0.01 0zM508.7 633.7a1.6 1.6 0 1 0 0.01 0zM509.3 635.9a1.6 1.6 0 1 0 0.01 0zM509.9 635.2a1.6 1.6 0 1 0 0.01 0zM509.9 634.2a1.6 1.6 0 1 0 0.01 0zM510.4 634.4a1.6 1.6 0 1 0 0.01 0zM510.4 635.3a1.6 1.6 0 1 0 0.01 0zM509.9 639.9a1.6 1.6 0 1 0 0.01 0zM511.7 635.8a1.6 1.6 0 1 0 0.01 0zM511.8 638.1a1.6 1.6 0 1 0 0.01 0zM513.2 634.5a1.6 1.6 0 1 0 0.01 0zM512.7 637.8a1.6 1.6 0 1 0 0.01 0zM513.8 636.0a1.6 1.6 0 1 0 0.01 0zM514.2 635.4a1.6 1.6 0 1 0 0.01 0zM513.2 638.6a1.6 1.6 0 1 0 0.01 0zM514.3 637.4a1.6 1.6 0 1 0 0.01 0zM515.0 636.5a1.6 1.6 0 1 0 0.01 0zM514.2 639.0a1.6 1.6 0 1 0 0.01 0zM515.9 637.1a1.6 1.6 0 1 0 0.01 0zM515.8 637.6a1.6 1.6 0 1 0 0.01 0zM515.4 639.9a1.6 1.6 0 1 0 0.01 0zM515.9 638.4a1.6 1.6 0 1 0 0.01 0zM517.5 637.1a1.6 1.6 0 1 0 0.01 0zM515.6 640.6a1.6 1.6 0 1 0 0.01 0zM517.2 639.0a1.6 1.6 0 1 0 0.01 0zM517.9 638.9a1.6 1.6 0 1 0 0.01 0zM518.4 639.2a1.6 1.6 0 1 0 0.01 0zM519.9 637.4a1.6 1.6 0 1 0 0.01 0zM518.8 640.0a1.6 1.6 0 1 0 0.01 0zM518.6 640.9a1.6 1.6 0 1 0 0.01 0zM521.3 637.6a1.6 1.6 0 1 0 0.01 0zM517.5 643.5a1.6 1.6 0 1 0 0.01 0zM519.7 641.2a1.6 1.6 0 1 0 0.01 0zM520.0 641.3a1.6 1.6 0 1 0 0.01 0zM518.6 644.1a1.6 1.6 0 1 0 0.01 0zM521.0 641.6a1.6 1.6 0 1 0 0.01 0zM520.5 643.7a1.6 1.6 0 1 0 0.01 0zM520.6 643.0a1.6 1.6 0 1 0 0.01 0zM520.9 643.5a1.6 1.6 0 1 0 0.01 0zM521.3 643.0a1.6 1.6 0 1 0 0.01 0zM522.4 642.6a1.6 1.6 0 1 0 0.01 0zM523.7 642.7a1.6 1.6 0 1 0 0.01 0zM522.8 644.2a1.6 1.6 0 1 0 0.01 0zM523.6 643.9a1.6 1.6 0 1 0 0.01 0zM524.3 643.4a1.6 1.6 0 1 0 0.01 0zM522.7 646.1a1.6 1.6 0 1 0 0.01 0zM521.6 647.2a1.6 1.6 0 1 0 0.01 0zM522.7 646.9a1.6 1.6 0 1 0 0.01 0zM524.0 645.8a1.6 1.6 0 1 0 0.01 0zM523.2 647.2a1.6 1.6 0 1 0 0.01 0zM525.5 646.3a1.6 1.6 0 1 0 0.01 0zM526.5 645.6a1.6 1.6 0 1 0 0.01 0zM525.1 646.9a1.6 1.6 0 1 0 0.01 0zM526.6 646.5a1.6 1.6 0 1 0 0.01 0zM529.7 643.7a1.6 1.6 0 1 0 0.01 0zM525.8 648.5a1.6 1.6 0 1 0 0.01 0zM530.3 645.0a1.6 1.6 0 1 0 0.01 0zM525.6 648.9a1.6 1.6 0 1 0 0.01 0zM527.9 647.7a1.6 1.6 0 1 0 0.01 0zM523.6 652.4a1.6 1.6 0 1 0 0.01 0zM527.6 648.7a1.6 1.6 0 1 0 0.01 0zM528.0 649.4a1.6 1.6 0 1 0 0.01 0zM530.1 648.0a1.6 1.6 0 1 0 0.01 0zM528.7 650.0a1.6 1.6 0 1 0 0.01 0zM530.5 648.7a1.6 1.6 0 1 0 0.01 0zM531.6 648.4a1.6 1.6 0 1 0 0.01 0zM529.6 650.7a1.6 1.6 0 1 0 0.01 0zM530.7 650.8a1.6 1.6 0 1 0 0.01 0zM531.4 650.2a1.6 1.6 0 1 0 0.01 0zM531.2 650.4a1.6 1.6 0 1 0 0.01 0zM529.5 653.1a1.6 1.6 0 1 0 0.01 0zM528.4 654.7a1.6 1.6 0 1 0 0.01 0zM530.2 653.5a1.6 1.6 0 1 0 0.01 0zM531.1 653.0a1.6 1.6 0 1 0 0.01 0zM533.3 652.1a1.6 1.6 0 1 0 0.01 0zM531.6 653.5a1.6 1.6 0 1 0 0.01 0zM530.7 654.9a1.6 1.6 0 1 0 0.01 0zM531.0 655.8a1.6 1.6 0 1 0 0.01 0zM532.7 654.3a1.6 1.6 0 1 0 0.01 0zM534.3 653.6a1.6 1.6 0 1 0 0.01 0zM531.9 656.0a1.6 1.6 0 1 0 0.01 0zM535.0 653.9a1.6 1.6 0 1 0 0.01 0zM532.5 656.7a1.6 1.6 0 1 0 0.01 0zM531.3 658.2a1.6 1.6 0 1 0 0.01 0zM534.5 656.4a1.6 1.6 0 1 0 0.01 0zM537.3 654.1a1.6 1.6 0 1 0 0.01 0zM532.6 658.7a1.6 1.6 0 1 0 0.01 0zM536.0 656.0a1.6 1.6 0 1 0 0.01 0zM535.0 657.4a1.6 1.6 0 1 0 0.01 0zM533.3 659.6a1.6 1.6 0 1 0 0.01 0zM535.8 658.0a1.6 1.6 0 1 0 0.01 0zM535.2 658.7a1.6 1.6 0 1 0 0.01 0zM537.1 658.0a1.6 1.6 0 1 0 0.01 0zM537.6 657.8a1.6 1.6 0 1 0 0.01 0zM537.6 658.1a1.6 1.6 0 1 0 0.01 0zM537.9 658.7a1.6 1.6 0 1 0 0.01 0zM537.5 659.6a1.6 1.6 0 1 0 0.01 0zM539.2 658.9a1.6 1.6 0 1 0 0.01 0zM535.7 661.9a1.6 1.6 0 1 0 0.01 0zM539.9 659.5a1.6 1.6 0 1 0 0.01 0zM539.2 660.2a1.6 1.6 0 1 0 0.01 0zM536.6 663.0a1.6 1.6 0 1 0 0.01 0zM539.5 661.5a1.6 1.6 0 1 0 0.01 0zM537.0 663.4a1.6 1.6 0 1 0 0.01 0zM539.4 662.1a1.6 1.6 0 1 0 0.01 0zM538.6 662.8a1.6 1.6 0 1 0 0.01 0zM540.4 662.1a1.6 1.6 0 1 0 0.01 0zM542.9 661.0a1.6 1.6 0 1 0 0.01 0zM540.6 663.4a1.6 1.6 0 1 0 0.01 0zM541.3 662.8a1.6 1.6 0 1 0 0.01 0zM538.9 665.6a1.6 1.6 0 1 0 0.01 0zM540.6 664.5a1.6 1.6 0 1 0 0.01 0zM541.0 665.4a1.6 1.6 0 1 0 0.01 0zM540.0 665.5a1.6 1.6 0 1 0 0.01 0zM540.0 666.8a1.6 1.6 0 1 0 0.01 0zM539.7 667.4a1.6 1.6 0 1 0 0.01 0zM543.1 665.7a1.6 1.6 0 1 0 0.01 0zM543.7 665.7a1.6 1.6 0 1 0 0.01 0zM542.1 667.2a1.6 1.6 0 1 0 0.01 0zM541.1 668.1a1.6 1.6 0 1 0 0.01 0zM542.7 667.5a1.6 1.6 0 1 0 0.01 0zM542.6 668.1a1.6 1.6 0 1 0 0.01 0zM544.0 668.1a1.6 1.6 0 1 0 0.01 0zM541.7 669.7a1.6 1.6 0 1 0 0.01 0zM542.5 669.6a1.6 1.6 0 1 0 0.01 0zM543.4 669.9a1.6 1.6 0 1 0 0.01 0zM542.9 670.8a1.6 1.6 0 1 0 0.01 0zM545.1 669.4a1.6 1.6 0 1 0 0.01 0zM543.6 670.8a1.6 1.6 0 1 0 0.01 0zM545.5 670.2a1.6 1.6 0 1 0 0.01 0zM544.1 671.2a1.6 1.6 0 1 0 0.01 0zM545.8 671.3a1.6 1.6 0 1 0 0.01 0zM546.9 670.7a1.6 1.6 0 1 0 0.01 0zM545.0 672.5a1.6 1.6 0 1 0 0.01 0zM543.8 673.8a1.6 1.6 0 1 0 0.01 0zM546.2 672.9a1.6 1.6 0 1 0 0.01 0zM545.2 673.2a1.6 1.6 0 1 0 0.01 0zM547.0 673.1a1.6 1.6 0 1 0 0.01 0zM548.3 673.2a1.6 1.6 0 1 0 0.01 0zM547.4 673.7a1.6 1.6 0 1 0 0.01 0zM545.5 675.8a1.6 1.6 0 1 0 0.01 0zM546.6 675.2a1.6 1.6 0 1 0 0.01 0zM548.3 674.2a1.6 1.6 0 1 0 0.01 0zM546.6 676.2a1.6 1.6 0 1 0 0.01 0zM549.2 675.2a1.6 1.6 0 1 0 0.01 0zM548.4 675.8a1.6 1.6 0 1 0 0.01 0zM550.0 675.0a1.6 1.6 0 1 0 0.01 0zM548.6 676.2a1.6 1.6 0 1 0 0.01 0zM549.1 676.8a1.6 1.6 0 1 0 0.01 0zM549.9 676.6a1.6 1.6 0 1 0 0.01 0zM548.4 677.9a1.6 1.6 0 1 0 0.01 0zM548.4 678.5a1.6 1.6 0 1 0 0.01 0zM549.1 678.5a1.6 1.6 0 1 0 0.01 0zM549.8 678.4a1.6 1.6 0 1 0 0.01 0zM553.1 677.0a1.6 1.6 0 1 0 0.01 0zM551.5 679.0a1.6 1.6 0 1 0 0.01 0zM552.0 678.8a1.6 1.6 0 1 0 0.01 0zM548.3 681.9a1.6 1.6 0 1 0 0.01 0zM552.4 679.8a1.6 1.6 0 1 0 0.01 0zM551.4 680.2a1.6 1.6 0 1 0 0.01 0zM550.2 682.1a1.6 1.6 0 1 0 0.01 0zM552.3 681.4a1.6 1.6 0 1 0 0.01 0zM550.4 682.4a1.6 1.6 0 1 0 0.01 0zM553.0 681.7a1.6 1.6 0 1 0 0.01 0zM551.6 683.0a1.6 1.6 0 1 0 0.01 0zM549.1 685.1a1.6 1.6 0 1 0 0.01 0zM551.7 683.7a1.6 1.6 0 1 0 0.01 0zM552.4 684.1a1.6 1.6 0 1 0 0.01 0zM554.6 683.4a1.6 1.6 0 1 0 0.01 0zM554.9 683.3a1.6 1.6 0 1 0 0.01 0zM551.6 685.7a1.6 1.6 0 1 0 0.01 0zM553.3 684.6a1.6 1.6 0 1 0 0.01 0zM554.9 684.3a1.6 1.6 0 1 0 0.01 0zM553.7 686.3a1.6 1.6 0 1 0 0.01 0zM555.5 684.8a1.6 1.6 0 1 0 0.01 0zM556.6 685.3a1.6 1.6 0 1 0 0.01 0zM553.8 686.7a1.6 1.6 0 1 0 0.01 0zM556.3 686.3a1.6 1.6 0 1 0 0.01 0zM557.4 686.0a1.6 1.6 0 1 0 0.01 0zM555.6 687.9a1.6 1.6 0 1 0 0.01 0zM556.1 687.1a1.6 1.6 0 1 0 0.01 0zM557.1 687.4a1.6 1.6 0 1 0 0.01 0zM557.1 687.8a1.6 1.6 0 1 0 0.01 0zM555.7 689.8a1.6 1.6 0 1 0 0.01 0zM557.2 689.2a1.6 1.6 0 1 0 0.01 0zM555.3 690.3a1.6 1.6 0 1 0 0.01 0zM558.5 688.8a1.6 1.6 0 1 0 0.01 0zM555.8 691.1a1.6 1.6 0 1 0 0.01 0zM556.6 691.7a1.6 1.6 0 1 0 0.01 0zM557.9 691.1a1.6 1.6 0 1 0 0.01 0zM559.9 690.1a1.6 1.6 0 1 0 0.01 0zM555.4 693.0a1.6 1.6 0 1 0 0.01 0zM557.3 692.5a1.6 1.6 0 1 0 0.01 0zM558.5 692.4a1.6 1.6 0 1 0 0.01 0zM561.5 691.0a1.6 1.6 0 1 0 0.01 0zM556.8 694.7a1.6 1.6 0 1 0 0.01 0zM560.1 693.0a1.6 1.6 0 1 0 0.01 0zM558.8 694.1a1.6 1.6 0 1 0 0.01 0zM559.0 694.1a1.6 1.6 0 1 0 0.01 0zM558.9 694.9a1.6 1.6 0 1 0 0.01 0zM559.0 695.5a1.6 1.6 0 1 0 0.01 0zM559.3 695.5a1.6 1.6 0 1 0 0.01 0zM559.8 695.9a1.6 1.6 0 1 0 0.01 0zM561.8 695.1a1.6 1.6 0 1 0 0.01 0zM562.1 695.0a1.6 1.6 0 1 0 0.01 0zM562.7 694.9a1.6 1.6 0 1 0 0.01 0zM559.4 698.0a1.6 1.6 0 1 0 0.01 0zM561.7 697.0a1.6 1.6 0 1 0 0.01 0zM562.1 696.9a1.6 1.6 0 1 0 0.01 0zM562.3 697.8a1.6 1.6 0 1 0 0.01 0zM562.3 697.6a1.6 1.6 0 1 0 0.01 0zM562.0 698.9a1.6 1.6 0 1 0 0.01 0zM562.7 698.9a1.6 1.6 0 1 0 0.01 0zM561.3 699.5a1.6 1.6 0 1 0 0.01 0zM563.9 698.6a1.6 1.6 0 1 0 0.01 0zM563.2 699.9a1.6 1.6 0 1 0 0.01 0zM564.4 699.4a1.6 1.6 0 1 0 0.01 0zM564.8 699.3a1.6 1.6 0 1 0 0.01 0zM565.2 700.1a1.6 1.6 0 1 0 0.01 0zM565.1 700.6a1.6 1.6 0 1 0 0.01 0zM565.7 700.1a1.6 1.6 0 1 0 0.01 0zM568.3 698.9a1.6 1.6 0 1 0 0.01 0zM568.5 699.3a1.6 1.6 0 1 0 0.01 0zM565.5 701.9a1.6 1.6 0 1 0 0.01 0zM566.8 701.9a1.6 1.6 0 1 0 0.01 0zM567.2 702.1a1.6 1.6 0 1 0 0.01 0zM566.1 703.3a1.6 1.6 0 1 0 0.01 0zM565.9 704.0a1.6 1.6 0 1 0 0.01 0zM567.1 703.5a1.6 1.6 0 1 0 0.01 0zM568.6 703.2a1.6 1.6 0 1 0 0.01 0zM564.6 706.6a1.6 1.6 0 1 0 0.01 0zM568.8 703.9a1.6 1.6 0 1 0 0.01 0zM566.7 705.8a1.6 1.6 0 1 0 0.01 0zM567.5 705.0a1.6 1.6 0 1 0 0.01 0zM566.6 706.2a1.6 1.6 0 1 0 0.01 0zM570.2 704.7a1.6 1.6 0 1 0 0.01 0zM569.7 705.6a1.6 1.6 0 1 0 0.01 0zM567.6 706.8a1.6 1.6 0 1 0 0.01 0zM569.0 706.8a1.6 1.6 0 1 0 0.01 0zM570.8 706.5a1.6 1.6 0 1 0 0.01 0zM570.8 707.1a1.6 1.6 0 1 0 0.01 0zM569.1 708.8a1.6 1.6 0 1 0 0.01 0zM570.4 707.6a1.6 1.6 0 1 0 0.01 0zM572.8 706.7a1.6 1.6 0 1 0 0.01 0zM571.2 708.4a1.6 1.6 0 1 0 0.01 0zM572.0 708.3a1.6 1.6 0 1 0 0.01 0zM570.4 710.0a1.6 1.6 0 1 0 0.01 0zM570.6 710.2a1.6 1.6 0 1 0 0.01 0zM571.8 709.8a1.6 1.6 0 1 0 0.01 0zM572.3 709.6a1.6 1.6 0 1 0 0.01 0zM571.7 710.6a1.6 1.6 0 1 0 0.01 0zM571.5 711.9a1.6 1.6 0 1 0 0.01 0zM572.3 711.2a1.6 1.6 0 1 0 0.01 0zM574.5 710.1a1.6 1.6 0 1 0 0.01 0zM572.0 712.4a1.6 1.6 0 1 0 0.01 0zM575.4 710.3a1.6 1.6 0 1 0 0.01 0zM572.4 713.3a1.6 1.6 0 1 0 0.01 0zM573.6 712.8a1.6 1.6 0 1 0 0.01 0zM572.4 714.4a1.6 1.6 0 1 0 0.01 0zM571.1 715.5a1.6 1.6 0 1 0 0.01 0zM573.3 714.6a1.6 1.6 0 1 0 0.01 0zM576.6 712.4a1.6 1.6 0 1 0 0.01 0zM576.7 713.4a1.6 1.6 0 1 0 0.01 0zM577.0 713.4a1.6 1.6 0 1 0 0.01 0zM576.9 714.3a1.6 1.6 0 1 0 0.01 0zM574.7 716.1a1.6 1.6 0 1 0 0.01 0zM576.5 715.5a1.6 1.6 0 1 0 0.01 0zM575.9 716.1a1.6 1.6 0 1 0 0.01 0zM577.0 715.9a1.6 1.6 0 1 0 0.01 0zM576.2 717.3a1.6 1.6 0 1 0 0.01 0zM575.9 717.7a1.6 1.6 0 1 0 0.01 0zM574.2 719.2a1.6 1.6 0 1 0 0.01 0zM576.0 718.4a1.6 1.6 0 1 0 0.01 0zM576.4 718.8a1.6 1.6 0 1 0 0.01 0zM577.6 718.9a1.6 1.6 0 1 0 0.01 0zM581.3 716.3a1.6 1.6 0 1 0 0.01 0zM578.8 718.3a1.6 1.6 0 1 0 0.01 0zM577.6 719.7a1.6 1.6 0 1 0 0.01 0zM578.8 719.5a1.6 1.6 0 1 0 0.01 0zM578.9 720.2a1.6 1.6 0 1 0 0.01 0zM577.5 721.5a1.6 1.6 0 1 0 0.01 0zM577.9 721.3a1.6 1.6 0 1 0 0.01 0zM578.5 722.0a1.6 1.6 0 1 0 0.01 0zM577.9 722.3a1.6 1.6 0 1 0 0.01 0zM578.3 722.6a1.6 1.6 0 1 0 0.01 0zM577.8 723.1a1.6 1.6 0 1 0 0.01 0zM581.5 721.9a1.6 1.6 0 1 0 0.01 0zM581.6 721.8a1.6 1.6 0 1 0 0.01 0zM579.9 723.8a1.6 1.6 0 1 0 0.01 0zM579.7 724.2a1.6 1.6 0 1 0 0.01 0zM579.9 724.5a1.6 1.6 0 1 0 0.01 0zM582.3 723.8a1.6 1.6 0 1 0 0.01 0zM581.9 724.8a1.6 1.6 0 1 0 0.01 0zM582.2 724.8a1.6 1.6 0 1 0 0.01 0zM580.2 726.4a1.6 1.6 0 1 0 0.01 0zM580.9 726.5a1.6 1.6 0 1 0 0.01 0zM580.4 727.4a1.6 1.6 0 1 0 0.01 0zM583.5 725.9a1.6 1.6 0 1 0 0.01 0zM583.2 726.6a1.6 1.6 0 1 0 0.01 0zM584.3 726.1a1.6 1.6 0 1 0 0.01 0zM583.9 726.9a1.6 1.6 0 1 0 0.01 0zM584.0 727.0a1.6 1.6 0 1 0 0.01 0zM581.6 729.7a1.6 1.6 0 1 0 0.01 0zM585.0 727.5a1.6 1.6 0 1 0 0.01 0zM586.7 727.4a1.6 1.6 0 1 0 0.01 0zM584.8 728.2a1.6 1.6 0 1 0 0.01 0zM586.0 728.7a1.6 1.6 0 1 0 0.01 0zM586.1 728.4a1.6 1.6 0 1 0 0.01 0zM585.6 729.2a1.6 1.6 0 1 0 0.01 0zM586.1 729.9a1.6 1.6 0 1 0 0.01 0zM586.0 729.8a1.6 1.6 0 1 0 0.01 0zM582.8 732.8a1.6 1.6 0 1 0 0.01 0zM585.1 731.1a1.6 1.6 0 1 0 0.01 0zM582.6 733.6a1.6 1.6 0 1 0 0.01 0zM586.1 732.0a1.6 1.6 0 1 0 0.01 0zM586.1 732.9a1.6 1.6 0 1 0 0.01 0zM584.3 733.9a1.6 1.6 0 1 0 0.01 0zM585.7 733.2a1.6 1.6 0 1 0 0.01 0zM586.6 733.6a1.6 1.6 0 1 0 0.01 0zM587.6 733.2a1.6 1.6 0 1 0 0.01 0zM590.1 732.4a1.6 1.6 0 1 0 0.01 0zM589.0 733.6a1.6 1.6 0 1 0 0.01 0zM589.4 733.4a1.6 1.6 0 1 0 0.01 0zM589.5 733.9a1.6 1.6 0 1 0 0.01 0zM588.7 735.3a1.6 1.6 0 1 0 0.01 0zM587.6 736.3a1.6 1.6 0 1 0 0.01 0zM588.9 736.0a1.6 1.6 0 1 0 0.01 0zM590.0 735.4a1.6 1.6 0 1 0 0.01 0zM589.5 736.3a1.6 1.6 0 1 0 0.01 0zM591.5 735.4a1.6 1.6 0 1 0 0.01 0zM590.5 737.1a1.6 1.6 0 1 0 0.01 0zM589.3 738.2a1.6 1.6 0 1 0 0.01 0zM588.8 739.2a1.6 1.6 0 1 0 0.01 0zM589.5 739.3a1.6 1.6 0 1 0 0.01 0zM591.2 738.2a1.6 1.6 0 1 0 0.01 0zM592.3 737.1a1.6 1.6 0 1 0 0.01 0zM589.4 740.8a1.6 1.6 0 1 0 0.01 0zM592.8 738.6a1.6 1.6 0 1 0 0.01 0zM592.0 739.4a1.6 1.6 0 1 0 0.01 0zM590.5 741.4a1.6 1.6 0 1 0 0.01 0zM592.3 740.8a1.6 1.6 0 1 0 0.01 0zM592.5 741.0a1.6 1.6 0 1 0 0.01 0zM594.7 738.6a1.6 1.6 0 1 0 0.01 0zM594.2 740.4a1.6 1.6 0 1 0 0.01 0zM595.5 739.7a1.6 1.6 0 1 0 0.01 0zM594.9 741.1a1.6 1.6 0 1 0 0.01 0zM594.3 742.6a1.6 1.6 0 1 0 0.01 0zM595.3 741.3a1.6 1.6 0 1 0 0.01 0zM594.6 742.7a1.6 1.6 0 1 0 0.01 0zM595.1 742.3a1.6 1.6 0 1 0 0.01 0zM592.8 745.9a1.6 1.6 0 1 0 0.01 0zM596.0 742.9a1.6 1.6 0 1 0 0.01 0zM596.9 742.6a1.6 1.6 0 1 0 0.01 0zM593.8 745.9a1.6 1.6 0 1 0 0.01 0zM597.7 743.0a1.6 1.6 0 1 0 0.01 0zM600.2 741.2a1.6 1.6 0 1 0 0.01 0zM598.0 743.4a1.6 1.6 0 1 0 0.01 0zM596.8 745.7a1.6 1.6 0 1 0 0.01 0zM597.3 745.5a1.6 1.6 0 1 0 0.01 0zM596.7 746.6a1.6 1.6 0 1 0 0.01 0zM599.3 744.6a1.6 1.6 0 1 0 0.01 0zM600.2 744.3a1.6 1.6 0 1 0 0.01 0zM598.6 747.0a1.6 1.6 0 1 0 0.01 0zM600.1 745.5a1.6 1.6 0 1 0 0.01 0zM598.6 747.9a1.6 1.6 0 1 0 0.01 0zM599.6 747.6a1.6 1.6 0 1 0 0.01 0zM601.8 745.4a1.6 1.6 0 1 0 0.01 0zM600.0 747.6a1.6 1.6 0 1 0 0.01 0zM600.5 748.5a1.6 1.6 0 1 0 0.01 0zM602.6 745.4a1.6 1.6 0 1 0 0.01 0zM601.6 747.9a1.6 1.6 0 1 0 0.01 0zM601.5 749.6a1.6 1.6 0 1 0 0.01 0zM603.1 747.2a1.6 1.6 0 1 0 0.01 0zM604.2 746.8a1.6 1.6 0 1 0 0.01 0zM602.6 750.1a1.6 1.6 0 1 0 0.01 0zM604.9 747.0a1.6 1.6 0 1 0 0.01 0zM603.7 749.6a1.6 1.6 0 1 0 0.01 0zM602.6 751.1a1.6 1.6 0 1 0 0.01 0zM604.4 750.1a1.6 1.6 0 1 0 0.01 0zM604.2 750.4a1.6 1.6 0 1 0 0.01 0zM602.9 752.8a1.6 1.6 0 1 0 0.01 0zM605.4 750.7a1.6 1.6 0 1 0 0.01 0zM605.5 750.4a1.6 1.6 0 1 0 0.01 0zM607.1 748.7a1.6 1.6 0 1 0 0.01 0zM606.5 750.7a1.6 1.6 0 1 0 0.01 0zM608.0 749.6a1.6 1.6 0 1 0 0.01 0zM605.8 752.9a1.6 1.6 0 1 0 0.01 0zM608.0 750.7a1.6 1.6 0 1 0 0.01 0zM608.0 751.5a1.6 1.6 0 1 0 0.01 0zM610.0 749.4a1.6 1.6 0 1 0 0.01 0zM608.9 752.0a1.6 1.6 0 1 0 0.01 0zM609.7 751.6a1.6 1.6 0 1 0 0.01 0zM607.4 755.1a1.6 1.6 0 1 0 0.01 0zM608.5 755.2a1.6 1.6 0 1 0 0.01 0zM609.8 752.7a1.6 1.6 0 1 0 0.01 0zM609.4 753.8a1.6 1.6 0 1 0 0.01 0zM609.1 755.4a1.6 1.6 0 1 0 0.01 0zM611.2 753.1a1.6 1.6 0 1 0 0.01 0zM611.3 753.4a1.6 1.6 0 1 0 0.01 0zM609.3 757.6a1.6 1.6 0 1 0 0.01 0zM611.6 755.2a1.6 1.6 0 1 0 0.01 0zM612.1 754.7a1.6 1.6 0 1 0 0.01 0zM612.5 755.4a1.6 1.6 0 1 0 0.01 0zM611.7 756.2a1.6 1.6 0 1 0 0.01 0zM613.2 755.1a1.6 1.6 0 1 0 0.01 0zM613.6 754.2a1.6 1.6 0 1 0 0.01 0zM613.1 757.5a1.6 1.6 0 1 0 0.01 0zM614.2 756.4a1.6 1.6 0 1 0 0.01 0zM614.4 755.0a1.6 1.6 0 1 0 0.01 0zM614.9 756.2a1.6 1.6 0 1 0 0.01 0zM615.3 756.8a1.6 1.6 0 1 0 0.01 0zM615.8 755.9a1.6 1.6 0 1 0 0.01 0zM615.9 757.2a1.6 1.6 0 1 0 0.01 0zM616.3 756.6a1.6 1.6 0 1 0 0.01 0zM617.3 756.3a1.6 1.6 0 1 0 0.01 0zM618.3 757.7a1.6 1.6 0 1 0 0.01 0zM616.9 754.0a1.6 1.6 0 1 0 0.01 0zM617.5 755.3a1.6 1.6 0 1 0 0.01 0zM620.3 758.2a1.6 1.6 0 1 0 0.01 0zM619.4 755.5a1.6 1.6 0 1 0 0.01 0zM619.4 755.3a1.6 1.6 0 1 0 0.01 0zM617.6 752.5a1.6 1.6 0 1 0 0.01 0zM619.3 753.4a1.6 1.6 0 1 0 0.01 0zM620.2 754.1a1.6 1.6 0 1 0 0.01 0zM617.8 750.9a1.6 1.6 0 1 0 0.01 0zM621.8 754.6a1.6 1.6 0 1 0 0.01 0zM621.6 754.3a1.6 1.6 0 1 0 0.01 0zM621.9 753.4a1.6 1.6 0 1 0 0.01 0zM620.5 751.9a1.6 1.6 0 1 0 0.01 0zM620.9 751.2a1.6 1.6 0 1 0 0.01 0zM623.0 753.1a1.6 1.6 0 1 0 0.01 0zM623.0 752.4a1.6 1.6 0 1 0 0.01 0zM623.8 752.3a1.6 1.6 0 1 0 0.01 0zM622.8 751.2a1.6 1.6 0 1 0 0.01 0zM622.1 750.3a1.6 1.6 0 1 0 0.01 0zM621.3 749.1a1.6 1.6 0 1 0 0.01 0zM622.9 749.8a1.6 1.6 0 1 0 0.01 0zM625.1 750.5a1.6 1.6 0 1 0 0.01 0zM622.3 748.4a1.6 1.6 0 1 0 0.01 0zM621.4 746.8a1.6 1.6 0 1 0 0.01 0zM623.7 747.9a1.6 1.6 0 1 0 0.01 0zM625.2 749.1a1.6 1.6 0 1 0 0.01 0zM623.4 746.7a1.6 1.6 0 1 0 0.01 0zM625.0 748.1a1.6 1.6 0 1 0 0.01 0zM625.1 747.3a1.6 1.6 0 1 0 0.01 0zM625.8 747.7a1.6 1.6 0 1 0 0.01 0zM625.1 746.3a1.6 1.6 0 1 0 0.01 0zM623.4 744.9a1.6 1.6 0 1 0 0.01 0zM627.8 747.2a1.6 1.6 0 1 0 0.01 0zM627.0 746.2a1.6 1.6 0 1 0 0.01 0zM626.2 745.2a1.6 1.6 0 1 0 0.01 0zM626.4 744.6a1.6 1.6 0 1 0 0.01 0zM627.6 745.3a1.6 1.6 0 1 0 0.01 0zM627.9 745.1a1.6 1.6 0 1 0 0.01 0zM627.2 743.9a1.6 1.6 0 1 0 0.01 0zM625.2 742.5a1.6 1.6 0 1 0 0.01 0zM628.8 744.6a1.6 1.6 0 1 0 0.01 0zM630.3 744.6a1.6 1.6 0 1 0 0.01 0zM629.4 743.2a1.6 1.6 0 1 0 0.01 0zM631.4 744.7a1.6 1.6 0 1 0 0.01 0zM628.4 741.4a1.6 1.6 0 1 0 0.01 0zM627.3 740.9a1.6 1.6 0 1 0 0.01 0zM630.8 742.5a1.6 1.6 0 1 0 0.01 0zM630.4 741.4a1.6 1.6 0 1 0 0.01 0zM631.1 741.8a1.6 1.6 0 1 0 0.01 0zM628.6 739.5a1.6 1.6 0 1 0 0.01 0zM630.0 740.2a1.6 1.6 0 1 0 0.01 0zM631.9 740.6a1.6 1.6 0 1 0 0.01 0zM630.4 739.7a1.6 1.6 0 1 0 0.01 0zM631.7 739.6a1.6 1.6 0 1 0 0.01 0zM629.1 737.3a1.6 1.6 0 1 0 0.01 0zM631.9 738.8a1.6 1.6 0 1 0 0.01 0zM633.6 739.4a1.6 1.6 0 1 0 0.01 0zM632.2 737.7a1.6 1.6 0 1 0 0.01 0zM632.2 737.3a1.6 1.6 0 1 0 0.01 0zM630.7 735.7a1.6 1.6 0 1 0 0.01 0zM633.3 737.7a1.6 1.6 0 1 0 0.01 0zM634.5 737.6a1.6 1.6 0 1 0 0.01 0zM631.2 733.4a1.6 1.6 0 1 0 0.01 0zM633.4 736.5a1.6 1.6 0 1 0 0.01 0zM633.9 735.5a1.6 1.6 0 1 0 0.01 0zM634.3 736.4a1.6 1.6 0 1 0 0.01 0zM634.3 736.5a1.6 1.6 0 1 0 0.01 0zM636.2 734.3a1.6 1.6 0 1 0 0.01 0zM636.8 735.5a1.6 1.6 0 1 0 0.01 0zM636.7 736.0a1.6 1.6 0 1 0 0.01 0zM636.6 736.9a1.6 1.6 0 1 0 0.01 0zM637.6 735.8a1.6 1.6 0 1 0 0.01 0zM635.0 739.0a1.6 1.6 0 1 0 0.01 0zM636.2 738.4a1.6 1.6 0 1 0 0.01 0zM636.1 739.5a1.6 1.6 0 1 0 0.01 0zM639.1 737.6a1.6 1.6 0 1 0 0.01 0zM638.1 738.9a1.6 1.6 0 1 0 0.01 0zM638.9 738.4a1.6 1.6 0 1 0 0.01 0zM637.7 739.5a1.6 1.6 0 1 0 0.01 0zM636.7 740.5a1.6 1.6 0 1 0 0.01 0zM638.1 740.6a1.6 1.6 0 1 0 0.01 0zM639.9 740.4a1.6 1.6 0 1 0 0.01 0zM639.5 740.7a1.6 1.6 0 1 0 0.01 0zM638.9 741.2a1.6 1.6 0 1 0 0.01 0zM636.0 743.4a1.6 1.6 0 1 0 0.01 0zM638.5 742.3a1.6 1.6 0 1 0 0.01 0zM638.3 742.9a1.6 1.6 0 1 0 0.01 0zM640.9 742.5a1.6 1.6 0 1 0 0.01 0zM641.7 742.3a1.6 1.6 0 1 0 0.01 0zM638.5 744.6a1.6 1.6 0 1 0 0.01 0zM639.4 744.0a1.6 1.6 0 1 0 0.01 0zM638.2 744.8a1.6 1.6 0 1 0 0.01 0zM641.1 744.2a1.6 1.6 0 1 0 0.01 0zM640.6 745.4a1.6 1.6 0 1 0 0.01 0zM640.3 745.4a1.6 1.6 0 1 0 0.01 0zM642.5 745.6a1.6 1.6 0 1 0 0.01 0zM639.4 746.7a1.6 1.6 0 1 0 0.01 0zM642.3 746.4a1.6 1.6 0 1 0 0.01 0zM642.2 746.9a1.6 1.6 0 1 0 0.01 0zM642.9 747.1a1.6 1.6 0 1 0 0.01 0zM641.2 747.9a1.6 1.6 0 1 0 0.01 0zM645.8 747.0a1.6 1.6 0 1 0 0.01 0zM641.0 748.5a1.6 1.6 0 1 0 0.01 0zM642.8 748.5a1.6 1.6 0 1 0 0.01 0zM640.7 749.8a1.6 1.6 0 1 0 0.01 0zM639.9 750.2a1.6 1.6 0 1 0 0.01 0zM640.1 750.3a1.6 1.6 0 1 0 0.01 0zM644.2 750.0a1.6 1.6 0 1 0 0.01 0zM641.7 750.8a1.6 1.6 0 1 0 0.01 0zM640.6 752.1a1.6 1.6 0 1 0 0.01 0zM641.6 751.8a1.6 1.6 0 1 0 0.01 0zM641.0 752.6a1.6 1.6 0 1 0 0.01 0zM640.4 752.9a1.6 1.6 0 1 0 0.01 0zM643.2 753.0a1.6 1.6 0 1 0 0.01 0zM645.3 752.2a1.6 1.6 0 1 0 0.01 0zM642.0 753.7a1.6 1.6 0 1 0 0.01 0zM639.4 754.9a1.6 1.6 0 1 0 0.01 0zM643.7 754.4a1.6 1.6 0 1 0 0.01 0zM642.9 754.5a1.6 1.6 0 1 0 0.01 0zM646.8 754.6a1.6 1.6 0 1 0 0.01 0zM645.3 755.3a1.6 1.6 0 1 0 0.01 0zM642.2 756.3a1.6 1.6 0 1 0 0.01 0zM642.8 756.2a1.6 1.6 0 1 0 0.01 0zM641.8 757.2a1.6 1.6 0 1 0 0.01 0zM645.9 756.4a1.6 1.6 0 1 0 0.01 0zM645.0 757.6a1.6 1.6 0 1 0 0.01 0zM645.1 757.7a1.6 1.6 0 1 0 0.01 0zM645.3 758.4a1.6 1.6 0 1 0 0.01 0zM644.6 759.1a1.6 1.6 0 1 0 0.01 0zM642.7 759.8a1.6 1.6 0 1 0 0.01 0zM645.3 759.6a1.6 1.6 0 1 0 0.01 0zM643.9 760.2a1.6 1.6 0 1 0 0.01 0zM645.5 759.8a1.6 1.6 0 1 0 0.01 0zM644.6 761.1a1.6 1.6 0 1 0 0.01 0zM644.2 761.3a1.6 1.6 0 1 0 0.01 0zM644.8 761.5a1.6 1.6 0 1 0 0.01 0zM647.1 761.0a1.6 1.6 0 1 0 0.01 0zM645.9 761.8a1.6 1.6 0 1 0 0.01 0zM643.5 763.2a1.6 1.6 0 1 0 0.01 0zM644.6 763.0a1.6 1.6 0 1 0 0.01 0zM649.0 762.8a1.6 1.6 0 1 0 0.01 0zM644.9 764.0a1.6 1.6 0 1 0 0.01 0zM646.1 763.7a1.6 1.6 0 1 0 0.01 0zM645.6 764.6a1.6 1.6 0 1 0 0.01 0zM648.1 764.3a1.6 1.6 0 1 0 0.01 0zM643.6 765.9a1.6 1.6 0 1 0 0.01 0zM644.6 766.3a1.6 1.6 0 1 0 0.01 0zM647.3 765.5a1.6 1.6 0 1 0 0.01 0zM649.1 765.8a1.6 1.6 0 1 0 0.01 0zM645.3 767.1a1.6 1.6 0 1 0 0.01 0zM648.5 766.8a1.6 1.6 0 1 0 0.01 0zM646.9 767.7a1.6 1.6 0 1 0 0.01 0zM645.1 768.2a1.6 1.6 0 1 0 0.01 0zM646.7 768.5a1.6 1.6 0 1 0 0.01 0zM647.8 768.7a1.6 1.6 0 1 0 0.01 0zM644.1 769.9a1.6 1.6 0 1 0 0.01 0zM647.0 769.4a1.6 1.6 0 1 0 0.01 0zM648.1 770.1a1.6 1.6 0 1 0 0.01 0zM644.3 771.1a1.6 1.6 0 1 0 0.01 0zM649.2 770.7a1.6 1.6 0 1 0 0.01 0zM645.7 771.5a1.6 1.6 0 1 0 0.01 0zM647.5 771.5a1.6 1.6 0 1 0 0.01 0zM646.7 771.7a1.6 1.6 0 1 0 0.01 0zM650.7 771.7a1.6 1.6 0 1 0 0.01 0zM647.6 772.9a1.6 1.6 0 1 0 0.01 0zM648.7 773.0a1.6 1.6 0 1 0 0.01 0zM648.7 773.4a1.6 1.6 0 1 0 0.01 0zM650.0 773.3a1.6 1.6 0 1 0 0.01 0zM645.1 774.7a1.6 1.6 0 1 0 0.01 0zM646.6 775.2a1.6 1.6 0 1 0 0.01 0zM644.6 775.8a1.6 1.6 0 1 0 0.01 0zM647.9 775.4a1.6 1.6 0 1 0 0.01 0z" stroke="#111" stroke-width="0.85" fill="none"/><path d="M432.3 801.0L432.7 800.7L433.1 800.4L433.6 800.0L434.2 799.5L434.9 799.1L435.6 798.5L436.3 798.0L437.0 797.4L437.6 796.9L438.3 796.3L438.9 795.7L439.6 795.1L440.3 794.5L440.9 793.9L441.6 793.3L442.3 792.6L443.0 791.9L443.6 791.2L444.3 790.5L445.0 789.7L445.7 788.9L446.3 788.0L447.0 787.2L447.7 786.3L448.4 785.3L449.0 784.4L449.7 783.4L450.4 782.4L451.0 781.4L451.7 780.3L452.4 779.2L453.0 778.1L453.7 776.9L454.4 775.7L455.1 774.5L455.8 773.3L456.4 772.1L457.1 770.8L457.7 769.6L458.3 768.3L458.9 767.0L459.5 765.7L460.1 764.4L460.6 763.1L461.2 761.7L461.7 760.4L462.2 759.0L462.7 757.7L463.2 756.3L463.7 755.0L464.2 753.7L464.6 752.4L465.0 751.1L465.4 749.7L465.8 748.4L466.2 747.1L466.5 745.8L466.9 744.4L467.3 743.1L467.7 741.7L468.1 740.3L468.5 738.8L468.9 737.3L469.4 735.7L469.8 734.2L470.2 732.7L470.6 731.2L471.0 729.7L471.3 728.3L471.7 727.0L472.0 725.8L472.3 724.6L472.6 723.4L472.9 722.3L473.2 721.3L473.5 720.2L473.7 719.2L474.0 718.1L474.2 717.1L474.5 716.0L474.7 714.9L474.9 713.9L475.1 712.9L475.3 712.0L475.5 711.0L475.7 710.0L475.9 708.9L476.2 707.7L476.5 706.4L476.8 705.0L477.2 703.4L477.7 701.7L478.1 699.8L478.7 697.9L479.2 695.9L479.8 693.9L480.3 691.9L480.9 689.9L481.4 688.0L481.9 686.3L482.4 684.7L482.8 683.1L483.3 681.6L483.7 680.1L484.1 678.6L484.6 677.2L485.0 675.8L485.4 674.5L485.9 673.1L486.3 671.7L486.7 670.3L487.2 668.9L487.6 667.6L488.1 666.2L488.5 664.9L488.9 663.6L489.4 662.3L489.8 661.0L490.3 659.8L490.7 658.6L491.1 657.4L491.6 656.3L492.0 655.2L492.4 654.2L492.8 653.1L493.3 652.1L493.7 651.2L494.1 650.2L494.6 649.3L495.0 648.4L495.4 647.5L495.9 646.7L496.3 645.9L496.8 645.1L497.2 644.4L497.6 643.7L498.1 643.0L498.5 642.3L499.0 641.7L499.4 641.1L499.8 640.5L500.3 640.0L500.7 639.5L501.1 639.1L501.5 638.7L501.9 638.3L502.4 637.9L502.8 637.6L503.3 637.3L503.8 637.0L504.3 636.8L504.9 636.6L505.4 636.4L506.0 636.3L506.6 636.2L507.2 636.1L507.8 636.0L508.4 636.0L509.0 636.0L509.6 636.0L510.2 636.0L510.8 636.1L511.4 636.2L512.0 636.3L512.5 636.4L513.1 636.6L513.7 636.7L514.3 636.9L514.9 637.2L515.5 637.4L516.1 637.7L516.7 638.0L517.2 638.3L517.8 638.6L518.4 639.0L519.0 639.4L519.6 639.8L520.1 640.2L520.7 640.7L521.3 641.1L521.9 641.5L522.5 642.0L523.1 642.5L523.7 643.0L524.2 643.5L524.8 644.0L525.4 644.5L526.0 645.1L526.6 645.6L527.2 646.2L527.8 646.8L528.3 647.4L528.9 648.0L529.5 648.6L530.0 649.2L530.6 649.9L531.2 650.5L531.7 651.2L532.4 652.0L533.0 652.7L533.7 653.5L534.4 654.3L535.1 655.1L535.8 655.9L536.6 656.8L537.3 657.7L538.1 658.6L538.8 659.5L539.6 660.5L540.3 661.5L541.0 662.6L541.8 663.7L542.5 664.8L543.2 666.0L543.9 667.2L544.7 668.4L545.4 669.6L546.1 670.8L546.9 672.0L547.6 673.2L548.3 674.3L549.1 675.5L549.8 676.6L550.6 677.8L551.3 678.9L552.0 680.0L552.8 681.1L553.5 682.2L554.3 683.3L555.0 684.4L555.7 685.5L556.5 686.5L557.2 687.5L557.9 688.6L558.7 689.6L559.4 690.6L560.1 691.6L560.8 692.6L561.6 693.6L562.3 694.6L563.0 695.6L563.8 696.6L564.5 697.7L565.2 698.7L565.9 699.7L566.7 700.7L567.4 701.7L568.1 702.8L568.9 703.8L569.6 704.8L570.3 705.8L571.1 706.8L571.8 707.8L572.5 708.8L573.2 709.8L574.0 710.8L574.7 711.8L575.4 712.9L576.2 713.9L576.9 715.0L577.6 716.1L578.4 717.3L579.1 718.4L579.8 719.6L580.5 720.9L581.3 722.1L582.0 723.3L582.7 724.4L583.5 725.6L584.2 726.7L584.9 727.8L585.7 728.9L586.4 730.0L587.1 731.0L587.9 732.1L588.6 733.1L589.3 734.1L590.0 735.1L590.8 736.0L591.5 736.9L592.2 737.8L593.0 738.6L593.7 739.3L594.4 740.1L595.1 740.8L595.9 741.5L596.6 742.2L597.3 742.9L598.1 743.5L598.8 744.2L599.5 744.9L600.3 745.5L601.0 746.1L601.7 746.7L602.4 747.3L603.2 747.9L603.9 748.4L604.6 749.0L605.4 749.5L606.1 750.1L606.8 750.7L607.6 751.2L608.4 751.8L609.2 752.4L609.9 753.0L610.7 753.5L611.4 754.0L612.1 754.5L612.8 754.9L613.4 755.2L614.0 755.5L614.5 755.7L614.9 755.8L615.4 756.0L615.8 756.1L616.2 756.1L616.6 756.1L617.0 756.1L617.4 756.0L617.8 755.9L618.2 755.8L618.7 755.6L619.1 755.4L619.5 755.2L619.9 754.9L620.3 754.6L620.8 754.3L621.2 753.9L621.7 753.5L622.2 753.0L622.7 752.5L623.3 751.8L623.8 751.2L624.4 750.4L625.0 749.7L625.6 748.9L626.2 748.1L626.8 747.3L627.4 746.5L628.0 745.7L628.6 744.9L629.2 744.0L629.9 743.1L630.5 742.2L631.1 741.3L631.7 740.5L632.3 739.6L632.9 738.9L633.4 738.2L633.8 737.7L634.2 737.3L634.4 736.9L634.7 736.6L634.9 736.4L635.0 736.2L635.2 736.1L635.3 736.1L635.5 736.1L635.7 736.1L636.0 736.2L636.3 736.3L636.6 736.5L637.0 736.7L637.3 736.9L637.7 737.2L638.1 737.6L638.5 738.0L638.9 738.6L639.3 739.2L639.7 739.9L640.1 740.7L640.5 741.7L641.0 742.7L641.4 743.9L641.9 745.1L642.3 746.4L642.8 747.7L643.2 749.0L643.7 750.2L644.1 751.5L644.5 752.8L645.0 754.2L645.5 755.6L645.9 757.1L646.4 758.6L646.8 760.0L647.3 761.3L647.7 762.6L648.1 763.7L648.4 764.7L648.7 765.5L649.0 766.2L649.3 766.8L649.5 767.3L649.8 767.7L650.0 768.0L650.2 768.3L650.3 768.6L650.5 768.8L650.6 769.0" stroke="#e31414" stroke-width="2.00" fill="none" stroke-linejoin="round"/><path d="M432.2 806.0L432.7 806.0L433.2 806.0L433.7 805.9L434.2 805.9L434.7 805.8L435.2 805.8L435.7 805.7L436.2 805.6L436.7 805.6L437.2 805.5L437.7 805.4L438.2 805.4L438.7 805.3L439.2 805.2L439.7 805.1L440.2 805.0L440.7 804.9L441.2 804.7L441.7 804.6L442.2 804.5L442.7 804.3L443.2 804.2L443.7 804.0L444.2 803.8L444.7 803.7L445.2 803.5L445.7 803.3L446.2 803.1L446.7 802.9L447.2 802.6L447.7 802.4L448.2 802.1L448.7 801.8L449.2 801.6L449.7 801.3L450.2 801.0L450.7 800.6L451.2 800.3L451.7 799.9L452.2 799.6L452.7 799.2L453.2 798.8L453.7 798.4L454.2 797.9L454.7 797.5L455.2 797.0L455.7 796.5L456.2 796.0L456.7 795.5L457.2 795.0L457.7 794.4L458.2 793.8L458.7 793.2L459.2 792.6L459.7 792.0L460.2 791.4L460.7 790.7L461.2 790.0L461.7 789.3L462.2 788.6L462.7 787.9L463.2 787.1L463.7 786.3L464.2 785.6L464.7 784.8L465.2 783.9L465.7 783.1L466.2 782.3L466.7 781.4L467.2 780.5L467.7 779.7L468.2 778.8L468.7 777.9L469.2 777.0L469.7 776.1L470.2 775.1L470.7 774.2L471.2 773.3L471.7 772.3L472.2 771.4L472.7 770.5L473.2 769.5L473.7 768.6L474.2 767.7L474.7 766.7L475.2 765.8L475.7 764.9L476.2 764.0L476.7 763.1L477.2 762.2L477.7 761.3L478.2 760.5L478.7 759.6L479.2 758.8L479.7 758.0L480.2 757.2L480.7 756.5L481.2 755.7L481.7 755.0L482.2 754.3L482.7 753.7L483.2 753.1L483.7 752.5L484.2 751.9L484.7 751.3L485.2 750.8L485.7 750.4L486.2 749.9L486.7 749.5L487.2 749.2L487.7 748.9L488.2 748.6L488.7 748.3L489.2 748.1L489.7 748.0L490.2 747.8L490.7 747.8L491.2 747.7L491.7 747.7L492.2 747.7L492.7 747.8L493.2 747.9L493.7 748.1L494.2 748.3L494.7 748.5L495.2 748.8L495.7 749.1L496.2 749.5L496.7 749.9L497.2 750.3L497.7 750.7L498.2 751.2L498.7 751.8L499.2 752.3L499.7 752.9L500.2 753.6L500.7 754.2L501.2 754.9L501.7 755.6L502.2 756.3L502.7 757.1L503.2 757.9L503.7 758.7L504.2 759.5L504.7 760.3L505.2 761.2L505.7 762.0L506.2 762.9L506.7 763.8L507.2 764.7L507.7 765.6L508.2 766.5L508.7 767.5L509.2 768.4L509.7 769.3L510.2 770.3L510.7 771.2L511.2 772.1L511.7 773.1L512.2 774.0L512.7 774.9L513.2 775.9L513.7 776.8L514.2 777.7L514.7 778.6L515.2 779.5L515.7 780.4L516.2 781.2L516.7 782.1L517.2 782.9L517.7 783.8L518.2 784.6L518.7 785.4L519.2 786.2L519.7 787.0L520.2 787.7L520.7 788.4L521.2 789.2L521.7 789.9L522.2 790.6L522.7 791.2L523.2 791.9L523.7 792.5L524.2 793.1L524.7 793.7L525.2 794.3L525.7 794.9L526.2 795.4L526.7 795.9L527.2 796.4L527.7 796.9L528.2 797.4L528.7 797.9L529.2 798.3L529.7 798.7L530.2 799.1L530.7 799.5L531.2 799.9L531.7 800.2L532.2 800.6L532.7 800.9L533.2 801.2L533.7 801.5L534.2 801.8L534.7 802.1L535.2 802.3L535.7 802.6L536.2 802.8L536.7 803.0L537.2 803.2L537.7 803.4L538.2 803.6L538.7 803.8L539.2 804.0L539.7 804.1L540.2 804.3L540.7 804.4L541.2 804.6L541.7 804.7L542.2 804.8L542.7 804.9L543.2 805.0L543.7 805.1L544.2 805.2L544.7 805.3L545.2 805.4L545.7 805.5L546.2 805.6L546.7 805.6L547.2 805.7L547.7 805.8L548.2 805.8L548.7 805.9L549.2 805.9L549.7 806.0L550.2 806.0L550.7 806.0L551.2 806.1L551.7 806.1L552.2 806.1L552.7 806.2L553.2 806.2L553.7 806.2L554.2 806.2L554.7 806.3L555.2 806.3L555.7 806.3L556.2 806.3L556.7 806.3L557.2 806.4L557.7 806.4L558.2 806.4L558.7 806.4L559.2 806.4L559.7 806.4L560.2 806.4L560.7 806.4L561.2 806.4L561.7 806.4L562.2 806.4L562.7 806.4L563.2 806.5L563.7 806.5L564.2 806.5L564.7 806.5L565.2 806.5L565.7 806.5L566.2 806.5L566.7 806.5L567.2 806.5L567.7 806.5L568.2 806.5L568.7 806.5L569.2 806.5L569.7 806.5L570.2 806.5L570.7 806.5L571.2 806.5L571.7 806.5L572.2 806.5L572.7 806.5L573.2 806.5L573.7 806.5L574.2 806.5L574.7 806.5L575.2 806.5L575.7 806.5L576.2 806.5L576.7 806.5L577.2 806.5L577.7 806.5L578.2 806.5L578.7 806.5L579.2 806.5L579.7 806.5L580.2 806.5L580.7 806.5L581.2 806.5L581.7 806.5L582.2 806.5L582.7 806.5L583.2 806.5L583.7 806.5L584.2 806.5L584.7 806.5L585.2 806.5L585.7 806.5L586.2 806.5L586.7 806.5L587.2 806.5L587.7 806.5L588.2 806.5L588.7 806.5L589.2 806.5L589.7 806.5L590.2 806.5L590.7 806.5L591.2 806.5L591.7 806.5L592.2 806.5L592.7 806.5L593.2 806.5L593.7 806.5L594.2 806.5L594.7 806.5L595.2 806.5L595.7 806.5L596.2 806.5L596.7 806.5L597.2 806.5L597.7 806.5L598.2 806.5L598.7 806.5L599.2 806.5L599.7 806.5L600.2 806.5L600.7 806.5L601.2 806.5L601.7 806.5L602.2 806.5L602.7 806.5L603.2 806.5L603.7 806.5L604.2 806.5L604.7 806.5L605.2 806.5L605.7 806.5L606.2 806.5L606.7 806.5L607.2 806.5L607.7 806.5L608.2 806.5L608.7 806.5L609.2 806.5L609.7 806.5L610.2 806.5L610.7 806.5L611.2 806.5L611.7 806.5L612.2 806.5L612.7 806.5L613.2 806.5L613.7 806.5L614.2 806.5L614.7 806.5L615.2 806.5L615.7 806.5L616.2 806.5L616.7 806.5L617.2 806.5L617.7 806.5L618.2 806.5L618.7 806.5L619.2 806.5L619.7 806.5L620.2 806.5L620.7 806.5L621.2 806.5L621.7 806.5L622.2 806.5L622.7 806.5L623.2 806.5L623.7 806.5L624.2 806.5L624.7 806.5L625.2 806.5L625.7 806.5L626.2 806.5L626.7 806.5L627.2 806.5L627.7 806.5L628.2 806.5L628.7 806.5L629.2 806.5L629.7 806.5L630.2 806.5L630.7 806.5L631.2 806.5L631.7 806.5L632.2 806.5L632.7 806.5L633.2 806.5L633.7 806.5L634.2 806.5L634.7 806.5L635.2 806.5L635.7 806.5L636.2 806.5L636.7 806.5L637.2 806.5L637.7 806.5L638.2 806.5L638.7 806.5L639.2 806.5L639.7 806.5L640.2 806.5L640.7 806.5L641.2 806.5L641.7 806.5L642.2 806.5L642.7 806.5L643.2 806.5L643.7 806.5L644.2 806.5L644.7 806.5L645.2 806.5L645.7 806.5L646.2 806.5L646.7 806.5L647.2 806.5L647.7 806.5L648.2 806.5L648.7 806.5L649.2 806.5L649.7 806.5" stroke="#2fdc2f" stroke-width="1.90" fill="none" stroke-linejoin="round"/><path d="M432.2 804.5L432.7 804.4L433.2 804.4L433.7 804.3L434.2 804.2L434.7 804.1L435.2 804.0L435.7 803.9L436.2 803.8L436.7 803.7L437.2 803.6L437.7 803.5L438.2 803.4L438.7 803.2L439.2 803.1L439.7 803.0L440.2 802.9L440.7 802.7L441.2 802.6L441.7 802.5L442.2 802.3L442.7 802.2L443.2 802.0L443.7 801.9L444.2 801.7L444.7 801.5L445.2 801.4L445.7 801.2L446.2 801.0L446.7 800.9L447.2 800.7L447.7 800.5L448.2 800.3L448.7 800.1L449.2 799.9L449.7 799.7L450.2 799.5L450.7 799.3L451.2 799.1L451.7 798.9L452.2 798.7L452.7 798.4L453.2 798.2L453.7 798.0L454.2 797.7L454.7 797.5L455.2 797.3L455.7 797.0L456.2 796.8L456.7 796.5L457.2 796.2L457.7 796.0L458.2 795.7L458.7 795.4L459.2 795.2L459.7 794.9L460.2 794.6L460.7 794.3L461.2 794.0L461.7 793.7L462.2 793.5L462.7 793.2L463.2 792.9L463.7 792.6L464.2 792.3L464.7 792.0L465.2 791.7L465.7 791.3L466.2 791.0L466.7 790.7L467.2 790.4L467.7 790.1L468.2 789.8L468.7 789.5L469.2 789.1L469.7 788.8L470.2 788.5L470.7 788.2L471.2 787.9L471.7 787.6L472.2 787.2L472.7 786.9L473.2 786.6L473.7 786.3L474.2 786.0L474.7 785.7L475.2 785.3L475.7 785.0L476.2 784.7L476.7 784.4L477.2 784.1L477.7 783.8L478.2 783.5L478.7 783.2L479.2 782.9L479.7 782.6L480.2 782.3L480.7 782.1L481.2 781.8L481.7 781.5L482.2 781.2L482.7 781.0L483.2 780.7L483.7 780.5L484.2 780.2L484.7 780.0L485.2 779.7L485.7 779.5L486.2 779.3L486.7 779.0L487.2 778.8L487.7 778.6L488.2 778.4L488.7 778.2L489.2 778.0L489.7 777.9L490.2 777.7L490.7 777.5L491.2 777.4L491.7 777.2L492.2 777.1L492.7 777.0L493.2 776.8L493.7 776.7L494.2 776.6L494.7 776.5L495.2 776.4L495.7 776.3L496.2 776.3L496.7 776.2L497.2 776.1L497.7 776.1L498.2 776.1L498.7 776.0L499.2 776.0L499.7 776.0L500.2 776.0L500.7 776.0L501.2 776.0L501.7 776.1L502.2 776.1L502.7 776.1L503.2 776.2L503.7 776.2L504.2 776.3L504.7 776.4L505.2 776.5L505.7 776.6L506.2 776.7L506.7 776.8L507.2 776.9L507.7 777.1L508.2 777.2L508.7 777.3L509.2 777.5L509.7 777.7L510.2 777.8L510.7 778.0L511.2 778.2L511.7 778.4L512.2 778.6L512.7 778.8L513.2 779.0L513.7 779.2L514.2 779.4L514.7 779.7L515.2 779.9L515.7 780.2L516.2 780.4L516.7 780.7L517.2 780.9L517.7 781.2L518.2 781.5L518.7 781.7L519.2 782.0L519.7 782.3L520.2 782.6L520.7 782.9L521.2 783.2L521.7 783.4L522.2 783.7L522.7 784.0L523.2 784.4L523.7 784.7L524.2 785.0L524.7 785.3L525.2 785.6L525.7 785.9L526.2 786.2L526.7 786.5L527.2 786.9L527.7 787.2L528.2 787.5L528.7 787.8L529.2 788.1L529.7 788.4L530.2 788.8L530.7 789.1L531.2 789.4L531.7 789.7L532.2 790.0L532.7 790.3L533.2 790.7L533.7 791.0L534.2 791.3L534.7 791.6L535.2 791.9L535.7 792.2L536.2 792.5L536.7 792.8L537.2 793.1L537.7 793.4L538.2 793.7L538.7 794.0L539.2 794.3L539.7 794.6L540.2 794.8L540.7 795.1L541.2 795.4L541.7 795.7L542.2 795.9L542.7 796.2L543.2 796.4L543.7 796.7L544.2 797.0L544.7 797.2L545.2 797.4L545.7 797.7L546.2 797.9L546.7 798.2L547.2 798.4L547.7 798.6L548.2 798.8L548.7 799.1L549.2 799.3L549.7 799.5L550.2 799.7L550.7 799.9L551.2 800.1L551.7 800.3L552.2 800.5L552.7 800.6L553.2 800.8L553.7 801.0L554.2 801.2L554.7 801.4L555.2 801.5L555.7 801.7L556.2 801.8L556.7 802.0L557.2 802.1L557.7 802.3L558.2 802.4L558.7 802.6L559.2 802.7L559.7 802.8L560.2 803.0L560.7 803.1L561.2 803.2L561.7 803.3L562.2 803.4L562.7 803.6L563.2 803.7L563.7 803.8L564.2 803.9L564.7 804.0L565.2 804.1L565.7 804.2L566.2 804.2L566.7 804.3L567.2 804.4L567.7 804.5L568.2 804.6L568.7 804.7L569.2 804.7L569.7 804.8L570.2 804.9L570.7 804.9L571.2 805.0L571.7 805.1L572.2 805.1L572.7 805.2L573.2 805.2L573.7 805.3L574.2 805.3L574.7 805.4L575.2 805.4L575.7 805.5L576.2 805.5L576.7 805.6L577.2 805.6L577.7 805.7L578.2 805.7L578.7 805.7L579.2 805.8L579.7 805.8L580.2 805.8L580.7 805.9L581.2 805.9L581.7 805.9L582.2 806.0L582.7 806.0L583.2 806.0L583.7 806.0L584.2 806.0L584.7 806.1L585.2 806.1L585.7 806.1L586.2 806.1L586.7 806.2L587.2 806.2L587.7 806.2L588.2 806.2L588.7 806.2L589.2 806.2L589.7 806.2L590.2 806.3L590.7 806.3L591.2 806.3L591.7 806.3L592.2 806.3L592.7 806.3L593.2 806.3L593.7 806.3L594.2 806.3L594.7 806.4L595.2 806.4L595.7 806.4L596.2 806.4L596.7 806.4L597.2 806.4L597.7 806.4L598.2 806.4L598.7 806.4L599.2 806.4L599.7 806.4L600.2 806.4L600.7 806.4L601.2 806.4L601.7 806.4L602.2 806.4L602.7 806.4L603.2 806.4L603.7 806.4L604.2 806.5L604.7 806.5L605.2 806.5L605.7 806.5L606.2 806.5L606.7 806.5L607.2 806.5L607.7 806.5L608.2 806.5L608.7 806.5L609.2 806.5L609.7 806.5L610.2 806.5L610.7 806.5L611.2 806.5L611.7 806.5L612.2 806.5L612.7 806.5L613.2 806.5L613.7 806.5L614.2 806.5L614.7 806.5L615.2 806.5L615.7 806.5L616.2 806.5L616.7 806.5L617.2 806.5L617.7 806.5L618.2 806.5L618.7 806.5L619.2 806.5L619.7 806.5L620.2 806.5L620.7 806.5L621.2 806.5L621.7 806.5L622.2 806.5L622.7 806.5L623.2 806.5L623.7 806.5L624.2 806.5L624.7 806.5L625.2 806.5L625.7 806.5L626.2 806.5L626.7 806.5L627.2 806.5L627.7 806.5L628.2 806.5L628.7 806.5L629.2 806.5L629.7 806.5L630.2 806.5L630.7 806.5L631.2 806.5L631.7 806.5L632.2 806.5L632.7 806.5L633.2 806.5L633.7 806.5L634.2 806.5L634.7 806.5L635.2 806.5L635.7 806.5L636.2 806.5L636.7 806.5L637.2 806.5L637.7 806.5L638.2 806.5L638.7 806.5L639.2 806.5L639.7 806.5L640.2 806.5L640.7 806.5L641.2 806.5L641.7 806.5L642.2 806.5L642.7 806.5L643.2 806.5L643.7 806.5L644.2 806.5L644.7 806.5L645.2 806.5L645.7 806.5L646.2 806.5L646.7 806.5L647.2 806.5L647.7 806.5L648.2 806.5L648.7 806.5L649.2 806.5L649.7 806.5" stroke="#2222cc" stroke-width="1.90" fill="none" stroke-linejoin="round"/><path d="M432.2 805.7L432.7 805.7L433.2 805.6L433.7 805.6L434.2 805.5L434.7 805.5L435.2 805.4L435.7 805.4L436.2 805.3L436.7 805.3L437.2 805.2L437.7 805.2L438.2 805.1L438.7 805.0L439.2 805.0L439.7 804.9L440.2 804.8L440.7 804.7L441.2 804.7L441.7 804.6L442.2 804.5L442.7 804.4L443.2 804.3L443.7 804.2L444.2 804.1L444.7 804.0L445.2 803.9L445.7 803.8L446.2 803.7L446.7 803.6L447.2 803.5L447.7 803.3L448.2 803.2L448.7 803.1L449.2 802.9L449.7 802.8L450.2 802.6L450.7 802.5L451.2 802.3L451.7 802.2L452.2 802.0L452.7 801.8L453.2 801.6L453.7 801.5L454.2 801.3L454.7 801.1L455.2 800.9L455.7 800.7L456.2 800.5L456.7 800.2L457.2 800.0L457.7 799.8L458.2 799.5L458.7 799.3L459.2 799.0L459.7 798.8L460.2 798.5L460.7 798.2L461.2 798.0L461.7 797.7L462.2 797.4L462.7 797.1L463.2 796.8L463.7 796.4L464.2 796.1L464.7 795.8L465.2 795.4L465.7 795.1L466.2 794.7L466.7 794.4L467.2 794.0L467.7 793.6L468.2 793.2L468.7 792.8L469.2 792.4L469.7 792.0L470.2 791.6L470.7 791.1L471.2 790.7L471.7 790.3L472.2 789.8L472.7 789.3L473.2 788.9L473.7 788.4L474.2 787.9L474.7 787.4L475.2 786.9L475.7 786.4L476.2 785.9L476.7 785.3L477.2 784.8L477.7 784.2L478.2 783.7L478.7 783.1L479.2 782.6L479.7 782.0L480.2 781.4L480.7 780.8L481.2 780.2L481.7 779.6L482.2 779.0L482.7 778.4L483.2 777.7L483.7 777.1L484.2 776.5L484.7 775.8L485.2 775.2L485.7 774.5L486.2 773.9L486.7 773.2L487.2 772.5L487.7 771.9L488.2 771.2L488.7 770.5L489.2 769.8L489.7 769.1L490.2 768.4L490.7 767.7L491.2 767.0L491.7 766.3L492.2 765.6L492.7 764.9L493.2 764.2L493.7 763.5L494.2 762.8L494.7 762.1L495.2 761.4L495.7 760.7L496.2 760.0L496.7 759.3L497.2 758.6L497.7 757.9L498.2 757.2L498.7 756.5L499.2 755.8L499.7 755.2L500.2 754.5L500.7 753.8L501.2 753.1L501.7 752.5L502.2 751.8L502.7 751.2L503.2 750.5L503.7 749.9L504.2 749.3L504.7 748.6L505.2 748.0L505.7 747.4L506.2 746.8L506.7 746.2L507.2 745.7L507.7 745.1L508.2 744.6L508.7 744.0L509.2 743.5L509.7 743.0L510.2 742.5L510.7 742.0L511.2 741.5L511.7 741.0L512.2 740.6L512.7 740.1L513.2 739.7L513.7 739.3L514.2 738.9L514.7 738.5L515.2 738.2L515.7 737.8L516.2 737.5L516.7 737.2L517.2 736.9L517.7 736.6L518.2 736.3L518.7 736.1L519.2 735.8L519.7 735.6L520.2 735.4L520.7 735.3L521.2 735.1L521.7 735.0L522.2 734.8L522.7 734.7L523.2 734.6L523.7 734.6L524.2 734.5L524.7 734.5L525.2 734.5L525.7 734.5L526.2 734.5L526.7 734.6L527.2 734.6L527.7 734.7L528.2 734.8L528.7 735.0L529.2 735.1L529.7 735.3L530.2 735.4L530.7 735.6L531.2 735.8L531.7 736.1L532.2 736.3L532.7 736.6L533.2 736.9L533.7 737.2L534.2 737.5L534.7 737.8L535.2 738.2L535.7 738.5L536.2 738.9L536.7 739.3L537.2 739.7L537.7 740.1L538.2 740.6L538.7 741.0L539.2 741.5L539.7 742.0L540.2 742.5L540.7 743.0L541.2 743.5L541.7 744.0L542.2 744.6L542.7 745.1L543.2 745.7L543.7 746.2L544.2 746.8L544.7 747.4L545.2 748.0L545.7 748.6L546.2 749.3L546.7 749.9L547.2 750.5L547.7 751.2L548.2 751.8L548.7 752.5L549.2 753.1L549.7 753.8L550.2 754.5L550.7 755.2L551.2 755.8L551.7 756.5L552.2 757.2L552.7 757.9L553.2 758.6L553.7 759.3L554.2 760.0L554.7 760.7L555.2 761.4L555.7 762.1L556.2 762.8L556.7 763.5L557.2 764.2L557.7 764.9L558.2 765.6L558.7 766.3L559.2 767.0L559.7 767.7L560.2 768.4L560.7 769.1L561.2 769.8L561.7 770.5L562.2 771.2L562.7 771.9L563.2 772.5L563.7 773.2L564.2 773.9L564.7 774.5L565.2 775.2L565.7 775.8L566.2 776.5L566.7 777.1L567.2 777.7L567.7 778.4L568.2 779.0L568.7 779.6L569.2 780.2L569.7 780.8L570.2 781.4L570.7 782.0L571.2 782.6L571.7 783.1L572.2 783.7L572.7 784.2L573.2 784.8L573.7 785.3L574.2 785.9L574.7 786.4L575.2 786.9L575.7 787.4L576.2 787.9L576.7 788.4L577.2 788.9L577.7 789.3L578.2 789.8L578.7 790.3L579.2 790.7L579.7 791.1L580.2 791.6L580.7 792.0L581.2 792.4L581.7 792.8L582.2 793.2L582.7 793.6L583.2 794.0L583.7 794.4L584.2 794.7L584.7 795.1L585.2 795.4L585.7 795.8L586.2 796.1L586.7 796.4L587.2 796.8L587.7 797.1L588.2 797.4L588.7 797.7L589.2 798.0L589.7 798.2L590.2 798.5L590.7 798.8L591.2 799.0L591.7 799.3L592.2 799.5L592.7 799.8L593.2 800.0L593.7 800.2L594.2 800.5L594.7 800.7L595.2 800.9L595.7 801.1L596.2 801.3L596.7 801.5L597.2 801.6L597.7 801.8L598.2 802.0L598.7 802.2L599.2 802.3L599.7 802.5L600.2 802.6L600.7 802.8L601.2 802.9L601.7 803.1L602.2 803.2L602.7 803.3L603.2 803.5L603.7 803.6L604.2 803.7L604.7 803.8L605.2 803.9L605.7 804.0L606.2 804.1L606.7 804.2L607.2 804.3L607.7 804.4L608.2 804.5L608.7 804.6L609.2 804.7L609.7 804.7L610.2 804.8L610.7 804.9L611.2 805.0L611.7 805.0L612.2 805.1L612.7 805.2L613.2 805.2L613.7 805.3L614.2 805.3L614.7 805.4L615.2 805.4L615.7 805.5L616.2 805.5L616.7 805.6L617.2 805.6L617.7 805.7L618.2 805.7L618.7 805.7L619.2 805.8L619.7 805.8L620.2 805.8L620.7 805.9L621.2 805.9L621.7 805.9L622.2 806.0L622.7 806.0L623.2 806.0L623.7 806.0L624.2 806.1L624.7 806.1L625.2 806.1L625.7 806.1L626.2 806.1L626.7 806.2L627.2 806.2L627.7 806.2L628.2 806.2L628.7 806.2L629.2 806.2L629.7 806.3L630.2 806.3L630.7 806.3L631.2 806.3L631.7 806.3L632.2 806.3L632.7 806.3L633.2 806.3L633.7 806.3L634.2 806.4L634.7 806.4L635.2 806.4L635.7 806.4L636.2 806.4L636.7 806.4L637.2 806.4L637.7 806.4L638.2 806.4L638.7 806.4L639.2 806.4L639.7 806.4L640.2 806.4L640.7 806.4L641.2 806.4L641.7 806.4L642.2 806.4L642.7 806.4L643.2 806.4L643.7 806.5L644.2 806.5L644.7 806.5L645.2 806.5L645.7 806.5L646.2 806.5L646.7 806.5L647.2 806.5L647.7 806.5L648.2 806.5L648.7 806.5L649.2 806.5L649.7 806.5" stroke="#e030e0" stroke-width="1.90" fill="none" stroke-linejoin="round"/><path d="M432.2 804.2L432.7 804.2L433.2 804.1L433.7 804.0L434.2 804.0L434.7 803.9L435.2 803.8L435.7 803.8L436.2 803.7L436.7 803.6L437.2 803.6L437.7 803.5L438.2 803.4L438.7 803.3L439.2 803.3L439.7 803.2L440.2 803.1L440.7 803.0L441.2 802.9L441.7 802.8L442.2 802.8L442.7 802.7L443.2 802.6L443.7 802.5L444.2 802.4L444.7 802.3L445.2 802.2L445.7 802.1L446.2 802.0L446.7 801.9L447.2 801.8L447.7 801.7L448.2 801.5L448.7 801.4L449.2 801.3L449.7 801.2L450.2 801.1L450.7 801.0L451.2 800.8L451.7 800.7L452.2 800.6L452.7 800.4L453.2 800.3L453.7 800.2L454.2 800.0L454.7 799.9L455.2 799.7L455.7 799.6L456.2 799.5L456.7 799.3L457.2 799.1L457.7 799.0L458.2 798.8L458.7 798.7L459.2 798.5L459.7 798.3L460.2 798.2L460.7 798.0L461.2 797.8L461.7 797.6L462.2 797.5L462.7 797.3L463.2 797.1L463.7 796.9L464.2 796.7L464.7 796.5L465.2 796.3L465.7 796.1L466.2 795.9L466.7 795.7L467.2 795.5L467.7 795.3L468.2 795.1L468.7 794.9L469.2 794.6L469.7 794.4L470.2 794.2L470.7 794.0L471.2 793.7L471.7 793.5L472.2 793.3L472.7 793.0L473.2 792.8L473.7 792.5L474.2 792.3L474.7 792.0L475.2 791.8L475.7 791.5L476.2 791.2L476.7 791.0L477.2 790.7L477.7 790.4L478.2 790.1L478.7 789.9L479.2 789.6L479.7 789.3L480.2 789.0L480.7 788.7L481.2 788.4L481.7 788.1L482.2 787.8L482.7 787.5L483.2 787.2L483.7 786.9L484.2 786.6L484.7 786.2L485.2 785.9L485.7 785.6L486.2 785.3L486.7 784.9L487.2 784.6L487.7 784.3L488.2 783.9L488.7 783.6L489.2 783.2L489.7 782.9L490.2 782.5L490.7 782.2L491.2 781.8L491.7 781.5L492.2 781.1L492.7 780.7L493.2 780.4L493.7 780.0L494.2 779.6L494.7 779.3L495.2 778.9L495.7 778.5L496.2 778.1L496.7 777.7L497.2 777.3L497.7 776.9L498.2 776.6L498.7 776.2L499.2 775.8L499.7 775.4L500.2 775.0L500.7 774.6L501.2 774.1L501.7 773.7L502.2 773.3L502.7 772.9L503.2 772.5L503.7 772.1L504.2 771.7L504.7 771.2L505.2 770.8L505.7 770.4L506.2 770.0L506.7 769.5L507.2 769.1L507.7 768.7L508.2 768.3L508.7 767.8L509.2 767.4L509.7 767.0L510.2 766.5L510.7 766.1L511.2 765.7L511.7 765.2L512.2 764.8L512.7 764.3L513.2 763.9L513.7 763.5L514.2 763.0L514.7 762.6L515.2 762.1L515.7 761.7L516.2 761.3L516.7 760.8L517.2 760.4L517.7 759.9L518.2 759.5L518.7 759.1L519.2 758.6L519.7 758.2L520.2 757.8L520.7 757.3L521.2 756.9L521.7 756.4L522.2 756.0L522.7 755.6L523.2 755.2L523.7 754.7L524.2 754.3L524.7 753.9L525.2 753.4L525.7 753.0L526.2 752.6L526.7 752.2L527.2 751.8L527.7 751.3L528.2 750.9L528.7 750.5L529.2 750.1L529.7 749.7L530.2 749.3L530.7 748.9L531.2 748.5L531.7 748.1L532.2 747.7L532.7 747.3L533.2 746.9L533.7 746.6L534.2 746.2L534.7 745.8L535.2 745.4L535.7 745.1L536.2 744.7L536.7 744.3L537.2 744.0L537.7 743.6L538.2 743.3L538.7 742.9L539.2 742.6L539.7 742.2L540.2 741.9L540.7 741.6L541.2 741.3L541.7 740.9L542.2 740.6L542.7 740.3L543.2 740.0L543.7 739.7L544.2 739.4L544.7 739.1L545.2 738.8L545.7 738.6L546.2 738.3L546.7 738.0L547.2 737.8L547.7 737.5L548.2 737.3L548.7 737.0L549.2 736.8L549.7 736.5L550.2 736.3L550.7 736.1L551.2 735.9L551.7 735.7L552.2 735.5L552.7 735.3L553.2 735.1L553.7 734.9L554.2 734.7L554.7 734.6L555.2 734.4L555.7 734.2L556.2 734.1L556.7 733.9L557.2 733.8L557.7 733.7L558.2 733.5L558.7 733.4L559.2 733.3L559.7 733.2L560.2 733.1L560.7 733.0L561.2 732.9L561.7 732.9L562.2 732.8L562.7 732.7L563.2 732.7L563.7 732.6L564.2 732.6L564.7 732.6L565.2 732.5L565.7 732.5L566.2 732.5L566.7 732.5L567.2 732.5L567.7 732.5L568.2 732.5L568.7 732.6L569.2 732.6L569.7 732.6L570.2 732.7L570.7 732.7L571.2 732.8L571.7 732.8L572.2 732.9L572.7 733.0L573.2 733.1L573.7 733.2L574.2 733.3L574.7 733.4L575.2 733.5L575.7 733.6L576.2 733.7L576.7 733.9L577.2 734.0L577.7 734.2L578.2 734.3L578.7 734.5L579.2 734.7L579.7 734.8L580.2 735.0L580.7 735.2L581.2 735.4L581.7 735.6L582.2 735.8L582.7 736.0L583.2 736.2L583.7 736.5L584.2 736.7L584.7 736.9L585.2 737.2L585.7 737.4L586.2 737.7L586.7 737.9L587.2 738.2L587.7 738.5L588.2 738.7L588.7 739.0L589.2 739.3L589.7 739.6L590.2 739.9L590.7 740.2L591.2 740.5L591.7 740.8L592.2 741.1L592.7 741.5L593.2 741.8L593.7 742.1L594.2 742.4L594.7 742.8L595.2 743.1L595.7 743.5L596.2 743.8L596.7 744.2L597.2 744.5L597.7 744.9L598.2 745.3L598.7 745.6L599.2 746.0L599.7 746.4L600.2 746.8L600.7 747.2L601.2 747.6L601.7 747.9L602.2 748.3L602.7 748.7L603.2 749.1L603.7 749.5L604.2 749.9L604.7 750.4L605.2 750.8L605.7 751.2L606.2 751.6L606.7 752.0L607.2 752.4L607.7 752.8L608.2 753.3L608.7 753.7L609.2 754.1L609.7 754.6L610.2 755.0L610.7 755.4L611.2 755.8L611.7 756.3L612.2 756.7L612.7 757.1L613.2 757.6L613.7 758.0L614.2 758.5L614.7 758.9L615.2 759.3L615.7 759.8L616.2 760.2L616.7 760.6L617.2 761.1L617.7 761.5L618.2 762.0L618.7 762.4L619.2 762.8L619.7 763.3L620.2 763.7L620.7 764.2L621.2 764.6L621.7 765.0L622.2 765.5L622.7 765.9L623.2 766.4L623.7 766.8L624.2 767.2L624.7 767.7L625.2 768.1L625.7 768.5L626.2 768.9L626.7 769.4L627.2 769.8L627.7 770.2L628.2 770.6L628.7 771.1L629.2 771.5L629.7 771.9L630.2 772.3L630.7 772.7L631.2 773.2L631.7 773.6L632.2 774.0L632.7 774.4L633.2 774.8L633.7 775.2L634.2 775.6L634.7 776.0L635.2 776.4L635.7 776.8L636.2 777.2L636.7 777.6L637.2 778.0L637.7 778.3L638.2 778.7L638.7 779.1L639.2 779.5L639.7 779.9L640.2 780.2L640.7 780.6L641.2 781.0L641.7 781.3L642.2 781.7L642.7 782.0L643.2 782.4L643.7 782.8L644.2 783.1L644.7 783.5L645.2 783.8L645.7 784.1L646.2 784.5L646.7 784.8L647.2 785.1L647.7 785.5L648.2 785.8L648.7 786.1L649.2 786.4L649.7 786.8" stroke="#f08a1e" stroke-width="1.90" fill="none" stroke-linejoin="round"/><path d="M432.2 806.5L432.7 806.5L433.2 806.5L433.7 806.5L434.2 806.5L434.7 806.5L435.2 806.5L435.7 806.5L436.2 806.5L436.7 806.5L437.2 806.5L437.7 806.5L438.2 806.5L438.7 806.5L439.2 806.5L439.7 806.5L440.2 806.5L440.7 806.5L441.2 806.5L441.7 806.5L442.2 806.5L442.7 806.5L443.2 806.5L443.7 806.5L444.2 806.5L444.7 806.5L445.2 806.5L445.7 806.5L446.2 806.5L446.7 806.5L447.2 806.5L447.7 806.5L448.2 806.5L448.7 806.5L449.2 806.5L449.7 806.5L450.2 806.5L450.7 806.5L451.2 806.5L451.7 806.5L452.2 806.5L452.7 806.5L453.2 806.5L453.7 806.5L454.2 806.5L454.7 806.5L455.2 806.5L455.7 806.5L456.2 806.5L456.7 806.5L457.2 806.5L457.7 806.5L458.2 806.5L458.7 806.5L459.2 806.5L459.7 806.5L460.2 806.5L460.7 806.5L461.2 806.5L461.7 806.5L462.2 806.5L462.7 806.5L463.2 806.5L463.7 806.5L464.2 806.5L464.7 806.5L465.2 806.5L465.7 806.5L466.2 806.5L466.7 806.5L467.2 806.5L467.7 806.5L468.2 806.5L468.7 806.5L469.2 806.5L469.7 806.5L470.2 806.5L470.7 806.5L471.2 806.5L471.7 806.5L472.2 806.5L472.7 806.5L473.2 806.5L473.7 806.5L474.2 806.5L474.7 806.5L475.2 806.5L475.7 806.5L476.2 806.5L476.7 806.5L477.2 806.5L477.7 806.5L478.2 806.5L478.7 806.5L479.2 806.5L479.7 806.5L480.2 806.5L480.7 806.5L481.2 806.5L481.7 806.5L482.2 806.5L482.7 806.5L483.2 806.5L483.7 806.5L484.2 806.5L484.7 806.5L485.2 806.5L485.7 806.5L486.2 806.5L486.7 806.5L487.2 806.5L487.7 806.5L488.2 806.5L488.7 806.5L489.2 806.5L489.7 806.5L490.2 806.5L490.7 806.5L491.2 806.5L491.7 806.5L492.2 806.5L492.7 806.5L493.2 806.5L493.7 806.5L494.2 806.5L494.7 806.5L495.2 806.5L495.7 806.5L496.2 806.5L496.7 806.5L497.2 806.5L497.7 806.5L498.2 806.5L498.7 806.5L499.2 806.5L499.7 806.5L500.2 806.5L500.7 806.5L501.2 806.5L501.7 806.5L502.2 806.5L502.7 806.5L503.2 806.5L503.7 806.5L504.2 806.5L504.7 806.5L505.2 806.5L505.7 806.5L506.2 806.5L506.7 806.5L507.2 806.5L507.7 806.5L508.2 806.5L508.7 806.5L509.2 806.5L509.7 806.5L510.2 806.5L510.7 806.5L511.2 806.5L511.7 806.5L512.2 806.5L512.7 806.5L513.2 806.5L513.7 806.5L514.2 806.5L514.7 806.5L515.2 806.5L515.7 806.5L516.2 806.5L516.7 806.5L517.2 806.5L517.7 806.5L518.2 806.5L518.7 806.5L519.2 806.5L519.7 806.5L520.2 806.5L520.7 806.5L521.2 806.5L521.7 806.5L522.2 806.5L522.7 806.5L523.2 806.5L523.7 806.5L524.2 806.5L524.7 806.5L525.2 806.5L525.7 806.5L526.2 806.5L526.7 806.5L527.2 806.5L527.7 806.5L528.2 806.5L528.7 806.5L529.2 806.5L529.7 806.5L530.2 806.5L530.7 806.5L531.2 806.5L531.7 806.5L532.2 806.5L532.7 806.5L533.2 806.5L533.7 806.5L534.2 806.5L534.7 806.5L535.2 806.5L535.7 806.5L536.2 806.5L536.7 806.5L537.2 806.5L537.7 806.5L538.2 806.5L538.7 806.5L539.2 806.5L539.7 806.5L540.2 806.5L540.7 806.5L541.2 806.5L541.7 806.5L542.2 806.5L542.7 806.5L543.2 806.5L543.7 806.5L544.2 806.5L544.7 806.5L545.2 806.5L545.7 806.5L546.2 806.5L546.7 806.5L547.2 806.5L547.7 806.5L548.2 806.5L548.7 806.5L549.2 806.5L549.7 806.5L550.2 806.5L550.7 806.5L551.2 806.5L551.7 806.5L552.2 806.5L552.7 806.5L553.2 806.5L553.7 806.5L554.2 806.5L554.7 806.5L555.2 806.5L555.7 806.5L556.2 806.5L556.7 806.5L557.2 806.5L557.7 806.5L558.2 806.5L558.7 806.5L559.2 806.5L559.7 806.5L560.2 806.5L560.7 806.5L561.2 806.5L561.7 806.5L562.2 806.5L562.7 806.5L563.2 806.5L563.7 806.5L564.2 806.5L564.7 806.5L565.2 806.5L565.7 806.5L566.2 806.5L566.7 806.5L567.2 806.5L567.7 806.5L568.2 806.5L568.7 806.5L569.2 806.5L569.7 806.5L570.2 806.5L570.7 806.5L571.2 806.5L571.7 806.5L572.2 806.5L572.7 806.5L573.2 806.5L573.7 806.5L574.2 806.5L574.7 806.5L575.2 806.5L575.7 806.5L576.2 806.5L576.7 806.5L577.2 806.5L577.7 806.5L578.2 806.5L578.7 806.5L579.2 806.5L579.7 806.5L580.2 806.5L580.7 806.5L581.2 806.5L581.7 806.5L582.2 806.5L582.7 806.5L583.2 806.5L583.7 806.5L584.2 806.5L584.7 806.5L585.2 806.5L585.7 806.5L586.2 806.5L586.7 806.5L587.2 806.5L587.7 806.5L588.2 806.5L588.7 806.5L589.2 806.5L589.7 806.5L590.2 806.5L590.7 806.5L591.2 806.5L591.7 806.5L592.2 806.5L592.7 806.5L593.2 806.5L593.7 806.5L594.2 806.5L594.7 806.5L595.2 806.5L595.7 806.5L596.2 806.5L596.7 806.5L597.2 806.5L597.7 806.5L598.2 806.5L598.7 806.5L599.2 806.5L599.7 806.5L600.2 806.5L600.7 806.5L601.2 806.5L601.7 806.5L602.2 806.4L602.7 806.4L603.2 806.4L603.7 806.4L604.2 806.4L604.7 806.4L605.2 806.3L605.7 806.3L606.2 806.3L606.7 806.2L607.2 806.2L607.7 806.1L608.2 806.1L608.7 806.0L609.2 805.9L609.7 805.8L610.2 805.7L610.7 805.6L611.2 805.5L611.7 805.3L612.2 805.1L612.7 804.9L613.2 804.7L613.7 804.5L614.2 804.2L614.7 803.9L615.2 803.6L615.7 803.2L616.2 802.8L616.7 802.4L617.2 801.9L617.7 801.4L618.2 800.8L618.7 800.2L619.2 799.6L619.7 798.9L620.2 798.1L620.7 797.3L621.2 796.5L621.7 795.6L622.2 794.6L622.7 793.6L623.2 792.6L623.7 791.5L624.2 790.4L624.7 789.2L625.2 788.0L625.7 786.8L626.2 785.5L626.7 784.2L627.2 782.9L627.7 781.6L628.2 780.3L628.7 779.0L629.2 777.6L629.7 776.3L630.2 775.1L630.7 773.8L631.2 772.6L631.7 771.5L632.2 770.4L632.7 769.3L633.2 768.3L633.7 767.5L634.2 766.6L634.7 765.9L635.2 765.3L635.7 764.8L636.2 764.3L636.7 764.0L637.2 763.8L637.7 763.7L638.2 763.7L638.7 763.8L639.2 764.1L639.7 764.4L640.2 764.9L640.7 765.4L641.2 766.1L641.7 766.8L642.2 767.6L642.7 768.5L643.2 769.5L643.7 770.6L644.2 771.7L644.7 772.9L645.2 774.1L645.7 775.3L646.2 776.6L646.7 777.9L647.2 779.2L647.7 780.5L648.2 781.9L648.7 783.2L649.2 784.5L649.7 785.8" stroke="#8a8a22" stroke-width="1.90" fill="none" stroke-linejoin="round"/><text x="491.10" y="742.00" font-size="12.50" font-weight="bold" text-anchor="middle" fill="#111" >a</text><text x="523.50" y="727.90" font-size="12.50" font-weight="bold" text-anchor="middle" fill="#111" >c</text><text x="498.40" y="792.40" font-size="12.50" font-weight="bold" text-anchor="middle" fill="#111" >b</text><text x="565.10" y="727.60" font-size="12.50" font-weight="bold" text-anchor="middle" fill="#111" >d</text><text x="551.50" y="625.90" font-size="10.90" font-weight="normal" text-anchor="start" fill="#151515" stroke="#151515" stroke-width="0.15">BB Region of 10% ZnO</text><text x="441.60" y="648.50" font-size="13.20" font-weight="bold" text-anchor="middle" fill="#111" >(f)</text><text x="0" y="0" transform="translate(376.40 718.50) rotate(-90)" font-size="13.90" font-weight="bold" text-anchor="middle" fill="#111">PL.Intensity(a.u)</text><text x="539.00" y="856.80" font-size="13.60" font-weight="bold" text-anchor="middle" fill="#111" >Wavelength(nm)</text></svg>
</body></html>
